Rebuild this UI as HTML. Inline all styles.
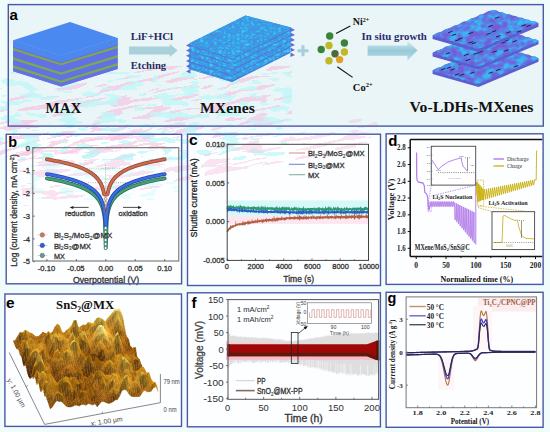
<!DOCTYPE html>
<html><head><meta charset="utf-8"><style>
html,body{margin:0;padding:0;background:#f0fbfb;width:550px;height:432px;overflow:hidden}
svg{display:block}
</style></head><body>
<svg width="550" height="432" viewBox="0 0 550 432">
<rect x="0" y="0" width="550" height="432" fill="#f0fbfb"/>
<rect x="8.3" y="4.6" width="535" height="121.5" fill="#e9f5f7"/>
<rect x="6.2" y="134.3" width="175.4" height="149.5" fill="#fdfeff"/>
<rect x="187.5" y="134.2" width="193" height="151.3" fill="#fdfeff"/>
<rect x="386.1" y="133.8" width="157" height="150.6" fill="#fdfeff"/>
<rect x="4.9" y="294" width="176.6" height="132.4" fill="#fdfeff"/>
<rect x="187.4" y="292.8" width="193" height="134" fill="#fdfeff"/>
<rect x="386.1" y="292.3" width="157" height="135" fill="#fdfeff"/>
<defs><filter id="wmP" x="0" y="0" width="1" height="1" color-interpolation-filters="sRGB"><feTurbulence type="fractalNoise" baseFrequency="0.03 0.22" numOctaves="2" seed="21" result="n"/><feColorMatrix in="n" type="matrix" values="0 0 0 0 0.97  0 0 0 0 0.76  0 0 0 0 0.88  1 0 0 0 0" result="c"/><feComponentTransfer in="c"><feFuncA type="discrete" tableValues="0 0 0 0 0.85 0.9 0.95"/></feComponentTransfer></filter><filter id="wmC" x="0" y="0" width="1" height="1" color-interpolation-filters="sRGB"><feTurbulence type="fractalNoise" baseFrequency="0.05 0.16" numOctaves="2" seed="4" result="n"/><feColorMatrix in="n" type="matrix" values="0 0 0 0 0.74  0 0 0 0 0.97  0 0 0 0 0.97  1 0 0 0 0" result="c"/><feComponentTransfer in="c"><feFuncA type="discrete" tableValues="0 0 0 0 0.8 0.85 0.9"/></feComponentTransfer></filter></defs>
<clipPath id="wmclip"><rect x="0" y="66" width="292" height="100"/></clipPath>
<g clip-path="url(#wmclip)"><g transform="rotate(-12 150 100)"><rect x="-20" y="70" width="340" height="80" fill="#fff" filter="url(#wmP)" opacity="0.75"/></g></g>
<rect x="0" y="72" width="292" height="88" fill="#fff" filter="url(#wmC)" opacity="0.9"/>
<text x="9.4" y="20" font-family='"Liberation Sans", sans-serif' font-size="15" font-weight="bold" fill="#000" text-anchor="start" >a</text>
<polygon points="13.2,40.3 70,22 117.6,38.1 61,55.5" fill="#4a8af0"/>
<polygon points="13.2,40.3 61,55.5 61,86.5 13.2,71.3" fill="#5a78ea"/>
<polygon points="61,55.5 117.6,38.1 117.6,69.1 61,86.5" fill="#5a78ea"/>
<polygon points="13.2,40.3 61,55.5 61,62.3 13.2,47.1" fill="#4c88ee"/>
<polygon points="61,55.5 117.6,38.1 117.6,44.9 61,62.3" fill="#4c88ee"/>
<polygon points="13.2,47.1 61,62.3 61,63.2 13.2,48" fill="#7a66dc"/>
<polygon points="61,62.3 117.6,44.9 117.6,45.8 61,63.2" fill="#7a66dc"/>
<polygon points="13.2,48 61,63.2 61,65.6 13.2,50.4" fill="#7aaa50"/>
<polygon points="61,63.2 117.6,45.8 117.6,48.2 61,65.6" fill="#7aaa50"/>
<polygon points="13.2,50.4 61,65.6 61,72.5 13.2,57.3" fill="#6272e6"/>
<polygon points="61,65.6 117.6,48.2 117.6,55.1 61,72.5" fill="#6272e6"/>
<polygon points="13.2,57.3 61,72.5 61,75.1 13.2,59.9" fill="#7aaa50"/>
<polygon points="61,72.5 117.6,55.1 117.6,57.7 61,75.1" fill="#7aaa50"/>
<polygon points="13.2,59.9 61,75.1 61,80.5 13.2,65.3" fill="#6470e6"/>
<polygon points="61,75.1 117.6,57.7 117.6,63.1 61,80.5" fill="#6470e6"/>
<polygon points="13.2,65.3 61,80.5 61,83.1 13.2,67.9" fill="#7aaa50"/>
<polygon points="61,80.5 117.6,63.1 117.6,65.7 61,83.1" fill="#7aaa50"/>
<polygon points="13.2,67.9 61,83.1 61,86.5 13.2,71.3" fill="#6670e4"/>
<polygon points="61,83.1 117.6,65.7 117.6,69.1 61,86.5" fill="#6670e4"/>
<text x="45.5" y="112.5" font-family='"Liberation Serif", serif' font-size="15" font-weight="bold" fill="#111" text-anchor="start"  textLength="35.9" lengthAdjust="spacingAndGlyphs">MAX</text>
<text x="130.8" y="39.8" font-family='"Liberation Serif", serif' font-size="11" font-weight="bold" fill="#2a2a62" text-anchor="start"  textLength="42.3" lengthAdjust="spacingAndGlyphs">LiF+HCl</text>
<polygon points="129,46.4 169.8,46.4 169.8,44.1 177.7,50.5 169.8,56.9 169.8,54.5 129,54.5" fill="#a9d1d9"/>
<text x="130.8" y="68.8" font-family='"Liberation Serif", serif' font-size="10.8" font-weight="bold" fill="#2a2a62" text-anchor="start"  textLength="35.3" lengthAdjust="spacingAndGlyphs">Etching</text>
<defs><filter id="mxt" x="0" y="0" width="1" height="1" color-interpolation-filters="sRGB"><feTurbulence type="turbulence" baseFrequency="0.22 0.3" numOctaves="2" seed="3" result="n"/><feColorMatrix in="n" type="matrix" values="1.6 0 0 0 0  1.6 0 0 0 0  1.6 0 0 0 0  0 0 0 0 1" result="g"/><feComponentTransfer in="g" result="c"><feFuncR type="table" tableValues="0.34 0.24 0.2 0.22 0.28"/><feFuncG type="table" tableValues="0.5 0.6 0.66 0.72 0.78"/><feFuncB type="table" tableValues="0.88 0.9 0.91 0.93 0.95"/></feComponentTransfer><feComposite in="c" in2="SourceGraphic" operator="in"/></filter><clipPath id="mxc"><polygon points="190,43 245.5,15.5 291,27.5 290,53 232,82 188.7,69"/></clipPath></defs>
<polygon points="190,43 245.5,15.5 291,27.5 290,53 232,82 188.7,69" fill="#3b8fe0"/>
<g clip-path="url(#mxc)"><rect x="185" y="12" width="110" height="72" fill="#fff" filter="url(#mxt)"/></g>
<polyline points="189.5,45.5 232,59 290.5,30" fill="none" stroke="#5a64d0" stroke-width="1" opacity="0.7"/>
<polyline points="189.5,51 232,64.5 290.5,35.5" fill="none" stroke="#5a64d0" stroke-width="1" opacity="0.7"/>
<polyline points="189.5,56.5 232,70 290.5,41" fill="none" stroke="#5a64d0" stroke-width="1" opacity="0.7"/>
<polyline points="189.5,62 232,75.5 290.5,46.5" fill="none" stroke="#5a64d0" stroke-width="1" opacity="0.7"/>
<polyline points="189.5,67.5 232,81 290.5,52" fill="none" stroke="#5a64d0" stroke-width="1" opacity="0.7"/>
<polygon points="190.5,43 186,45.4 190.5,47.6" fill="#5a70d8"/><polygon points="290.5,27.5 295,29.9 290.5,32.1" fill="#5a70d8"/><polygon points="190.5,48.2 186,50.6 190.5,52.8" fill="#5a70d8"/><polygon points="290.5,32.5 295,34.9 290.5,37.1" fill="#5a70d8"/><polygon points="190.5,53.4 186,55.8 190.5,58" fill="#5a70d8"/><polygon points="290.5,37.5 295,39.9 290.5,42.1" fill="#5a70d8"/><polygon points="190.5,58.6 186,61 190.5,63.2" fill="#5a70d8"/><polygon points="290.5,42.5 295,44.9 290.5,47.1" fill="#5a70d8"/><polygon points="190.5,63.8 186,66.2 190.5,68.4" fill="#5a70d8"/><polygon points="290.5,47.5 295,49.9 290.5,52.1" fill="#5a70d8"/><polygon points="190.5,69 186,71.4 190.5,73.6" fill="#5a70d8"/><polygon points="290.5,52.5 295,54.9 290.5,57.1" fill="#5a70d8"/>
<text x="200.1" y="113.3" font-family='"Liberation Serif", serif' font-size="15.6" font-weight="bold" fill="#111" text-anchor="start"  textLength="54.7" lengthAdjust="spacingAndGlyphs">MXenes</text>
<rect x="297.5" y="49.3" width="11" height="3" fill="#a6cedc"/><rect x="301.5" y="45.2" width="3" height="11" fill="#a6cedc"/>
<circle cx="329.7" cy="36" r="3.7" fill="#3a843a"/>
<circle cx="329" cy="45.5" r="3.7" fill="#c0b828"/>
<circle cx="344.4" cy="43" r="3.7" fill="#3a843a"/>
<circle cx="321.2" cy="49.5" r="3.7" fill="#3a843a"/>
<circle cx="335" cy="53.7" r="3.7" fill="#4a6a38"/>
<circle cx="344.4" cy="52" r="3.7" fill="#c0b828"/>
<circle cx="329" cy="60.8" r="3.7" fill="#c0b828"/>
<circle cx="339.6" cy="59.6" r="3.7" fill="#e0a028"/>
<line x1="336" y1="33.6" x2="350.3" y2="26" stroke="#111" stroke-width="1.1"/>
<line x1="337.3" y1="66.7" x2="352.6" y2="77.4" stroke="#111" stroke-width="1.1"/>
<text x="352.8" y="25.2" font-family='"Liberation Serif", serif' font-size="10" font-weight="bold" fill="#111" text-anchor="start" >Ni<tspan font-size="6" dy="-3.5">2+</tspan></text>
<text x="352.8" y="91" font-family='"Liberation Serif", serif' font-size="10.5" font-weight="bold" fill="#111" text-anchor="start" >Co<tspan font-size="6.5" dy="-4">2+</tspan></text>
<text x="361.5" y="40" font-family='"Liberation Serif", serif' font-size="10.8" font-weight="bold" fill="#2c2c70" text-anchor="start"  textLength="65.4" lengthAdjust="spacingAndGlyphs">In situ growth</text>
<defs><linearGradient id="ag" x1="0" y1="0" x2="0" y2="1"><stop offset="0" stop-color="#d4ecf0"/><stop offset="0.5" stop-color="#96cad8"/><stop offset="1" stop-color="#b8dce4"/></linearGradient></defs>
<polygon points="367.6,45.5 407.4,45.5 407.4,41 417.6,50.2 407.4,60.4 407.4,55.7 367.6,55.7" fill="url(#ag)"/>
<defs><filter id="ldt" x="0" y="0" width="1" height="1" color-interpolation-filters="sRGB"><feTurbulence type="fractalNoise" baseFrequency="0.12 0.16" numOctaves="2" seed="9" result="n"/><feColorMatrix in="n" type="matrix" values="2.4 0 0 0 -0.7  2.4 0 0 0 -0.7  2.4 0 0 0 -0.7  0 0 0 0 1" result="g"/><feComponentTransfer in="g" result="c"><feFuncR type="table" tableValues="0.46 0.42 0.36 0.28 0.24"/><feFuncG type="table" tableValues="0.36 0.42 0.5 0.62 0.72"/><feFuncB type="table" tableValues="0.84 0.87 0.9 0.93 0.95"/></feComponentTransfer><feComposite in="c" in2="SourceGraphic" operator="in"/></filter></defs>
<polygon points="432.6,70.5 492.6,45.2 538.5,58.3 538.5,61.7 478.5,87 432.6,73.9" fill="#5a5ed0"/>
<clipPath id="ldc0"><polygon points="432.6,70.5 436.89,67.89 441.17,66.89 445.46,64.28 449.74,63.27 454.03,60.66 458.31,59.66 462.6,57.05 466.89,56.04 471.17,53.44 475.46,52.43 479.74,49.82 484.03,48.81 488.31,46.21 492.6,45.2 495.88,45.34 499.16,47.07 502.44,47.21 505.71,48.94 508.99,49.08 512.27,50.81 515.55,50.95 518.83,52.69 522.11,52.82 525.39,54.56 528.66,54.69 531.94,56.43 535.22,56.56 538.5,58.3 534.21,60.91 529.93,61.91 525.64,64.52 521.36,65.53 517.07,68.14 512.79,69.14 508.5,71.75 504.21,72.76 499.93,75.36 495.64,76.37 491.36,78.98 487.07,79.99 482.79,82.59 478.5,83.6 475.22,83.46 471.94,81.73 468.66,81.59 465.39,79.86 462.11,79.72 458.83,77.99 455.55,77.85 452.27,76.11 448.99,75.98 445.71,74.24 442.44,74.11 439.16,72.37 435.88,72.24"/></clipPath>
<polygon points="432.6,70.5 436.89,67.89 441.17,66.89 445.46,64.28 449.74,63.27 454.03,60.66 458.31,59.66 462.6,57.05 466.89,56.04 471.17,53.44 475.46,52.43 479.74,49.82 484.03,48.81 488.31,46.21 492.6,45.2 495.88,45.34 499.16,47.07 502.44,47.21 505.71,48.94 508.99,49.08 512.27,50.81 515.55,50.95 518.83,52.69 522.11,52.82 525.39,54.56 528.66,54.69 531.94,56.43 535.22,56.56 538.5,58.3 534.21,60.91 529.93,61.91 525.64,64.52 521.36,65.53 517.07,68.14 512.79,69.14 508.5,71.75 504.21,72.76 499.93,75.36 495.64,76.37 491.36,78.98 487.07,79.99 482.79,82.59 478.5,83.6 475.22,83.46 471.94,81.73 468.66,81.59 465.39,79.86 462.11,79.72 458.83,77.99 455.55,77.85 452.27,76.11 448.99,75.98 445.71,74.24 442.44,74.11 439.16,72.37 435.88,72.24" fill="#5a7ae0"/>
<g clip-path="url(#ldc0)"><rect x="430" y="43" width="112" height="44" fill="#fff" filter="url(#ldt)"/></g>
<line x1="458.95" y1="64.28" x2="463.45" y2="62.78" stroke="#1a2050" stroke-width="1"/>
<line x1="474.98" y1="54.98" x2="479.48" y2="53.48" stroke="#1a2050" stroke-width="1"/>
<line x1="481.54" y1="61.73" x2="486.04" y2="60.23" stroke="#1a2050" stroke-width="1"/>
<line x1="459.37" y1="75.68" x2="463.87" y2="74.18" stroke="#1a2050" stroke-width="1"/>
<line x1="454.75" y1="75.23" x2="459.25" y2="73.73" stroke="#1a2050" stroke-width="1"/>
<line x1="440.96" y1="69.92" x2="445.46" y2="68.42" stroke="#1a2050" stroke-width="1"/>
<line x1="496.02" y1="70.59" x2="500.52" y2="69.09" stroke="#1a2050" stroke-width="1"/>
<line x1="450.27" y1="70.29" x2="454.77" y2="68.79" stroke="#1a2050" stroke-width="1"/>
<line x1="513.75" y1="67.04" x2="518.25" y2="65.54" stroke="#1a2050" stroke-width="1"/>
<line x1="485.43" y1="61.1" x2="489.93" y2="59.6" stroke="#1a2050" stroke-width="1"/>
<line x1="493.31" y1="46.41" x2="497.81" y2="44.91" stroke="#1a2050" stroke-width="1"/>
<line x1="497.4" y1="52.57" x2="501.9" y2="51.07" stroke="#1a2050" stroke-width="1"/>
<line x1="446.66" y1="68.39" x2="451.16" y2="66.89" stroke="#1a2050" stroke-width="1"/>
<line x1="488.57" y1="73.39" x2="493.07" y2="71.89" stroke="#1a2050" stroke-width="1"/>
<line x1="470.14" y1="73.55" x2="474.64" y2="72.05" stroke="#1a2050" stroke-width="1"/>
<line x1="488.03" y1="59.21" x2="492.53" y2="57.71" stroke="#1a2050" stroke-width="1"/>
<polygon points="432.6,53 492.6,27.7 538.5,40.8 538.5,44.2 478.5,69.5 432.6,56.4" fill="#5a5ed0"/>
<clipPath id="ldc1"><polygon points="432.6,53 436.89,50.39 441.17,49.39 445.46,46.78 449.74,45.77 454.03,43.16 458.31,42.16 462.6,39.55 466.89,38.54 471.17,35.94 475.46,34.93 479.74,32.32 484.03,31.31 488.31,28.71 492.6,27.7 495.88,27.84 499.16,29.57 502.44,29.71 505.71,31.44 508.99,31.58 512.27,33.31 515.55,33.45 518.83,35.19 522.11,35.32 525.39,37.06 528.66,37.19 531.94,38.93 535.22,39.06 538.5,40.8 534.21,43.41 529.93,44.41 525.64,47.02 521.36,48.03 517.07,50.64 512.79,51.64 508.5,54.25 504.21,55.26 499.93,57.86 495.64,58.87 491.36,61.48 487.07,62.49 482.79,65.09 478.5,66.1 475.22,65.96 471.94,64.23 468.66,64.09 465.39,62.36 462.11,62.22 458.83,60.49 455.55,60.35 452.27,58.61 448.99,58.48 445.71,56.74 442.44,56.61 439.16,54.87 435.88,54.74"/></clipPath>
<polygon points="432.6,53 436.89,50.39 441.17,49.39 445.46,46.78 449.74,45.77 454.03,43.16 458.31,42.16 462.6,39.55 466.89,38.54 471.17,35.94 475.46,34.93 479.74,32.32 484.03,31.31 488.31,28.71 492.6,27.7 495.88,27.84 499.16,29.57 502.44,29.71 505.71,31.44 508.99,31.58 512.27,33.31 515.55,33.45 518.83,35.19 522.11,35.32 525.39,37.06 528.66,37.19 531.94,38.93 535.22,39.06 538.5,40.8 534.21,43.41 529.93,44.41 525.64,47.02 521.36,48.03 517.07,50.64 512.79,51.64 508.5,54.25 504.21,55.26 499.93,57.86 495.64,58.87 491.36,61.48 487.07,62.49 482.79,65.09 478.5,66.1 475.22,65.96 471.94,64.23 468.66,64.09 465.39,62.36 462.11,62.22 458.83,60.49 455.55,60.35 452.27,58.61 448.99,58.48 445.71,56.74 442.44,56.61 439.16,54.87 435.88,54.74" fill="#5a7ae0"/>
<g clip-path="url(#ldc1)"><rect x="430" y="25.5" width="112" height="44" fill="#fff" filter="url(#ldt)"/></g>
<line x1="468.35" y1="39.96" x2="472.85" y2="38.46" stroke="#1a2050" stroke-width="1"/>
<line x1="445.63" y1="54.19" x2="450.13" y2="52.69" stroke="#1a2050" stroke-width="1"/>
<line x1="493.05" y1="41.39" x2="497.55" y2="39.89" stroke="#1a2050" stroke-width="1"/>
<line x1="478.33" y1="52.72" x2="482.83" y2="51.22" stroke="#1a2050" stroke-width="1"/>
<line x1="473.55" y1="45.46" x2="478.05" y2="43.96" stroke="#1a2050" stroke-width="1"/>
<line x1="512.35" y1="42.06" x2="516.85" y2="40.56" stroke="#1a2050" stroke-width="1"/>
<line x1="473.61" y1="54.35" x2="478.11" y2="52.85" stroke="#1a2050" stroke-width="1"/>
<line x1="504.28" y1="51.18" x2="508.78" y2="49.68" stroke="#1a2050" stroke-width="1"/>
<line x1="489.58" y1="38.32" x2="494.08" y2="36.82" stroke="#1a2050" stroke-width="1"/>
<line x1="496.83" y1="29.75" x2="501.33" y2="28.25" stroke="#1a2050" stroke-width="1"/>
<line x1="492.44" y1="52.34" x2="496.94" y2="50.84" stroke="#1a2050" stroke-width="1"/>
<line x1="464.16" y1="55.56" x2="468.66" y2="54.06" stroke="#1a2050" stroke-width="1"/>
<line x1="465.62" y1="60.76" x2="470.12" y2="59.26" stroke="#1a2050" stroke-width="1"/>
<line x1="504.78" y1="41.16" x2="509.28" y2="39.66" stroke="#1a2050" stroke-width="1"/>
<line x1="499.53" y1="34.96" x2="504.03" y2="33.46" stroke="#1a2050" stroke-width="1"/>
<line x1="501.6" y1="43.2" x2="506.1" y2="41.7" stroke="#1a2050" stroke-width="1"/>
<polygon points="432.6,35.5 492.6,10.2 538.5,23.3 538.5,26.7 478.5,52 432.6,38.9" fill="#5a5ed0"/>
<clipPath id="ldc2"><polygon points="432.6,35.5 436.89,32.89 441.17,31.89 445.46,29.28 449.74,28.27 454.03,25.66 458.31,24.66 462.6,22.05 466.89,21.04 471.17,18.44 475.46,17.43 479.74,14.82 484.03,13.81 488.31,11.21 492.6,10.2 495.88,10.34 499.16,12.07 502.44,12.21 505.71,13.94 508.99,14.08 512.27,15.81 515.55,15.95 518.83,17.69 522.11,17.82 525.39,19.56 528.66,19.69 531.94,21.43 535.22,21.56 538.5,23.3 534.21,25.91 529.93,26.91 525.64,29.52 521.36,30.53 517.07,33.14 512.79,34.14 508.5,36.75 504.21,37.76 499.93,40.36 495.64,41.37 491.36,43.98 487.07,44.99 482.79,47.59 478.5,48.6 475.22,48.46 471.94,46.73 468.66,46.59 465.39,44.86 462.11,44.72 458.83,42.99 455.55,42.85 452.27,41.11 448.99,40.98 445.71,39.24 442.44,39.11 439.16,37.37 435.88,37.24"/></clipPath>
<polygon points="432.6,35.5 436.89,32.89 441.17,31.89 445.46,29.28 449.74,28.27 454.03,25.66 458.31,24.66 462.6,22.05 466.89,21.04 471.17,18.44 475.46,17.43 479.74,14.82 484.03,13.81 488.31,11.21 492.6,10.2 495.88,10.34 499.16,12.07 502.44,12.21 505.71,13.94 508.99,14.08 512.27,15.81 515.55,15.95 518.83,17.69 522.11,17.82 525.39,19.56 528.66,19.69 531.94,21.43 535.22,21.56 538.5,23.3 534.21,25.91 529.93,26.91 525.64,29.52 521.36,30.53 517.07,33.14 512.79,34.14 508.5,36.75 504.21,37.76 499.93,40.36 495.64,41.37 491.36,43.98 487.07,44.99 482.79,47.59 478.5,48.6 475.22,48.46 471.94,46.73 468.66,46.59 465.39,44.86 462.11,44.72 458.83,42.99 455.55,42.85 452.27,41.11 448.99,40.98 445.71,39.24 442.44,39.11 439.16,37.37 435.88,37.24" fill="#5a7ae0"/>
<g clip-path="url(#ldc2)"><rect x="430" y="8" width="112" height="44" fill="#fff" filter="url(#ldt)"/></g>
<line x1="488.33" y1="26.8" x2="492.83" y2="25.3" stroke="#1a2050" stroke-width="1"/>
<line x1="526.36" y1="26.62" x2="530.86" y2="25.12" stroke="#1a2050" stroke-width="1"/>
<line x1="491.53" y1="32.21" x2="496.03" y2="30.71" stroke="#1a2050" stroke-width="1"/>
<line x1="468.44" y1="43.15" x2="472.94" y2="41.65" stroke="#1a2050" stroke-width="1"/>
<line x1="517.01" y1="32.14" x2="521.51" y2="30.64" stroke="#1a2050" stroke-width="1"/>
<line x1="494.98" y1="18.43" x2="499.48" y2="16.93" stroke="#1a2050" stroke-width="1"/>
<line x1="486.44" y1="34.5" x2="490.94" y2="33" stroke="#1a2050" stroke-width="1"/>
<line x1="455.15" y1="40.98" x2="459.65" y2="39.48" stroke="#1a2050" stroke-width="1"/>
<line x1="448.06" y1="32.78" x2="452.56" y2="31.28" stroke="#1a2050" stroke-width="1"/>
<line x1="471.4" y1="44.07" x2="475.9" y2="42.57" stroke="#1a2050" stroke-width="1"/>
<line x1="451.73" y1="35.47" x2="456.23" y2="33.97" stroke="#1a2050" stroke-width="1"/>
<line x1="496.06" y1="37.02" x2="500.56" y2="35.52" stroke="#1a2050" stroke-width="1"/>
<line x1="458.05" y1="39.35" x2="462.55" y2="37.85" stroke="#1a2050" stroke-width="1"/>
<line x1="506.11" y1="33.17" x2="510.61" y2="31.67" stroke="#1a2050" stroke-width="1"/>
<line x1="521.41" y1="26.09" x2="525.91" y2="24.59" stroke="#1a2050" stroke-width="1"/>
<line x1="468.37" y1="33.9" x2="472.87" y2="32.4" stroke="#1a2050" stroke-width="1"/>
<text x="409.6" y="111.5" font-family='"Liberation Serif", serif' font-size="15.6" font-weight="bold" fill="#111" text-anchor="start"  textLength="123.9" lengthAdjust="spacingAndGlyphs">Vo-LDHs-MXenes</text>
<text x="8.2" y="147.1" font-family='"Liberation Sans", sans-serif' font-size="14.5" font-weight="bold" fill="#000" text-anchor="start" >b</text>
<g transform="rotate(-8 100 170)"><rect x="20" y="135" width="170" height="60" fill="#fff" filter="url(#wmP)" opacity="0.55"/></g><rect x="30" y="150" width="150" height="50" fill="#fff" filter="url(#wmC)" opacity="0.45"/>
<line x1="86.7" y1="168.2" x2="135" y2="168.2" stroke="#40a060" stroke-width="0.6" stroke-dasharray="0.9,1.4"/>
<line x1="88.2" y1="182.7" x2="130" y2="182.7" stroke="#d05040" stroke-width="0.6" stroke-dasharray="0.9,1.4"/>
<line x1="105.6" y1="165" x2="105.6" y2="250" stroke="#40a060" stroke-width="0.6" stroke-dasharray="0.9,1.4"/>
<path d="M46.9 178.39 L48.08 178.59 L49.26 178.8 L50.43 179.01 L51.61 179.23 L52.79 179.46 L53.97 179.69 L55.15 179.92 L56.32 180.16 L57.5 180.4 L58.68 180.66 L59.86 180.91 L61.04 181.18 L62.21 181.45 L63.39 181.73 L64.57 182.01 L65.75 182.31 L66.93 182.61 L68.1 182.93 L69.28 183.25 L70.46 183.58 L71.64 183.93 L72.82 184.29 L73.99 184.66 L75.17 185.04 L76.35 185.44 L77.53 185.85 L78.71 186.29 L79.88 186.74 L81.06 187.21 L82.24 187.71 L83.42 188.23 L84.6 188.78 L85.77 189.36 L86.95 189.98 L88.13 190.64 L89.31 191.34 L90.49 192.09 L91.66 192.91 L92.84 193.79 L94.02 194.76 L95.2 195.84 L96.38 197.03 L97.55 198.39 L98.73 199.96 L99.91 201.82 L101.09 204.09 L102.27 207.02 L103.44 211.14 L104.03 214.07 L104.62 218.2 L104.92 221.12 L105.8 248 L106.68 221.12 L106.98 218.2 L107.57 214.07 L108.16 211.14 L109.33 207.02 L110.51 204.09 L111.69 201.82 L112.87 199.96 L114.05 198.39 L115.22 197.03 L116.4 195.84 L117.58 194.76 L118.76 193.79 L119.94 192.91 L121.11 192.09 L122.29 191.34 L123.47 190.64 L124.65 189.98 L125.83 189.36 L127 188.78 L128.18 188.23 L129.36 187.71 L130.54 187.21 L131.72 186.74 L132.89 186.29 L134.07 185.85 L135.25 185.44 L136.43 185.04 L137.61 184.66 L138.78 184.29 L139.96 183.93 L141.14 183.58 L142.32 183.25 L143.5 182.93 L144.67 182.61 L145.85 182.31 L147.03 182.01 L148.21 181.73 L149.39 181.45 L150.56 181.18 L151.74 180.91 L152.92 180.66 L154.1 180.4 L155.28 180.16 L156.45 179.92 L157.63 179.69 L158.81 179.46 L159.99 179.23 L161.17 179.01 L162.34 178.8 L163.52 178.59 L164.7 178.39" fill="none" stroke="#2a6e52" stroke-width="3.8" stroke-linejoin="round" stroke-linecap="round"/>
<path d="M46.9 178.39 L48.08 178.59 L49.26 178.8 L50.43 179.01 L51.61 179.23 L52.79 179.46 L53.97 179.69 L55.15 179.92 L56.32 180.16 L57.5 180.4 L58.68 180.66 L59.86 180.91 L61.04 181.18 L62.21 181.45 L63.39 181.73 L64.57 182.01 L65.75 182.31 L66.93 182.61 L68.1 182.93 L69.28 183.25 L70.46 183.58 L71.64 183.93 L72.82 184.29 L73.99 184.66 L75.17 185.04 L76.35 185.44 L77.53 185.85 L78.71 186.29 L79.88 186.74 L81.06 187.21 L82.24 187.71 L83.42 188.23 L84.6 188.78 L85.77 189.36 L86.95 189.98 L88.13 190.64 L89.31 191.34 L90.49 192.09 L91.66 192.91 L92.84 193.79 L94.02 194.76 L95.2 195.84 L96.38 197.03 L97.55 198.39 L98.73 199.96 L99.91 201.82 L101.09 204.09 L102.27 207.02 L103.44 211.14 L104.03 214.07 L104.62 218.2 L104.92 221.12 L105.8 248 L106.68 221.12 L106.98 218.2 L107.57 214.07 L108.16 211.14 L109.33 207.02 L110.51 204.09 L111.69 201.82 L112.87 199.96 L114.05 198.39 L115.22 197.03 L116.4 195.84 L117.58 194.76 L118.76 193.79 L119.94 192.91 L121.11 192.09 L122.29 191.34 L123.47 190.64 L124.65 189.98 L125.83 189.36 L127 188.78 L128.18 188.23 L129.36 187.71 L130.54 187.21 L131.72 186.74 L132.89 186.29 L134.07 185.85 L135.25 185.44 L136.43 185.04 L137.61 184.66 L138.78 184.29 L139.96 183.93 L141.14 183.58 L142.32 183.25 L143.5 182.93 L144.67 182.61 L145.85 182.31 L147.03 182.01 L148.21 181.73 L149.39 181.45 L150.56 181.18 L151.74 180.91 L152.92 180.66 L154.1 180.4 L155.28 180.16 L156.45 179.92 L157.63 179.69 L158.81 179.46 L159.99 179.23 L161.17 179.01 L162.34 178.8 L163.52 178.59 L164.7 178.39" fill="none" stroke="#46a07a" stroke-width="2.2" stroke-linejoin="round" stroke-linecap="round"/>
<path d="M46.9 174.06 L48.08 174.27 L49.26 174.48 L50.43 174.69 L51.61 174.91 L52.79 175.13 L53.97 175.36 L55.15 175.6 L56.32 175.84 L57.5 176.08 L58.68 176.33 L59.86 176.59 L61.04 176.86 L62.21 177.13 L63.39 177.41 L64.57 177.69 L65.75 177.99 L66.93 178.29 L68.1 178.6 L69.28 178.93 L70.46 179.26 L71.64 179.61 L72.82 179.96 L73.99 180.33 L75.17 180.72 L76.35 181.12 L77.53 181.53 L78.71 181.96 L79.88 182.42 L81.06 182.89 L82.24 183.39 L83.42 183.91 L84.6 184.46 L85.77 185.04 L86.95 185.66 L88.13 186.31 L89.31 187.02 L90.49 187.77 L91.66 188.59 L92.84 189.47 L94.02 190.44 L95.2 191.51 L96.38 192.71 L97.55 194.07 L98.73 195.64 L99.91 197.5 L101.09 199.77 L102.27 202.69 L103.44 206.82 L104.03 209.75 L104.62 213.87 L104.92 216.8 L105.8 226.39 L106.68 216.8 L106.98 213.87 L107.57 209.75 L108.16 206.82 L109.33 202.69 L110.51 199.77 L111.69 197.5 L112.87 195.64 L114.05 194.07 L115.22 192.71 L116.4 191.51 L117.58 190.44 L118.76 189.47 L119.94 188.59 L121.11 187.77 L122.29 187.02 L123.47 186.31 L124.65 185.66 L125.83 185.04 L127 184.46 L128.18 183.91 L129.36 183.39 L130.54 182.89 L131.72 182.42 L132.89 181.96 L134.07 181.53 L135.25 181.12 L136.43 180.72 L137.61 180.33 L138.78 179.96 L139.96 179.61 L141.14 179.26 L142.32 178.93 L143.5 178.6 L144.67 178.29 L145.85 177.99 L147.03 177.69 L148.21 177.41 L149.39 177.13 L150.56 176.86 L151.74 176.59 L152.92 176.33 L154.1 176.08 L155.28 175.84 L156.45 175.6 L157.63 175.36 L158.81 175.13 L159.99 174.91 L161.17 174.69 L162.34 174.48 L163.52 174.27 L164.7 174.06" fill="none" stroke="#2446a8" stroke-width="3.8" stroke-linejoin="round" stroke-linecap="round"/>
<path d="M46.9 174.06 L48.08 174.27 L49.26 174.48 L50.43 174.69 L51.61 174.91 L52.79 175.13 L53.97 175.36 L55.15 175.6 L56.32 175.84 L57.5 176.08 L58.68 176.33 L59.86 176.59 L61.04 176.86 L62.21 177.13 L63.39 177.41 L64.57 177.69 L65.75 177.99 L66.93 178.29 L68.1 178.6 L69.28 178.93 L70.46 179.26 L71.64 179.61 L72.82 179.96 L73.99 180.33 L75.17 180.72 L76.35 181.12 L77.53 181.53 L78.71 181.96 L79.88 182.42 L81.06 182.89 L82.24 183.39 L83.42 183.91 L84.6 184.46 L85.77 185.04 L86.95 185.66 L88.13 186.31 L89.31 187.02 L90.49 187.77 L91.66 188.59 L92.84 189.47 L94.02 190.44 L95.2 191.51 L96.38 192.71 L97.55 194.07 L98.73 195.64 L99.91 197.5 L101.09 199.77 L102.27 202.69 L103.44 206.82 L104.03 209.75 L104.62 213.87 L104.92 216.8 L105.8 226.39 L106.68 216.8 L106.98 213.87 L107.57 209.75 L108.16 206.82 L109.33 202.69 L110.51 199.77 L111.69 197.5 L112.87 195.64 L114.05 194.07 L115.22 192.71 L116.4 191.51 L117.58 190.44 L118.76 189.47 L119.94 188.59 L121.11 187.77 L122.29 187.02 L123.47 186.31 L124.65 185.66 L125.83 185.04 L127 184.46 L128.18 183.91 L129.36 183.39 L130.54 182.89 L131.72 182.42 L132.89 181.96 L134.07 181.53 L135.25 181.12 L136.43 180.72 L137.61 180.33 L138.78 179.96 L139.96 179.61 L141.14 179.26 L142.32 178.93 L143.5 178.6 L144.67 178.29 L145.85 177.99 L147.03 177.69 L148.21 177.41 L149.39 177.13 L150.56 176.86 L151.74 176.59 L152.92 176.33 L154.1 176.08 L155.28 175.84 L156.45 175.6 L157.63 175.36 L158.81 175.13 L159.99 174.91 L161.17 174.69 L162.34 174.48 L163.52 174.27 L164.7 174.06" fill="none" stroke="#3a6ee6" stroke-width="2.2" stroke-linejoin="round" stroke-linecap="round"/>
<path d="M46.9 159.28 L48.08 159.47 L49.26 159.68 L50.43 159.89 L51.61 160.1 L52.79 160.32 L53.97 160.54 L55.15 160.77 L56.32 161 L57.5 161.24 L58.68 161.48 L59.86 161.73 L61.04 161.99 L62.21 162.25 L63.39 162.52 L64.57 162.8 L65.75 163.09 L66.93 163.38 L68.1 163.68 L69.28 164 L70.46 164.32 L71.64 164.66 L72.82 165 L73.99 165.36 L75.17 165.74 L76.35 166.12 L77.53 166.53 L78.71 166.95 L79.88 167.39 L81.06 167.85 L82.24 168.33 L83.42 168.83 L84.6 169.37 L85.77 169.93 L86.95 170.53 L88.13 171.17 L89.31 171.85 L90.49 172.58 L91.66 173.38 L92.84 174.23 L94.02 175.18 L95.2 176.22 L96.38 177.38 L97.55 178.7 L98.73 180.22 L99.91 182.03 L101.09 184.23 L102.27 187.07 L103.44 191.08 L104.03 193.92 L104.62 194.54 L104.92 194.54 L105.8 194.54 L106.68 194.54 L106.98 194.54 L107.57 193.92 L108.16 191.08 L109.33 187.07 L110.51 184.23 L111.69 182.03 L112.87 180.22 L114.05 178.7 L115.22 177.38 L116.4 176.22 L117.58 175.18 L118.76 174.23 L119.94 173.38 L121.11 172.58 L122.29 171.85 L123.47 171.17 L124.65 170.53 L125.83 169.93 L127 169.37 L128.18 168.83 L129.36 168.33 L130.54 167.85 L131.72 167.39 L132.89 166.95 L134.07 166.53 L135.25 166.12 L136.43 165.74 L137.61 165.36 L138.78 165 L139.96 164.66 L141.14 164.32 L142.32 164 L143.5 163.68 L144.67 163.38 L145.85 163.09 L147.03 162.8 L148.21 162.52 L149.39 162.25 L150.56 161.99 L151.74 161.73 L152.92 161.48 L154.1 161.24 L155.28 161 L156.45 160.77 L157.63 160.54 L158.81 160.32 L159.99 160.1 L161.17 159.89 L162.34 159.68 L163.52 159.47 L164.7 159.28" fill="none" stroke="#9a4634" stroke-width="3.8" stroke-linejoin="round" stroke-linecap="round"/>
<path d="M46.9 159.28 L48.08 159.47 L49.26 159.68 L50.43 159.89 L51.61 160.1 L52.79 160.32 L53.97 160.54 L55.15 160.77 L56.32 161 L57.5 161.24 L58.68 161.48 L59.86 161.73 L61.04 161.99 L62.21 162.25 L63.39 162.52 L64.57 162.8 L65.75 163.09 L66.93 163.38 L68.1 163.68 L69.28 164 L70.46 164.32 L71.64 164.66 L72.82 165 L73.99 165.36 L75.17 165.74 L76.35 166.12 L77.53 166.53 L78.71 166.95 L79.88 167.39 L81.06 167.85 L82.24 168.33 L83.42 168.83 L84.6 169.37 L85.77 169.93 L86.95 170.53 L88.13 171.17 L89.31 171.85 L90.49 172.58 L91.66 173.38 L92.84 174.23 L94.02 175.18 L95.2 176.22 L96.38 177.38 L97.55 178.7 L98.73 180.22 L99.91 182.03 L101.09 184.23 L102.27 187.07 L103.44 191.08 L104.03 193.92 L104.62 194.54 L104.92 194.54 L105.8 194.54 L106.68 194.54 L106.98 194.54 L107.57 193.92 L108.16 191.08 L109.33 187.07 L110.51 184.23 L111.69 182.03 L112.87 180.22 L114.05 178.7 L115.22 177.38 L116.4 176.22 L117.58 175.18 L118.76 174.23 L119.94 173.38 L121.11 172.58 L122.29 171.85 L123.47 171.17 L124.65 170.53 L125.83 169.93 L127 169.37 L128.18 168.83 L129.36 168.33 L130.54 167.85 L131.72 167.39 L132.89 166.95 L134.07 166.53 L135.25 166.12 L136.43 165.74 L137.61 165.36 L138.78 165 L139.96 164.66 L141.14 164.32 L142.32 164 L143.5 163.68 L144.67 163.38 L145.85 163.09 L147.03 162.8 L148.21 162.52 L149.39 162.25 L150.56 161.99 L151.74 161.73 L152.92 161.48 L154.1 161.24 L155.28 161 L156.45 160.77 L157.63 160.54 L158.81 160.32 L159.99 160.1 L161.17 159.89 L162.34 159.68 L163.52 159.47 L164.7 159.28" fill="none" stroke="#cc6c50" stroke-width="2.2" stroke-linejoin="round" stroke-linecap="round"/>
<circle cx="105.6" cy="228" r="1.5" fill="#fff" stroke="#3a7a6a" stroke-width="0.7"/>
<circle cx="105.6" cy="232" r="1.5" fill="#fff" stroke="#3a7a6a" stroke-width="0.7"/>
<circle cx="105.6" cy="236" r="1.5" fill="#fff" stroke="#3a7a6a" stroke-width="0.7"/>
<circle cx="105.6" cy="240" r="1.5" fill="#fff" stroke="#3a7a6a" stroke-width="0.7"/>
<circle cx="105.6" cy="244" r="1.5" fill="#fff" stroke="#3a7a6a" stroke-width="0.7"/>
<circle cx="105.6" cy="248" r="1.5" fill="#fff" stroke="#3a7a6a" stroke-width="0.7"/>
<circle cx="105.6" cy="199" r="1.5" fill="none" stroke="#b86a50" stroke-width="0.7"/>
<circle cx="105.6" cy="203" r="1.5" fill="none" stroke="#b86a50" stroke-width="0.7"/>
<circle cx="105.6" cy="207" r="1.5" fill="none" stroke="#b86a50" stroke-width="0.7"/>
<circle cx="105.6" cy="211" r="1.5" fill="none" stroke="#b86a50" stroke-width="0.7"/>
<rect x="32.8" y="147.7" width="146" height="113.3" fill="none" stroke="#666" stroke-width="1"/>
<line x1="32.8" y1="147.9" x2="34.8" y2="147.9" stroke="#555" stroke-width="0.8"/>
<text x="30" y="150.6" font-family='"Liberation Sans", sans-serif' font-size="7.6" font-weight="normal" fill="#333" text-anchor="end"  stroke="#333" stroke-width="0.3">0</text>
<line x1="32.8" y1="170.65" x2="34.8" y2="170.65" stroke="#555" stroke-width="0.8"/>
<text x="30" y="173.35" font-family='"Liberation Sans", sans-serif' font-size="7.6" font-weight="normal" fill="#333" text-anchor="end"  stroke="#333" stroke-width="0.3">-1</text>
<line x1="32.8" y1="193.4" x2="34.8" y2="193.4" stroke="#555" stroke-width="0.8"/>
<text x="30" y="196.1" font-family='"Liberation Sans", sans-serif' font-size="7.6" font-weight="normal" fill="#333" text-anchor="end"  stroke="#333" stroke-width="0.3">-2</text>
<line x1="32.8" y1="216.15" x2="34.8" y2="216.15" stroke="#555" stroke-width="0.8"/>
<text x="30" y="218.85" font-family='"Liberation Sans", sans-serif' font-size="7.6" font-weight="normal" fill="#333" text-anchor="end"  stroke="#333" stroke-width="0.3">-3</text>
<line x1="32.8" y1="238.9" x2="34.8" y2="238.9" stroke="#555" stroke-width="0.8"/>
<text x="30" y="241.6" font-family='"Liberation Sans", sans-serif' font-size="7.6" font-weight="normal" fill="#333" text-anchor="end"  stroke="#333" stroke-width="0.3">-4</text>
<line x1="32.8" y1="261.65" x2="34.8" y2="261.65" stroke="#555" stroke-width="0.8"/>
<text x="30" y="264.35" font-family='"Liberation Sans", sans-serif' font-size="7.6" font-weight="normal" fill="#333" text-anchor="end"  stroke="#333" stroke-width="0.3">-5</text>
<line x1="46.9" y1="261" x2="46.9" y2="259" stroke="#555" stroke-width="0.8"/>
<text x="46.5" y="270.5" font-family='"Liberation Sans", sans-serif' font-size="7.6" font-weight="normal" fill="#333" text-anchor="middle"  stroke="#333" stroke-width="0.3">-0.10</text>
<line x1="76.35" y1="261" x2="76.35" y2="259" stroke="#555" stroke-width="0.8"/>
<text x="75.95" y="270.5" font-family='"Liberation Sans", sans-serif' font-size="7.6" font-weight="normal" fill="#333" text-anchor="middle"  stroke="#333" stroke-width="0.3">-0.05</text>
<line x1="105.8" y1="261" x2="105.8" y2="259" stroke="#555" stroke-width="0.8"/>
<text x="105.8" y="270.5" font-family='"Liberation Sans", sans-serif' font-size="7.6" font-weight="normal" fill="#333" text-anchor="middle"  stroke="#333" stroke-width="0.3">0.00</text>
<line x1="135.25" y1="261" x2="135.25" y2="259" stroke="#555" stroke-width="0.8"/>
<text x="135.25" y="270.5" font-family='"Liberation Sans", sans-serif' font-size="7.6" font-weight="normal" fill="#333" text-anchor="middle"  stroke="#333" stroke-width="0.3">0.05</text>
<line x1="164.7" y1="261" x2="164.7" y2="259" stroke="#555" stroke-width="0.8"/>
<text x="164.7" y="270.5" font-family='"Liberation Sans", sans-serif' font-size="7.6" font-weight="normal" fill="#333" text-anchor="middle"  stroke="#333" stroke-width="0.3">0.10</text>
<text x="72.9" y="283.3" font-family='"Liberation Sans", sans-serif' font-size="8.8" font-weight="normal" fill="#333" text-anchor="start"  textLength="66.4" lengthAdjust="spacingAndGlyphs" stroke="#333" stroke-width="0.3">Overpotential (V)</text>
<text transform="translate(16.5,210.5) rotate(-90)" font-family='"Liberation Sans", sans-serif' font-size="8.6" fill="#333" stroke="#333" stroke-width="0.3" text-anchor="middle" textLength="112.5" lengthAdjust="spacingAndGlyphs">Log (current density, mA cm<tspan font-size="5.6" dy="-3">-2</tspan><tspan dy="3">)</tspan></text>
<line x1="71" y1="207.4" x2="88.6" y2="207.4" stroke="#222" stroke-width="0.8"/><polygon points="69.6,207.4 73.4,205.9 73.4,208.9" fill="#222"/>
<text x="64.9" y="216.4" font-family='"Liberation Sans", sans-serif' font-size="7.4" font-weight="normal" fill="#333" text-anchor="start"  textLength="29.8" lengthAdjust="spacingAndGlyphs" stroke="#333" stroke-width="0.3">reduction</text>
<line x1="123" y1="207.4" x2="140.4" y2="207.4" stroke="#222" stroke-width="0.8"/><polygon points="141.8,207.4 138,205.9 138,208.9" fill="#222"/>
<text x="118.6" y="216.4" font-family='"Liberation Sans", sans-serif' font-size="7.4" font-weight="normal" fill="#333" text-anchor="start"  textLength="29" lengthAdjust="spacingAndGlyphs" stroke="#333" stroke-width="0.3">oxidation</text>
<line x1="37.5" y1="234.9" x2="47.5" y2="234.9" stroke="#c8805e" stroke-width="0.6" opacity="0.5"/>
<circle cx="42.3" cy="234.9" r="2.2" fill="#c8805e" stroke="#9a5a40" stroke-width="0.6"/>
<text x="53.9" y="238.1" font-family='"Liberation Sans", sans-serif' font-size="7.9" font-weight="normal" fill="#333" text-anchor="start"  textLength="58.2" lengthAdjust="spacingAndGlyphs" stroke="#333" stroke-width="0.3">Bi<tspan stroke-width="0.12" font-size="5.2" dy="1.8">2</tspan><tspan dy="-1.8">S</tspan><tspan stroke-width="0.12" font-size="5.2" dy="1.8">3</tspan><tspan dy="-1.8">/MoS</tspan><tspan stroke-width="0.12" font-size="5.2" dy="1.8">2</tspan><tspan dy="-1.8">@MX</tspan></text>
<line x1="37.5" y1="245.4" x2="47.5" y2="245.4" stroke="#3a5ed0" stroke-width="0.6" opacity="0.5"/>
<circle cx="42.3" cy="245.4" r="2.2" fill="#3a5ed0" stroke="#2440a0" stroke-width="0.6"/>
<text x="53.9" y="248.6" font-family='"Liberation Sans", sans-serif' font-size="7.9" font-weight="normal" fill="#333" text-anchor="start"  textLength="37.1" lengthAdjust="spacingAndGlyphs" stroke="#333" stroke-width="0.3">Bi<tspan stroke-width="0.12" font-size="5.2" dy="1.8">2</tspan><tspan dy="-1.8">S</tspan><tspan stroke-width="0.12" font-size="5.2" dy="1.8">3</tspan><tspan dy="-1.8">@MX</tspan></text>
<line x1="37.5" y1="255.5" x2="47.5" y2="255.5" stroke="#6a9a90" stroke-width="0.6" opacity="0.5"/>
<circle cx="42.3" cy="255.5" r="2.2" fill="#6a9a90" stroke="#4a7068" stroke-width="0.6"/>
<text x="53.9" y="258.7" font-family='"Liberation Sans", sans-serif' font-size="7.9" font-weight="normal" fill="#333" text-anchor="start"  textLength="10.9" lengthAdjust="spacingAndGlyphs" stroke="#333" stroke-width="0.3">MX</text>
<text x="189" y="145.3" font-family='"Liberation Sans", sans-serif' font-size="15.5" font-weight="bold" fill="#000" text-anchor="start" >c</text>
<g transform="rotate(-10 280 150)"><rect x="200" y="132" width="180" height="30" fill="#fff" filter="url(#wmP)" opacity="0.5"/></g>
<rect x="227.8" y="200.4" width="140.4" height="15.5" fill="#d6f8f8"/>
<rect x="227.8" y="215.9" width="140.4" height="8" fill="#fde6f0"/>
<path d="M227.2 209.41 L227.44 207.9 L227.67 206.95 L227.91 207.09 L228.14 206.57 L228.38 206.58 L228.61 206.66 L228.85 206.43 L229.08 206.38 L229.32 206.87 L229.55 207.27 L229.79 206.84 L230.03 206.98 L230.26 206.81 L230.5 206.42 L230.73 206.82 L230.97 207.12 L231.2 207.07 L231.44 207.08 L231.67 207.86 L231.91 206.83 L232.15 206.99 L232.38 206.88 L232.62 206.99 L232.85 207.5 L233.09 207.5 L233.32 207.88 L233.56 207.24 L233.79 207.95 L234.03 207.96 L234.26 207.8 L234.5 207.86 L234.74 207.66 L234.97 208.02 L235.21 208.1 L235.44 207.92 L235.68 208 L235.91 207.68 L236.15 208.11 L236.38 207.08 L236.62 207.41 L236.86 208 L237.09 207.88 L237.33 207.77 L237.56 207.76 L237.8 208.07 L238.03 207.19 L238.27 207.02 L238.5 207.68 L238.74 207.67 L238.97 208.18 L239.21 208.17 L239.45 207.88 L239.68 207.99 L239.92 207.3 L240.15 208.14 L240.39 208.32 L240.62 207.19 L240.86 207.72 L241.09 208.2 L241.33 207.72 L241.57 208.37 L241.8 207.76 L242.04 207.22 L242.27 207.37 L242.51 207.59 L242.74 208.14 L242.98 208.02 L243.21 208.28 L243.45 207.54 L243.69 207.85 L243.92 207.56 L244.16 208.12 L244.39 208.27 L244.63 207.55 L244.86 207.35 L245.1 207.52 L245.33 207.59 L245.57 207.59 L245.8 207.7 L246.04 208.34 L246.28 207.99 L246.51 208.21 L246.75 208.62 L246.98 208.63 L247.22 208.33 L247.45 208.37 L247.69 207.85 L247.92 207.53 L248.16 208.17 L248.39 207.58 L248.63 207.53 L248.87 207.58 L249.1 208.32 L249.34 208.51 L249.57 208.51 L249.81 208.56 L250.04 208.56 L250.28 208.06 L250.51 207.73 L250.75 207.81 L250.99 208.27 L251.22 208.07 L251.46 207.9 L251.69 208.79 L251.93 208.09 L252.16 207.79 L252.4 207.96 L252.63 208.01 L252.87 208.36 L253.1 208.74 L253.34 208 L253.58 208.58 L253.81 208.01 L254.05 207.81 L254.28 208.53 L254.52 208.54 L254.75 207.87 L254.99 208.16 L255.22 208.86 L255.46 208.92 L255.7 208.89 L255.93 207.97 L256.17 208.09 L256.4 208.91 L256.64 208.08 L256.87 207.89 L257.11 208.29 L257.34 208.68 L257.58 208.44 L257.81 208.96 L258.05 209.11 L258.29 207.93 L258.52 208.33 L258.76 208.49 L258.99 207.99 L259.23 208.61 L259.46 208.07 L259.7 208.13 L259.93 208.9 L260.17 208.85 L260.41 208.81 L260.64 208.87 L260.88 208.45 L261.11 208.86 L261.35 208.67 L261.58 209.03 L261.82 208.07 L262.05 208.76 L262.29 208.64 L262.52 208.48 L262.76 208.09 L263 208.69 L263.23 208.08 L263.47 208.6 L263.7 208.57 L263.94 208.58 L264.17 209.21 L264.41 208.7 L264.64 209.02 L264.88 209.24 L265.12 208.27 L265.35 209.04 L265.59 208.68 L265.82 208.37 L266.06 208.58 L266.29 208.87 L266.53 208.64 L266.76 208.6 L267 208.32 L267.24 209.16 L267.47 208.6 L267.71 208.99 L267.94 208.96 L268.18 208.35 L268.41 208.69 L268.65 208.62 L268.88 208.38 L269.12 208.2 L269.35 208.78 L269.59 208.58 L269.83 208.71 L270.06 208.71 L270.3 208.49 L270.53 208.79 L270.77 208.7 L271 208.77 L271.24 208.2 L271.47 208.5 L271.71 208.29 L271.94 208.21 L272.18 209.06 L272.42 208.69 L272.65 208.22 L272.89 208.36 L273.12 209.23 L273.36 209.25 L273.59 208.86 L273.83 209.32 L274.06 209.12 L274.3 209.33 L274.54 208.6 L274.77 208.46 L275.01 208.32 L275.24 209.25 L275.48 208.56 L275.71 208.63 L275.95 209.27 L276.18 208.36 L276.42 208.26 L276.65 209.19 L276.89 208.29 L277.13 208.98 L277.36 208.87 L277.6 208.26 L277.83 208.46 L278.07 209.29 L278.3 208.96 L278.54 208.86 L278.77 209.08 L279.01 209.26 L279.25 209.12 L279.48 208.62 L279.72 209.5 L279.95 208.84 L280.19 208.98 L280.42 209.51 L280.66 209.13 L280.89 208.77 L281.13 208.91 L281.37 209.47 L281.6 208.34 L281.84 208.58 L282.07 208.36 L282.31 209.44 L282.54 209.24 L282.78 209.53 L283.01 208.62 L283.25 209.25 L283.48 209.43 L283.72 209.07 L283.96 208.47 L284.19 208.59 L284.43 209.29 L284.66 209.43 L284.9 208.48 L285.13 208.91 L285.37 208.76 L285.6 209.52 L285.84 209.56 L286.07 208.78 L286.31 209.11 L286.55 209.55 L286.78 208.49 L287.02 208.87 L287.25 208.67 L287.49 209.56 L287.72 208.61 L287.96 209.59 L288.19 208.61 L288.43 209.12 L288.67 209.26 L288.9 209 L289.14 208.55 L289.37 209.36 L289.61 209.54 L289.84 209.05 L290.08 209.41 L290.31 209.58 L290.55 209.52 L290.78 209.66 L291.02 209.48 L291.26 209.34 L291.49 209.36 L291.73 208.8 L291.96 209.38 L292.2 209.13 L292.43 209.53 L292.67 209.33 L292.9 209.74 L293.14 209.45 L293.38 209.75 L293.61 208.87 L293.85 209.1 L294.08 209.55 L294.32 209.2 L294.55 208.63 L294.79 209.66 L295.02 208.79 L295.26 209.27 L295.5 209.2 L295.73 208.78 L295.97 209.33 L296.2 209.19 L296.44 208.97 L296.67 208.61 L296.91 209.41 L297.14 208.81 L297.38 208.97 L297.61 209.06 L297.85 209.35 L298.09 209.42 L298.32 209.78 L298.56 209.69 L298.79 209.77 L299.03 208.94 L299.26 209.54 L299.5 209.65 L299.73 209.75 L299.97 208.82 L300.2 208.78 L300.44 209.03 L300.68 209.51 L300.91 209.56 L301.15 209.5 L301.38 209.3 L301.62 209.67 L301.85 209.31 L302.09 209.54 L302.32 208.68 L302.56 208.66 L302.8 209.19 L303.03 209.57 L303.27 208.68 L303.5 209.49 L303.74 209.43 L303.97 209.87 L304.21 209.4 L304.44 209.29 L304.68 209.25 L304.92 209.63 L305.15 209.25 L305.39 209.87 L305.62 209.55 L305.86 209.77 L306.09 209.39 L306.33 209.83 L306.56 209.85 L306.8 209.51 L307.03 209.6 L307.27 209.16 L307.51 209.23 L307.74 208.96 L307.98 209.07 L308.21 209 L308.45 208.8 L308.68 209.41 L308.92 209.49 L309.15 208.67 L309.39 209.71 L309.62 209 L309.86 209.1 L310.1 209.84 L310.33 208.86 L310.57 208.79 L310.8 209.12 L311.04 208.99 L311.27 208.89 L311.51 209.73 L311.74 209.25 L311.98 209.28 L312.22 208.87 L312.45 208.91 L312.69 208.88 L312.92 209.18 L313.16 208.8 L313.39 209.06 L313.63 209.05 L313.86 209.62 L314.1 209.87 L314.33 209.75 L314.57 209.47 L314.81 209.78 L315.04 208.88 L315.28 209.22 L315.51 209.14 L315.75 209.14 L315.98 209.07 L316.22 209.31 L316.45 209.91 L316.69 208.93 L316.93 208.99 L317.16 209.3 L317.4 209.26 L317.63 209.11 L317.87 209.84 L318.1 209.01 L318.34 209.61 L318.57 209.83 L318.81 209.6 L319.05 209.03 L319.28 209.67 L319.52 209.01 L319.75 208.72 L319.99 209.32 L320.22 209.46 L320.46 209.34 L320.69 209.09 L320.93 208.99 L321.16 209.17 L321.4 209.14 L321.64 209.84 L321.87 209.76 L322.11 209.62 L322.34 209.02 L322.58 209.56 L322.81 209.24 L323.05 209.93 L323.28 209.87 L323.52 209.61 L323.75 209.11 L323.99 209.09 L324.23 209.11 L324.46 209.59 L324.7 209.31 L324.93 209.37 L325.17 209.37 L325.4 209.8 L325.64 208.85 L325.87 209.71 L326.11 208.74 L326.35 208.8 L326.58 209.93 L326.82 209.39 L327.05 208.94 L327.29 208.76 L327.52 209.4 L327.76 209.63 L327.99 209.7 L328.23 208.79 L328.47 209.7 L328.7 209.24 L328.94 209.79 L329.17 209.32 L329.41 208.79 L329.64 209.8 L329.88 208.95 L330.11 209.34 L330.35 208.87 L330.58 209.1 L330.82 209.68 L331.06 208.86 L331.29 209.37 L331.53 209.94 L331.76 209.97 L332 209.37 L332.23 209.42 L332.47 209.6 L332.7 209.8 L332.94 209.55 L333.17 209.59 L333.41 208.94 L333.65 209.98 L333.88 209.05 L334.12 208.94 L334.35 209.84 L334.59 208.84 L334.82 209.1 L335.06 208.87 L335.29 209.63 L335.53 209.53 L335.77 209.5 L336 208.75 L336.24 209.26 L336.47 209.55 L336.71 209.46 L336.94 209.65 L337.18 209.93 L337.41 209.87 L337.65 208.96 L337.88 209.64 L338.12 208.84 L338.36 209.69 L338.59 209.67 L338.83 209.37 L339.06 209.77 L339.3 209.54 L339.53 208.82 L339.77 208.91 L340 209 L340.24 209.22 L340.48 208.87 L340.71 208.83 L340.95 209.31 L341.18 209.1 L341.42 209.92 L341.65 209.07 L341.89 209.42 L342.12 209.04 L342.36 209.17 L342.6 209.61 L342.83 209.89 L343.07 208.8 L343.3 209.79 L343.54 209.36 L343.77 209.51 L344.01 209.56 L344.24 209.01 L344.48 208.72 L344.71 209.6 L344.95 209.1 L345.19 209.54 L345.42 209.22 L345.66 209.41 L345.89 209.69 L346.13 209.69 L346.36 209.63 L346.6 208.76 L346.83 209.26 L347.07 209.6 L347.31 208.75 L347.54 208.63 L347.78 209.3 L348.01 209.68 L348.25 209.61 L348.48 209.73 L348.72 209.42 L348.95 209.73 L349.19 209.54 L349.42 209.51 L349.66 209.12 L349.9 208.72 L350.13 208.89 L350.37 209.3 L350.6 209.29 L350.84 209.15 L351.07 209.33 L351.31 209.37 L351.54 209.71 L351.78 209.44 L352.01 208.58 L352.25 209.62 L352.49 209.15 L352.72 208.99 L352.96 208.69 L353.19 209.49 L353.43 209.42 L353.66 209.44 L353.9 209.25 L354.13 209.19 L354.37 208.55 L354.61 208.68 L354.84 208.65 L355.08 209.69 L355.31 209.68 L355.55 208.83 L355.78 208.6 L356.02 209.12 L356.25 208.97 L356.49 209.69 L356.73 209.21 L356.96 208.54 L357.2 208.66 L357.43 208.62 L357.67 208.47 L357.9 209.36 L358.14 209.53 L358.37 209.47 L358.61 209.01 L358.84 208.81 L359.08 208.48 L359.32 208.75 L359.55 208.83 L359.79 208.68 L360.02 209.06 L360.26 208.94 L360.49 209.57 L360.73 208.65 L360.96 209.32 L361.2 208.47 L361.44 208.8 L361.67 209.22 L361.91 209.43 L362.14 209.27 L362.38 208.79 L362.61 208.71 L362.85 209.43 L363.08 209.48 L363.32 208.91 L363.55 208.84 L363.79 209.07 L364.03 209.27 L364.26 208.8 L364.5 209.53 L364.73 209.16 L364.97 208.96 L365.2 208.34 L365.44 208.73 L365.67 208.42 L365.91 208.93 L366.14 209.22 L366.38 209.2 L366.62 208.31 L366.85 208.62 L367.09 209.11 L367.32 209.46 L367.56 208.87 L367.79 208.64 L368.03 208.95 L368.26 209.15 L368.5 208.64" fill="none" stroke="#2e9870" stroke-width="1.6"/>
<path d="M227.2 211.16 L227.44 211.32 L227.67 211.02 L227.91 210.25 L228.14 209.69 L228.38 209.07 L228.61 209.55 L228.85 209.03 L229.08 209.11 L229.32 209.36 L229.55 209.67 L229.79 209 L230.03 209.64 L230.26 209.2 L230.5 209.78 L230.73 209.82 L230.97 209.35 L231.2 209.82 L231.44 209.24 L231.67 209.69 L231.91 210.01 L232.15 210.01 L232.38 209.86 L232.62 209.66 L232.85 209.43 L233.09 210.2 L233.32 209.98 L233.56 210.17 L233.79 209.48 L234.03 210.27 L234.26 210.37 L234.5 210.38 L234.74 210.09 L234.97 209.64 L235.21 209.67 L235.44 209.83 L235.68 209.6 L235.91 209.68 L236.15 210.26 L236.38 210.41 L236.62 209.73 L236.86 209.92 L237.09 210.6 L237.33 210.03 L237.56 210.32 L237.8 210.34 L238.03 210.4 L238.27 210.56 L238.5 210.74 L238.74 210.5 L238.97 210.45 L239.21 209.91 L239.45 210.7 L239.68 209.93 L239.92 210.65 L240.15 210.53 L240.39 210.12 L240.62 210.14 L240.86 210.52 L241.09 210.89 L241.33 210.51 L241.57 210.62 L241.8 210.13 L242.04 210.83 L242.27 210.68 L242.51 210.21 L242.74 211.03 L242.98 210.69 L243.21 210.34 L243.45 210.4 L243.69 211.09 L243.92 211.11 L244.16 211.11 L244.39 210.33 L244.63 210.96 L244.86 210.52 L245.1 210.4 L245.33 210.94 L245.57 211.02 L245.8 210.4 L246.04 210.73 L246.28 211.08 L246.51 210.68 L246.75 211.07 L246.98 211.12 L247.22 211.39 L247.45 210.71 L247.69 210.58 L247.92 210.86 L248.16 210.59 L248.39 211.46 L248.63 211.28 L248.87 211.08 L249.1 210.65 L249.34 210.67 L249.57 211.21 L249.81 211.36 L250.04 211.21 L250.28 211.17 L250.51 210.78 L250.75 211.49 L250.99 210.93 L251.22 211.01 L251.46 210.95 L251.69 211.01 L251.93 211.19 L252.16 211.46 L252.4 211.49 L252.63 211.47 L252.87 211.09 L253.1 211.76 L253.34 211.67 L253.58 211.17 L253.81 211.66 L254.05 211.85 L254.28 211.89 L254.52 211.43 L254.75 211.66 L254.99 211.07 L255.22 211.18 L255.46 211.1 L255.7 211.77 L255.93 211.95 L256.17 211.94 L256.4 211.57 L256.64 211.38 L256.87 211.63 L257.11 211.83 L257.34 211.66 L257.58 211.48 L257.81 211.43 L258.05 211.37 L258.29 211.28 L258.52 211.45 L258.76 211.96 L258.99 211.3 L259.23 211.81 L259.46 211.56 L259.7 211.75 L259.93 211.41 L260.17 211.92 L260.41 211.88 L260.64 211.88 L260.88 211.97 L261.11 211.3 L261.35 211.59 L261.58 211.82 L261.82 211.76 L262.05 211.21 L262.29 211.67 L262.52 211.93 L262.76 211.4 L263 211.55 L263.23 211.24 L263.47 212.07 L263.7 211.72 L263.94 211.41 L264.17 211.39 L264.41 211.33 L264.64 212.14 L264.88 211.91 L265.12 212.08 L265.35 212.02 L265.59 211.3 L265.82 211.66 L266.06 211.35 L266.29 211.87 L266.53 211.41 L266.76 211.8 L267 211.98 L267.24 211.51 L267.47 211.36 L267.71 212.14 L267.94 211.69 L268.18 211.67 L268.41 212.05 L268.65 211.91 L268.88 212.13 L269.12 212.07 L269.35 212.03 L269.59 211.72 L269.83 211.67 L270.06 212.09 L270.3 212.27 L270.53 211.99 L270.77 211.66 L271 212.13 L271.24 212.01 L271.47 212.12 L271.71 211.57 L271.94 211.81 L272.18 212.26 L272.42 212.23 L272.65 211.96 L272.89 211.82 L273.12 211.74 L273.36 212.26 L273.59 212.19 L273.83 211.7 L274.06 211.97 L274.3 212.1 L274.54 212.08 L274.77 211.48 L275.01 212.08 L275.24 211.85 L275.48 212.05 L275.71 212 L275.95 211.59 L276.18 211.47 L276.42 212.06 L276.65 212.22 L276.89 211.73 L277.13 212.22 L277.36 212.41 L277.6 211.58 L277.83 212.03 L278.07 211.67 L278.3 212.05 L278.54 211.62 L278.77 212.01 L279.01 212.29 L279.25 212.43 L279.48 211.94 L279.72 211.86 L279.95 211.62 L280.19 212.38 L280.42 211.89 L280.66 212.13 L280.89 212.01 L281.13 212.35 L281.37 212.22 L281.6 212.01 L281.84 211.64 L282.07 212.4 L282.31 212.05 L282.54 211.76 L282.78 211.62 L283.01 212.33 L283.25 212.4 L283.48 211.65 L283.72 211.63 L283.96 212.09 L284.19 212.49 L284.43 211.68 L284.66 212.19 L284.9 211.71 L285.13 211.98 L285.37 211.8 L285.6 212.42 L285.84 211.84 L286.07 212.37 L286.31 212.2 L286.55 211.8 L286.78 211.82 L287.02 212.42 L287.25 212.39 L287.49 212.23 L287.72 212.12 L287.96 212.25 L288.19 212.5 L288.43 212.39 L288.67 211.95 L288.9 211.79 L289.14 212.59 L289.37 212.11 L289.61 211.93 L289.84 212.61 L290.08 211.87 L290.31 212.54 L290.55 212.1 L290.78 212.15 L291.02 212.08 L291.26 212.38 L291.49 212.28 L291.73 212.14 L291.96 212.29 L292.2 212.07 L292.43 212.27 L292.67 212.29 L292.9 212.68 L293.14 212.13 L293.38 212.25 L293.61 212.49 L293.85 212.01 L294.08 212 L294.32 212.3 L294.55 212.56 L294.79 212.29 L295.02 212.64 L295.26 212.62 L295.5 212.35 L295.73 212.66 L295.97 212.34 L296.2 212.28 L296.44 212.72 L296.67 212.18 L296.91 212.69 L297.14 212.09 L297.38 212.06 L297.61 212.31 L297.85 212.74 L298.09 212.32 L298.32 212.44 L298.56 211.9 L298.79 212.66 L299.03 211.99 L299.26 211.86 L299.5 212.11 L299.73 212.03 L299.97 212.6 L300.2 211.87 L300.44 212.33 L300.68 211.89 L300.91 211.93 L301.15 212.63 L301.38 212.05 L301.62 211.92 L301.85 212.72 L302.09 212.45 L302.32 212.08 L302.56 212.63 L302.8 211.95 L303.03 212.52 L303.27 212.02 L303.5 212.64 L303.74 212.31 L303.97 211.92 L304.21 212.58 L304.44 212.53 L304.68 212.3 L304.92 212.48 L305.15 212.74 L305.39 212.6 L305.62 212.62 L305.86 211.9 L306.09 212.14 L306.33 211.94 L306.56 212.61 L306.8 212.04 L307.03 212.66 L307.27 212.27 L307.51 212.18 L307.74 212.43 L307.98 211.96 L308.21 212.25 L308.45 212.23 L308.68 211.95 L308.92 212.67 L309.15 211.84 L309.39 212.18 L309.62 212.4 L309.86 212.02 L310.1 212.52 L310.33 211.84 L310.57 212.22 L310.8 212.43 L311.04 212.05 L311.27 212.35 L311.51 212.59 L311.74 212.07 L311.98 212.71 L312.22 212 L312.45 212.52 L312.69 212.16 L312.92 211.84 L313.16 212.21 L313.39 212.14 L313.63 212.46 L313.86 212.75 L314.1 212.72 L314.33 212.61 L314.57 212.18 L314.81 212.35 L315.04 212.27 L315.28 211.92 L315.51 212.63 L315.75 212.54 L315.98 212.14 L316.22 212.73 L316.45 212.74 L316.69 212.42 L316.93 212.65 L317.16 212.41 L317.4 212.54 L317.63 212.2 L317.87 212.2 L318.1 212.55 L318.34 212.16 L318.57 212.3 L318.81 212.62 L319.05 211.87 L319.28 212.51 L319.52 212.6 L319.75 212.65 L319.99 212.15 L320.22 211.93 L320.46 212.01 L320.69 212.36 L320.93 212.49 L321.16 212.73 L321.4 212.14 L321.64 212.21 L321.87 212.41 L322.11 212.14 L322.34 212.32 L322.58 211.86 L322.81 212.05 L323.05 212.5 L323.28 211.89 L323.52 212.69 L323.75 212.24 L323.99 212.35 L324.23 212.51 L324.46 212.68 L324.7 212.01 L324.93 212.72 L325.17 212.22 L325.4 211.85 L325.64 212.6 L325.87 212.54 L326.11 212.16 L326.35 212.26 L326.58 212.13 L326.82 211.97 L327.05 212.56 L327.29 212.44 L327.52 212.44 L327.76 212.68 L327.99 211.9 L328.23 212 L328.47 212.06 L328.7 212.71 L328.94 211.94 L329.17 212.03 L329.41 212.29 L329.64 212.03 L329.88 212.3 L330.11 212.51 L330.35 212.62 L330.58 212.5 L330.82 212.68 L331.06 212.4 L331.29 212.02 L331.53 212.07 L331.76 211.93 L332 212.05 L332.23 212.47 L332.47 212.2 L332.7 212.31 L332.94 211.98 L333.17 212.23 L333.41 212.46 L333.65 212.11 L333.88 211.81 L334.12 212.51 L334.35 211.89 L334.59 212.69 L334.82 212.47 L335.06 212.49 L335.29 212.02 L335.53 211.83 L335.77 212.01 L336 212.4 L336.24 211.89 L336.47 212.4 L336.71 212.48 L336.94 211.86 L337.18 212.12 L337.41 212.06 L337.65 212.08 L337.88 211.79 L338.12 212.26 L338.36 211.92 L338.59 212.05 L338.83 211.9 L339.06 212.29 L339.3 212.02 L339.53 212.17 L339.77 212.41 L340 212.5 L340.24 212.12 L340.48 212.62 L340.71 211.85 L340.95 212.56 L341.18 212.67 L341.42 212.59 L341.65 211.83 L341.89 212.37 L342.12 212.56 L342.36 212.66 L342.6 212.65 L342.83 212.05 L343.07 212.1 L343.3 212.04 L343.54 212 L343.77 212.63 L344.01 212.14 L344.24 212.35 L344.48 211.93 L344.71 211.93 L344.95 211.86 L345.19 212.62 L345.42 211.88 L345.66 211.83 L345.89 211.81 L346.13 212.58 L346.36 212.49 L346.6 212.58 L346.83 212.65 L347.07 211.89 L347.31 211.93 L347.54 212.09 L347.78 211.91 L348.01 212.09 L348.25 212.41 L348.48 212.58 L348.72 212.59 L348.95 211.97 L349.19 212.49 L349.42 212.38 L349.66 212.28 L349.9 212.65 L350.13 212.44 L350.37 212.41 L350.6 212.01 L350.84 212.33 L351.07 212.37 L351.31 211.78 L351.54 212.2 L351.78 211.88 L352.01 212.1 L352.25 212.64 L352.49 212.29 L352.72 212.26 L352.96 211.95 L353.19 212.35 L353.43 212.01 L353.66 212.17 L353.9 212.46 L354.13 211.86 L354.37 212.58 L354.61 211.9 L354.84 212.51 L355.08 212.66 L355.31 212.47 L355.55 211.95 L355.78 211.75 L356.02 212.66 L356.25 212.2 L356.49 212.2 L356.73 211.92 L356.96 212.49 L357.2 212.2 L357.43 212.34 L357.67 211.89 L357.9 212.41 L358.14 211.78 L358.37 212.39 L358.61 212.46 L358.84 212.01 L359.08 212.19 L359.32 212.55 L359.55 212.06 L359.79 212.58 L360.02 211.92 L360.26 212 L360.49 211.92 L360.73 212.07 L360.96 212.32 L361.2 212.28 L361.44 212.28 L361.67 211.82 L361.91 212.57 L362.14 211.82 L362.38 212.62 L362.61 212.45 L362.85 212.4 L363.08 211.81 L363.32 212.18 L363.55 212.29 L363.79 211.82 L364.03 212.43 L364.26 212.21 L364.5 212.15 L364.73 211.94 L364.97 211.94 L365.2 212.04 L365.44 212.32 L365.67 212.34 L365.91 212.49 L366.14 211.86 L366.38 212.02 L366.62 211.95 L366.85 212.48 L367.09 212.23 L367.32 211.92 L367.56 212.1 L367.79 212.52 L368.03 212.21 L368.26 211.81 L368.5 212.41" fill="none" stroke="#2a5ec4" stroke-width="1.5"/>
<path d="M227.2 231.94 L227.44 231.46 L227.67 230.71 L227.91 230.2 L228.14 230.47 L228.38 230.09 L228.61 229.63 L228.85 229.18 L229.08 228.78 L229.32 228.94 L229.55 228.6 L229.79 228.55 L230.03 227.64 L230.26 227.69 L230.5 228.1 L230.73 227.12 L230.97 227.74 L231.2 227.3 L231.44 226.56 L231.67 226.64 L231.91 226.6 L232.15 226.78 L232.38 226.9 L232.62 226.39 L232.85 226.78 L233.09 226.59 L233.32 226.33 L233.56 226.56 L233.79 226.12 L234.03 225.66 L234.26 225.65 L234.5 225.73 L234.74 225.51 L234.97 225.57 L235.21 225.77 L235.44 225.24 L235.68 225.33 L235.91 224.91 L236.15 224.66 L236.38 225.01 L236.62 224.78 L236.86 224.57 L237.09 224.83 L237.33 224.97 L237.56 224.47 L237.8 224.28 L238.03 224.34 L238.27 224.37 L238.5 224.18 L238.74 224.3 L238.97 224.3 L239.21 224.43 L239.45 224.52 L239.68 224.18 L239.92 224.63 L240.15 224.29 L240.39 223.92 L240.62 223.94 L240.86 223.97 L241.09 224.28 L241.33 224.08 L241.57 224.01 L241.8 223.81 L242.04 223.97 L242.27 223.68 L242.51 223.4 L242.74 224.05 L242.98 223.58 L243.21 223.42 L243.45 223.74 L243.69 223.6 L243.92 223.11 L244.16 223.94 L244.39 223.43 L244.63 223.74 L244.86 223.12 L245.1 222.93 L245.33 223.28 L245.57 223.63 L245.8 223.15 L246.04 223.14 L246.28 222.93 L246.51 223.08 L246.75 222.92 L246.98 222.7 L247.22 222.95 L247.45 223.01 L247.69 222.47 L247.92 223.11 L248.16 222.63 L248.39 222.86 L248.63 222.48 L248.87 223.04 L249.1 222.21 L249.34 222.75 L249.57 223 L249.81 222.76 L250.04 222.61 L250.28 222.93 L250.51 222.52 L250.75 222.48 L250.99 222.19 L251.22 222.48 L251.46 222.52 L251.69 222.53 L251.93 222.01 L252.16 221.79 L252.4 222.14 L252.63 222.39 L252.87 221.82 L253.1 222.16 L253.34 222.29 L253.58 222.34 L253.81 221.7 L254.05 221.64 L254.28 221.76 L254.52 221.88 L254.75 221.76 L254.99 222.04 L255.22 221.32 L255.46 221.85 L255.7 221.55 L255.93 221.35 L256.17 221.32 L256.4 221.6 L256.64 221.73 L256.87 221.46 L257.11 221.82 L257.34 221.13 L257.58 221.53 L257.81 221.04 L258.05 221.55 L258.29 221.41 L258.52 221.49 L258.76 221.29 L258.99 221.48 L259.23 221.62 L259.46 220.92 L259.7 221.29 L259.93 221.29 L260.17 221.2 L260.41 221 L260.64 221.03 L260.88 220.81 L261.11 220.77 L261.35 221.02 L261.58 220.47 L261.82 220.52 L262.05 221.23 L262.29 220.49 L262.52 220.4 L262.76 220.49 L263 221.06 L263.23 220.4 L263.47 220.56 L263.7 221.11 L263.94 221.09 L264.17 220.2 L264.41 220.45 L264.64 220.8 L264.88 220.92 L265.12 220.86 L265.35 220.75 L265.59 220.22 L265.82 220.6 L266.06 220.76 L266.29 220.04 L266.53 220.12 L266.76 220.67 L267 219.98 L267.24 220.22 L267.47 220.04 L267.71 220.12 L267.94 219.89 L268.18 219.96 L268.41 219.89 L268.65 220.46 L268.88 219.98 L269.12 220.11 L269.35 219.89 L269.59 220.15 L269.83 219.71 L270.06 219.99 L270.3 220.24 L270.53 220.25 L270.77 220.31 L271 219.96 L271.24 220.34 L271.47 219.94 L271.71 220.22 L271.94 219.87 L272.18 219.84 L272.42 219.78 L272.65 219.46 L272.89 220.23 L273.12 219.43 L273.36 219.76 L273.59 219.64 L273.83 219.53 L274.06 219.34 L274.3 219.75 L274.54 219.69 L274.77 219.16 L275.01 219.96 L275.24 219.42 L275.48 219.39 L275.71 219.93 L275.95 219.37 L276.18 219.28 L276.42 219.03 L276.65 219.56 L276.89 218.94 L277.13 219.35 L277.36 219.35 L277.6 218.95 L277.83 219.72 L278.07 219.07 L278.3 219.13 L278.54 219.37 L278.77 218.86 L279.01 219.3 L279.25 219.18 L279.48 219.11 L279.72 218.86 L279.95 219.35 L280.19 219.12 L280.42 219.11 L280.66 218.97 L280.89 218.69 L281.13 219.16 L281.37 218.64 L281.6 219.02 L281.84 218.9 L282.07 219.09 L282.31 218.85 L282.54 218.39 L282.78 218.67 L283.01 218.52 L283.25 218.92 L283.48 218.91 L283.72 218.91 L283.96 218.62 L284.19 218.55 L284.43 218.39 L284.66 219.06 L284.9 218.4 L285.13 218.23 L285.37 218.52 L285.6 218.96 L285.84 218.7 L286.07 218.95 L286.31 218.76 L286.55 218.06 L286.78 218.32 L287.02 218.25 L287.25 218.11 L287.49 217.97 L287.72 218.23 L287.96 218.2 L288.19 218.17 L288.43 218.08 L288.67 218.15 L288.9 218.05 L289.14 218.46 L289.37 218.02 L289.61 218.19 L289.84 217.88 L290.08 218.49 L290.31 218.41 L290.55 218.54 L290.78 217.85 L291.02 217.71 L291.26 217.95 L291.49 218.21 L291.73 217.78 L291.96 217.81 L292.2 218.01 L292.43 218.29 L292.67 218.25 L292.9 218.13 L293.14 218.22 L293.38 218.11 L293.61 217.91 L293.85 217.63 L294.08 218.45 L294.32 217.96 L294.55 218.45 L294.79 218.37 L295.02 217.72 L295.26 217.94 L295.5 217.61 L295.73 218.05 L295.97 218.44 L296.2 218.09 L296.44 217.9 L296.67 217.57 L296.91 217.53 L297.14 217.99 L297.38 218.04 L297.61 218.33 L297.85 217.82 L298.09 218.21 L298.32 218.26 L298.56 218.39 L298.79 218.39 L299.03 217.76 L299.26 218.27 L299.5 217.48 L299.73 218.29 L299.97 217.56 L300.2 218.25 L300.44 218.34 L300.68 217.69 L300.91 218.13 L301.15 217.66 L301.38 218.17 L301.62 218.29 L301.85 217.61 L302.09 217.66 L302.32 217.53 L302.56 217.64 L302.8 218.23 L303.03 217.72 L303.27 217.64 L303.5 217.87 L303.74 217.42 L303.97 218.05 L304.21 217.39 L304.44 217.61 L304.68 218.26 L304.92 218.25 L305.15 217.66 L305.39 217.5 L305.62 218.18 L305.86 217.96 L306.09 217.56 L306.33 218.08 L306.56 217.43 L306.8 217.77 L307.03 218.16 L307.27 217.87 L307.51 217.68 L307.74 217.8 L307.98 217.57 L308.21 218.06 L308.45 217.45 L308.68 217.85 L308.92 217.58 L309.15 217.59 L309.39 217.78 L309.62 217.81 L309.86 217.43 L310.1 217.28 L310.33 217.42 L310.57 217.62 L310.8 217.87 L311.04 218.08 L311.27 217.23 L311.51 217.47 L311.74 217.35 L311.98 217.81 L312.22 217.55 L312.45 217.2 L312.69 217.33 L312.92 217.54 L313.16 217.8 L313.39 217.69 L313.63 217.25 L313.86 217.72 L314.1 217.43 L314.33 217.51 L314.57 217.23 L314.81 217.3 L315.04 217.79 L315.28 218.04 L315.51 217.79 L315.75 217.64 L315.98 217.48 L316.22 217.27 L316.45 217.2 L316.69 217.97 L316.93 217.24 L317.16 217.25 L317.4 217.19 L317.63 217.46 L317.87 217.73 L318.1 217.19 L318.34 217.23 L318.57 217.34 L318.81 217.12 L319.05 217.64 L319.28 217.88 L319.52 217.44 L319.75 217.21 L319.99 217.76 L320.22 217.24 L320.46 217.07 L320.69 217.71 L320.93 217.36 L321.16 217.29 L321.4 217.48 L321.64 217.72 L321.87 217.67 L322.11 217.2 L322.34 217.16 L322.58 217.46 L322.81 217.8 L323.05 217.13 L323.28 217.16 L323.52 217.65 L323.75 217.32 L323.99 217.03 L324.23 217.03 L324.46 217.36 L324.7 217.4 L324.93 217.29 L325.17 217.66 L325.4 217.65 L325.64 217.65 L325.87 217.17 L326.11 217.48 L326.35 217.28 L326.58 217.43 L326.82 217.32 L327.05 217.66 L327.29 217.75 L327.52 216.86 L327.76 217.44 L327.99 217.68 L328.23 217.19 L328.47 217.04 L328.7 217.62 L328.94 217.21 L329.17 217.44 L329.41 217.27 L329.64 217.73 L329.88 217.71 L330.11 216.82 L330.35 216.93 L330.58 217.28 L330.82 217.2 L331.06 217.48 L331.29 217 L331.53 217.32 L331.76 216.83 L332 216.99 L332.23 216.94 L332.47 216.8 L332.7 217.46 L332.94 217.65 L333.17 217.5 L333.41 217.51 L333.65 217.6 L333.88 217.62 L334.12 217.15 L334.35 216.85 L334.59 217.23 L334.82 216.77 L335.06 216.81 L335.29 217.59 L335.53 217.09 L335.77 217.27 L336 217.52 L336.24 216.74 L336.47 217.38 L336.71 217.1 L336.94 217.02 L337.18 216.72 L337.41 216.98 L337.65 217.24 L337.88 217.18 L338.12 217.45 L338.36 216.69 L338.59 216.66 L338.83 217.37 L339.06 217.54 L339.3 217.33 L339.53 217.24 L339.77 216.73 L340 216.72 L340.24 216.78 L340.48 217.51 L340.71 216.82 L340.95 216.88 L341.18 216.94 L341.42 216.62 L341.65 217.48 L341.89 217.39 L342.12 216.82 L342.36 216.64 L342.6 216.88 L342.83 217.23 L343.07 216.95 L343.3 216.8 L343.54 217.4 L343.77 217.19 L344.01 217.25 L344.24 217.37 L344.48 217.03 L344.71 217.32 L344.95 217.25 L345.19 217.33 L345.42 216.83 L345.66 217.44 L345.89 216.79 L346.13 217.27 L346.36 217.41 L346.6 216.58 L346.83 217.23 L347.07 216.56 L347.31 216.62 L347.54 216.6 L347.78 217.29 L348.01 217 L348.25 217.32 L348.48 216.54 L348.72 216.62 L348.95 216.81 L349.19 216.97 L349.42 217.07 L349.66 216.62 L349.9 216.94 L350.13 216.79 L350.37 217.24 L350.6 217.16 L350.84 217.31 L351.07 216.7 L351.31 216.84 L351.54 217.21 L351.78 216.54 L352.01 217.09 L352.25 216.95 L352.49 217.19 L352.72 217.08 L352.96 216.54 L353.19 217.01 L353.43 217.16 L353.66 216.85 L353.9 217.01 L354.13 216.46 L354.37 217.19 L354.61 216.38 L354.84 217.24 L355.08 216.45 L355.31 216.66 L355.55 217.08 L355.78 216.83 L356.02 217 L356.25 217.02 L356.49 217.07 L356.73 216.92 L356.96 216.33 L357.2 216.32 L357.43 216.38 L357.67 217.15 L357.9 216.96 L358.14 216.4 L358.37 217.17 L358.61 216.55 L358.84 216.94 L359.08 216.3 L359.32 217.19 L359.55 216.45 L359.79 216.88 L360.02 217.06 L360.26 217.19 L360.49 216.41 L360.73 216.69 L360.96 217 L361.2 216.77 L361.44 216.32 L361.67 216.96 L361.91 216.63 L362.14 217.03 L362.38 216.98 L362.61 216.43 L362.85 216.48 L363.08 216.96 L363.32 217.06 L363.55 217.05 L363.79 216.56 L364.03 216.66 L364.26 216.86 L364.5 216.92 L364.73 216.54 L364.97 216.45 L365.2 216.35 L365.44 216.55 L365.67 216.9 L365.91 217.03 L366.14 216.4 L366.38 216.7 L366.62 216.4 L366.85 217.02 L367.09 216.31 L367.32 216.75 L367.56 216.28 L367.79 216.25 L368.03 216.59 L368.26 217.03 L368.5 216.19" fill="none" stroke="#b06040" stroke-width="1.5"/>
<line x1="235.61" y1="225.26" x2="235.61" y2="221.02" stroke="#c07050" stroke-width="0.6"/>
<line x1="242.65" y1="223.78" x2="242.65" y2="220.91" stroke="#c07050" stroke-width="0.6"/>
<line x1="251.88" y1="222.24" x2="251.88" y2="219.01" stroke="#c07050" stroke-width="0.6"/>
<line x1="257.62" y1="221.39" x2="257.62" y2="218.15" stroke="#c07050" stroke-width="0.6"/>
<line x1="266.47" y1="220.39" x2="266.47" y2="217.88" stroke="#c07050" stroke-width="0.6"/>
<line x1="273.89" y1="219.67" x2="273.89" y2="216.28" stroke="#c07050" stroke-width="0.6"/>
<line x1="281.5" y1="218.94" x2="281.5" y2="216.19" stroke="#c07050" stroke-width="0.6"/>
<line x1="289.7" y1="218.14" x2="289.7" y2="214.01" stroke="#c07050" stroke-width="0.6"/>
<line x1="297.75" y1="217.95" x2="297.75" y2="214.81" stroke="#c07050" stroke-width="0.6"/>
<line x1="304.95" y1="217.8" x2="304.95" y2="214.54" stroke="#c07050" stroke-width="0.6"/>
<line x1="312.69" y1="217.63" x2="312.69" y2="215.01" stroke="#c07050" stroke-width="0.6"/>
<line x1="320.66" y1="217.46" x2="320.66" y2="213.06" stroke="#c07050" stroke-width="0.6"/>
<line x1="327.23" y1="217.33" x2="327.23" y2="213.8" stroke="#c07050" stroke-width="0.6"/>
<line x1="334.96" y1="217.19" x2="334.96" y2="213.61" stroke="#c07050" stroke-width="0.6"/>
<line x1="341.15" y1="217.07" x2="341.15" y2="212.64" stroke="#c07050" stroke-width="0.6"/>
<line x1="349.35" y1="216.92" x2="349.35" y2="214.06" stroke="#c07050" stroke-width="0.6"/>
<line x1="356.64" y1="216.79" x2="356.64" y2="213.79" stroke="#c07050" stroke-width="0.6"/>
<line x1="366.29" y1="216.62" x2="366.29" y2="214.06" stroke="#c07050" stroke-width="0.6"/>
<rect x="227.2" y="144.3" width="141.3" height="116.1" fill="none" stroke="#444" stroke-width="1"/>
<line x1="227.2" y1="144.3" x2="229.2" y2="144.3" stroke="#444" stroke-width="0.8"/>
<text x="224.7" y="147.1" font-family='"Liberation Sans", sans-serif' font-size="7.6" font-weight="normal" fill="#333" text-anchor="end"  stroke="#333" stroke-width="0.3">0.010</text>
<line x1="227.2" y1="182.95" x2="229.2" y2="182.95" stroke="#444" stroke-width="0.8"/>
<text x="224.7" y="185.75" font-family='"Liberation Sans", sans-serif' font-size="7.6" font-weight="normal" fill="#333" text-anchor="end"  stroke="#333" stroke-width="0.3">0.005</text>
<line x1="227.2" y1="221.6" x2="229.2" y2="221.6" stroke="#444" stroke-width="0.8"/>
<text x="224.7" y="224.4" font-family='"Liberation Sans", sans-serif' font-size="7.6" font-weight="normal" fill="#333" text-anchor="end"  stroke="#333" stroke-width="0.3">0.000</text>
<line x1="227.2" y1="260.25" x2="229.2" y2="260.25" stroke="#444" stroke-width="0.8"/>
<text x="224.7" y="263.05" font-family='"Liberation Sans", sans-serif' font-size="7.6" font-weight="normal" fill="#333" text-anchor="end"  stroke="#333" stroke-width="0.3">-0.005</text>
<line x1="227.2" y1="260.4" x2="227.2" y2="258.4" stroke="#444" stroke-width="0.7"/>
<line x1="241.33" y1="260.4" x2="241.33" y2="259.2" stroke="#444" stroke-width="0.7"/>
<line x1="255.46" y1="260.4" x2="255.46" y2="258.4" stroke="#444" stroke-width="0.7"/>
<line x1="269.59" y1="260.4" x2="269.59" y2="259.2" stroke="#444" stroke-width="0.7"/>
<line x1="283.72" y1="260.4" x2="283.72" y2="258.4" stroke="#444" stroke-width="0.7"/>
<line x1="297.85" y1="260.4" x2="297.85" y2="259.2" stroke="#444" stroke-width="0.7"/>
<line x1="311.98" y1="260.4" x2="311.98" y2="258.4" stroke="#444" stroke-width="0.7"/>
<line x1="326.11" y1="260.4" x2="326.11" y2="259.2" stroke="#444" stroke-width="0.7"/>
<line x1="340.24" y1="260.4" x2="340.24" y2="258.4" stroke="#444" stroke-width="0.7"/>
<line x1="354.37" y1="260.4" x2="354.37" y2="259.2" stroke="#444" stroke-width="0.7"/>
<line x1="368.5" y1="260.4" x2="368.5" y2="258.4" stroke="#444" stroke-width="0.7"/>
<text x="226.7" y="268.8" font-family='"Liberation Sans", sans-serif' font-size="7.4" font-weight="normal" fill="#333" text-anchor="middle"  stroke="#333" stroke-width="0.3">0</text>
<text x="255.76" y="268.8" font-family='"Liberation Sans", sans-serif' font-size="7.4" font-weight="normal" fill="#333" text-anchor="middle"  stroke="#333" stroke-width="0.3">2000</text>
<text x="284.02" y="268.8" font-family='"Liberation Sans", sans-serif' font-size="7.4" font-weight="normal" fill="#333" text-anchor="middle"  stroke="#333" stroke-width="0.3">4000</text>
<text x="312.28" y="268.8" font-family='"Liberation Sans", sans-serif' font-size="7.4" font-weight="normal" fill="#333" text-anchor="middle"  stroke="#333" stroke-width="0.3">6000</text>
<text x="340.54" y="268.8" font-family='"Liberation Sans", sans-serif' font-size="7.4" font-weight="normal" fill="#333" text-anchor="middle"  stroke="#333" stroke-width="0.3">8000</text>
<text x="368.8" y="268.8" font-family='"Liberation Sans", sans-serif' font-size="7.4" font-weight="normal" fill="#333" text-anchor="middle"  stroke="#333" stroke-width="0.3">10000</text>
<text x="283.3" y="281.9" font-family='"Liberation Sans", sans-serif' font-size="8.4" font-weight="normal" fill="#333" text-anchor="start"  textLength="30.9" lengthAdjust="spacingAndGlyphs" stroke="#333" stroke-width="0.3">Time (s)</text>
<text transform="translate(197.2,197.9) rotate(-90)" font-family='"Liberation Sans", sans-serif' font-size="8.9" fill="#222" stroke="#222" stroke-width="0.3" text-anchor="middle" textLength="79.2" lengthAdjust="spacingAndGlyphs">Shuttle current (mA)</text>
<line x1="288.9" y1="153" x2="305.1" y2="153" stroke="#d89a88" stroke-width="1.1"/>
<text x="307.9" y="156.2" font-family='"Liberation Sans", sans-serif' font-size="7.6" font-weight="normal" fill="#333" text-anchor="start"  textLength="56.7" lengthAdjust="spacingAndGlyphs" stroke="#333" stroke-width="0.3">Bi<tspan stroke-width="0.12" font-size="5" dy="1.7">2</tspan><tspan dy="-1.7">S</tspan><tspan stroke-width="0.12" font-size="5" dy="1.7">3</tspan><tspan dy="-1.7">/MoS</tspan><tspan stroke-width="0.12" font-size="5" dy="1.7">2</tspan><tspan dy="-1.7">@MX</tspan></text>
<line x1="288.9" y1="164.3" x2="305.1" y2="164.3" stroke="#7a8ad0" stroke-width="1.1"/>
<text x="307.9" y="167.5" font-family='"Liberation Sans", sans-serif' font-size="7.6" font-weight="normal" fill="#333" text-anchor="start"  textLength="36.6" lengthAdjust="spacingAndGlyphs" stroke="#333" stroke-width="0.3">Bi<tspan stroke-width="0.12" font-size="5" dy="1.7">2</tspan><tspan dy="-1.7">S</tspan><tspan stroke-width="0.12" font-size="5" dy="1.7">3</tspan><tspan dy="-1.7">@MX</tspan></text>
<line x1="288.9" y1="174.7" x2="305.1" y2="174.7" stroke="#88b0a0" stroke-width="1.1"/>
<text x="307.9" y="177.9" font-family='"Liberation Sans", sans-serif' font-size="7.6" font-weight="normal" fill="#333" text-anchor="start"  textLength="11.4" lengthAdjust="spacingAndGlyphs" stroke="#333" stroke-width="0.3">MX</text>
<text x="388.3" y="145.5" font-family='"Liberation Sans", sans-serif' font-size="15" font-weight="bold" fill="#000" text-anchor="start" >d</text>
<path d="M416.6 152.4 L416.7 176 L417.1 180.2 L418.3 182 L423 183 L424.3 185.8 L424.8 192.3 L426.7 194.1 L427.6 197 L428.2 206 L429 210 L429.8 206 L430 202" fill="none" stroke="#b482ea" stroke-width="1.3" stroke-linejoin="round"/>
<polygon points="429.4,201.6 454.6,201.8 454.6,206.6 429.4,206.6" fill="#d8bcf4"/>
<polygon points="454.6,202.5 475.6,213 475.6,244.7 454.6,219.6" fill="#ead8fa"/>
<path d="M430 201.6 L430.9 206.6 L431.8 201.6 L432.7 206.6 L433.6 201.6 L434.5 206.6 L435.4 201.6 L436.3 206.6 L437.2 201.6 L438.1 206.6 L439 201.6 L439.9 206.6 L440.8 201.6 L441.7 206.6 L442.6 201.6 L443.5 206.6 L444.4 201.6 L445.3 206.6 L446.2 201.6 L447.1 206.6 L448 201.6 L448.9 206.6 L449.8 201.6 L450.7 206.6 L451.6 201.6 L452.5 206.6 L453.4 201.6 L454.3 206.6" fill="none" stroke="#b482ea" stroke-width="0.8"/>
<path d="M454.6 202.5 L454.95 219.6 L455.7 217.1 L456.35 203.38 L456.7 221.69 L457.45 219.19 L458.1 204.25 L458.45 223.78 L459.2 221.28 L459.85 205.12 L460.2 225.88 L460.95 223.38 L461.6 206 L461.95 227.97 L462.7 225.47 L463.35 206.88 L463.7 230.06 L464.45 227.56 L465.1 207.75 L465.45 232.15 L466.2 229.65 L466.85 208.62 L467.2 234.24 L467.95 231.74 L468.6 209.5 L468.95 236.33 L469.7 233.83 L470.35 210.38 L470.7 238.42 L471.45 235.92 L472.1 211.25 L472.45 240.52 L473.2 238.02 L473.85 212.12 L474.2 242.61 L474.95 240.11" fill="none" stroke="#b482ea" stroke-width="0.9" stroke-linejoin="round"/>
<line x1="475.8" y1="244.5" x2="475.8" y2="182" stroke="#b482ea" stroke-width="1"/>
<polygon points="477.5,182 483.6,189 483.6,199.3 477.5,203" fill="#e4d468"/>
<path d="M476 195 L477 182 L477.6 202 L478.3 184 L479 201 L479.8 185.5 L480.6 200.5 L481.4 187 L482.2 200 L483 189 L483.6 200 L484.6 189.31 L485.6 199.4 L486.6 188.92 L487.6 198.81 L488.6 188.54 L489.6 198.21 L490.6 188.15 L491.6 197.61 L492.6 187.77 L493.6 197.01 L494.6 187.38 L495.6 196.42 L496.6 187 L497.6 195.82 L498.6 186.61 L499.6 195.22 L500.6 186.22 L501.6 194.62 L502.6 185.84 L503.6 194.03 L504.6 185.45 L505.6 193.43 L506.6 185.07 L507.6 192.83 L508.6 184.68 L509.6 192.24 L510.6 184.3 L511.6 191.64 L512.6 183.91 L513.6 191.04 L514.6 183.53 L515.6 190.44 L516.6 183.14 L517.6 189.85 L518.6 182.76 L519.6 189.25 L520.6 182.37 L521.6 188.65 L522.6 181.99 L523.6 188.05 L524.6 181.6 L525.6 187.46 L526.6 181.21 L527.6 186.86 L528.6 180.83 L529.6 186.26 L530.6 180.44 L531.6 185.66 L532.6 180.06 L533.6 185.07 L534.6 179.67 L536.2 180 L536.6 150.5" fill="none" stroke="#c8b010" stroke-width="0.9" stroke-linejoin="round"/>
<line x1="410.2" y1="139.5" x2="542.4" y2="139.5" stroke="#111" stroke-width="1.5"/>
<line x1="410.2" y1="139.5" x2="410.2" y2="256.6" stroke="#111" stroke-width="1.5"/>
<line x1="410.2" y1="256.6" x2="542.4" y2="256.6" stroke="#111" stroke-width="1.5"/>
<line x1="407.7" y1="147.8" x2="410.2" y2="147.8" stroke="#111" stroke-width="1"/>
<text x="405.6" y="150.4" font-family='"Liberation Serif", serif' font-size="7.4" font-weight="bold" fill="#222" text-anchor="end"  textLength="8.6" lengthAdjust="spacingAndGlyphs">2.8</text>
<line x1="407.7" y1="164.55" x2="410.2" y2="164.55" stroke="#111" stroke-width="1"/>
<text x="405.6" y="167.15" font-family='"Liberation Serif", serif' font-size="7.4" font-weight="bold" fill="#222" text-anchor="end"  textLength="8.6" lengthAdjust="spacingAndGlyphs">2.6</text>
<line x1="407.7" y1="181.3" x2="410.2" y2="181.3" stroke="#111" stroke-width="1"/>
<text x="405.6" y="183.9" font-family='"Liberation Serif", serif' font-size="7.4" font-weight="bold" fill="#222" text-anchor="end"  textLength="8.6" lengthAdjust="spacingAndGlyphs">2.4</text>
<line x1="407.7" y1="198.05" x2="410.2" y2="198.05" stroke="#111" stroke-width="1"/>
<text x="405.6" y="200.65" font-family='"Liberation Serif", serif' font-size="7.4" font-weight="bold" fill="#222" text-anchor="end"  textLength="8.6" lengthAdjust="spacingAndGlyphs">2.2</text>
<line x1="407.7" y1="214.8" x2="410.2" y2="214.8" stroke="#111" stroke-width="1"/>
<text x="405.6" y="217.4" font-family='"Liberation Serif", serif' font-size="7.4" font-weight="bold" fill="#222" text-anchor="end"  textLength="8.6" lengthAdjust="spacingAndGlyphs">2.0</text>
<line x1="407.7" y1="231.55" x2="410.2" y2="231.55" stroke="#111" stroke-width="1"/>
<text x="405.6" y="234.15" font-family='"Liberation Serif", serif' font-size="7.4" font-weight="bold" fill="#222" text-anchor="end"  textLength="8.6" lengthAdjust="spacingAndGlyphs">1.8</text>
<line x1="407.7" y1="248.3" x2="410.2" y2="248.3" stroke="#111" stroke-width="1"/>
<text x="405.6" y="250.9" font-family='"Liberation Serif", serif' font-size="7.4" font-weight="bold" fill="#222" text-anchor="end"  textLength="8.6" lengthAdjust="spacingAndGlyphs">1.6</text>
<line x1="416.2" y1="256.6" x2="416.2" y2="259.1" stroke="#111" stroke-width="1"/>
<line x1="431.11" y1="256.6" x2="431.11" y2="258.1" stroke="#111" stroke-width="1"/>
<line x1="446.02" y1="256.6" x2="446.02" y2="259.1" stroke="#111" stroke-width="1"/>
<line x1="460.94" y1="256.6" x2="460.94" y2="258.1" stroke="#111" stroke-width="1"/>
<line x1="475.85" y1="256.6" x2="475.85" y2="259.1" stroke="#111" stroke-width="1"/>
<line x1="490.76" y1="256.6" x2="490.76" y2="258.1" stroke="#111" stroke-width="1"/>
<line x1="505.67" y1="256.6" x2="505.67" y2="259.1" stroke="#111" stroke-width="1"/>
<line x1="520.59" y1="256.6" x2="520.59" y2="258.1" stroke="#111" stroke-width="1"/>
<line x1="535.5" y1="256.6" x2="535.5" y2="259.1" stroke="#111" stroke-width="1"/>
<text x="416.2" y="267.8" font-family='"Liberation Serif", serif' font-size="7.6" font-weight="bold" fill="#222" text-anchor="middle" >0</text>
<text x="446.02" y="267.8" font-family='"Liberation Serif", serif' font-size="7.6" font-weight="bold" fill="#222" text-anchor="middle" >50</text>
<text x="475.85" y="267.8" font-family='"Liberation Serif", serif' font-size="7.6" font-weight="bold" fill="#222" text-anchor="middle" >100</text>
<text x="505.67" y="267.8" font-family='"Liberation Serif", serif' font-size="7.6" font-weight="bold" fill="#222" text-anchor="middle" >150</text>
<text x="535.5" y="267.8" font-family='"Liberation Serif", serif' font-size="7.6" font-weight="bold" fill="#222" text-anchor="middle" >200</text>
<text x="440.5" y="282" font-family='"Liberation Serif", serif' font-size="8.8" font-weight="bold" fill="#111" text-anchor="start"  textLength="72.7" lengthAdjust="spacingAndGlyphs">Normalized time (%)</text>
<text transform="translate(394.4,199.35) rotate(-90)" font-family='"Liberation Serif", serif' font-size="8.5" font-weight="bold" fill="#222" text-anchor="middle" textLength="41.7" lengthAdjust="spacingAndGlyphs">Voltage (V)</text>
<rect x="431.25" y="146.25" width="44.45" height="38.85" fill="#fff" stroke="#444" stroke-width="0.9"/>
<path d="M431.5 159.4 L438.2 169.6 L442 166 L448 162 L455 159.5 L461.4 157.8 L461.6 161 L463 166 L467.4 171.3" fill="none" stroke="#a070e0" stroke-width="0.8"/>
<line x1="438" y1="172.6" x2="475" y2="172.6" stroke="#333" stroke-width="0.6" stroke-dasharray="1,1.2"/>
<line x1="465" y1="157.8" x2="470" y2="157.8" stroke="#333" stroke-width="0.5" stroke-dasharray="1,1"/><line x1="467.5" y1="158" x2="467.5" y2="171" stroke="#333" stroke-width="0.5"/>
<line x1="431.25" y1="147" x2="432.5" y2="147" stroke="#444" stroke-width="0.4"/>
<text x="430.2" y="148" font-family='"Liberation Sans", sans-serif' font-size="2.4" font-weight="normal" fill="#555" text-anchor="end" >2.0</text>
<line x1="431.25" y1="155" x2="432.5" y2="155" stroke="#444" stroke-width="0.4"/>
<text x="430.2" y="156" font-family='"Liberation Sans", sans-serif' font-size="2.4" font-weight="normal" fill="#555" text-anchor="end" >2.1</text>
<line x1="431.25" y1="163" x2="432.5" y2="163" stroke="#444" stroke-width="0.4"/>
<text x="430.2" y="164" font-family='"Liberation Sans", sans-serif' font-size="2.4" font-weight="normal" fill="#555" text-anchor="end" >2.2</text>
<line x1="431.25" y1="171" x2="432.5" y2="171" stroke="#444" stroke-width="0.4"/>
<text x="430.2" y="172" font-family='"Liberation Sans", sans-serif' font-size="2.4" font-weight="normal" fill="#555" text-anchor="end" >2.3</text>
<line x1="431.25" y1="179" x2="432.5" y2="179" stroke="#444" stroke-width="0.4"/>
<text x="430.2" y="180" font-family='"Liberation Sans", sans-serif' font-size="2.4" font-weight="normal" fill="#555" text-anchor="end" >2.4</text>
<line x1="431.25" y1="185" x2="432.5" y2="185" stroke="#444" stroke-width="0.4"/>
<text x="430.2" y="186" font-family='"Liberation Sans", sans-serif' font-size="2.4" font-weight="normal" fill="#555" text-anchor="end" >2.3</text>
<text x="436" y="170.5" font-family='"Liberation Sans", sans-serif' font-size="2.5" font-weight="normal" fill="#444" text-anchor="start" >2.07</text>
<text x="459" y="156.5" font-family='"Liberation Sans", sans-serif' font-size="2.5" font-weight="normal" fill="#444" text-anchor="start" >2.11</text>
<text x="470" y="166" font-family='"Liberation Sans", sans-serif' font-size="2.5" font-weight="normal" fill="#444" text-anchor="start" >ΔE</text>
<text x="448" y="179" font-family='"Liberation Sans", sans-serif' font-size="2.4" font-weight="normal" fill="#a090c0" text-anchor="start" >MXene/SnS</text>
<line x1="431.3" y1="185.2" x2="427.8" y2="205" stroke="#a070e0" stroke-width="0.7" stroke-dasharray="1.5,1"/>
<line x1="475.6" y1="185.2" x2="431.4" y2="196" stroke="#a070e0" stroke-width="0.7" stroke-dasharray="1.5,1"/>
<rect x="427.8" y="205" width="3.6" height="6.5" fill="none" stroke="#a070e0" stroke-width="0.6" stroke-dasharray="1,0.8"/>
<text x="432.6" y="199" font-family='"Liberation Serif", serif' font-size="6.4" font-weight="bold" fill="#222" text-anchor="start"  textLength="39.6" lengthAdjust="spacingAndGlyphs">Li<tspan font-size="4.2" dy="1.3">2</tspan><tspan dy="-1.3">S Nucleation</tspan></text>
<rect x="477.5" y="180.2" width="6.1" height="25.3" fill="none" stroke="#c8b828" stroke-width="0.8" stroke-dasharray="1.4,1"/>
<line x1="478" y1="206" x2="535.5" y2="212.3" stroke="#c8b828" stroke-width="0.8" stroke-dasharray="1.5,1"/>
<line x1="478" y1="207.5" x2="492" y2="211.7" stroke="#c8b828" stroke-width="0.8" stroke-dasharray="1.5,1"/>
<rect x="492" y="211.7" width="42.6" height="37.9" fill="#fff" stroke="#444" stroke-width="0.9"/>
<path d="M492.5 242.5 L502 242.5 L503 216 L505 215.5 L510 218.5 L515 220.5 L517.5 220 L518.5 226 L521.7 235.6 L526 238.5 L534 238.8" fill="none" stroke="#c8b828" stroke-width="0.9"/>
<line x1="495" y1="242.5" x2="534" y2="242.5" stroke="#333" stroke-width="0.5" stroke-dasharray="1,1.2"/>
<line x1="519" y1="220.5" x2="524" y2="220.5" stroke="#333" stroke-width="0.5" stroke-dasharray="1,1"/><line x1="521.5" y1="221" x2="521.5" y2="238" stroke="#333" stroke-width="0.5"/>
<text x="506" y="246.5" font-family='"Liberation Sans", sans-serif' font-size="2.6" font-weight="normal" fill="#b0a040" text-anchor="start" >SnS/C</text>
<text x="488.6" y="205" font-family='"Liberation Serif", serif' font-size="6.3" font-weight="bold" fill="#222" text-anchor="start"  textLength="39.1" lengthAdjust="spacingAndGlyphs">Li<tspan font-size="4.3" dy="1.3">2</tspan><tspan dy="-1.3">S Activation</tspan></text>
<text x="414.8" y="249.5" font-family='"Liberation Serif", serif' font-size="7.2" font-weight="bold" fill="#222" text-anchor="start"  textLength="55" lengthAdjust="spacingAndGlyphs">MXene/MoS<tspan font-size="4.5" dy="1.2">2</tspan><tspan dy="-1.2">/SnS@C</tspan></text>
<line x1="493.5" y1="159" x2="504" y2="159" stroke="#b078e8" stroke-width="1.4"/>
<line x1="493.5" y1="166" x2="504" y2="166" stroke="#c8b828" stroke-width="1.4"/>
<text x="506.9" y="161" font-family='"Liberation Serif", serif' font-size="6" font-weight="normal" fill="#333" text-anchor="start"  textLength="21.7" lengthAdjust="spacingAndGlyphs">Discharge</text>
<text x="506.9" y="168" font-family='"Liberation Serif", serif' font-size="6" font-weight="normal" fill="#333" text-anchor="start"  textLength="15.2" lengthAdjust="spacingAndGlyphs">Charge</text>
<text x="6" y="308.4" font-family='"Liberation Sans", sans-serif' font-size="15.4" font-weight="bold" fill="#000" text-anchor="start" >e</text>
<text x="56.1" y="309" font-family='"Liberation Serif", serif' font-size="13.4" font-weight="bold" fill="#111" text-anchor="start"  textLength="58" lengthAdjust="spacingAndGlyphs">SnS<tspan font-size="8" dy="2.5">2</tspan><tspan dy="-2.5">@MX</tspan></text>
<line x1="9.2" y1="352.5" x2="44.6" y2="424.4" stroke="#555" stroke-width="0.7"/>
<line x1="44.6" y1="424.4" x2="160.4" y2="402.7" stroke="#555" stroke-width="0.7"/>
<line x1="160.4" y1="374" x2="160.4" y2="402.7" stroke="#555" stroke-width="0.7"/>
<line x1="26" y1="386.5" x2="28" y2="385.5" stroke="#555" stroke-width="0.6"/><line x1="102" y1="413.6" x2="102.5" y2="411.6" stroke="#555" stroke-width="0.6"/>
<text transform="translate(14.5,394) rotate(62)" font-family='"Liberation Sans", sans-serif' font-size="6.8" fill="#444" text-anchor="middle">y: 1.00 µm</text>
<text transform="translate(107,423.5) rotate(-9)" font-family='"Liberation Sans", sans-serif' font-size="6.8" fill="#444" text-anchor="middle">x: 1.00 µm</text>
<text x="163.4" y="384" font-family='"Liberation Sans", sans-serif' font-size="6.6" font-weight="normal" fill="#444" text-anchor="start" stroke="none" textLength="16.4" lengthAdjust="spacingAndGlyphs">79 nm</text>
<text x="163.6" y="412.3" font-family='"Liberation Sans", sans-serif' font-size="6.6" font-weight="normal" fill="#444" text-anchor="start" stroke="none" textLength="13" lengthAdjust="spacingAndGlyphs">0 nm</text>
<g><g fill="currentColor" stroke="currentColor" stroke-width="0.35"><path color="#ffe74b" d="M118.8 312.8L121.0 316.7L121.8 314.9L119.5 308.9"/><path color="#ffff7d" d="M116.5 309.6L118.8 312.8L119.5 308.9L117.3 309.3"/><path color="#fff776" d="M114.2 313.3L116.5 309.6L117.3 309.3L115.0 309.6"/><path color="#ffee56" d="M112.0 315.0L114.2 313.3L115.0 309.6L112.8 312.5"/><path color="#ffd044" d="M109.7 316.0L112.0 315.0L112.8 312.5L110.5 315.3"/><path color="#ffd74d" d="M119.5 308.9L121.8 314.9L122.5 316.2L120.3 311.9"/><path color="#efb233" d="M107.5 318.4L109.7 316.0L110.5 315.3L108.3 318.1"/><path color="#f0d572" d="M117.3 309.3L119.5 308.9L120.3 311.9L118.0 310.7"/><path color="#da9821" d="M105.2 321.9L107.5 318.4L108.3 318.1L106.0 321.7"/><path color="#f9e182" d="M115.0 309.6L117.3 309.3L118.0 310.7L115.8 311.0"/><path color="#cb8617" d="M103.0 324.3L105.2 321.9L106.0 321.7L103.8 324.6"/><path color="#dcbb54" d="M112.8 312.5L115.0 309.6L115.8 311.0L113.5 314.0"/><path color="#ca8215" d="M100.8 325.2L103.0 324.3L103.8 324.6L101.5 325.4"/><path color="#c69e38" d="M110.5 315.3L112.8 312.5L113.5 314.0L111.3 318.0"/><path color="#d1a134" d="M120.3 311.9L122.5 316.2L123.3 320.2L121.1 317.4"/><path color="#d48816" d="M98.5 325.1L100.8 325.2L101.5 325.4L99.3 325.0"/><path color="#c2932c" d="M108.3 318.1L110.5 315.3L111.3 318.0L109.0 320.2"/><path color="#c3a03d" d="M118.0 310.7L120.3 311.9L121.1 317.4L118.8 315.4"/><path color="#e09219" d="M96.2 324.0L98.5 325.1L99.3 325.0L97.0 324.3"/><path color="#c48c22" d="M106.0 321.7L108.3 318.1L109.0 320.2L106.8 322.8"/><path color="#bea148" d="M115.8 311.0L118.0 310.7L118.8 315.4L116.6 315.5"/><path color="#e1961b" d="M94.0 323.0L96.2 324.0L97.0 324.3L94.8 323.9"/><path color="#c78618" d="M103.8 324.6L106.0 321.7L106.8 322.8L104.5 325.4"/><path color="#a28532" d="M113.5 314.0L115.8 311.0L116.6 315.5L114.3 318.8"/><path color="#dc941b" d="M91.8 323.8L94.0 323.0L94.8 323.9L92.5 324.1"/><path color="#d78e19" d="M101.5 325.4L103.8 324.6L104.5 325.4L102.3 325.3"/><path color="#957324" d="M111.3 318.0L113.5 314.0L114.3 318.8L112.1 322.5"/><path color="#bb8620" d="M121.1 317.4L123.3 320.2L124.1 325.0L121.8 322.6"/><path color="#f8a71f" d="M89.5 325.0L91.8 323.8L92.5 324.1L90.3 322.7"/><path color="#f5a31d" d="M99.3 325.0L101.5 325.4L102.3 325.3L100.0 323.7"/><path color="#a0741e" d="M109.0 320.2L111.3 318.0L112.1 322.5L109.8 324.6"/><path color="#cb9c31" d="M118.8 315.4L121.1 317.4L121.8 322.6L119.6 319.3"/><path color="#ffb922" d="M87.2 325.9L89.5 325.0L90.3 322.7L88.0 322.5"/><path color="#ffb121" d="M97.0 324.3L99.3 325.0L100.0 323.7L97.8 323.2"/><path color="#a77418" d="M106.8 322.8L109.0 320.2L109.8 324.6L107.6 326.2"/><path color="#dbb03f" d="M116.6 315.5L118.8 315.4L119.6 319.3L117.3 317.7"/><path color="#f7a61e" d="M85.0 325.7L87.2 325.9L88.0 322.5L85.8 325.3"/><path color="#f4a821" d="M94.8 323.9L97.0 324.3L97.8 323.2L95.5 324.2"/><path color="#b77b16" d="M104.5 325.4L106.8 322.8L107.6 326.2L105.3 327.0"/><path color="#be9633" d="M114.3 318.8L116.6 315.5L117.3 317.7L115.1 321.6"/><path color="#ed9e1d" d="M82.7 325.0L85.0 325.7L85.8 325.3L83.5 324.9"/><path color="#dd971d" d="M92.5 324.1L94.8 323.9L95.5 324.2L93.3 325.5"/><path color="#e79b1c" d="M102.3 325.3L104.5 325.4L105.3 327.0L103.1 325.0"/><path color="#ad7f22" d="M112.1 322.5L114.3 318.8L115.1 321.6L112.8 325.7"/><path color="#d8901a" d="M80.5 326.5L82.7 325.0L83.5 324.9L81.3 326.6"/><path color="#bc7d16" d="M121.8 322.6L124.1 325.0L124.9 329.4L122.6 326.5"/><path color="#e19b20" d="M90.3 322.7L92.5 324.1L93.3 325.5L91.0 324.6"/><path color="#ffcd31" d="M100.0 323.7L102.3 325.3L103.1 325.0L100.8 320.6"/><path color="#b37b18" d="M109.8 324.6L112.1 322.5L112.8 325.7L110.6 327.6"/><path color="#cb8416" d="M78.2 328.4L80.5 326.5L81.3 326.6L79.0 328.4"/><path color="#e3a52b" d="M119.6 319.3L121.8 322.6L122.6 326.5L120.4 322.0"/><path color="#da9b24" d="M88.0 322.5L90.3 322.7L91.0 324.6L88.8 324.3"/><path color="#ffe143" d="M97.8 323.2L100.0 323.7L100.8 320.6L98.6 318.6"/><path color="#b87b16" d="M107.6 326.2L109.8 324.6L110.6 327.6L108.3 328.6"/><path color="#dd8f17" d="M76.0 328.3L78.2 328.4L79.0 328.4L76.8 327.6"/><path color="#f1be41" d="M117.3 317.7L119.6 319.3L120.4 322.0L118.1 319.4"/><path color="#b17a18" d="M85.8 325.3L88.0 322.5L88.8 324.3L86.5 328.3"/><path color="#ffe446" d="M95.5 324.2L97.8 323.2L98.6 318.6L96.3 319.9"/><path color="#d08b19" d="M105.3 327.0L107.6 326.2L108.3 328.6L106.1 327.8"/><path color="#f19e1b" d="M73.8 327.8L76.0 328.3L76.8 327.6L74.5 326.6"/><path color="#c89d34" d="M115.1 321.6L117.3 317.7L118.1 319.4L115.9 323.3"/><path color="#b57916" d="M83.5 324.9L85.8 325.3L86.5 328.3L84.3 328.6"/><path color="#ffcd38" d="M93.3 325.5L95.5 324.2L96.3 319.9L94.1 323.6"/><path color="#ffc42b" d="M103.1 325.0L105.3 327.0L106.1 327.8L103.8 323.0"/><path color="#dd9119" d="M71.5 328.7L73.8 327.8L74.5 326.6L72.3 328.6"/><path color="#b98521" d="M112.8 325.7L115.1 321.6L115.9 323.3L113.6 327.7"/><path color="#a87014" d="M81.3 326.6L83.5 324.9L84.3 328.6L82.0 329.6"/><path color="#c07b14" d="M122.6 326.5L124.9 329.4L125.6 332.9L123.4 329.2"/><path color="#dc9b22" d="M91.0 324.6L93.3 325.5L94.1 323.6L91.8 327.8"/><path color="#ffed4e" d="M100.8 320.6L103.1 325.0L103.8 323.0L101.6 318.4"/><path color="#c98115" d="M69.2 330.5L71.5 328.7L72.3 328.6L70.0 330.4"/><path color="#c88719" d="M110.6 327.6L112.8 325.7L113.6 327.7L111.4 329.0"/><path color="#b87815" d="M79.0 328.4L81.3 326.6L82.0 329.6L79.8 329.6"/><path color="#da9820" d="M120.4 322.0L122.6 326.5L123.4 329.2L121.1 326.2"/><path color="#b47c19" d="M88.8 324.3L91.0 324.6L91.8 327.8L89.6 328.7"/><path color="#ffff67" d="M98.6 318.6L100.8 320.6L101.6 318.4L99.3 317.7"/><path color="#be7611" d="M67.0 331.9L69.2 330.5L70.0 330.4L67.8 332.2"/><path color="#d58f1a" d="M108.3 328.6L110.6 327.6L111.4 329.0L109.1 329.2"/><path color="#fba81e" d="M76.8 327.6L79.0 328.4L79.8 329.6L77.5 325.7"/><path color="#c3942d" d="M118.1 319.4L120.4 322.0L121.1 326.2L118.9 324.7"/><path color="#9f6b13" d="M86.5 328.3L88.8 324.3L89.6 328.7L87.3 330.6"/><path color="#fff468" d="M96.3 319.9L98.6 318.6L99.3 317.7L97.1 318.0"/><path color="#b66e0f" d="M64.8 332.6L67.0 331.9L67.8 332.2L65.5 333.3"/><path color="#f7a71f" d="M106.1 327.8L108.3 328.6L109.1 329.2L106.9 327.4"/><path color="#ffce32" d="M74.5 326.6L76.8 327.6L77.5 325.7L75.3 320.8"/><path color="#977222" d="M115.9 323.3L118.1 319.4L118.9 324.7L116.6 327.6"/><path color="#a66c12" d="M84.3 328.6L86.5 328.3L87.3 330.6L85.1 332.5"/><path color="#ffdb50" d="M94.1 323.6L96.3 319.9L97.1 318.0L94.8 321.3"/><path color="#b16a0e" d="M62.5 332.9L64.8 332.6L65.5 333.3L63.3 333.9"/><path color="#ffe142" d="M103.8 323.0L106.1 327.8L106.9 327.4L104.6 321.0"/><path color="#ffc630" d="M72.3 328.6L74.5 326.6L75.3 320.8L73.0 326.5"/><path color="#966816" d="M113.6 327.7L115.9 323.3L116.6 327.6L114.4 331.5"/><path color="#9f6510" d="M82.0 329.6L84.3 328.6L85.1 332.5L82.8 332.9"/><path color="#b16d0f" d="M123.4 329.2L125.6 332.9L126.4 336.1L124.1 332.8"/><path color="#fbbb36" d="M91.8 327.8L94.1 323.6L94.8 321.3L92.6 325.9"/><path color="#c87a11" d="M60.2 332.7L62.5 332.9L63.3 333.9L61.0 331.8"/><path color="#ffff68" d="M101.6 318.4L103.8 323.0L104.6 321.0L102.4 319.3"/><path color="#ffbb23" d="M70.0 330.4L72.3 328.6L73.0 326.5L70.8 326.6"/><path color="#ac7314" d="M111.4 329.0L113.6 327.7L114.4 331.5L112.1 332.2"/><path color="#b77915" d="M121.1 326.2L123.4 329.2L124.1 332.8L121.9 331.1"/><path color="#b87613" d="M79.8 329.6L82.0 329.6L82.8 332.9L80.6 331.5"/><path color="#f4a923" d="M89.6 328.7L91.8 327.8L92.6 325.9L90.3 328.5"/><path color="#f69d19" d="M58.0 331.8L60.2 332.7L61.0 331.8L58.8 327.8"/><path color="#d1b252" d="M99.3 317.7L101.6 318.4L102.4 319.3L100.1 322.9"/><path color="#ffb020" d="M67.8 332.2L70.0 330.4L70.8 326.6L68.5 329.0"/><path color="#c08017" d="M109.1 329.2L111.4 329.0L112.1 332.2L109.9 331.5"/><path color="#b07b1a" d="M118.9 324.7L121.1 326.2L121.9 331.1L119.6 329.9"/><path color="#eea11e" d="M77.5 325.7L79.8 329.6L80.6 331.5L78.3 327.5"/><path color="#d08b19" d="M87.3 330.6L89.6 328.7L90.3 328.5L88.1 331.3"/><path color="#ffaa1e" d="M55.8 331.7L58.0 331.8L58.8 327.8L56.5 327.1"/><path color="#ac913d" d="M97.1 318.0L99.3 317.7L100.1 322.9L97.9 323.8"/><path color="#fba31b" d="M65.5 333.3L67.8 332.2L68.5 329.0L66.3 330.4"/><path color="#e39c1f" d="M106.9 327.4L109.1 329.2L109.9 331.5L107.6 329.3"/><path color="#ffe449" d="M75.3 320.8L77.5 325.7L78.3 327.5L76.1 320.3"/><path color="#906415" d="M116.6 327.6L118.9 324.7L119.6 329.9L117.4 332.6"/><path color="#bd7914" d="M85.1 332.5L87.3 330.6L88.1 331.3L85.8 333.4"/><path color="#f8a11b" d="M53.5 332.7L55.8 331.7L56.5 327.1L54.3 330.0"/><path color="#aa8b34" d="M94.8 321.3L97.1 318.0L97.9 323.8L95.6 324.9"/><path color="#cb8013" d="M63.3 333.9L65.5 333.3L66.3 330.4L64.0 334.6"/><path color="#fbc13d" d="M104.6 321.0L106.9 327.4L107.6 329.3L105.4 325.4"/><path color="#87590f" d="M114.4 331.5L116.6 327.6L117.4 332.6L115.1 335.7"/><path color="#ffe953" d="M73.0 326.5L75.3 320.8L76.1 320.3L73.8 320.7"/><path color="#c27a13" d="M82.8 332.9L85.1 332.5L85.8 333.4L83.6 333.5"/><path color="#aa640b" d="M124.1 332.8L126.4 336.1L127.2 338.0L124.9 335.9"/><path color="#ce8113" d="M51.2 333.6L53.5 332.7L54.3 330.0L52.0 332.8"/><path color="#cb9e34" d="M92.6 325.9L94.8 321.3L95.6 324.9L93.4 326.3"/><path color="#db8b15" d="M61.0 331.8L63.3 333.9L64.0 334.6L61.8 331.6"/><path color="#bc9b3b" d="M102.4 319.3L104.6 321.0L105.4 325.4L103.1 325.6"/><path color="#9f6510" d="M112.1 332.2L114.4 331.5L115.1 335.7L112.9 335.6"/><path color="#ffda44" d="M70.8 326.6L73.0 326.5L73.8 320.7L71.6 325.9"/><path color="#e09118" d="M80.6 331.5L82.8 332.9L83.6 333.5L81.3 331.3"/><path color="#9f640f" d="M121.9 331.1L124.1 332.8L124.9 335.9L122.7 335.9"/><path color="#bd720f" d="M49.0 333.6L51.2 333.6L52.0 332.8L49.8 333.6"/><path color="#eeb030" d="M90.3 328.5L92.6 325.9L93.4 326.3L91.1 327.7"/><path color="#ffbd24" d="M58.8 327.8L61.0 331.8L61.8 331.6L59.5 325.6"/><path color="#90742a" d="M100.1 322.9L102.4 319.3L103.1 325.6L100.9 328.3"/><path color="#d59925" d="M68.5 329.0L70.8 326.6L71.6 325.9L69.3 330.5"/><path color="#bb7914" d="M109.9 331.5L112.1 332.2L112.9 335.6L110.6 334.1"/><path color="#ce8a19" d="M78.3 327.5L80.6 331.5L81.3 331.3L79.1 332.5"/><path color="#8a590e" d="M119.6 329.9L121.9 331.1L122.7 335.9L120.4 336.7"/><path color="#ba710f" d="M46.8 333.5L49.0 333.6L49.8 333.6L47.5 333.5"/><path color="#eaa322" d="M88.1 331.3L90.3 328.5L91.1 327.7L88.9 330.5"/><path color="#ffd338" d="M56.5 327.1L58.8 327.8L59.5 325.6L57.3 324.0"/><path color="#a17d29" d="M97.9 323.8L100.1 322.9L100.9 328.3L98.6 329.6"/><path color="#de961c" d="M107.6 329.3L109.9 331.5L110.6 334.1L108.4 331.7"/><path color="#c9891a" d="M66.3 330.4L68.5 329.0L69.3 330.5L67.1 332.2"/><path color="#a3771f" d="M76.1 320.3L78.3 327.5L79.1 332.5L76.8 330.6"/><path color="#774c0c" d="M117.4 332.6L119.6 329.9L120.4 336.7L118.2 337.8"/><path color="#b9700f" d="M44.5 333.6L46.8 333.5L47.5 333.5L45.3 333.7"/><path color="#e0951a" d="M85.8 333.4L88.1 331.3L88.9 330.5L86.6 332.5"/><path color="#ffbe2d" d="M54.3 330.0L56.5 327.1L57.3 324.0L55.0 326.9"/><path color="#9c7724" d="M95.6 324.9L97.9 323.8L98.6 329.6L96.4 330.6"/><path color="#e1a72f" d="M105.4 325.4L107.6 329.3L108.4 331.7L106.1 329.7"/><path color="#ab6f12" d="M64.0 334.6L66.3 330.4L67.1 332.2L64.8 335.7"/><path color="#866a24" d="M73.8 320.7L76.1 320.3L76.8 330.6L74.6 327.2"/><path color="#8b550c" d="M115.1 335.7L117.4 332.6L118.2 337.8L115.9 338.4"/><path color="#cb7d12" d="M42.2 332.8L44.5 333.6L45.3 333.7L43.0 332.1"/><path color="#e59519" d="M83.6 333.5L85.8 333.4L86.6 332.5L84.4 332.8"/><path color="#c1710d" d="M124.9 335.9L127.2 338.0L127.9 338.1L125.7 336.3"/><path color="#db9019" d="M52.0 332.8L54.3 330.0L55.0 326.9L52.8 332.1"/><path color="#936d1e" d="M93.4 326.3L95.6 324.9L96.4 330.6L94.1 332.3"/><path color="#c27c14" d="M61.8 331.6L64.0 334.6L64.8 335.7L62.6 334.9"/><path color="#cda035" d="M103.1 325.6L105.4 325.4L106.1 329.7L103.9 328.7"/><path color="#a5812b" d="M71.6 325.9L73.8 320.7L74.6 327.2L72.3 328.0"/><path color="#ad6a0e" d="M112.9 335.6L115.1 335.7L115.9 338.4L113.7 337.5"/><path color="#b77110" d="M40.0 335.2L42.2 332.8L43.0 332.1L40.8 334.7"/><path color="#ef9f1c" d="M81.3 331.3L83.6 333.5L84.4 332.8L82.1 331.9"/><path color="#b76f0f" d="M122.7 335.9L124.9 335.9L125.7 336.3L123.4 337.3"/><path color="#b67111" d="M49.8 333.6L52.0 332.8L52.8 332.1L50.5 334.9"/><path color="#916819" d="M91.1 327.7L93.4 326.3L94.1 332.3L91.9 333.5"/><path color="#ffd047" d="M100.9 328.3L103.1 325.6L103.9 328.7L101.6 325.7"/><path color="#d18f1b" d="M59.5 325.6L61.8 331.6L62.6 334.9L60.3 331.1"/><path color="#bd8924" d="M69.3 330.5L71.6 325.9L72.3 328.0L70.1 331.8"/><path color="#cc8215" d="M110.6 334.1L112.9 335.6L113.7 337.5L111.4 335.6"/><path color="#ac660c" d="M37.8 336.6L40.0 335.2L40.8 334.7L38.5 336.9"/><path color="#b07414" d="M79.1 332.5L81.3 331.3L82.1 331.9L79.9 336.2"/><path color="#a8660d" d="M120.4 336.7L122.7 335.9L123.4 337.3L121.2 338.6"/><path color="#a5640d" d="M47.5 333.5L49.8 333.6L50.5 334.9L48.3 335.7"/><path color="#a06f16" d="M88.9 330.5L91.1 327.7L91.9 333.5L89.6 333.8"/><path color="#f9bf3c" d="M98.6 329.6L100.9 328.3L101.6 325.7L99.4 330.6"/><path color="#b78725" d="M57.3 324.0L59.5 325.6L60.3 331.1L58.1 328.8"/><path color="#eea522" d="M67.1 332.2L69.3 330.5L70.1 331.8L67.8 331.0"/><path color="#eb9f1d" d="M108.4 331.7L110.6 334.1L111.4 335.6L109.2 333.3"/><path color="#ac650c" d="M35.5 336.6L37.8 336.6L38.5 336.9L36.3 337.3"/><path color="#905e10" d="M76.8 330.6L79.1 332.5L79.9 336.2L77.6 337.8"/><path color="#a5620c" d="M118.2 337.8L120.4 336.7L121.2 338.6L118.9 339.3"/><path color="#9a5d0c" d="M45.3 333.7L47.5 333.5L48.3 335.7L46.0 336.3"/><path color="#d4901b" d="M86.6 332.5L88.9 330.5L89.6 333.8L87.4 332.4"/><path color="#ad7f22" d="M55.0 326.9L57.3 324.0L58.1 328.8L55.8 329.6"/><path color="#d79c28" d="M96.4 330.6L98.6 329.6L99.4 330.6L97.1 332.7"/><path color="#da911a" d="M64.8 335.7L67.1 332.2L67.8 331.0L65.6 334.9"/><path color="#f1af2d" d="M106.1 329.7L108.4 331.7L109.2 333.3L106.9 331.6"/><path color="#c37610" d="M33.2 335.5L35.5 336.6L36.3 337.3L34.0 335.3"/><path color="#825710" d="M74.6 327.2L76.8 330.6L77.6 337.8L75.4 336.4"/><path color="#ac660c" d="M115.9 338.4L118.2 337.8L118.9 339.3L116.7 339.5"/><path color="#9f610d" d="M43.0 332.1L45.3 333.7L46.0 336.3L43.8 335.7"/><path color="#ffae21" d="M84.4 332.8L86.6 332.5L87.4 332.4L85.1 331.3"/><path color="#b76e0e" d="M125.7 336.3L127.9 338.1L128.7 339.4L126.5 337.9"/><path color="#e7a426" d="M94.1 332.3L96.4 330.6L97.1 332.7L94.9 332.0"/><path color="#aa7315" d="M52.8 332.1L55.0 326.9L55.8 329.6L53.6 333.3"/><path color="#c67e14" d="M62.6 334.9L64.8 335.7L65.6 334.9L63.3 337.2"/><path color="#f4ba3a" d="M103.9 328.7L106.1 329.7L106.9 331.6L104.7 330.2"/><path color="#de8d16" d="M31.0 334.4L33.2 335.5L34.0 335.3L31.8 333.5"/><path color="#795512" d="M72.3 328.0L74.6 327.2L75.4 336.4L73.1 335.0"/><path color="#bc720f" d="M113.7 337.5L115.9 338.4L116.7 339.5L114.4 338.8"/><path color="#a1640e" d="M40.8 334.7L43.0 332.1L43.8 335.7L41.5 335.3"/><path color="#ad6a0f" d="M123.4 337.3L125.7 336.3L126.5 337.9L124.2 338.9"/><path color="#eca21f" d="M82.1 331.9L84.4 332.8L85.1 331.3L82.9 333.3"/><path color="#c28318" d="M91.9 333.5L94.1 332.3L94.9 332.0L92.6 336.9"/><path color="#a26610" d="M50.5 334.9L52.8 332.1L53.6 333.3L51.3 336.7"/><path color="#c17f16" d="M60.3 331.1L62.6 334.9L63.3 337.2L61.1 335.6"/><path color="#ffe052" d="M101.6 325.7L103.9 328.7L104.7 330.2L102.4 326.9"/><path color="#ec9b1b" d="M28.8 333.9L31.0 334.4L31.8 333.5L29.5 332.8"/><path color="#8f6214" d="M70.1 331.8L72.3 328.0L73.1 335.0L70.9 335.6"/><path color="#d38716" d="M111.4 335.6L113.7 337.5L114.4 338.8L112.2 337.0"/><path color="#b06b0e" d="M121.2 338.6L123.4 337.3L124.2 338.9L122.0 339.4"/><path color="#a8660e" d="M38.5 336.9L40.8 334.7L41.5 335.3L39.3 337.3"/><path color="#9a6511" d="M79.9 336.2L82.1 331.9L82.9 333.3L80.6 339.2"/><path color="#9d5f0c" d="M48.3 335.7L50.5 334.9L51.3 336.7L49.1 337.8"/><path color="#ac7113" d="M89.6 333.8L91.9 333.5L92.6 336.9L90.4 337.5"/><path color="#b37a17" d="M58.1 328.8L60.3 331.1L61.1 335.6L58.8 334.1"/><path color="#ffd04d" d="M99.4 330.6L101.6 325.7L102.4 326.9L100.2 328.2"/><path color="#ffb121" d="M26.5 332.6L28.8 333.9L29.5 332.8L27.3 331.0"/><path color="#cc8d1d" d="M67.8 331.0L70.1 331.8L70.9 335.6L68.6 333.6"/><path color="#eea11e" d="M109.2 333.3L111.4 335.6L112.2 337.0L109.9 334.8"/><path color="#a4610c" d="M36.3 337.3L38.5 336.9L39.3 337.3L37.0 338.9"/><path color="#955a0c" d="M77.6 337.8L79.9 336.2L80.6 339.2L78.4 340.6"/><path color="#c27610" d="M118.9 339.3L121.2 338.6L122.0 339.4L119.7 338.9"/><path color="#c68418" d="M87.4 332.4L89.6 333.8L90.4 337.5L88.1 335.2"/><path color="#a05f0c" d="M46.0 336.3L48.3 335.7L49.1 337.8L46.8 337.6"/><path color="#a47218" d="M55.8 329.6L58.1 328.8L58.8 334.1L56.6 333.9"/><path color="#ffe349" d="M97.1 332.7L99.4 330.6L100.2 328.2L97.9 329.6"/><path color="#ffbd29" d="M24.2 332.2L26.5 332.6L27.3 331.0L25.0 330.2"/><path color="#c18419" d="M65.6 334.9L67.8 331.0L68.6 333.6L66.4 335.6"/><path color="#f5b22e" d="M106.9 331.6L109.2 333.3L109.9 334.8L107.7 333.1"/><path color="#b06b0e" d="M34.0 335.3L36.3 337.3L37.0 338.9L34.8 337.7"/><path color="#bf7410" d="M116.7 339.5L118.9 339.3L119.7 338.9L117.5 340.3"/><path color="#a3630d" d="M75.4 336.4L77.6 337.8L78.4 340.6L76.1 339.9"/><path color="#cc8d1d" d="M85.1 331.3L87.4 332.4L88.1 335.2L85.9 334.4"/><path color="#aa660d" d="M43.8 335.7L46.0 336.3L46.8 337.6L44.6 337.3"/><path color="#8a4f08" d="M126.5 337.9L128.7 339.4L129.5 343.3L127.2 342.3"/><path color="#bf8118" d="M53.6 333.3L55.8 329.6L56.6 333.9L54.3 333.0"/><path color="#ffd23e" d="M94.9 332.0L97.1 332.7L97.9 329.6L95.7 331.6"/><path color="#f6aa23" d="M22.0 333.6L24.2 332.2L25.0 330.2L22.8 332.7"/><path color="#b17313" d="M63.3 337.2L65.6 334.9L66.4 335.6L64.1 339.4"/><path color="#f6bc3a" d="M104.7 330.2L106.9 331.6L107.7 333.1L105.4 332.1"/><path color="#bf7510" d="M114.4 338.8L116.7 339.5L117.5 340.3L115.2 340.2"/><path color="#b97613" d="M31.8 333.5L34.0 335.3L34.8 337.7L32.5 336.2"/><path color="#a96c11" d="M73.1 335.0L75.4 336.4L76.1 339.9L73.9 338.9"/><path color="#a6650e" d="M41.5 335.3L43.8 335.7L44.6 337.3L42.3 337.6"/><path color="#926312" d="M82.9 333.3L85.1 331.3L85.9 334.4L83.6 339.0"/><path color="#93570b" d="M124.2 338.9L126.5 337.9L127.2 342.3L125.0 341.5"/><path color="#ba7814" d="M51.3 336.7L53.6 333.3L54.3 333.0L52.1 336.9"/><path color="#cc8e1d" d="M92.6 336.9L94.9 332.0L95.7 331.6L93.4 337.2"/><path color="#f7a922" d="M19.8 332.3L22.0 333.6L22.8 332.7L20.5 332.7"/><path color="#b07011" d="M61.1 335.6L63.3 337.2L64.1 339.4L61.9 339.3"/><path color="#fdcd4a" d="M102.4 326.9L104.7 330.2L105.4 332.1L103.2 330.0"/><path color="#b97a15" d="M29.5 332.8L31.8 333.5L32.5 336.2L30.3 335.8"/><path color="#a66c12" d="M70.9 335.6L73.1 335.0L73.9 338.9L71.6 339.0"/><path color="#d18616" d="M112.2 337.0L114.4 338.8L115.2 340.2L113.0 338.6"/><path color="#74490b" d="M80.6 339.2L82.9 333.3L83.6 339.0L81.4 342.5"/><path color="#b46d0f" d="M122.0 339.4L124.2 338.9L125.0 341.5L122.7 340.0"/><path color="#945a0c" d="M39.3 337.3L41.5 335.3L42.3 337.6L40.1 339.6"/><path color="#c37911" d="M49.1 337.8L51.3 336.7L52.1 336.9L49.8 336.7"/><path color="#c78115" d="M90.4 337.5L92.6 336.9L93.4 337.2L91.2 339.0"/><path color="#b87b16" d="M17.5 336.3L19.8 332.3L20.5 332.7L18.3 337.5"/><path color="#ab6f13" d="M58.8 334.1L61.1 335.6L61.9 339.3L59.6 338.4"/><path color="#fff872" d="M100.2 328.2L102.4 326.9L103.2 330.0L100.9 325.4"/><path color="#cf8d1a" d="M27.3 331.0L29.5 332.8L30.3 335.8L28.0 333.8"/><path color="#ea9e1d" d="M109.9 334.8L112.2 337.0L113.0 338.6L110.7 336.6"/><path color="#a46c13" d="M68.6 333.6L70.9 335.6L71.6 339.0L69.4 339.5"/><path color="#d28011" d="M78.4 340.6L80.6 339.2L81.4 342.5L79.1 337.0"/><path color="#93570a" d="M37.0 338.9L39.3 337.3L40.1 339.6L37.8 341.0"/><path color="#f89f1a" d="M119.7 338.9L122.0 339.4L122.7 340.0L120.5 335.9"/><path color="#dc8914" d="M46.8 337.6L49.1 337.8L49.8 336.7L47.6 335.2"/><path color="#c27f15" d="M88.1 335.2L90.4 337.5L91.2 339.0L88.9 338.7"/><path color="#9a5f0d" d="M15.2 340.2L17.5 336.3L18.3 337.5L16.0 341.7"/><path color="#b67915" d="M56.6 333.9L58.8 334.1L59.6 338.4L57.4 336.7"/><path color="#ffff86" d="M97.9 329.6L100.2 328.2L100.9 325.4L98.7 326.1"/><path color="#f4b12e" d="M107.7 333.1L109.9 334.8L110.7 336.6L108.5 334.7"/><path color="#e9a92b" d="M25.0 330.2L27.3 331.0L28.0 333.8L25.8 330.7"/><path color="#9e6912" d="M66.4 335.6L68.6 333.6L69.4 339.5L67.1 338.8"/><path color="#a2610c" d="M34.8 337.7L37.0 338.9L37.8 341.0L35.6 340.3"/><path color="#f19817" d="M76.1 339.9L78.4 340.6L79.1 337.0L76.9 338.1"/><path color="#da8c17" d="M117.5 340.3L119.7 338.9L120.5 335.9L118.2 340.5"/><path color="#d78714" d="M44.6 337.3L46.8 337.6L47.6 335.2L45.3 336.3"/><path color="#a76f13" d="M85.9 334.4L88.1 335.2L88.9 338.7L86.7 339.3"/><path color="#724005" d="M127.2 342.3L129.5 343.3L130.2 346.6L128.0 345.9"/><path color="#9e5b0a" d="M13.0 340.9L15.2 340.2L16.0 341.7L13.8 342.5"/><path color="#d38e1a" d="M54.3 333.0L56.6 333.9L57.4 336.7L55.1 334.6"/><path color="#ffec59" d="M95.7 331.6L97.9 329.6L98.7 326.1L96.4 330.3"/><path color="#bb8620" d="M22.8 332.7L25.0 330.2L25.8 330.7L23.5 335.7"/><path color="#ad7012" d="M64.1 339.4L66.4 335.6L67.1 338.8L64.9 340.1"/><path color="#ffc63e" d="M105.4 332.1L107.7 333.1L108.5 334.7L106.2 332.9"/><path color="#d78815" d="M73.9 338.9L76.1 339.9L76.9 338.1L74.6 339.6"/><path color="#be7611" d="M115.2 340.2L117.5 340.3L118.2 340.5L116.0 341.9"/><path color="#a5660f" d="M32.5 336.2L34.8 337.7L35.6 340.3L33.3 339.7"/><path color="#af6c0f" d="M42.3 337.6L44.6 337.3L45.3 336.3L43.1 339.5"/><path color="#8c5a0e" d="M83.6 339.0L85.9 334.4L86.7 339.3L84.4 341.6"/><path color="#8c5008" d="M125.0 341.5L127.2 342.3L128.0 345.9L125.7 344.0"/><path color="#c68417" d="M52.1 336.9L54.3 333.0L55.1 334.6L52.9 336.3"/><path color="#e2a72e" d="M93.4 337.2L95.7 331.6L96.4 330.3L94.2 336.3"/><path color="#8b5e11" d="M20.5 332.7L22.8 332.7L23.5 335.7L21.3 340.1"/><path color="#fff65c" d="M103.2 330.0L105.4 332.1L106.2 332.9L104.0 329.1"/><path color="#ba7511" d="M61.9 339.3L64.1 339.4L64.9 340.1L62.6 341.1"/><path color="#c27b13" d="M71.6 339.0L73.9 338.9L74.6 339.6L72.4 340.3"/><path color="#9b630f" d="M30.3 335.8L32.5 336.2L33.3 339.7L31.1 340.1"/><path color="#cd8315" d="M113.0 338.6L115.2 340.2L116.0 341.9L113.7 340.2"/><path color="#96590b" d="M40.1 339.6L42.3 337.6L43.1 339.5L40.8 341.5"/><path color="#a1600c" d="M81.4 342.5L83.6 339.0L84.4 341.6L82.2 342.7"/><path color="#ae680d" d="M122.7 340.0L125.0 341.5L125.7 344.0L123.5 342.0"/><path color="#f7a21c" d="M49.8 336.7L52.1 336.9L52.9 336.3L50.6 334.0"/><path color="#dc931a" d="M91.2 339.0L93.4 337.2L94.2 336.3L91.9 339.1"/><path color="#ffffac" d="M100.9 325.4L103.2 330.0L104.0 329.1L101.7 325.4"/><path color="#68430b" d="M18.3 337.5L20.5 332.7L21.3 340.1L19.0 342.6"/><path color="#c07913" d="M59.6 338.4L61.9 339.3L62.6 341.1L60.4 340.1"/><path color="#a36b12" d="M28.0 333.8L30.3 335.8L31.1 340.1L28.8 338.9"/><path color="#c17b13" d="M69.4 339.5L71.6 339.0L72.4 340.3L70.1 340.6"/><path color="#ffaf21" d="M110.7 336.6L113.0 338.6L113.7 340.2L111.5 336.4"/><path color="#a25f0b" d="M37.8 341.0L40.1 339.6L40.8 341.5L38.6 341.4"/><path color="#c37811" d="M79.1 337.0L81.4 342.5L82.2 342.7L79.9 341.1"/><path color="#ba7814" d="M120.5 335.9L122.7 340.0L123.5 342.0L121.2 341.0"/><path color="#ffb221" d="M47.6 335.2L49.8 336.7L50.6 334.0L48.4 331.2"/><path color="#d28917" d="M88.9 338.7L91.2 339.0L91.9 339.1L89.7 339.8"/><path color="#804c09" d="M16.0 341.7L18.3 337.5L19.0 342.6L16.8 343.9"/><path color="#d38a17" d="M57.4 336.7L59.6 338.4L60.4 340.1L58.1 338.2"/><path color="#ffffb3" d="M98.7 326.1L100.9 325.4L101.7 325.4L99.5 325.7"/><path color="#d88c17" d="M67.1 338.8L69.4 339.5L70.1 340.6L67.9 339.2"/><path color="#ffcb39" d="M108.5 334.7L110.7 336.6L111.5 336.4L109.2 334.9"/><path color="#c1851b" d="M25.8 330.7L28.0 333.8L28.8 338.9L26.6 335.1"/><path color="#b76d0e" d="M35.6 340.3L37.8 341.0L38.6 341.4L36.3 340.8"/><path color="#b57614" d="M76.9 338.1L79.1 337.0L79.9 341.1L77.7 339.7"/><path color="#925e0f" d="M118.2 340.5L120.5 335.9L121.2 341.0L119.0 342.9"/><path color="#ffaf20" d="M45.3 336.3L47.6 335.2L48.4 331.2L46.1 334.0"/><path color="#c58015" d="M86.7 339.3L88.9 338.7L89.7 339.8L87.4 340.5"/><path color="#7f4606" d="M128.0 345.9L130.2 346.6L131.0 347.3L128.8 346.7"/><path color="#955509" d="M13.8 342.5L16.0 341.7L16.8 343.9L14.5 344.4"/><path color="#fff386" d="M96.4 330.3L98.7 326.1L99.5 325.7L97.2 328.5"/><path color="#d5901a" d="M55.1 334.6L57.4 336.7L58.1 338.2L55.9 337.2"/><path color="#e3951a" d="M64.9 340.1L67.1 338.8L67.9 339.2L65.6 338.9"/><path color="#8e6113" d="M23.5 335.7L25.8 330.7L26.6 335.1L24.3 339.5"/><path color="#ffcc43" d="M106.2 332.9L108.5 334.7L109.2 334.9L107.0 334.5"/><path color="#b36d0f" d="M33.3 339.7L35.6 340.3L36.3 340.8L34.1 341.4"/><path color="#b97714" d="M74.6 339.6L76.9 338.1L77.7 339.7L75.4 341.2"/><path color="#ad6b0f" d="M116.0 341.9L118.2 340.5L119.0 342.9L116.8 343.5"/><path color="#c58015" d="M43.1 339.5L45.3 336.3L46.1 334.0L43.9 339.4"/><path color="#8c4f07" d="M125.7 344.0L128.0 345.9L128.8 346.7L126.5 346.5"/><path color="#e09017" d="M84.4 341.6L86.7 339.3L87.4 340.5L85.2 338.8"/><path color="#f1bf42" d="M94.2 336.3L96.4 330.3L97.2 328.5L95.0 335.0"/><path color="#cd8a1a" d="M52.9 336.3L55.1 334.6L55.9 337.2L53.6 336.9"/><path color="#85550d" d="M21.3 340.1L23.5 335.7L24.3 339.5L22.1 343.5"/><path color="#ffae1e" d="M62.6 341.1L64.9 340.1L65.6 338.9L63.4 337.2"/><path color="#ffea5d" d="M104.0 329.1L106.2 332.9L107.0 334.5L104.7 330.7"/><path color="#a3640e" d="M31.1 340.1L33.3 339.7L34.1 341.4L31.8 342.7"/><path color="#c37d14" d="M72.4 340.3L74.6 339.6L75.4 341.2L73.2 341.1"/><path color="#c77e13" d="M113.7 340.2L116.0 341.9L116.8 343.5L114.5 342.3"/><path color="#9b5909" d="M123.5 342.0L125.7 344.0L126.5 346.5L124.3 345.3"/><path color="#c27811" d="M40.8 341.5L43.1 339.5L43.9 339.4L41.6 340.1"/><path color="#fda31b" d="M82.2 342.7L84.4 341.6L85.2 338.8L82.9 337.3"/><path color="#f9ac22" d="M50.6 334.0L52.9 336.3L53.6 336.9L51.4 334.2"/><path color="#e19d21" d="M91.9 339.1L94.2 336.3L95.0 335.0L92.7 339.5"/><path color="#ffb822" d="M60.4 340.1L62.6 341.1L63.4 337.2L61.1 335.9"/><path color="#ffffad" d="M101.7 325.4L104.0 329.1L104.7 330.7L102.5 326.8"/><path color="#88510a" d="M19.0 342.6L21.3 340.1L22.1 343.5L19.8 345.3"/><path color="#a4660f" d="M28.8 338.9L31.1 340.1L31.8 342.7L29.6 342.4"/><path color="#e49419" d="M70.1 340.6L72.4 340.3L73.2 341.1L70.9 339.3"/><path color="#eb9f1e" d="M111.5 336.4L113.7 340.2L114.5 342.3L112.2 339.1"/><path color="#dd8914" d="M38.6 341.4L40.8 341.5L41.6 340.1L39.4 339.1"/><path color="#fea51b" d="M79.9 341.1L82.2 342.7L82.9 337.3L80.7 339.7"/><path color="#a0610d" d="M121.2 341.0L123.5 342.0L124.3 345.3L122.0 344.5"/><path color="#d08918" d="M89.7 339.8L91.9 339.1L92.7 339.5L90.5 341.0"/><path color="#f8b42f" d="M48.4 331.2L50.6 334.0L51.4 334.2L49.1 332.6"/><path color="#ffc82c" d="M58.1 338.2L60.4 340.1L61.1 335.9L58.9 333.3"/><path color="#8c5008" d="M16.8 343.9L19.0 342.6L19.8 345.3L17.6 346.1"/><path color="#fffbab" d="M99.5 325.7L101.7 325.4L102.5 326.8L100.2 327.1"/><path color="#a96e12" d="M26.6 335.1L28.8 338.9L29.6 342.4L27.3 341.0"/><path color="#f09f1c" d="M67.9 339.2L70.1 340.6L70.9 339.3L68.7 339.6"/><path color="#e0a62e" d="M109.2 334.9L111.5 336.4L112.2 339.1L110.0 337.8"/><path color="#d98815" d="M36.3 340.8L38.6 341.4L39.4 339.1L37.1 340.3"/><path color="#a1630e" d="M119.0 342.9L121.2 341.0L122.0 344.5L119.8 344.7"/><path color="#db8e18" d="M77.7 339.7L79.9 341.1L80.7 339.7L78.4 341.0"/><path color="#d08817" d="M87.4 340.5L89.7 339.8L90.5 341.0L88.2 340.9"/><path color="#ba8521" d="M46.1 334.0L48.4 331.2L49.1 332.6L46.9 336.5"/><path color="#985508" d="M128.8 346.7L131.0 347.3L131.8 347.2L129.5 346.5"/><path color="#8e5108" d="M14.5 344.4L16.8 343.9L17.6 346.1L15.3 346.5"/><path color="#ffb328" d="M55.9 337.2L58.1 338.2L58.9 333.3L56.6 338.4"/><path color="#dbc777" d="M97.2 328.5L99.5 325.7L100.2 327.1L98.0 331.2"/><path color="#905e10" d="M24.3 339.5L26.6 335.1L27.3 341.0L25.1 341.8"/><path color="#df961b" d="M65.6 338.9L67.9 339.2L68.7 339.6L66.4 340.0"/><path color="#dba835" d="M107.0 334.5L109.2 334.9L110.0 337.8L107.8 337.4"/><path color="#bd7410" d="M116.8 343.5L119.0 342.9L119.8 344.7L117.5 343.9"/><path color="#b97411" d="M34.1 341.4L36.3 340.8L37.1 340.3L34.9 342.6"/><path color="#b87613" d="M75.4 341.2L77.7 339.7L78.4 341.0L76.2 342.9"/><path color="#9d6812" d="M43.9 339.4L46.1 334.0L46.9 336.5L44.6 341.1"/><path color="#feaa1f" d="M85.2 338.8L87.4 340.5L88.2 340.9L86.0 337.7"/><path color="#915208" d="M126.5 346.5L128.8 346.7L129.5 346.5L127.3 347.9"/><path color="#df991d" d="M53.6 336.9L55.9 337.2L56.6 338.4L54.4 338.1"/><path color="#c19d3b" d="M95.0 335.0L97.2 328.5L98.0 331.2L95.7 335.9"/><path color="#9a5f0d" d="M22.1 343.5L24.3 339.5L25.1 341.8L22.8 344.7"/><path color="#ffb426" d="M63.4 337.2L65.6 338.9L66.4 340.0L64.2 336.7"/><path color="#ffcf4c" d="M104.7 330.7L107.0 334.5L107.8 337.4L105.5 333.7"/><path color="#b26d0f" d="M31.8 342.7L34.1 341.4L34.9 342.6L32.6 343.2"/><path color="#d88c17" d="M73.2 341.1L75.4 341.2L76.2 342.9L73.9 340.6"/><path color="#df8f17" d="M114.5 342.3L116.8 343.5L117.5 343.9L115.3 342.2"/><path color="#ffce32" d="M82.9 337.3L85.2 338.8L86.0 337.7L83.7 333.9"/><path color="#8a4e07" d="M124.3 345.3L126.5 346.5L127.3 347.9L125.0 348.5"/><path color="#ce8516" d="M41.6 340.1L43.9 339.4L44.6 341.1L42.4 339.4"/><path color="#eba626" d="M51.4 334.2L53.6 336.9L54.4 338.1L52.1 336.2"/><path color="#cf9626" d="M92.7 339.5L95.0 335.0L95.7 335.9L93.5 339.9"/><path color="#965609" d="M19.8 345.3L22.1 343.5L22.8 344.7L20.6 347.0"/><path color="#ffc937" d="M61.1 335.9L63.4 337.2L64.2 336.7L61.9 335.3"/><path color="#ffec85" d="M102.5 326.8L104.7 330.7L105.5 333.7L103.2 330.2"/><path color="#cc7f12" d="M29.6 342.4L31.8 342.7L32.6 343.2L30.4 341.7"/><path color="#d08a18" d="M112.2 339.1L114.5 342.3L115.3 342.2L113.0 343.6"/><path color="#ffc024" d="M70.9 339.3L73.2 341.1L73.9 340.6L71.7 335.4"/><path color="#ffd438" d="M80.7 339.7L82.9 337.3L83.7 333.9L81.5 334.7"/><path color="#ec9b1b" d="M39.4 339.1L41.6 340.1L42.4 339.4L40.1 338.4"/><path color="#945409" d="M122.0 344.5L124.3 345.3L125.0 348.5L122.8 347.4"/><path color="#c38e25" d="M49.1 332.6L51.4 334.2L52.1 336.2L49.9 337.3"/><path color="#c68418" d="M90.5 341.0L92.7 339.5L93.5 339.9L91.2 342.9"/><path color="#8d5008" d="M17.6 346.1L19.8 345.3L20.6 347.0L18.3 347.9"/><path color="#ffc73e" d="M58.9 333.3L61.1 335.9L61.9 335.3L59.7 335.0"/><path color="#dccc81" d="M100.2 327.1L102.5 326.8L103.2 330.2L101.0 330.9"/><path color="#b07817" d="M110.0 337.8L112.2 339.1L113.0 343.6L110.8 343.2"/><path color="#e49218" d="M27.3 341.0L29.6 342.4L30.4 341.7L28.1 340.5"/><path color="#ffcf32" d="M68.7 339.6L70.9 339.3L71.7 335.4L69.4 337.1"/><path color="#c58116" d="M37.1 340.3L39.4 339.1L40.1 338.4L37.9 341.8"/><path color="#ffc82c" d="M78.4 341.0L80.7 339.7L81.5 334.7L79.2 337.2"/><path color="#ab660d" d="M119.8 344.7L122.0 344.5L122.8 347.4L120.5 345.8"/><path color="#7f5812" d="M46.9 336.5L49.1 332.6L49.9 337.3L47.6 342.2"/><path color="#cd8717" d="M88.2 340.9L90.5 341.0L91.2 342.9L89.0 342.1"/><path color="#8b4f07" d="M129.5 346.5L131.8 347.2L132.6 349.1L130.3 348.4"/><path color="#8b4f08" d="M15.3 346.5L17.6 346.1L18.3 347.9L16.1 348.3"/><path color="#d59f2d" d="M56.6 338.4L58.9 333.3L59.7 335.0L57.4 337.7"/><path color="#bda658" d="M98.0 331.2L100.2 327.1L101.0 330.9L98.7 334.2"/><path color="#d88d18" d="M25.1 341.8L27.3 341.0L28.1 340.5L25.9 341.4"/><path color="#eea422" d="M66.4 340.0L68.7 339.6L69.4 337.1L67.2 341.0"/><path color="#c48d22" d="M107.8 337.4L110.0 337.8L110.8 343.2L108.5 340.6"/><path color="#ffae20" d="M76.2 342.9L78.4 341.0L79.2 337.2L77.0 340.5"/><path color="#d78714" d="M117.5 343.9L119.8 344.7L120.5 345.8L118.3 343.4"/><path color="#ae6f11" d="M34.9 342.6L37.1 340.3L37.9 341.8L35.6 343.8"/><path color="#764c0c" d="M44.6 341.1L46.9 336.5L47.6 342.2L45.4 345.5"/><path color="#ffb925" d="M86.0 337.7L88.2 340.9L89.0 342.1L86.7 337.1"/><path color="#834a07" d="M127.3 347.9L129.5 346.5L130.3 348.4L128.1 349.8"/><path color="#ffb92c" d="M54.4 338.1L56.6 338.4L57.4 337.7L55.2 337.3"/><path color="#d2aa3e" d="M95.7 335.9L98.0 331.2L98.7 334.2L96.5 336.4"/><path color="#ba7512" d="M22.8 344.7L25.1 341.8L25.9 341.4L23.6 344.7"/><path color="#f6bf3e" d="M105.5 333.7L107.8 337.4L108.5 340.6L106.3 336.7"/><path color="#dc9820" d="M64.2 336.7L66.4 340.0L67.2 341.0L64.9 340.7"/><path color="#ffb120" d="M73.9 340.6L76.2 342.9L77.0 340.5L74.7 339.8"/><path color="#d88915" d="M32.6 343.2L34.9 342.6L35.6 343.8L33.4 341.3"/><path color="#ffb621" d="M115.3 342.2L117.5 343.9L118.3 343.4L116.0 339.9"/><path color="#a76a11" d="M42.4 339.4L44.6 341.1L45.4 345.5L43.1 343.2"/><path color="#ffe849" d="M83.7 333.9L86.0 337.7L86.7 337.1L84.5 331.8"/><path color="#7f4706" d="M125.0 348.5L127.3 347.9L128.1 349.8L125.8 350.4"/><path color="#ffc133" d="M52.1 336.2L54.4 338.1L55.2 337.3L52.9 336.3"/><path color="#ca9428" d="M93.5 339.9L95.7 335.9L96.5 336.4L94.2 341.3"/><path color="#f9d35e" d="M103.2 330.2L105.5 333.7L106.3 336.7L104.0 333.8"/><path color="#a5610b" d="M20.6 347.0L22.8 344.7L23.6 344.7L21.4 347.5"/><path color="#d09929" d="M61.9 335.3L64.2 336.7L64.9 340.7L62.7 338.6"/><path color="#ffab1e" d="M30.4 341.7L32.6 343.2L33.4 341.3L31.1 338.1"/><path color="#ffdb3e" d="M71.7 335.4L73.9 340.6L74.7 339.8L72.5 332.5"/><path color="#faa91f" d="M113.0 343.6L115.3 342.2L116.0 339.9L113.8 342.7"/><path color="#ae7314" d="M40.1 338.4L42.4 339.4L43.1 343.2L40.9 342.3"/><path color="#fff358" d="M81.5 334.7L83.7 333.9L84.5 331.8L82.2 331.8"/><path color="#a05b09" d="M122.8 347.4L125.0 348.5L125.8 350.4L123.6 348.0"/><path color="#d79c28" d="M49.9 337.3L52.1 336.2L52.9 336.3L50.7 339.2"/><path color="#b27615" d="M91.2 342.9L93.5 339.9L94.2 341.3L92.0 345.2"/><path color="#9c5909" d="M18.3 347.9L20.6 347.0L21.4 347.5L19.1 348.5"/><path color="#d5a231" d="M59.7 335.0L61.9 335.3L62.7 338.6L60.4 337.7"/><path color="#dcc163" d="M101.0 330.9L103.2 330.2L104.0 333.8L101.8 333.8"/><path color="#ffd748" d="M69.4 337.1L71.7 335.4L72.5 332.5L70.2 335.8"/><path color="#faa71e" d="M110.8 343.2L113.0 343.6L113.8 342.7L111.5 342.6"/><path color="#ffb722" d="M28.1 340.5L30.4 341.7L31.1 338.1L28.9 339.2"/><path color="#926010" d="M37.9 341.8L40.1 338.4L40.9 342.3L38.6 345.0"/><path color="#ffde4b" d="M79.2 337.2L81.5 334.7L82.2 331.8L80.0 334.6"/><path color="#d58111" d="M120.5 345.8L122.8 347.4L123.6 348.0L121.3 344.7"/><path color="#986612" d="M47.6 342.2L49.9 337.3L50.7 339.2L48.4 345.3"/><path color="#c17d15" d="M89.0 342.1L91.2 342.9L92.0 345.2L89.8 344.3"/><path color="#754106" d="M130.3 348.4L132.6 349.1L133.3 352.2L131.1 351.2"/><path color="#985608" d="M16.1 348.3L18.3 347.9L19.1 348.5L16.9 349.1"/><path color="#d3b24d" d="M98.7 334.2L101.0 330.9L101.8 333.8L99.5 336.1"/><path color="#e5ad34" d="M57.4 337.7L59.7 335.0L60.4 337.7L58.2 337.2"/><path color="#e8a92d" d="M67.2 341.0L69.4 337.1L70.2 335.8L68.0 340.4"/><path color="#e49a1c" d="M25.9 341.4L28.1 340.5L28.9 339.2L26.6 341.4"/><path color="#f8ab22" d="M108.5 340.6L110.8 343.2L111.5 342.6L109.3 342.4"/><path color="#ad6e11" d="M35.6 343.8L37.9 341.8L38.6 345.0L36.4 344.7"/><path color="#ffbc33" d="M77.0 340.5L79.2 337.2L80.0 334.6L77.7 338.7"/><path color="#ffad1e" d="M118.3 343.4L120.5 345.8L121.3 344.7L119.1 341.1"/><path color="#945b0d" d="M45.4 345.5L47.6 342.2L48.4 345.3L46.2 347.5"/><path color="#7c4506" d="M128.1 349.8L130.3 348.4L131.1 351.2L128.8 351.2"/><path color="#f4a821" d="M86.7 337.1L89.0 342.1L89.8 344.3L87.5 339.4"/><path color="#b18a2e" d="M96.5 336.4L98.7 334.2L99.5 336.1L97.3 341.3"/><path color="#ffe447" d="M55.2 337.3L57.4 337.7L58.2 337.2L55.9 334.0"/><path color="#ce8617" d="M23.6 344.7L25.9 341.4L26.6 341.4L24.4 343.6"/><path color="#ffba29" d="M64.9 340.7L67.2 341.0L68.0 340.4L65.7 339.4"/><path color="#e8ac2f" d="M106.3 336.7L108.5 340.6L109.3 342.4L107.0 340.8"/><path color="#e19219" d="M33.4 341.3L35.6 343.8L36.4 344.7L34.1 341.8"/><path color="#f0a925" d="M74.7 339.8L77.0 340.5L77.7 338.7L75.5 341.1"/><path color="#ffdb3c" d="M116.0 339.9L118.3 343.4L119.1 341.1L116.8 334.4"/><path color="#864b07" d="M125.8 350.4L128.1 349.8L128.8 351.2L126.6 351.2"/><path color="#c57a12" d="M43.1 343.2L45.4 345.5L46.2 347.5L43.9 344.3"/><path color="#f7c03e" d="M84.5 331.8L86.7 337.1L87.5 339.4L85.2 335.4"/><path color="#ffe54b" d="M52.9 336.3L55.2 337.3L55.9 334.0L53.7 335.2"/><path color="#8c6216" d="M94.2 341.3L96.5 336.4L97.3 341.3L95.0 345.5"/><path color="#ffbb30" d="M62.7 338.6L64.9 340.7L65.7 339.4L63.5 339.5"/><path color="#d2a639" d="M104.0 333.8L106.3 336.7L107.0 340.8L104.8 338.9"/><path color="#ce8013" d="M21.4 347.5L23.6 344.7L24.4 343.6L22.1 345.3"/><path color="#f4a822" d="M31.1 338.1L33.4 341.3L34.1 341.8L31.9 339.5"/><path color="#ffdf46" d="M72.5 332.5L74.7 339.8L75.5 341.1L73.2 334.1"/><path color="#ffea49" d="M113.8 342.7L116.0 339.9L116.8 334.4L114.6 337.5"/><path color="#cb8416" d="M40.9 342.3L43.1 343.2L43.9 344.3L41.7 343.7"/><path color="#d1aa3f" d="M82.2 331.8L84.5 331.8L85.2 335.4L83.0 335.1"/><path color="#a9600a" d="M123.6 348.0L125.8 350.4L126.6 351.2L124.3 349.0"/><path color="#a16911" d="M92.0 345.2L94.2 341.3L95.0 345.5L92.8 346.7"/><path color="#d59f2d" d="M50.7 339.2L52.9 336.3L53.7 335.2L51.4 340.7"/><path color="#d09929" d="M60.4 337.7L62.7 338.6L63.5 339.5L61.2 341.5"/><path color="#c4750f" d="M19.1 348.5L21.4 347.5L22.1 345.3L19.9 347.5"/><path color="#b49236" d="M101.8 333.8L104.0 333.8L104.8 338.9L102.5 339.2"/><path color="#c98e20" d="M28.9 339.2L31.1 338.1L31.9 339.5L29.6 341.5"/><path color="#c8a139" d="M70.2 335.8L72.5 332.5L73.2 334.1L71.0 338.1"/><path color="#ffda3b" d="M111.5 342.6L113.8 342.7L114.6 337.5L112.3 340.4"/><path color="#c17d15" d="M38.6 345.0L40.9 342.3L41.7 343.7L39.4 344.7"/><path color="#d58513" d="M121.3 344.7L123.6 348.0L124.3 349.0L122.1 345.4"/><path color="#c69f39" d="M80.0 334.6L82.2 331.8L83.0 335.1L80.8 336.9"/><path color="#b87412" d="M89.8 344.3L92.0 345.2L92.8 346.7L90.5 346.9"/><path color="#9b6612" d="M48.4 345.3L50.7 339.2L51.4 340.7L49.2 347.3"/><path color="#7c4405" d="M131.1 351.2L133.3 352.2L134.1 353.4L131.9 352.2"/><path color="#b4680b" d="M16.9 349.1L19.1 348.5L19.9 347.5L17.6 348.9"/><path color="#c28f27" d="M58.2 337.2L60.4 337.7L61.2 341.5L59.0 341.0"/><path color="#a7852e" d="M99.5 336.1L101.8 333.8L102.5 339.2L100.3 340.6"/><path color="#c18419" d="M26.6 341.4L28.9 339.2L29.6 341.5L27.4 343.1"/><path color="#bf8e28" d="M68.0 340.4L70.2 335.8L71.0 338.1L68.7 341.7"/><path color="#eaa526" d="M109.3 342.4L111.5 342.6L112.3 340.4L110.1 344.6"/><path color="#ffc427" d="M119.1 341.1L121.3 344.7L122.1 345.4L119.8 339.2"/><path color="#bf7913" d="M36.4 344.7L38.6 345.0L39.4 344.7L37.2 346.6"/><path color="#a37a23" d="M77.7 338.7L80.0 334.6L80.8 336.9L78.5 342.7"/><path color="#a0610d" d="M46.2 347.5L48.4 345.3L49.2 347.3L46.9 349.0"/><path color="#de951b" d="M87.5 339.4L89.8 344.3L90.5 346.9L88.3 342.5"/><path color="#8d4f07" d="M128.8 351.2L131.1 351.2L131.9 352.2L129.6 351.5"/><path color="#e4b139" d="M55.9 334.0L58.2 337.2L59.0 341.0L56.7 337.2"/><path color="#9f7520" d="M97.3 341.3L99.5 336.1L100.3 340.6L98.0 344.1"/><path color="#f0a21e" d="M24.4 343.6L26.6 341.4L27.4 343.1L25.1 340.9"/><path color="#e1a228" d="M65.7 339.4L68.0 340.4L68.7 341.7L66.5 341.4"/><path color="#b87f19" d="M107.0 340.8L109.3 342.4L110.1 344.6L107.8 346.5"/><path color="#b47413" d="M34.1 341.8L36.4 344.7L37.2 346.6L34.9 346.3"/><path color="#bc831d" d="M75.5 341.1L77.7 338.7L78.5 342.7L76.2 342.9"/><path color="#fffd5b" d="M116.8 334.4L119.1 341.1L119.8 339.2L117.6 332.6"/><path color="#b78422" d="M85.2 335.4L87.5 339.4L88.3 342.5L86.0 342.4"/><path color="#965508" d="M126.6 351.2L128.8 351.2L129.6 351.5L127.4 351.6"/><path color="#cc7f13" d="M43.9 344.3L46.2 347.5L46.9 349.0L44.7 345.6"/><path color="#d1a63a" d="M53.7 335.2L55.9 334.0L56.7 337.2L54.5 337.6"/><path color="#a16a13" d="M95.0 345.5L97.3 341.3L98.0 344.1L95.8 347.9"/><path color="#ffb822" d="M22.1 345.3L24.4 343.6L25.1 340.9L22.9 340.4"/><path color="#c18b22" d="M63.5 339.5L65.7 339.4L66.5 341.4L64.2 343.4"/><path color="#9e6f19" d="M104.8 338.9L107.0 340.8L107.8 346.5L105.6 345.9"/><path color="#b87c17" d="M31.9 339.5L34.1 341.8L34.9 346.3L32.7 343.8"/><path color="#fff06b" d="M114.6 337.5L116.8 334.4L117.6 332.6L115.3 335.5"/><path color="#e3a82e" d="M73.2 334.1L75.5 341.1L76.2 342.9L74.0 340.1"/><path color="#9c7522" d="M83.0 335.1L85.2 335.4L86.0 342.4L83.8 341.0"/><path color="#d28a18" d="M41.7 343.7L43.9 344.3L44.7 345.6L42.4 344.5"/><path color="#9a5809" d="M124.3 349.0L126.6 351.2L127.4 351.6L125.1 351.9"/><path color="#a77d24" d="M51.4 340.7L53.7 335.2L54.5 337.6L52.2 343.2"/><path color="#945c0d" d="M92.8 346.7L95.0 345.5L95.8 347.9L93.5 350.6"/><path color="#e69619" d="M19.9 347.5L22.1 345.3L22.9 340.4L20.6 346.4"/><path color="#986915" d="M61.2 341.5L63.5 339.5L64.2 343.4L62.0 346.7"/><path color="#9d721d" d="M102.5 339.2L104.8 338.9L105.6 345.9L103.3 344.6"/><path color="#deae3b" d="M112.3 340.4L114.6 337.5L115.3 335.5L113.1 342.5"/><path color="#aa7416" d="M29.6 341.5L31.9 339.5L32.7 343.8L30.4 344.8"/><path color="#967223" d="M71.0 338.1L73.2 334.1L74.0 340.1L71.8 342.1"/><path color="#e3971b" d="M39.4 344.7L41.7 343.7L42.4 344.5L40.2 343.6"/><path color="#b98d2b" d="M80.8 336.9L83.0 335.1L83.8 341.0L81.5 339.4"/><path color="#a6640d" d="M122.1 345.4L124.3 349.0L125.1 351.9L122.9 349.8"/><path color="#976311" d="M49.2 347.3L51.4 340.7L52.2 343.2L50.0 348.8"/><path color="#9d600d" d="M90.5 346.9L92.8 346.7L93.5 350.6L91.3 349.5"/><path color="#c06d0b" d="M131.9 352.2L134.1 353.4L134.9 350.3L132.6 348.8"/><path color="#b56e0f" d="M17.6 348.9L19.9 347.5L20.6 346.4L18.4 349.7"/><path color="#8a5c11" d="M59.0 341.0L61.2 341.5L62.0 346.7L59.7 348.1"/><path color="#c28d25" d="M100.3 340.6L102.5 339.2L103.3 344.6L101.1 342.8"/><path color="#b67a16" d="M27.4 343.1L29.6 341.5L30.4 344.8L28.2 345.4"/><path color="#aa7a1d" d="M68.7 341.7L71.0 338.1L71.8 342.1L69.5 344.5"/><path color="#ca9023" d="M110.1 344.6L112.3 340.4L113.1 342.5L110.8 345.0"/><path color="#8c6317" d="M78.5 342.7L80.8 336.9L81.5 339.4L79.3 346.9"/><path color="#eda11e" d="M119.8 339.2L122.1 345.4L122.9 349.8L120.6 342.2"/><path color="#da8f18" d="M37.2 346.6L39.4 344.7L40.2 343.6L37.9 345.8"/><path color="#9b5d0c" d="M46.9 349.0L49.2 347.3L50.0 348.8L47.7 351.2"/><path color="#d38917" d="M88.3 342.5L90.5 346.9L91.3 349.5L89.0 344.9"/><path color="#ba6b0b" d="M129.6 351.5L131.9 352.2L132.6 348.8L130.4 351.4"/><path color="#7d5510" d="M56.7 337.2L59.0 341.0L59.7 348.1L57.5 347.5"/><path color="#dd9d25" d="M98.0 344.1L100.3 340.6L101.1 342.8L98.8 343.3"/><path color="#eea421" d="M25.1 340.9L27.4 343.1L28.2 345.4L25.9 341.6"/><path color="#c28117" d="M107.8 346.5L110.1 344.6L110.8 345.0L108.6 348.5"/><path color="#c68a1d" d="M66.5 341.4L68.7 341.7L69.5 344.5L67.2 344.5"/><path color="#d38e1a" d="M76.2 342.9L78.5 342.7L79.3 346.9L77.0 343.4"/><path color="#e39318" d="M34.9 346.3L37.2 346.6L37.9 345.8L35.7 345.5"/><path color="#fff35b" d="M117.6 332.6L119.8 339.2L120.6 342.2L118.4 333.9"/><path color="#ac690e" d="M44.7 345.6L46.9 349.0L47.7 351.2L45.5 349.5"/><path color="#9f6a13" d="M86.0 342.4L88.3 342.5L89.0 344.9L86.8 348.0"/><path color="#a35d09" d="M127.4 351.6L129.6 351.5L130.4 351.4L128.1 352.2"/><path color="#8f681b" d="M54.5 337.6L56.7 337.2L57.5 347.5L55.2 342.9"/><path color="#d28b19" d="M95.8 347.9L98.0 344.1L98.8 343.3L96.6 347.1"/><path color="#a36911" d="M105.6 345.9L107.8 346.5L108.6 348.5L106.3 350.9"/><path color="#efad2c" d="M22.9 340.4L25.1 340.9L25.9 341.6L23.7 341.1"/><path color="#b67d18" d="M64.2 343.4L66.5 341.4L67.2 344.5L65.0 346.1"/><path color="#e1951a" d="M32.7 343.8L34.9 346.3L35.7 345.5L33.4 345.6"/><path color="#ffbd2f" d="M74.0 340.1L76.2 342.9L77.0 343.4L74.8 340.4"/><path color="#f2d36b" d="M115.3 335.5L117.6 332.6L118.4 333.9L116.1 335.9"/><path color="#b87714" d="M42.4 344.5L44.7 345.6L45.5 349.5L43.2 346.9"/><path color="#774f0d" d="M83.8 341.0L86.0 342.4L86.8 348.0L84.5 349.8"/><path color="#955508" d="M125.1 351.9L127.4 351.6L128.1 352.2L125.9 353.5"/><path color="#bc8923" d="M52.2 343.2L54.5 337.6L55.2 342.9L53.0 342.8"/><path color="#b26d0f" d="M93.5 350.6L95.8 347.9L96.6 347.1L94.3 350.9"/><path color="#b87d18" d="M20.6 346.4L22.9 340.4L23.7 341.1L21.4 347.0"/><path color="#b17515" d="M62.0 346.7L64.2 343.4L65.0 346.1L62.8 348.1"/><path color="#bc7c15" d="M103.3 344.6L105.6 345.9L106.3 350.9L104.1 347.2"/><path color="#dfa42c" d="M71.8 342.1L74.0 340.1L74.8 340.4L72.5 342.8"/><path color="#caa139" d="M113.1 342.5L115.3 335.5L116.1 335.9L113.9 342.8"/><path color="#bd7e16" d="M30.4 344.8L32.7 343.8L33.4 345.6L31.2 347.0"/><path color="#cb8818" d="M40.2 343.6L42.4 344.5L43.2 346.9L41.0 345.7"/><path color="#704a0d" d="M81.5 339.4L83.8 341.0L84.5 349.8L82.3 349.9"/><path color="#945509" d="M122.9 349.8L125.1 351.9L125.9 353.5L123.6 353.6"/><path color="#b47715" d="M50.0 348.8L52.2 343.2L53.0 342.8L50.7 349.4"/><path color="#a8630b" d="M91.3 349.5L93.5 350.6L94.3 350.9L92.1 351.6"/><path color="#e69016" d="M132.6 348.8L134.9 350.3L135.6 347.6L133.4 347.8"/><path color="#9b600e" d="M18.4 349.7L20.6 346.4L21.4 347.0L19.2 352.1"/><path color="#f5ab24" d="M101.1 342.8L103.3 344.6L104.1 347.2L101.8 343.0"/><path color="#9f640f" d="M59.7 348.1L62.0 346.7L62.8 348.1L60.5 351.5"/><path color="#e8a426" d="M69.5 344.5L71.8 342.1L72.5 342.8L70.3 343.6"/><path color="#bc7c15" d="M28.2 345.4L30.4 344.8L31.2 347.0L28.9 347.5"/><path color="#c58b20" d="M110.8 345.0L113.1 342.5L113.9 342.8L111.6 347.5"/><path color="#d58f1a" d="M37.9 345.8L40.2 343.6L41.0 345.7L38.7 345.3"/><path color="#6b460c" d="M79.3 346.9L81.5 339.4L82.3 349.9L80.0 350.1"/><path color="#b37212" d="M120.6 342.2L122.9 349.8L123.6 353.6L121.4 349.2"/><path color="#995b0b" d="M47.7 351.2L50.0 348.8L50.7 349.4L48.5 353.3"/><path color="#ac690e" d="M130.4 351.4L132.6 348.8L133.4 347.8L131.1 352.4"/><path color="#c17812" d="M89.0 344.9L91.3 349.5L92.1 351.6L89.8 347.8"/><path color="#f6b12c" d="M98.8 343.3L101.1 342.8L101.8 343.0L99.6 342.9"/><path color="#8c560c" d="M57.5 347.5L59.7 348.1L60.5 351.5L58.2 352.9"/><path color="#db951c" d="M25.9 341.6L28.2 345.4L28.9 347.5L26.7 344.8"/><path color="#e29b1f" d="M67.2 344.5L69.5 344.5L70.3 343.6L68.0 346.0"/><path color="#9d6711" d="M108.6 348.5L110.8 345.0L111.6 347.5L109.4 351.6"/><path color="#eb9e1d" d="M35.7 345.5L37.9 345.8L38.7 345.3L36.5 345.4"/><path color="#ef9f1c" d="M77.0 343.4L79.3 346.9L80.0 350.1L77.8 343.5"/><path color="#af8326" d="M118.4 333.9L120.6 342.2L121.4 349.2L119.1 343.6"/><path color="#a8610a" d="M128.1 352.2L130.4 351.4L131.1 352.4L128.9 352.7"/><path color="#9c5b0a" d="M45.5 349.5L47.7 351.2L48.5 353.3L46.2 352.9"/><path color="#8e5a0e" d="M86.8 348.0L89.0 344.9L89.8 347.8L87.6 351.2"/><path color="#955f0f" d="M55.2 342.9L57.5 347.5L58.2 352.9L56.0 350.4"/><path color="#cb8919" d="M96.6 347.1L98.8 343.3L99.6 342.9L97.3 347.4"/><path color="#c48418" d="M65.0 346.1L67.2 344.5L68.0 346.0L65.8 347.8"/><path color="#a5660e" d="M106.3 350.9L108.6 348.5L109.4 351.6L107.1 352.0"/><path color="#c28a21" d="M23.7 341.1L25.9 341.6L26.7 344.8L24.4 344.7"/><path color="#cd8919" d="M33.4 345.6L35.7 345.5L36.5 345.4L34.2 347.7"/><path color="#ffcf39" d="M74.8 340.4L77.0 343.4L77.8 343.5L75.5 339.7"/><path color="#836a26" d="M116.1 335.9L118.4 333.9L119.1 343.6L116.9 343.3"/><path color="#ba7411" d="M43.2 346.9L45.5 349.5L46.2 352.9L44.0 349.2"/><path color="#8c540b" d="M84.5 349.8L86.8 348.0L87.6 351.2L85.3 352.8"/><path color="#b7690b" d="M125.9 353.5L128.1 352.2L128.9 352.7L126.6 352.0"/><path color="#a3650f" d="M94.3 350.9L96.6 347.1L97.3 347.4L95.1 351.9"/><path color="#946412" d="M53.0 342.8L55.2 342.9L56.0 350.4L53.8 348.1"/><path color="#bc7b15" d="M62.8 348.1L65.0 346.1L65.8 347.8L63.5 349.3"/><path color="#9d6b14" d="M21.4 347.0L23.7 341.1L24.4 344.7L22.2 348.9"/><path color="#e79418" d="M104.1 347.2L106.3 350.9L107.1 352.0L104.9 347.4"/><path color="#ac7113" d="M31.2 347.0L33.4 345.6L34.2 347.7L32.0 349.9"/><path color="#ce992b" d="M72.5 342.8L74.8 340.4L75.5 339.7L73.3 345.0"/><path color="#876720" d="M113.9 342.8L116.1 335.9L116.9 343.3L114.6 345.8"/><path color="#d88f19" d="M41.0 345.7L43.2 346.9L44.0 349.2L41.7 346.5"/><path color="#a35d09" d="M123.6 353.6L125.9 353.5L126.6 352.0L124.4 355.1"/><path color="#8c520a" d="M82.3 349.9L84.5 349.8L85.3 352.8L83.1 353.7"/><path color="#9d5b0a" d="M92.1 351.6L94.3 350.9L95.1 351.9L92.8 353.1"/><path color="#714a0c" d="M50.7 349.4L53.0 342.8L53.8 348.1L51.5 353.3"/><path color="#88540c" d="M133.4 347.8L135.6 347.6L136.4 352.8L134.2 352.8"/><path color="#8c560c" d="M19.2 352.1L21.4 347.0L22.2 348.9L19.9 354.2"/><path color="#bf7913" d="M60.5 351.5L62.8 348.1L63.5 349.3L61.3 350.4"/><path color="#ffb726" d="M101.8 343.0L104.1 347.2L104.9 347.4L102.6 343.7"/><path color="#bb7914" d="M28.9 347.5L31.2 347.0L32.0 349.9L29.7 349.0"/><path color="#b9821d" d="M70.3 343.6L72.5 342.8L73.3 345.0L71.0 347.2"/><path color="#b17b19" d="M111.6 347.5L113.9 342.8L114.6 345.8L112.4 349.0"/><path color="#9d5b0a" d="M121.4 349.2L123.6 353.6L124.4 355.1L122.1 354.6"/><path color="#eda11f" d="M38.7 345.3L41.0 345.7L41.7 346.5L39.5 345.3"/><path color="#95590b" d="M80.0 350.1L82.3 349.9L83.1 353.7L80.8 352.8"/><path color="#774507" d="M48.5 353.3L50.7 349.4L51.5 353.3L49.2 356.5"/><path color="#97580a" d="M89.8 347.8L92.1 351.6L92.8 353.1L90.6 353.2"/><path color="#a0620e" d="M131.1 352.4L133.4 347.8L134.2 352.8L131.9 351.6"/><path color="#ba700f" d="M58.2 352.9L60.5 351.5L61.3 350.4L59.0 352.9"/><path color="#e1a229" d="M99.6 342.9L101.8 343.0L102.6 343.7L100.4 344.3"/><path color="#f0a21e" d="M26.7 344.8L28.9 347.5L29.7 349.0L27.5 345.3"/><path color="#b47b17" d="M68.0 346.0L70.3 343.6L71.0 347.2L68.8 348.3"/><path color="#b07112" d="M109.4 351.6L111.6 347.5L112.4 349.0L110.1 352.1"/><path color="#efa623" d="M36.5 345.4L38.7 345.3L39.5 345.3L37.2 345.4"/><path color="#cb8316" d="M77.8 343.5L80.0 350.1L80.8 352.8L78.6 348.0"/><path color="#8b590e" d="M119.1 343.6L121.4 349.2L122.1 354.6L119.9 352.8"/><path color="#724307" d="M87.6 351.2L89.8 347.8L90.6 353.2L88.3 354.7"/><path color="#bc710e" d="M128.9 352.7L131.1 352.4L131.9 351.6L129.7 352.9"/><path color="#955508" d="M46.2 352.9L48.5 353.3L49.2 356.5L47.0 354.5"/><path color="#b36c0e" d="M56.0 350.4L58.2 352.9L59.0 352.9L56.8 353.2"/><path color="#a87115" d="M97.3 347.4L99.6 342.9L100.4 344.3L98.1 349.5"/><path color="#ffd136" d="M24.4 344.7L26.7 344.8L27.5 345.3L25.2 340.5"/><path color="#d38e1a" d="M65.8 347.8L68.0 346.0L68.8 348.3L66.5 347.7"/><path color="#c77b11" d="M107.1 352.0L109.4 351.6L110.1 352.1L107.9 351.6"/><path color="#d18e1a" d="M34.2 347.7L36.5 345.4L37.2 345.4L35.0 348.4"/><path color="#734e0e" d="M116.9 343.3L119.1 343.6L119.9 352.8L117.6 351.9"/><path color="#c08a22" d="M75.5 339.7L77.8 343.5L78.6 348.0L76.3 345.2"/><path color="#834b07" d="M85.3 352.8L87.6 351.2L88.3 354.7L86.1 355.0"/><path color="#d78513" d="M44.0 349.2L46.2 352.9L47.0 354.5L44.8 349.3"/><path color="#bb710f" d="M126.6 352.0L128.9 352.7L129.7 352.9L127.4 352.8"/><path color="#a5670f" d="M53.8 348.1L56.0 350.4L56.8 353.2L54.5 352.6"/><path color="#824f0a" d="M95.1 351.9L97.3 347.4L98.1 349.5L95.9 354.7"/><path color="#df9b21" d="M22.2 348.9L24.4 344.7L25.2 340.5L23.0 348.9"/><path color="#b17414" d="M63.5 349.3L65.8 347.8L66.5 347.7L64.3 352.4"/><path color="#ef9b1a" d="M104.9 347.4L107.1 352.0L107.9 351.6L105.6 348.3"/><path color="#7c540f" d="M114.6 345.8L116.9 343.3L117.6 351.9L115.4 351.2"/><path color="#c07d15" d="M32.0 349.9L34.2 347.7L35.0 348.4L32.7 350.7"/><path color="#8a6318" d="M73.3 345.0L75.5 339.7L76.3 345.2L74.1 348.8"/><path color="#e79a1c" d="M41.7 346.5L44.0 349.2L44.8 349.3L42.5 347.8"/><path color="#8c5008" d="M83.1 353.7L85.3 352.8L86.1 355.0L83.8 355.3"/><path color="#9f5d0b" d="M124.4 355.1L126.6 352.0L127.4 352.8L125.2 355.5"/><path color="#86520b" d="M51.5 353.3L53.8 348.1L54.5 352.6L52.3 354.9"/><path color="#8a4f08" d="M92.8 353.1L95.1 351.9L95.9 354.7L93.6 354.6"/><path color="#7e4807" d="M134.2 352.8L136.4 352.8L137.2 357.9L134.9 356.4"/><path color="#965d0d" d="M19.9 354.2L22.2 348.9L23.0 348.9L20.7 355.7"/><path color="#b77412" d="M61.3 350.4L63.5 349.3L64.3 352.4L62.0 351.3"/><path color="#e69e1f" d="M102.6 343.7L104.9 347.4L105.6 348.3L103.4 346.6"/><path color="#e09219" d="M29.7 349.0L32.0 349.9L32.7 350.7L30.5 348.6"/><path color="#a87115" d="M71.0 347.2L73.3 345.0L74.1 348.8L71.8 350.3"/><path color="#a36d13" d="M112.4 349.0L114.6 345.8L115.4 351.2L113.1 351.0"/><path color="#9b5909" d="M80.8 352.8L83.1 353.7L83.8 355.3L81.6 354.7"/><path color="#9d5a09" d="M122.1 354.6L124.4 355.1L125.2 355.5L122.9 356.3"/><path color="#de991f" d="M39.5 345.3L41.7 346.5L42.5 347.8L40.2 347.2"/><path color="#874d08" d="M49.2 356.5L51.5 353.3L52.3 354.9L50.0 357.6"/><path color="#945508" d="M90.6 353.2L92.8 353.1L93.6 354.6L91.4 354.2"/><path color="#a4620c" d="M131.9 351.6L134.2 352.8L134.9 356.4L132.7 353.7"/><path color="#ab6a0f" d="M59.0 352.9L61.3 350.4L62.0 351.3L59.8 354.0"/><path color="#c1871d" d="M100.4 344.3L102.6 343.7L103.4 346.6L101.1 346.8"/><path color="#e3991c" d="M27.5 345.3L29.7 349.0L30.5 348.6L28.2 348.5"/><path color="#bb7814" d="M110.1 352.1L112.4 349.0L113.1 351.0L110.9 352.1"/><path color="#c08017" d="M68.8 348.3L71.0 347.2L71.8 350.3L69.6 349.8"/><path color="#b87210" d="M78.6 348.0L80.8 352.8L81.6 354.7L79.3 351.7"/><path color="#c58a1d" d="M37.2 345.4L39.5 345.3L40.2 347.2L38.0 348.5"/><path color="#925409" d="M119.9 352.8L122.1 354.6L122.9 356.3L120.7 357.1"/><path color="#ba6a0b" d="M47.0 354.5L49.2 356.5L50.0 357.6L47.8 353.5"/><path color="#844b07" d="M88.3 354.7L90.6 353.2L91.4 354.2L89.1 356.4"/><path color="#9a5d0c" d="M129.7 352.9L131.9 351.6L132.7 353.7L130.4 355.4"/><path color="#9e5e0c" d="M56.8 353.2L59.0 352.9L59.8 354.0L57.5 355.9"/><path color="#a76e13" d="M98.1 349.5L100.4 344.3L101.1 346.8L98.9 350.1"/><path color="#cf8314" d="M107.9 351.6L110.1 352.1L110.9 352.1L108.6 352.0"/><path color="#ac7b1e" d="M25.2 340.5L27.5 345.3L28.2 348.5L26.0 348.8"/><path color="#ca8718" d="M66.5 347.7L68.8 348.3L69.6 349.8L67.3 350.1"/><path color="#a97215" d="M35.0 348.4L37.2 345.4L38.0 348.5L35.8 351.2"/><path color="#b97b16" d="M76.3 345.2L78.6 348.0L79.3 351.7L77.1 349.6"/><path color="#7f4b09" d="M117.6 351.9L119.9 352.8L120.7 357.1L118.4 357.5"/><path color="#d08213" d="M44.8 349.3L47.0 354.5L47.8 353.5L45.5 352.4"/><path color="#9c5909" d="M86.1 355.0L88.3 354.7L89.1 356.4L86.9 353.9"/><path color="#95590b" d="M127.4 352.8L129.7 352.9L130.4 355.4L128.2 356.3"/><path color="#aa660d" d="M54.5 352.6L56.8 353.2L57.5 355.9L55.3 354.3"/><path color="#91560a" d="M95.9 354.7L98.1 349.5L98.9 350.1L96.6 355.1"/><path color="#765110" d="M23.0 348.9L25.2 340.5L26.0 348.8L23.7 352.6"/><path color="#a46a12" d="M64.3 352.4L66.5 347.7L67.3 350.1L65.1 353.5"/><path color="#d18817" d="M105.6 348.3L107.9 351.6L108.6 352.0L106.4 351.1"/><path color="#cb8a1a" d="M74.1 348.8L76.3 345.2L77.1 349.6L74.8 347.8"/><path color="#85500a" d="M115.4 351.2L117.6 351.9L118.4 357.5L116.2 356.4"/><path color="#a76d12" d="M32.7 350.7L35.0 348.4L35.8 351.2L33.5 353.0"/><path color="#b87915" d="M42.5 347.8L44.8 349.3L45.5 352.4L43.3 351.4"/><path color="#a8600a" d="M83.8 355.3L86.1 355.0L86.9 353.9L84.6 354.9"/><path color="#9b5b0a" d="M125.2 355.5L127.4 352.8L128.2 356.3L125.9 355.9"/><path color="#c37710" d="M52.3 354.9L54.5 352.6L55.3 354.3L53.0 352.9"/><path color="#8e5008" d="M93.6 354.6L95.9 354.7L96.6 355.1L94.4 355.9"/><path color="#8a4d07" d="M134.9 356.4L137.2 357.9L138.0 359.9L135.7 357.9"/><path color="#82500b" d="M20.7 355.7L23.0 348.9L23.7 352.6L21.5 357.1"/><path color="#bc7e16" d="M103.4 346.6L105.6 348.3L106.4 351.1L104.1 350.3"/><path color="#a3650f" d="M62.0 351.3L64.3 352.4L65.1 353.5L62.8 355.5"/><path color="#ffb923" d="M71.8 350.3L74.1 348.8L74.8 347.8L72.6 346.5"/><path color="#bc7a14" d="M30.5 348.6L32.7 350.7L33.5 353.0L31.2 352.0"/><path color="#9b610e" d="M113.1 351.0L115.4 351.2L116.2 356.4L113.9 354.4"/><path color="#c58519" d="M40.2 347.2L42.5 347.8L43.3 351.4L41.0 349.7"/><path color="#b2660b" d="M81.6 354.7L83.8 355.3L84.6 354.9L82.4 354.4"/><path color="#b5690b" d="M122.9 356.3L125.2 355.5L125.9 355.9L123.7 355.6"/><path color="#ab630b" d="M50.0 357.6L52.3 354.9L53.0 352.9L50.8 357.5"/><path color="#a7600a" d="M132.7 353.7L134.9 356.4L135.7 357.9L133.5 356.2"/><path color="#874d07" d="M91.4 354.2L93.6 354.6L94.4 355.9L92.1 355.9"/><path color="#b77a16" d="M101.1 346.8L103.4 346.6L104.1 350.3L101.9 349.3"/><path color="#84500a" d="M59.8 354.0L62.0 351.3L62.8 355.5L60.6 357.3"/><path color="#976411" d="M28.2 348.5L30.5 348.6L31.2 352.0L29.0 354.1"/><path color="#ffbf26" d="M69.6 349.8L71.8 350.3L72.6 346.5L70.3 347.4"/><path color="#ba7713" d="M110.9 352.1L113.1 351.0L113.9 354.4L111.7 352.8"/><path color="#c68719" d="M38.0 348.5L40.2 347.2L41.0 349.7L38.8 350.3"/><path color="#e48d14" d="M79.3 351.7L81.6 354.7L82.4 354.4L80.1 349.6"/><path color="#9e5a09" d="M120.7 357.1L122.9 356.3L123.7 355.6L121.4 358.5"/><path color="#a7640c" d="M130.4 355.4L132.7 353.7L133.5 356.2L131.2 355.7"/><path color="#b4680b" d="M47.8 353.5L50.0 357.6L50.8 357.5L48.5 356.1"/><path color="#8a4e07" d="M89.1 356.4L91.4 354.2L92.1 355.9L89.9 355.6"/><path color="#8c5109" d="M57.5 355.9L59.8 354.0L60.6 357.3L58.3 358.1"/><path color="#9a6310" d="M98.9 350.1L101.1 346.8L101.9 349.3L99.6 352.4"/><path color="#eda11e" d="M67.3 350.1L69.6 349.8L70.3 347.4L68.1 350.5"/><path color="#d58a17" d="M108.6 352.0L110.9 352.1L111.7 352.8L109.4 352.0"/><path color="#69430b" d="M26.0 348.8L28.2 348.5L29.0 354.1L26.8 357.8"/><path color="#d38e1a" d="M35.8 351.2L38.0 348.5L38.8 350.3L36.5 350.5"/><path color="#ffb220" d="M77.1 349.6L79.3 351.7L80.1 349.6L77.9 346.1"/><path color="#804807" d="M118.4 357.5L120.7 357.1L121.4 358.5L119.2 360.5"/><path color="#cd8114" d="M45.5 352.4L47.8 353.5L48.5 356.1L46.3 352.1"/><path color="#b5670a" d="M86.9 353.9L89.1 356.4L89.9 355.6L87.6 353.0"/><path color="#c5760f" d="M128.2 356.3L130.4 355.4L131.2 355.7L129.0 354.6"/><path color="#814b09" d="M96.6 355.1L98.9 350.1L99.6 352.4L97.4 356.5"/><path color="#9f5d0a" d="M55.3 354.3L57.5 355.9L58.3 358.1L56.1 357.2"/><path color="#bd7c15" d="M65.1 353.5L67.3 350.1L68.1 350.5L65.8 353.8"/><path color="#613c08" d="M23.7 352.6L26.0 348.8L26.8 357.8L24.5 359.0"/><path color="#d18817" d="M106.4 351.1L108.6 352.0L109.4 352.0L107.2 352.3"/><path color="#c88316" d="M33.5 353.0L35.8 351.2L36.5 350.5L34.3 353.6"/><path color="#ffcf35" d="M74.8 347.8L77.1 349.6L77.9 346.1L75.6 341.9"/><path color="#804807" d="M116.2 356.4L118.4 357.5L119.2 360.5L116.9 360.1"/><path color="#cd8616" d="M43.3 351.4L45.5 352.4L46.3 352.1L44.0 353.3"/><path color="#d38011" d="M125.9 355.9L128.2 356.3L129.0 354.6L126.7 354.7"/><path color="#aa630b" d="M84.6 354.9L86.9 353.9L87.6 353.0L85.4 354.8"/><path color="#9f5a09" d="M94.4 355.9L96.6 355.1L97.4 356.5L95.1 354.0"/><path color="#9d5f0d" d="M53.0 352.9L55.3 354.3L56.1 357.2L53.8 356.8"/><path color="#9e5908" d="M135.7 357.9L138.0 359.9L138.7 360.5L136.5 358.1"/><path color="#693c06" d="M21.5 357.1L23.7 352.6L24.5 359.0L22.2 360.5"/><path color="#ae6b0f" d="M62.8 355.5L65.1 353.5L65.8 353.8L63.6 356.6"/><path color="#ab6e12" d="M104.1 350.3L106.4 351.1L107.2 352.3L104.9 354.3"/><path color="#c27d14" d="M31.2 352.0L33.5 353.0L34.3 353.6L32.0 354.2"/><path color="#ffe74b" d="M72.6 346.5L74.8 347.8L75.6 341.9L73.4 340.3"/><path color="#a15e0b" d="M113.9 354.4L116.2 356.4L116.9 360.1L114.7 357.0"/><path color="#de8914" d="M123.7 355.6L125.9 355.9L126.7 354.7L124.5 353.7"/><path color="#b67715" d="M41.0 349.7L43.3 351.4L44.0 353.3L41.8 353.9"/><path color="#a4600b" d="M82.4 354.4L84.6 354.9L85.4 354.8L83.1 356.1"/><path color="#854f09" d="M50.8 357.5L53.0 352.9L53.8 356.8L51.6 359.0"/><path color="#ab610a" d="M92.1 355.9L94.4 355.9L95.1 354.0L92.9 354.0"/><path color="#b76a0c" d="M133.5 356.2L135.7 357.9L136.5 358.1L134.2 356.8"/><path color="#a3600b" d="M60.6 357.3L62.8 355.5L63.6 356.6L61.3 358.1"/><path color="#7d4f0c" d="M101.9 349.3L104.1 350.3L104.9 354.3L102.7 356.5"/><path color="#9b610f" d="M29.0 354.1L31.2 352.0L32.0 354.2L29.8 357.1"/><path color="#ffe94d" d="M70.3 347.4L72.6 346.5L73.4 340.3L71.1 343.7"/><path color="#d98a16" d="M111.7 352.8L113.9 354.4L114.7 357.0L112.4 352.1"/><path color="#c88618" d="M38.8 350.3L41.0 349.7L41.8 353.9L39.5 351.2"/><path color="#b97311" d="M80.1 349.6L82.4 354.4L83.1 356.1L80.9 353.4"/><path color="#b16a0d" d="M121.4 358.5L123.7 355.6L124.5 353.7L122.2 358.5"/><path color="#a05b09" d="M89.9 355.6L92.1 355.9L92.9 354.0L90.6 355.3"/><path color="#bb710f" d="M131.2 355.7L133.5 356.2L134.2 356.8L132.0 356.3"/><path color="#b1670b" d="M48.5 356.1L50.8 357.5L51.6 359.0L49.3 357.0"/><path color="#c0700d" d="M58.3 358.1L60.6 357.3L61.3 358.1L59.1 356.0"/><path color="#593506" d="M99.6 352.4L101.9 349.3L102.7 356.5L100.4 359.3"/><path color="#724207" d="M26.8 357.8L29.0 354.1L29.8 357.1L27.5 362.0"/><path color="#f9b630" d="M68.1 350.5L70.3 347.4L71.1 343.7L68.9 349.5"/><path color="#faa71e" d="M109.4 352.0L111.7 352.8L112.4 352.1L110.2 350.5"/><path color="#ffbb28" d="M36.5 350.5L38.8 350.3L39.5 351.2L37.3 347.5"/><path color="#854b07" d="M119.2 360.5L121.4 358.5L122.2 358.5L120.0 362.0"/><path color="#e39a1d" d="M77.9 346.1L80.1 349.6L80.9 353.4L78.6 347.7"/><path color="#b2660b" d="M87.6 353.0L89.9 355.6L90.6 355.3L88.4 353.2"/><path color="#e89418" d="M46.3 352.1L48.5 356.1L49.3 357.0L47.1 352.1"/><path color="#ba7310" d="M129.0 354.6L131.2 355.7L132.0 356.3L129.7 356.4"/><path color="#e78e14" d="M56.1 357.2L58.3 358.1L59.1 356.0L56.8 352.1"/><path color="#4d2b04" d="M97.4 356.5L99.6 352.4L100.4 359.3L98.2 361.6"/><path color="#623705" d="M24.5 359.0L26.8 357.8L27.5 362.0L25.3 363.7"/><path color="#e2981c" d="M65.8 353.8L68.1 350.5L68.9 349.5L66.6 352.5"/><path color="#e3971b" d="M107.2 352.3L109.4 352.0L110.2 350.5L107.9 352.4"/><path color="#7c4506" d="M116.9 360.1L119.2 360.5L120.0 362.0L117.7 362.2"/><path color="#f9aa21" d="M34.3 353.6L36.5 350.5L37.3 347.5L35.0 351.6"/><path color="#ffd444" d="M75.6 341.9L77.9 346.1L78.6 347.7L76.4 342.3"/><path color="#da901a" d="M44.0 353.3L46.3 352.1L47.1 352.1L44.8 353.1"/><path color="#8b5109" d="M85.4 354.8L87.6 353.0L88.4 353.2L86.1 357.5"/><path color="#af6d10" d="M126.7 354.7L129.0 354.6L129.7 356.4L127.5 356.8"/><path color="#de8b15" d="M53.8 356.8L56.1 357.2L56.8 352.1L54.6 356.6"/><path color="#603605" d="M95.1 354.0L97.4 356.5L98.2 361.6L95.9 360.1"/><path color="#c5710c" d="M136.5 358.1L138.7 360.5L139.5 359.4L137.2 357.2"/><path color="#583004" d="M22.2 360.5L24.5 359.0L25.3 363.7L23.0 364.8"/><path color="#c98014" d="M63.6 356.6L65.8 353.8L66.6 352.5L64.4 356.1"/><path color="#a26710" d="M104.9 354.3L107.2 352.3L107.9 352.4L105.7 357.3"/><path color="#cd8617" d="M32.0 354.2L34.3 353.6L35.0 351.6L32.8 355.8"/><path color="#ffda5a" d="M73.4 340.3L75.6 341.9L76.4 342.3L74.1 341.7"/><path color="#b2660a" d="M114.7 357.0L116.9 360.1L117.7 362.2L115.5 357.6"/><path color="#864d08" d="M83.1 356.1L85.4 354.8L86.1 357.5L83.9 358.6"/><path color="#c27b13" d="M124.5 353.7L126.7 354.7L127.5 356.8L125.2 355.2"/><path color="#f2a11c" d="M41.8 353.9L44.0 353.3L44.8 353.1L42.6 351.8"/><path color="#a7630c" d="M51.6 359.0L53.8 356.8L54.6 356.6L52.3 359.6"/><path color="#653905" d="M92.9 354.0L95.1 354.0L95.9 360.1L93.7 358.3"/><path color="#ba6f0e" d="M134.2 356.8L136.5 358.1L137.2 357.2L135.0 358.2"/><path color="#bc720f" d="M61.3 358.1L63.6 356.6L64.4 356.1L62.1 357.7"/><path color="#6a3d06" d="M102.7 356.5L104.9 354.3L105.7 357.3L103.4 362.2"/><path color="#8f580c" d="M29.8 357.1L32.0 354.2L32.8 355.8L30.5 360.2"/><path color="#ffa91d" d="M112.4 352.1L114.7 357.0L115.5 357.6L113.2 348.9"/><path color="#ebc451" d="M71.1 343.7L73.4 340.3L74.1 341.7L71.9 343.5"/><path color="#a1600c" d="M80.9 353.4L83.1 356.1L83.9 358.6L81.6 356.6"/><path color="#f0a21e" d="M39.5 351.2L41.8 353.9L42.6 351.8L40.3 352.9"/><path color="#a8680f" d="M122.2 358.5L124.5 353.7L125.2 355.2L123.0 358.3"/><path color="#ac640b" d="M49.3 357.0L51.6 359.0L52.3 359.6L50.1 359.3"/><path color="#6f3f06" d="M90.6 355.3L92.9 354.0L93.7 358.3L91.4 358.0"/><path color="#ad690e" d="M132.0 356.3L134.2 356.8L135.0 358.2L132.8 358.3"/><path color="#e18c14" d="M59.1 356.0L61.3 358.1L62.1 357.7L59.9 354.8"/><path color="#502d04" d="M100.4 359.3L102.7 356.5L103.4 362.2L101.2 364.2"/><path color="#ffc52e" d="M110.2 350.5L112.4 352.1L113.2 348.9L111.0 349.4"/><path color="#754206" d="M27.5 362.0L29.8 357.1L30.5 360.2L28.3 363.3"/><path color="#e8b53b" d="M68.9 349.5L71.1 343.7L71.9 343.5L69.6 347.7"/><path color="#dc9b23" d="M37.3 347.5L39.5 351.2L40.3 352.9L38.1 351.3"/><path color="#be7d15" d="M78.6 347.7L80.9 353.4L81.6 356.6L79.4 352.8"/><path color="#955508" d="M120.0 362.0L122.2 358.5L123.0 358.3L120.7 362.1"/><path color="#b67311" d="M47.1 352.1L49.3 357.0L50.1 359.3L47.8 356.8"/><path color="#814a07" d="M88.4 353.2L90.6 355.3L91.4 358.0L89.2 357.3"/><path color="#a2630d" d="M129.7 356.4L132.0 356.3L132.8 358.3L130.5 359.2"/><path color="#ffb621" d="M56.8 352.1L59.1 356.0L59.9 354.8L57.6 349.2"/><path color="#4e2a03" d="M98.2 361.6L100.4 359.3L101.2 364.2L98.9 364.8"/><path color="#703d05" d="M25.3 363.7L27.5 362.0L28.3 363.3L26.0 364.4"/><path color="#ffba2f" d="M66.6 352.5L68.9 349.5L69.6 347.7L67.4 350.0"/><path color="#d9951d" d="M107.9 352.4L110.2 350.5L111.0 349.4L108.7 353.2"/><path color="#ac7e21" d="M76.4 342.3L78.6 347.7L79.4 352.8L77.1 350.4"/><path color="#874c07" d="M117.7 362.2L120.0 362.0L120.7 362.1L118.5 363.1"/><path color="#d39826" d="M35.0 351.6L37.3 347.5L38.1 351.3L35.8 350.5"/><path color="#a76e13" d="M44.8 353.1L47.1 352.1L47.8 356.8L45.6 356.1"/><path color="#764407" d="M86.1 357.5L88.4 353.2L89.2 357.3L86.9 358.9"/><path color="#be7611" d="M127.5 356.8L129.7 356.4L130.5 359.2L128.2 356.6"/><path color="#ffb422" d="M54.6 356.6L56.8 352.1L57.6 349.2L55.4 352.2"/><path color="#5c3203" d="M95.9 360.1L98.2 361.6L98.9 364.8L96.7 363.4"/><path color="#a35f0b" d="M137.2 357.2L139.5 359.4L140.3 361.8L138.0 359.9"/><path color="#623403" d="M23.0 364.8L25.3 363.7L26.0 364.4L23.8 366.1"/><path color="#a06610" d="M105.7 357.3L107.9 352.4L108.7 353.2L106.5 358.3"/><path color="#e79c1d" d="M64.4 356.1L66.6 352.5L67.4 350.0L65.1 354.6"/><path color="#7e6220" d="M74.1 341.7L76.4 342.3L77.1 350.4L74.9 351.0"/><path color="#e69c1d" d="M32.8 355.8L35.0 351.6L35.8 350.5L33.6 353.8"/><path color="#b7690b" d="M115.5 357.6L117.7 362.2L118.5 363.1L116.2 359.1"/><path color="#ffb222" d="M42.6 351.8L44.8 353.1L45.6 356.1L43.3 349.7"/><path color="#935408" d="M83.9 358.6L86.1 357.5L86.9 358.9L84.7 359.1"/><path color="#ee9b1a" d="M125.2 355.2L127.5 356.8L128.2 356.6L126.0 354.0"/><path color="#dd8d16" d="M52.3 359.6L54.6 356.6L55.4 352.2L53.1 357.8"/><path color="#ae6a0e" d="M135.0 358.2L137.2 357.2L138.0 359.9L135.8 358.7"/><path color="#663804" d="M93.7 358.3L95.9 360.1L96.7 363.4L94.4 361.7"/><path color="#7f4807" d="M103.4 362.2L105.7 357.3L106.5 358.3L104.2 363.0"/><path color="#dd8e17" d="M62.1 357.7L64.4 356.1L65.1 354.6L62.9 356.3"/><path color="#d18415" d="M30.5 360.2L32.8 355.8L33.6 353.8L31.3 357.7"/><path color="#7f6321" d="M71.9 343.5L74.1 341.7L74.9 351.0L72.6 351.4"/><path color="#ffae1f" d="M113.2 348.9L115.5 357.6L116.2 359.1L114.0 351.2"/><path color="#ffb62b" d="M40.3 352.9L42.6 351.8L43.3 349.7L41.1 351.7"/><path color="#c9770f" d="M81.6 356.6L83.9 358.6L84.7 359.1L82.4 355.4"/><path color="#ce8516" d="M123.0 358.3L125.2 355.2L126.0 354.0L123.8 357.4"/><path color="#be7410" d="M132.8 358.3L135.0 358.2L135.8 358.7L133.5 358.7"/><path color="#c97910" d="M50.1 359.3L52.3 359.6L53.1 357.8L50.9 359.1"/><path color="#673a05" d="M91.4 358.0L93.7 358.3L94.4 361.7L92.2 361.4"/><path color="#faa31c" d="M59.9 354.8L62.1 357.7L62.9 356.3L60.6 354.2"/><path color="#6a3a04" d="M101.2 364.2L103.4 362.2L104.2 363.0L102.0 364.9"/><path color="#9b7725" d="M69.6 347.7L71.9 343.5L72.6 351.4L70.4 350.4"/><path color="#b58321" d="M111.0 349.4L113.2 348.9L114.0 351.2L111.7 353.8"/><path color="#ce790e" d="M28.3 363.3L30.5 360.2L31.3 357.7L29.1 359.4"/><path color="#f3ab27" d="M38.1 351.3L40.3 352.9L41.1 351.7L38.8 352.7"/><path color="#e99719" d="M79.4 352.8L81.6 356.6L82.4 355.4L80.2 353.5"/><path color="#b76e0e" d="M120.7 362.1L123.0 358.3L123.8 357.4L121.5 360.5"/><path color="#be7511" d="M47.8 356.8L50.1 359.3L50.9 359.1L48.6 359.2"/><path color="#6a3c05" d="M89.2 357.3L91.4 358.0L92.2 361.4L89.9 361.6"/><path color="#b46e0f" d="M130.5 359.2L132.8 358.3L133.5 358.7L131.3 359.9"/><path color="#6a3904" d="M98.9 364.8L101.2 364.2L102.0 364.9L99.7 364.3"/><path color="#ffbb2a" d="M57.6 349.2L59.9 354.8L60.6 354.2L58.4 351.1"/><path color="#d09c2d" d="M67.4 350.0L69.6 347.7L70.4 350.4L68.1 351.1"/><path color="#c06d0b" d="M26.0 364.4L28.3 363.3L29.1 359.4L26.8 361.2"/><path color="#9f6c14" d="M108.7 353.2L111.0 349.4L111.7 353.8L109.5 356.1"/><path color="#ffc435" d="M35.8 350.5L38.1 351.3L38.8 352.7L36.6 348.8"/><path color="#c08218" d="M77.1 350.4L79.4 352.8L80.2 353.5L77.9 355.3"/><path color="#af640a" d="M118.5 363.1L120.7 362.1L121.5 360.5L119.2 362.0"/><path color="#9d630f" d="M45.6 356.1L47.8 356.8L48.6 359.2L46.4 360.6"/><path color="#c27812" d="M128.2 356.6L130.5 359.2L131.3 359.9L129.0 358.7"/><path color="#8a4e08" d="M86.9 358.9L89.2 357.3L89.9 361.6L87.7 358.5"/><path color="#8d4e06" d="M96.7 363.4L98.9 364.8L99.7 364.3L97.5 358.9"/><path color="#d99f2a" d="M55.4 352.2L57.6 349.2L58.4 351.1L56.1 352.1"/><path color="#975609" d="M138.0 359.9L140.3 361.8L141.0 364.6L138.8 362.3"/><path color="#915107" d="M23.8 366.1L26.0 364.4L26.8 361.2L24.6 365.1"/><path color="#ffba30" d="M65.1 354.6L67.4 350.0L68.1 351.1L65.9 350.3"/><path color="#945e0f" d="M106.5 358.3L108.7 353.2L109.5 356.1L107.2 359.8"/><path color="#ffcb39" d="M33.6 353.8L35.8 350.5L36.6 348.8L34.3 350.0"/><path color="#926313" d="M74.9 351.0L77.1 350.4L77.9 355.3L75.7 357.0"/><path color="#c6730d" d="M116.2 359.1L118.5 363.1L119.2 362.0L117.0 360.2"/><path color="#ca8417" d="M126.0 354.0L128.2 356.6L129.0 358.7L126.8 356.7"/><path color="#915f10" d="M43.3 349.7L45.6 356.1L46.4 360.6L44.1 359.6"/><path color="#b76a0c" d="M84.7 359.1L86.9 358.9L87.7 358.5L85.4 357.6"/><path color="#ce8b1a" d="M53.1 357.8L55.4 352.2L56.1 352.1L53.9 356.7"/><path color="#9c5708" d="M94.4 361.7L96.7 363.4L97.5 358.9L95.2 360.5"/><path color="#b26b0e" d="M135.8 358.7L138.0 359.9L138.8 362.3L136.5 360.0"/><path color="#ffc72c" d="M62.9 356.3L65.1 354.6L65.9 350.3L63.6 351.7"/><path color="#884e08" d="M104.2 363.0L106.5 358.3L107.2 359.8L105.0 363.5"/><path color="#ffc62c" d="M31.3 357.7L33.6 353.8L34.3 350.0L32.1 351.9"/><path color="#a37016" d="M72.6 351.4L74.9 351.0L75.7 357.0L73.4 355.7"/><path color="#da8f18" d="M114.0 351.2L116.2 359.1L117.0 360.2L114.7 356.2"/><path color="#734d0e" d="M41.1 351.7L43.3 349.7L44.1 359.6L41.9 359.6"/><path color="#e59016" d="M82.4 355.4L84.7 359.1L85.4 357.6L83.2 353.4"/><path color="#c38117" d="M123.8 357.4L126.0 354.0L126.8 356.7L124.5 357.0"/><path color="#7d4606" d="M92.2 361.4L94.4 361.7L95.2 360.5L93.0 362.9"/><path color="#cf8314" d="M133.5 358.7L135.8 358.7L136.5 360.0L134.3 357.9"/><path color="#b87412" d="M50.9 359.1L53.1 357.8L53.9 356.7L51.6 360.8"/><path color="#ffc42a" d="M60.6 354.2L62.9 356.3L63.6 351.7L61.4 353.1"/><path color="#7e4606" d="M102.0 364.9L104.2 363.0L105.0 363.5L102.7 364.6"/><path color="#ffb421" d="M29.1 359.4L31.3 357.7L32.1 351.9L29.8 354.0"/><path color="#cc9224" d="M70.4 350.4L72.6 351.4L73.4 355.7L71.2 353.1"/><path color="#855a10" d="M111.7 353.8L114.0 351.2L114.7 356.2L112.5 359.4"/><path color="#996813" d="M38.8 352.7L41.1 351.7L41.9 359.6L39.6 356.7"/><path color="#dd8e17" d="M121.5 360.5L123.8 357.4L124.5 357.0L122.3 357.7"/><path color="#f3a21d" d="M80.2 353.5L82.4 355.4L83.2 353.4L80.9 353.6"/><path color="#713f05" d="M89.9 361.6L92.2 361.4L93.0 362.9L90.7 363.7"/><path color="#8c550b" d="M48.6 359.2L50.9 359.1L51.6 360.8L49.4 364.1"/><path color="#dc8c16" d="M131.3 359.9L133.5 358.7L134.3 357.9L132.0 358.1"/><path color="#f4b02b" d="M58.4 351.1L60.6 354.2L61.4 353.1L59.1 353.5"/><path color="#854a06" d="M99.7 364.3L102.0 364.9L102.7 364.6L100.5 363.6"/><path color="#e99518" d="M26.8 361.2L29.1 359.4L29.8 354.0L27.6 359.5"/><path color="#d8a02c" d="M68.1 351.1L70.4 350.4L71.2 353.1L68.9 352.5"/><path color="#86570e" d="M109.5 356.1L111.7 353.8L112.5 359.4L110.2 360.6"/><path color="#ef9717" d="M119.2 362.0L121.5 360.5L122.3 357.7L120.0 357.3"/><path color="#e1a52b" d="M36.6 348.8L38.8 352.7L39.6 356.7L37.4 351.8"/><path color="#b97c16" d="M77.9 355.3L80.2 353.5L80.9 353.6L78.7 357.9"/><path color="#885009" d="M46.4 360.6L48.6 359.2L49.4 364.1L47.1 363.6"/><path color="#824a07" d="M87.7 358.5L89.9 361.6L90.7 363.7L88.5 362.3"/><path color="#d48715" d="M129.0 358.7L131.3 359.9L132.0 358.1L129.8 359.6"/><path color="#a2741c" d="M56.1 352.1L58.4 351.1L59.1 353.5L56.9 357.7"/><path color="#b2650a" d="M97.5 358.9L99.7 364.3L100.5 363.6L98.2 358.8"/><path color="#a9600a" d="M138.8 362.3L141.0 364.6L141.8 365.6L139.6 362.7"/><path color="#a25d0a" d="M24.6 365.1L26.8 361.2L27.6 359.5L25.3 365.0"/><path color="#eeb435" d="M65.9 350.3L68.1 351.1L68.9 352.5L66.7 351.4"/><path color="#83510b" d="M107.2 359.8L109.5 356.1L110.2 360.6L108.0 362.8"/><path color="#e0ad37" d="M34.3 350.0L36.6 348.8L37.4 351.8L35.1 350.7"/><path color="#9c6511" d="M75.7 357.0L77.9 355.3L78.7 357.9L76.4 360.7"/><path color="#f19918" d="M117.0 360.2L119.2 362.0L120.0 357.3L117.8 358.4"/><path color="#a3610c" d="M85.4 357.6L87.7 358.5L88.5 362.3L86.2 358.6"/><path color="#c58015" d="M126.8 356.7L129.0 358.7L129.8 359.6L127.5 359.4"/><path color="#975a0b" d="M44.1 359.6L46.4 360.6L47.1 363.6L44.9 363.4"/><path color="#9b6813" d="M53.9 356.7L56.1 352.1L56.9 357.7L54.6 358.8"/><path color="#bb6d0c" d="M95.2 360.5L97.5 358.9L98.2 358.8L96.0 357.3"/><path color="#ce7d11" d="M136.5 360.0L138.8 362.3L139.6 362.7L137.3 359.9"/><path color="#ce9b2d" d="M63.6 351.7L65.9 350.3L66.7 351.4L64.4 354.1"/><path color="#874d08" d="M105.0 363.5L107.2 359.8L108.0 362.8L105.8 364.5"/><path color="#e4ae35" d="M32.1 351.9L34.3 350.0L35.1 350.7L32.9 352.4"/><path color="#d68b17" d="M114.7 356.2L117.0 360.2L117.8 358.4L115.5 359.6"/><path color="#a76c12" d="M73.4 355.7L75.7 357.0L76.4 360.7L74.2 360.1"/><path color="#d48917" d="M83.2 353.4L85.4 357.6L86.2 358.6L84.0 355.4"/><path color="#87520b" d="M41.9 359.6L44.1 359.6L44.9 363.4L42.6 364.4"/><path color="#ce8818" d="M124.5 357.0L126.8 356.7L127.5 359.4L125.3 357.6"/><path color="#ac6e12" d="M51.6 360.8L53.9 356.7L54.6 358.8L52.4 361.2"/><path color="#985709" d="M93.0 362.9L95.2 360.5L96.0 357.3L93.7 362.9"/><path color="#f19d1a" d="M134.3 357.9L136.5 360.0L137.3 359.9L135.1 356.9"/><path color="#a8791d" d="M61.4 353.1L63.6 351.7L64.4 354.1L62.2 357.9"/><path color="#965508" d="M102.7 364.6L105.0 363.5L105.8 364.5L103.5 363.9"/><path color="#9b6410" d="M112.5 359.4L114.7 356.2L115.5 359.6L113.3 361.8"/><path color="#c08b23" d="M29.8 354.0L32.1 351.9L32.9 352.4L30.6 357.0"/><path color="#c38418" d="M71.2 353.1L73.4 355.7L74.2 360.1L71.9 356.9"/><path color="#9b610e" d="M39.6 356.7L41.9 359.6L42.6 364.4L40.4 362.0"/><path color="#ae7616" d="M80.9 353.6L83.2 353.4L84.0 355.4L81.7 357.7"/><path color="#e89c1c" d="M122.3 357.7L124.5 357.0L125.3 357.6L123.0 356.8"/><path color="#8c5209" d="M49.4 364.1L51.6 360.8L52.4 361.2L50.1 366.6"/><path color="#8a4d07" d="M90.7 363.7L93.0 362.9L93.7 362.9L91.5 363.7"/><path color="#f8a61e" d="M132.0 358.1L134.3 357.9L135.1 356.9L132.8 356.6"/><path color="#a67418" d="M59.1 353.5L61.4 353.1L62.2 357.9L59.9 358.1"/><path color="#aa6009" d="M100.5 363.6L102.7 364.6L103.5 363.9L101.2 362.5"/><path color="#936111" d="M27.6 359.5L29.8 354.0L30.6 357.0L28.4 362.2"/><path color="#cf9525" d="M68.9 352.5L71.2 353.1L71.9 356.9L69.7 354.8"/><path color="#995e0d" d="M110.2 360.6L112.5 359.4L113.3 361.8L111.0 363.6"/><path color="#87590f" d="M78.7 357.9L80.9 353.6L81.7 357.7L79.5 361.7"/><path color="#ffbe25" d="M120.0 357.3L122.3 357.7L123.0 356.8L120.8 354.2"/><path color="#ae7516" d="M37.4 351.8L39.6 356.7L40.4 362.0L38.1 358.6"/><path color="#a45e0a" d="M47.1 363.6L49.4 364.1L50.1 366.6L47.9 363.9"/><path color="#a35d09" d="M88.5 362.3L90.7 363.7L91.5 363.7L89.2 362.0"/><path color="#d88f19" d="M129.8 359.6L132.0 358.1L132.8 356.6L130.6 359.8"/><path color="#946312" d="M56.9 357.7L59.1 353.5L59.9 358.1L57.7 361.0"/><path color="#b3680b" d="M98.2 358.8L100.5 363.6L101.2 362.5L99.0 361.5"/><path color="#804807" d="M139.6 362.7L141.8 365.6L142.6 368.9L140.3 366.9"/><path color="#7c4908" d="M25.3 365.0L27.6 359.5L28.4 362.2L26.1 367.3"/><path color="#91560a" d="M108.0 362.8L110.2 360.6L111.0 363.6L108.8 364.8"/><path color="#b58524" d="M66.7 351.4L68.9 352.5L69.7 354.8L67.4 356.9"/><path color="#8d580d" d="M76.4 360.7L78.7 357.9L79.5 361.7L77.2 363.9"/><path color="#8f671a" d="M35.1 350.7L37.4 351.8L38.1 358.6L35.9 357.9"/><path color="#ffc42a" d="M117.8 358.4L120.0 357.3L120.8 354.2L118.5 354.3"/><path color="#a9630b" d="M44.9 363.4L47.1 363.6L47.9 363.9L45.6 364.8"/><path color="#c4760f" d="M86.2 358.6L88.5 362.3L89.2 362.0L87.0 359.5"/><path color="#ba7813" d="M127.5 359.4L129.8 359.6L130.6 359.8L128.3 362.1"/><path color="#b87915" d="M54.6 358.8L56.9 357.7L57.7 361.0L55.4 360.3"/><path color="#c47810" d="M137.3 359.9L139.6 362.7L140.3 366.9L138.1 360.3"/><path color="#975c0c" d="M96.0 357.3L98.2 358.8L99.0 361.5L96.8 361.0"/><path color="#955509" d="M105.8 364.5L108.0 362.8L108.8 364.8L106.5 365.4"/><path color="#7e5914" d="M64.4 354.1L66.7 351.4L67.4 356.9L65.2 360.6"/><path color="#8b651a" d="M32.9 352.4L35.1 350.7L35.9 357.9L33.6 358.1"/><path color="#9e610e" d="M74.2 360.1L76.4 360.7L77.2 363.9L75.0 363.7"/><path color="#ffbf25" d="M115.5 359.6L117.8 358.4L118.5 354.3L116.3 355.9"/><path color="#864c08" d="M42.6 364.4L44.9 363.4L45.6 364.8L43.4 367.9"/><path color="#bb7914" d="M84.0 355.4L86.2 358.6L87.0 359.5L84.7 359.4"/><path color="#af7213" d="M125.3 357.6L127.5 359.4L128.3 362.1L126.1 361.8"/><path color="#dc921a" d="M135.1 356.9L137.3 359.9L138.1 360.3L135.8 359.2"/><path color="#af7012" d="M52.4 361.2L54.6 358.8L55.4 360.3L53.2 362.7"/><path color="#95590b" d="M93.7 362.9L96.0 357.3L96.8 361.0L94.5 361.3"/><path color="#956412" d="M62.2 357.9L64.4 354.1L65.2 360.6L62.9 360.7"/><path color="#b4670b" d="M103.5 363.9L105.8 364.5L106.5 365.4L104.3 363.1"/><path color="#ae7012" d="M71.9 356.9L74.2 360.1L75.0 363.7L72.7 361.6"/><path color="#f09f1c" d="M113.3 361.8L115.5 359.6L116.3 355.9L114.0 359.9"/><path color="#825912" d="M30.6 357.0L32.9 352.4L33.6 358.1L31.4 361.6"/><path color="#9c5a0a" d="M40.4 362.0L42.6 364.4L43.4 367.9L41.1 365.2"/><path color="#8a5b0f" d="M81.7 357.7L84.0 355.4L84.7 359.4L82.5 362.3"/><path color="#ac7214" d="M123.0 356.8L125.3 357.6L126.1 361.8L123.8 361.0"/><path color="#8d530a" d="M50.1 366.6L52.4 361.2L53.2 362.7L50.9 367.4"/><path color="#b2660b" d="M91.5 363.7L93.7 362.9L94.5 361.3L92.2 362.7"/><path color="#ba7e17" d="M132.8 356.6L135.1 356.9L135.8 359.2L133.6 360.3"/><path color="#cc7a0f" d="M101.2 362.5L103.5 363.9L104.3 363.1L102.0 361.2"/><path color="#c88618" d="M59.9 358.1L62.2 357.9L62.9 360.7L60.7 359.6"/><path color="#b67b17" d="M69.7 354.8L71.9 356.9L72.7 361.6L70.5 359.4"/><path color="#6e450a" d="M28.4 362.2L30.6 357.0L31.4 361.6L29.1 367.0"/><path color="#bc7511" d="M111.0 363.6L113.3 361.8L114.0 359.9L111.8 364.3"/><path color="#ab6b10" d="M38.1 358.6L40.4 362.0L41.1 365.2L38.9 363.2"/><path color="#7f4f0c" d="M79.5 361.7L81.7 357.7L82.5 362.3L80.2 365.2"/><path color="#b37b17" d="M120.8 354.2L123.0 356.8L123.8 361.0L121.6 359.7"/><path color="#b2660b" d="M47.9 363.9L50.1 366.6L50.9 367.4L48.7 365.1"/><path color="#a16b13" d="M130.6 359.8L132.8 356.6L133.6 360.3L131.3 362.4"/><path color="#d58010" d="M89.2 362.0L91.5 363.7L92.2 362.7L90.0 358.8"/><path color="#bb720f" d="M99.0 361.5L101.2 362.5L102.0 361.2L99.8 362.5"/><path color="#b37614" d="M57.7 361.0L59.9 358.1L60.7 359.6L58.4 362.6"/><path color="#723f05" d="M140.3 366.9L142.6 368.9L143.4 370.7L141.1 369.9"/><path color="#5d3505" d="M26.1 367.3L28.4 362.2L29.1 367.0L26.9 371.1"/><path color="#9e6c15" d="M67.4 356.9L69.7 354.8L70.5 359.4L68.2 361.1"/><path color="#ca7a10" d="M108.8 364.8L111.0 363.6L111.8 364.3L109.5 362.5"/><path color="#80530d" d="M35.9 357.9L38.1 358.6L38.9 363.2L36.6 365.4"/><path color="#8f550b" d="M77.2 363.9L79.5 361.7L80.2 365.2L78.0 366.2"/><path color="#ba8621" d="M118.5 354.3L120.8 354.2L121.6 359.7L119.3 357.4"/><path color="#9c630f" d="M128.3 362.1L130.6 359.8L131.3 362.4L129.1 364.8"/><path color="#ab660c" d="M45.6 364.8L47.9 363.9L48.7 365.1L46.4 365.5"/><path color="#f29c1a" d="M87.0 359.5L89.2 362.0L90.0 358.8L87.8 356.4"/><path color="#a06610" d="M55.4 360.3L57.7 361.0L58.4 362.6L56.2 365.1"/><path color="#985b0c" d="M96.8 361.0L99.0 361.5L99.8 362.5L97.5 364.6"/><path color="#884e08" d="M138.1 360.3L140.3 366.9L141.1 369.9L138.9 368.1"/><path color="#8f5e10" d="M65.2 360.6L67.4 356.9L68.2 361.1L66.0 364.2"/><path color="#b76d0d" d="M106.5 365.4L108.8 364.8L109.5 362.5L107.3 365.9"/><path color="#69430b" d="M33.6 358.1L35.9 357.9L36.6 365.4L34.4 366.3"/><path color="#a2600c" d="M75.0 363.7L77.2 363.9L78.0 366.2L75.7 365.8"/><path color="#d39928" d="M116.3 355.9L118.5 354.3L119.3 357.4L117.1 356.8"/><path color="#8f5208" d="M43.4 367.9L45.6 364.8L46.4 365.5L44.2 368.9"/><path color="#e1951a" d="M84.7 359.4L87.0 359.5L87.8 356.4L85.5 359.8"/><path color="#945b0d" d="M126.1 361.8L128.3 362.1L129.1 364.8L126.8 366.4"/><path color="#94590b" d="M94.5 361.3L96.8 361.0L97.5 364.6L95.3 364.0"/><path color="#6a4109" d="M135.8 359.2L138.1 360.3L138.9 368.1L136.6 367.2"/><path color="#81500b" d="M53.2 362.7L55.4 360.3L56.2 365.1L53.9 366.9"/><path color="#9c6310" d="M62.9 360.7L65.2 360.6L66.0 364.2L63.7 364.7"/><path color="#c0720e" d="M104.3 363.1L106.5 365.4L107.3 365.9L105.0 363.7"/><path color="#633e09" d="M31.4 361.6L33.6 358.1L34.4 366.3L32.1 368.4"/><path color="#a8670e" d="M72.7 361.6L75.0 363.7L75.7 365.8L73.5 365.3"/><path color="#b87f19" d="M114.0 359.9L116.3 355.9L117.1 356.8L114.8 361.7"/><path color="#a05b09" d="M41.1 365.2L43.4 367.9L44.2 368.9L41.9 367.5"/><path color="#8b560c" d="M123.8 361.0L126.1 361.8L126.8 366.4L124.6 366.3"/><path color="#a06610" d="M82.5 362.3L84.7 359.4L85.5 359.8L83.2 365.0"/><path color="#a4640d" d="M92.2 362.7L94.5 361.3L95.3 364.0L93.0 363.4"/><path color="#7f4908" d="M50.9 367.4L53.2 362.7L53.9 366.9L51.7 368.9"/><path color="#6c440a" d="M133.6 360.3L135.8 359.2L136.6 367.2L134.4 366.8"/><path color="#9d6510" d="M60.7 359.6L62.9 360.7L63.7 364.7L61.5 364.5"/><path color="#c57b12" d="M102.0 361.2L104.3 363.1L105.0 363.7L102.8 362.5"/><path color="#563105" d="M29.1 367.0L31.4 361.6L32.1 368.4L29.9 371.7"/><path color="#a46911" d="M70.5 359.4L72.7 361.6L73.5 365.3L71.2 364.4"/><path color="#915b0e" d="M111.8 364.3L114.0 359.9L114.8 361.7L112.6 367.0"/><path color="#935e0f" d="M121.6 359.7L123.8 361.0L124.6 366.3L122.3 365.0"/><path color="#975a0b" d="M38.9 363.2L41.1 365.2L41.9 367.5L39.7 367.6"/><path color="#8d550b" d="M80.2 365.2L82.5 362.3L83.2 365.0L81.0 367.6"/><path color="#b2670b" d="M48.7 365.1L50.9 367.4L51.7 368.9L49.4 366.1"/><path color="#f29c19" d="M90.0 358.8L92.2 362.7L93.0 363.4L90.8 357.5"/><path color="#8c580d" d="M131.3 362.4L133.6 360.3L134.4 366.8L132.1 365.4"/><path color="#996210" d="M58.4 362.6L60.7 359.6L61.5 364.5L59.2 364.8"/><path color="#a86910" d="M99.8 362.5L102.0 361.2L102.8 362.5L100.5 364.5"/><path color="#754005" d="M141.1 369.9L143.4 370.7L144.1 371.7L141.9 371.1"/><path color="#512c03" d="M26.9 371.1L29.1 367.0L29.9 371.7L27.6 374.0"/><path color="#9b6511" d="M68.2 361.1L70.5 359.4L71.2 364.4L69.0 364.3"/><path color="#995d0c" d="M109.5 362.5L111.8 364.3L112.6 367.0L110.3 367.0"/><path color="#6f4107" d="M36.6 365.4L38.9 363.2L39.7 367.6L37.4 370.6"/><path color="#975709" d="M78.0 366.2L80.2 365.2L81.0 367.6L78.8 368.0"/><path color="#ad7315" d="M119.3 357.4L121.6 359.7L122.3 365.0L120.1 362.2"/><path color="#ffbf29" d="M87.8 356.4L90.0 358.8L90.8 357.5L88.5 354.8"/><path color="#b16f10" d="M129.1 364.8L131.3 362.4L132.1 365.4L129.9 364.8"/><path color="#da8713" d="M46.4 365.5L48.7 365.1L49.4 366.1L47.2 362.7"/><path color="#9b600e" d="M56.2 365.1L58.4 362.6L59.2 364.8L57.0 367.2"/><path color="#8c540a" d="M97.5 364.6L99.8 362.5L100.5 364.5L98.3 367.7"/><path color="#7e4706" d="M138.9 368.1L141.1 369.9L141.9 371.1L139.6 371.0"/><path color="#9b620f" d="M66.0 364.2L68.2 361.1L69.0 364.3L66.7 366.3"/><path color="#965b0c" d="M107.3 365.9L109.5 362.5L110.3 367.0L108.1 366.6"/><path color="#613705" d="M34.4 366.3L36.6 365.4L37.4 370.6L35.2 372.4"/><path color="#c48a1e" d="M117.1 356.8L119.3 357.4L120.1 362.2L117.8 359.5"/><path color="#9f5d0a" d="M75.7 365.8L78.0 366.2L78.8 368.0L76.5 368.0"/><path color="#ce8f1e" d="M85.5 359.8L87.8 356.4L88.5 354.8L86.3 360.8"/><path color="#d58212" d="M44.2 368.9L46.4 365.5L47.2 362.7L44.9 365.5"/><path color="#af6a0e" d="M126.8 366.4L129.1 364.8L129.9 364.8L127.6 367.3"/><path color="#824b08" d="M53.9 366.9L56.2 365.1L57.0 367.2L54.7 370.8"/><path color="#814b08" d="M95.3 364.0L97.5 364.6L98.3 367.7L96.0 369.0"/><path color="#7b4506" d="M136.6 367.2L138.9 368.1L139.6 371.0L137.4 371.2"/><path color="#995e0d" d="M63.7 364.7L66.0 364.2L66.7 366.3L64.5 368.1"/><path color="#cb7d12" d="M105.0 363.7L107.3 365.9L108.1 366.6L105.8 364.1"/><path color="#bd821a" d="M114.8 361.7L117.1 356.8L117.8 359.5L115.6 361.9"/><path color="#542f04" d="M32.1 368.4L34.4 366.3L35.2 372.4L32.9 373.8"/><path color="#9e5e0b" d="M73.5 365.3L75.7 365.8L76.5 368.0L74.2 368.0"/><path color="#d17b0f" d="M41.9 367.5L44.2 368.9L44.9 365.5L42.7 366.7"/><path color="#8f5c0f" d="M83.2 365.0L85.5 359.8L86.3 360.8L84.0 367.8"/><path color="#a6620c" d="M124.6 366.3L126.8 366.4L127.6 367.3L125.4 368.3"/><path color="#703f06" d="M51.7 368.9L53.9 366.9L54.7 370.8L52.5 372.1"/><path color="#86500a" d="M93.0 363.4L95.3 364.0L96.0 369.0L93.8 367.6"/><path color="#794507" d="M134.4 366.8L136.6 367.2L137.4 371.2L135.1 371.2"/><path color="#8b540b" d="M61.5 364.5L63.7 364.7L64.5 368.1L62.2 369.2"/><path color="#bd7813" d="M102.8 362.5L105.0 363.7L105.8 364.1L103.6 364.9"/><path color="#4d2a03" d="M29.9 371.7L32.1 368.4L32.9 373.8L30.7 375.2"/><path color="#aa680e" d="M71.2 364.4L73.5 365.3L74.2 368.0L72.0 366.7"/><path color="#af6f12" d="M112.6 367.0L114.8 361.7L115.6 361.9L113.3 366.9"/><path color="#91550a" d="M81.0 367.6L83.2 365.0L84.0 367.8L81.8 369.2"/><path color="#9f5f0c" d="M122.3 365.0L124.6 366.3L125.4 368.3L123.1 368.6"/><path color="#b56a0d" d="M39.7 367.6L41.9 367.5L42.7 366.7L40.4 368.2"/><path color="#955508" d="M49.4 366.1L51.7 368.9L52.5 372.1L50.2 369.2"/><path color="#a66a11" d="M90.8 357.5L93.0 363.4L93.8 367.6L91.5 364.1"/><path color="#8a5008" d="M132.1 365.4L134.4 366.8L135.1 371.2L132.9 369.6"/><path color="#8d550b" d="M59.2 364.8L61.5 364.5L62.2 369.2L60.0 368.6"/><path color="#945d0e" d="M100.5 364.5L102.8 362.5L103.6 364.9L101.3 367.7"/><path color="#945307" d="M141.9 371.1L144.1 371.7L144.9 371.8L142.6 370.1"/><path color="#472501" d="M27.6 374.0L29.9 371.7L30.7 375.2L28.4 376.2"/><path color="#cc7c11" d="M110.3 367.0L112.6 367.0L113.3 366.9L111.1 365.7"/><path color="#bb7612" d="M69.0 364.3L71.2 364.4L72.0 366.7L69.8 365.4"/><path color="#a05c0a" d="M78.8 368.0L81.0 367.6L81.8 369.2L79.5 369.2"/><path color="#985709" d="M37.4 370.6L39.7 367.6L40.4 368.2L38.2 370.6"/><path color="#a1650f" d="M120.1 362.2L122.3 365.0L123.1 368.6L120.9 367.1"/><path color="#cf8314" d="M47.2 362.7L49.4 366.1L50.2 369.2L48.0 363.6"/><path color="#8a5e12" d="M88.5 354.8L90.8 357.5L91.5 364.1L89.3 363.1"/><path color="#a3630d" d="M129.9 364.8L132.1 365.4L132.9 369.6L130.6 367.1"/><path color="#864f0a" d="M57.0 367.2L59.2 364.8L60.0 368.6L57.7 370.3"/><path color="#9e5908" d="M139.6 371.0L141.9 371.1L142.6 370.1L140.4 370.5"/><path color="#804b08" d="M98.3 367.7L100.5 364.5L101.3 367.7L99.1 370.5"/><path color="#eb9316" d="M108.1 366.6L110.3 367.0L111.1 365.7L108.8 363.7"/><path color="#b47111" d="M66.7 366.3L69.0 364.3L69.8 365.4L67.5 366.9"/><path color="#7f4706" d="M35.2 372.4L37.4 370.6L38.2 370.6L35.9 373.1"/><path color="#925309" d="M76.5 368.0L78.8 368.0L79.5 369.2L77.3 371.1"/><path color="#c88618" d="M117.8 359.5L120.1 362.2L120.9 367.1L118.6 362.2"/><path color="#c68116" d="M44.9 365.5L47.2 362.7L48.0 363.6L45.7 365.1"/><path color="#714c0e" d="M86.3 360.8L88.5 354.8L89.3 363.1L87.0 367.5"/><path color="#c37a12" d="M127.6 367.3L129.9 364.8L130.6 367.1L128.4 365.5"/><path color="#8c4f07" d="M137.4 371.2L139.6 371.0L140.4 370.5L138.1 372.3"/><path color="#6e3e06" d="M54.7 370.8L57.0 367.2L57.7 370.3L55.5 373.8"/><path color="#7a4507" d="M96.0 369.0L98.3 367.7L99.1 370.5L96.8 372.1"/><path color="#a7650d" d="M64.5 368.1L66.7 366.3L67.5 366.9L65.2 369.3"/><path color="#ffa71c" d="M105.8 364.1L108.1 366.6L108.8 363.7L106.6 361.1"/><path color="#8f5208" d="M74.2 368.0L76.5 368.0L77.3 371.1L75.0 370.7"/><path color="#eaa423" d="M115.6 361.9L117.8 359.5L118.6 362.2L116.4 359.9"/><path color="#633604" d="M32.9 373.8L35.2 372.4L35.9 373.1L33.7 375.4"/><path color="#bf7812" d="M42.7 366.7L44.9 365.5L45.7 365.1L43.5 367.4"/><path color="#5f3a08" d="M84.0 367.8L86.3 360.8L87.0 367.5L84.8 371.9"/><path color="#df8a14" d="M125.4 368.3L127.6 367.3L128.4 365.5L126.1 365.7"/><path color="#633704" d="M52.5 372.1L54.7 370.8L55.5 373.8L53.2 375.0"/><path color="#7b4607" d="M93.8 367.6L96.0 369.0L96.8 372.1L94.6 372.2"/><path color="#7f4706" d="M135.1 371.2L137.4 371.2L138.1 372.3L135.9 373.2"/><path color="#e0931a" d="M103.6 364.9L105.8 364.1L106.6 361.1L104.3 365.0"/><path color="#955609" d="M62.2 369.2L64.5 368.1L65.2 369.3L63.0 371.4"/><path color="#af690d" d="M72.0 366.7L74.2 368.0L75.0 370.7L72.8 368.1"/><path color="#4f2902" d="M30.7 375.2L32.9 373.8L33.7 375.4L31.4 376.9"/><path color="#e5991c" d="M113.3 366.9L115.6 361.9L116.4 359.9L114.1 364.2"/><path color="#ce8012" d="M40.4 368.2L42.7 366.7L43.5 367.4L41.2 366.2"/><path color="#714006" d="M81.8 369.2L84.0 367.8L84.8 371.9L82.5 373.3"/><path color="#c57810" d="M123.1 368.6L125.4 368.3L126.1 365.7L123.9 368.8"/><path color="#794406" d="M50.2 369.2L52.5 372.1L53.2 375.0L51.0 373.2"/><path color="#854b07" d="M132.9 369.6L135.1 371.2L135.9 373.2L133.6 372.6"/><path color="#784608" d="M91.5 364.1L93.8 367.6L94.6 372.2L92.3 371.8"/><path color="#a7680f" d="M101.3 367.7L103.6 364.9L104.3 365.0L102.1 369.2"/><path color="#864c08" d="M60.0 368.6L62.2 369.2L63.0 371.4L60.8 372.6"/><path color="#c9730c" d="M142.6 370.1L144.9 371.8L145.7 371.8L143.4 367.4"/><path color="#432100" d="M28.4 376.2L30.7 375.2L31.4 376.9L29.2 377.8"/><path color="#ca7f14" d="M69.8 365.4L72.0 366.7L72.8 368.1L70.5 366.2"/><path color="#ffa91d" d="M111.1 365.7L113.3 366.9L114.1 364.2L111.9 361.7"/><path color="#ea9215" d="M38.2 370.6L40.4 368.2L41.2 366.2L39.0 364.3"/><path color="#754206" d="M79.5 369.2L81.8 369.2L82.5 373.3L80.3 373.4"/><path color="#a8650d" d="M120.9 367.1L123.1 368.6L123.9 368.8L121.6 370.3"/><path color="#a6610b" d="M130.6 367.1L132.9 369.6L133.6 372.6L131.4 369.5"/><path color="#b06b0e" d="M48.0 363.6L50.2 369.2L51.0 373.2L48.7 367.7"/><path color="#5e3907" d="M89.3 363.1L91.5 364.1L92.3 371.8L90.1 372.3"/><path color="#774407" d="M57.7 370.3L60.0 368.6L60.8 372.6L58.5 373.5"/><path color="#8a4f08" d="M99.1 370.5L101.3 367.7L102.1 369.2L99.8 372.6"/><path color="#dc8411" d="M140.4 370.5L142.6 370.1L143.4 367.4L141.2 367.6"/><path color="#c07a13" d="M67.5 366.9L69.8 365.4L70.5 366.2L68.3 367.4"/><path color="#ffbd24" d="M108.8 363.7L111.1 365.7L111.9 361.7L109.6 359.8"/><path color="#de8611" d="M35.9 373.1L38.2 370.6L39.0 364.3L36.7 367.4"/><path color="#864c07" d="M77.3 371.1L79.5 369.2L80.3 373.4L78.0 372.1"/><path color="#aa6c11" d="M118.6 362.2L120.9 367.1L121.6 370.3L119.4 368.1"/><path color="#a76c12" d="M45.7 365.1L48.0 363.6L48.7 367.7L46.5 367.4"/><path color="#5b3606" d="M87.0 367.5L89.3 363.1L90.1 372.3L87.8 374.0"/><path color="#df8e17" d="M128.4 365.5L130.6 367.1L131.4 369.5L129.1 364.4"/><path color="#784306" d="M96.8 372.1L99.1 370.5L99.8 372.6L97.6 374.3"/><path color="#b1660b" d="M138.1 372.3L140.4 370.5L141.2 367.6L138.9 372.0"/><path color="#6d3d05" d="M55.5 373.8L57.7 370.3L58.5 373.5L56.2 375.2"/><path color="#bc7511" d="M65.2 369.3L67.5 366.9L68.3 367.4L66.0 368.7"/><path color="#ffbc2b" d="M106.6 361.1L108.8 363.7L109.6 359.8L107.4 362.0"/><path color="#b4660a" d="M33.7 375.4L35.9 373.1L36.7 367.4L34.5 372.7"/><path color="#bf6e0b" d="M75.0 370.7L77.3 371.1L78.0 372.1L75.8 368.9"/><path color="#b87d17" d="M116.4 359.9L118.6 362.2L119.4 368.1L117.1 364.1"/><path color="#ad6e11" d="M43.5 367.4L45.7 365.1L46.5 367.4L44.2 368.6"/><path color="#ffad1f" d="M126.1 365.7L128.4 365.5L129.1 364.4L126.9 363.0"/><path color="#5b3305" d="M84.8 371.9L87.0 367.5L87.8 374.0L85.6 375.5"/><path color="#744106" d="M94.6 372.2L96.8 372.1L97.6 374.3L95.3 374.9"/><path color="#653704" d="M53.2 375.0L55.5 373.8L56.2 375.2L54.0 376.5"/><path color="#8d5007" d="M135.9 373.2L138.1 372.3L138.9 372.0L136.7 373.9"/><path color="#b1680c" d="M63.0 371.4L65.2 369.3L66.0 368.7L63.8 371.0"/><path color="#cb8a1a" d="M104.3 365.0L106.6 361.1L107.4 362.0L105.1 365.1"/><path color="#743f04" d="M31.4 376.9L33.7 375.4L34.5 372.7L32.2 376.6"/><path color="#c0740f" d="M72.8 368.1L75.0 370.7L75.8 368.9L73.5 370.3"/><path color="#b47c18" d="M114.1 364.2L116.4 359.9L117.1 364.1L114.9 365.1"/><path color="#eb9a1b" d="M123.9 368.8L126.1 365.7L126.9 363.0L124.6 366.2"/><path color="#f6a01b" d="M41.2 366.2L43.5 367.4L44.2 368.6L42.0 363.6"/><path color="#653804" d="M82.5 373.3L84.8 371.9L85.6 375.5L83.3 376.2"/><path color="#754005" d="M51.0 373.2L53.2 375.0L54.0 376.5L51.8 375.1"/><path color="#713f05" d="M92.3 371.8L94.6 372.2L95.3 374.9L93.1 375.4"/><path color="#8a4d07" d="M133.6 372.6L135.9 373.2L136.7 373.9L134.4 374.0"/><path color="#a65f0a" d="M60.8 372.6L63.0 371.4L63.8 371.0L61.5 372.3"/><path color="#af6f12" d="M102.1 369.2L104.3 365.0L105.1 365.1L102.9 369.8"/><path color="#b96d0d" d="M143.4 367.4L145.7 371.8L146.4 373.7L144.2 369.5"/><path color="#502901" d="M29.2 377.8L31.4 376.9L32.2 376.6L30.0 378.7"/><path color="#a9690f" d="M70.5 366.2L72.8 368.1L73.5 370.3L71.3 370.0"/><path color="#dc961c" d="M111.9 361.7L114.1 364.2L114.9 365.1L112.6 364.6"/><path color="#ffc92f" d="M39.0 364.3L41.2 366.2L42.0 363.6L39.7 356.1"/><path color="#713f05" d="M80.3 373.4L82.5 373.3L83.3 376.2L81.1 375.5"/><path color="#d98814" d="M121.6 370.3L123.9 368.8L124.6 366.2L122.4 368.6"/><path color="#683a05" d="M90.1 372.3L92.3 371.8L93.1 375.4L90.8 376.4"/><path color="#ab620a" d="M131.4 369.5L133.6 372.6L134.4 374.0L132.2 371.3"/><path color="#ba6b0b" d="M48.7 367.7L51.0 373.2L51.8 375.1L49.5 369.7"/><path color="#ad620a" d="M58.5 373.5L60.8 372.6L61.5 372.3L59.3 371.9"/><path color="#925409" d="M99.8 372.6L102.1 369.2L102.9 369.8L100.6 373.9"/><path color="#c17a13" d="M141.2 367.6L143.4 367.4L144.2 369.5L141.9 368.1"/><path color="#aa6c11" d="M68.3 367.4L70.5 366.2L71.3 370.0L69.0 369.0"/><path color="#dfa128" d="M109.6 359.8L111.9 361.7L112.6 364.6L110.4 362.0"/><path color="#ffd136" d="M36.7 367.4L39.0 364.3L39.7 356.1L37.5 359.7"/><path color="#d88714" d="M119.4 368.1L121.6 370.3L122.4 368.6L120.1 368.6"/><path color="#a96009" d="M78.0 372.1L80.3 373.4L81.1 375.5L78.8 371.1"/><path color="#603504" d="M87.8 374.0L90.1 372.3L90.8 376.4L88.6 377.2"/><path color="#c47d14" d="M46.5 367.4L48.7 367.7L49.5 369.7L47.2 368.1"/><path color="#db8c17" d="M129.1 364.4L131.4 369.5L132.2 371.3L129.9 366.3"/><path color="#9f5a09" d="M56.2 375.2L58.5 373.5L59.3 371.9L57.0 373.9"/><path color="#7e4706" d="M97.6 374.3L99.8 372.6L100.6 373.9L98.4 375.6"/><path color="#b46f10" d="M138.9 372.0L141.2 367.6L141.9 368.1L139.7 370.8"/><path color="#c67e14" d="M66.0 368.7L68.3 367.4L69.0 369.0L66.8 368.3"/><path color="#c18c24" d="M107.4 362.0L109.6 359.8L110.4 362.0L108.1 364.3"/><path color="#cc8517" d="M117.1 364.1L119.4 368.1L120.1 368.6L117.9 367.9"/><path color="#ffad1e" d="M34.5 372.7L36.7 367.4L37.5 359.7L35.2 366.1"/><path color="#bf720e" d="M75.8 368.9L78.0 372.1L78.8 371.1L76.6 371.1"/><path color="#d68a17" d="M44.2 368.6L46.5 367.4L47.2 368.1L45.0 367.5"/><path color="#5f3404" d="M85.6 375.5L87.8 374.0L88.6 377.2L86.3 377.9"/><path color="#f4a923" d="M126.9 363.0L129.1 364.4L129.9 366.3L127.7 362.9"/><path color="#7b4405" d="M54.0 376.5L56.2 375.2L57.0 373.9L54.8 377.1"/><path color="#824806" d="M95.3 374.9L97.6 374.3L98.4 375.6L96.1 375.3"/><path color="#ab620a" d="M136.7 373.9L138.9 372.0L139.7 370.8L137.4 373.4"/><path color="#bc7511" d="M63.8 371.0L66.0 368.7L66.8 368.3L64.5 370.8"/><path color="#b57c18" d="M105.1 365.1L107.4 362.0L108.1 364.3L105.9 367.3"/><path color="#d27a0e" d="M32.2 376.6L34.5 372.7L35.2 366.1L33.0 372.8"/><path color="#a5640e" d="M73.5 370.3L75.8 368.9L76.6 371.1L74.3 371.7"/><path color="#a26c13" d="M114.9 365.1L117.1 364.1L117.9 367.9L115.6 369.1"/><path color="#623504" d="M83.3 376.2L85.6 375.5L86.3 377.9L84.1 378.0"/><path color="#ffbb2c" d="M124.6 366.2L126.9 363.0L127.7 362.9L125.4 362.2"/><path color="#ffbb23" d="M42.0 363.6L44.2 368.6L45.0 367.5L42.8 361.6"/><path color="#703d04" d="M51.8 375.1L54.0 376.5L54.8 377.1L52.5 377.5"/><path color="#814806" d="M93.1 375.4L95.3 374.9L96.1 375.3L93.9 376.1"/><path color="#9a5708" d="M134.4 374.0L136.7 373.9L137.4 373.4L135.2 374.7"/><path color="#b86e0e" d="M61.5 372.3L63.8 371.0L64.5 370.8L62.3 371.9"/><path color="#996210" d="M102.9 369.8L105.1 365.1L105.9 367.3L103.6 371.7"/><path color="#a15c09" d="M144.2 369.5L146.4 373.7L147.2 376.0L145.0 373.0"/><path color="#7d4405" d="M30.0 378.7L32.2 376.6L33.0 372.8L30.7 378.3"/><path color="#ac7214" d="M112.6 364.6L114.9 365.1L115.6 369.1L113.4 368.6"/><path color="#a5630d" d="M71.3 370.0L73.5 370.3L74.3 371.7L72.1 372.6"/><path color="#804606" d="M81.1 375.5L83.3 376.2L84.1 378.0L81.8 375.6"/><path color="#fff355" d="M39.7 356.1L42.0 363.6L42.8 361.6L40.5 355.9"/><path color="#ffc329" d="M122.4 368.6L124.6 366.2L125.4 362.2L123.2 362.0"/><path color="#955508" d="M49.5 369.7L51.8 375.1L52.5 377.5L50.3 374.1"/><path color="#723f05" d="M90.8 376.4L93.1 375.4L93.9 376.1L91.6 377.8"/><path color="#ad630a" d="M132.2 371.3L134.4 374.0L135.2 374.7L132.9 372.9"/><path color="#ce7c10" d="M59.3 371.9L61.5 372.3L62.3 371.9L60.0 370.4"/><path color="#c07912" d="M141.9 368.1L144.2 369.5L145.0 373.0L142.7 369.0"/><path color="#864e08" d="M100.6 373.9L102.9 369.8L103.6 371.7L101.4 375.7"/><path color="#bd8119" d="M110.4 362.0L112.6 364.6L113.4 368.6L111.1 366.7"/><path color="#975c0c" d="M69.0 369.0L71.3 370.0L72.1 372.6L69.8 373.4"/><path color="#ffed64" d="M37.5 359.7L39.7 356.1L40.5 355.9L38.2 356.2"/><path color="#d1780d" d="M78.8 371.1L81.1 375.5L81.8 375.6L79.6 370.0"/><path color="#ffbf26" d="M120.1 368.6L122.4 368.6L123.2 362.0L120.9 363.0"/><path color="#aa6a0f" d="M47.2 368.1L49.5 369.7L50.3 374.1L48.0 370.8"/><path color="#673804" d="M88.6 377.2L90.8 376.4L91.6 377.8L89.4 378.7"/><path color="#d68815" d="M129.9 366.3L132.2 371.3L132.9 372.9L130.7 368.4"/><path color="#d28716" d="M139.7 370.8L141.9 368.1L142.7 369.0L140.5 368.9"/><path color="#bd700e" d="M57.0 373.9L59.3 371.9L60.0 370.4L57.8 372.8"/><path color="#804807" d="M98.4 375.6L100.6 373.9L101.4 375.7L99.1 376.7"/><path color="#8d570c" d="M66.8 368.3L69.0 369.0L69.8 373.4L67.6 373.4"/><path color="#956615" d="M108.1 364.3L110.4 362.0L111.1 366.7L108.9 369.2"/><path color="#d48414" d="M76.6 371.1L78.8 371.1L79.6 370.0L77.3 370.3"/><path color="#ffb321" d="M117.9 367.9L120.1 368.6L120.9 363.0L118.7 367.2"/><path color="#ffd444" d="M35.2 366.1L37.5 359.7L38.2 356.2L36.0 361.4"/><path color="#c98316" d="M45.0 367.5L47.2 368.1L48.0 370.8L45.8 368.6"/><path color="#623503" d="M86.3 377.9L88.6 377.2L89.4 378.7L87.1 379.3"/><path color="#fdb127" d="M127.7 362.9L129.9 366.3L130.7 368.4L128.4 363.3"/><path color="#8e5008" d="M54.8 377.1L57.0 373.9L57.8 372.8L55.5 377.3"/><path color="#915207" d="M96.1 375.3L98.4 375.6L99.1 376.7L96.9 375.5"/><path color="#c67a11" d="M137.4 373.4L139.7 370.8L140.5 368.9L138.2 372.2"/><path color="#83570f" d="M105.9 367.3L108.1 364.3L108.9 369.2L106.6 372.3"/><path color="#7b4b0a" d="M64.5 370.8L66.8 368.3L67.6 373.4L65.3 375.1"/><path color="#c67b12" d="M74.3 371.7L76.6 371.1L77.3 370.3L75.1 371.7"/><path color="#ffb622" d="M33.0 372.8L35.2 366.1L36.0 361.4L33.8 366.8"/><path color="#b37514" d="M115.6 369.1L117.9 367.9L118.7 367.2L116.4 372.1"/><path color="#eba322" d="M42.8 361.6L45.0 367.5L45.8 368.6L43.5 365.6"/><path color="#653603" d="M84.1 378.0L86.3 377.9L87.1 379.3L84.9 379.2"/><path color="#ffd841" d="M125.4 362.2L127.7 362.9L128.4 363.3L126.2 359.8"/><path color="#744005" d="M52.5 377.5L54.8 377.1L55.5 377.3L53.3 378.9"/><path color="#ae650b" d="M135.2 374.7L137.4 373.4L138.2 372.2L136.0 374.9"/><path color="#955408" d="M93.9 376.1L96.1 375.3L96.9 375.5L94.6 376.0"/><path color="#75480a" d="M103.6 371.7L105.9 367.3L106.6 372.3L104.4 375.6"/><path color="#8b520a" d="M62.3 371.9L64.5 370.8L65.3 375.1L63.1 374.9"/><path color="#af640a" d="M145.0 373.0L147.2 376.0L148.0 377.1L145.7 373.5"/><path color="#b96c0d" d="M30.7 378.3L33.0 372.8L33.8 366.8L31.5 376.3"/><path color="#a5630d" d="M72.1 372.6L74.3 371.7L75.1 371.7L72.8 374.8"/><path color="#98600f" d="M113.4 368.6L115.6 369.1L116.4 372.1L114.2 373.4"/><path color="#dbad3b" d="M40.5 355.9L42.8 361.6L43.5 365.6L41.3 361.6"/><path color="#945307" d="M81.8 375.6L84.1 378.0L84.9 379.2L82.6 375.3"/><path color="#fff052" d="M123.2 362.0L125.4 362.2L126.2 359.8L123.9 357.4"/><path color="#b5690b" d="M132.9 372.9L135.2 374.7L136.0 374.9L133.7 373.9"/><path color="#9d5908" d="M50.3 374.1L52.5 377.5L53.3 378.9L51.0 374.9"/><path color="#8d4f07" d="M91.6 377.8L93.9 376.1L94.6 376.0L92.4 377.1"/><path color="#a6650d" d="M60.0 370.4L62.3 371.9L63.1 374.9L60.8 373.3"/><path color="#734106" d="M101.4 375.7L103.6 371.7L104.4 375.6L102.1 378.2"/><path color="#ea9417" d="M142.7 369.0L145.0 373.0L145.7 373.5L143.5 368.6"/><path color="#7c4707" d="M69.8 373.4L72.1 372.6L72.8 374.8L70.6 378.2"/><path color="#915d0f" d="M111.1 366.7L113.4 368.6L114.2 373.4L111.9 372.9"/><path color="#a88b37" d="M38.2 356.2L40.5 355.9L41.3 361.6L39.0 361.9"/><path color="#e58c14" d="M79.6 370.0L81.8 375.6L82.6 375.3L80.4 368.8"/><path color="#fff557" d="M120.9 363.0L123.2 362.0L123.9 357.4L121.7 357.6"/><path color="#d78412" d="M48.0 370.8L50.3 374.1L51.0 374.9L48.8 370.6"/><path color="#884b06" d="M89.4 378.7L91.6 377.8L92.4 377.1L90.1 377.8"/><path color="#de8d16" d="M130.7 368.4L132.9 372.9L133.7 373.9L131.5 369.5"/><path color="#7b4506" d="M99.1 376.7L101.4 375.7L102.1 378.2L99.9 378.3"/><path color="#f4a31e" d="M140.5 368.9L142.7 369.0L143.5 368.6L141.2 367.6"/><path color="#985d0d" d="M57.8 372.8L60.0 370.4L60.8 373.3L58.6 374.8"/><path color="#653905" d="M67.6 373.4L69.8 373.4L70.6 378.2L68.3 379.5"/><path color="#774c0c" d="M108.9 369.2L111.1 366.7L111.9 372.9L109.7 374.6"/><path color="#987829" d="M36.0 361.4L38.2 356.2L39.0 361.9L36.8 364.8"/><path color="#ef9e1b" d="M77.3 370.3L79.6 370.0L80.4 368.8L78.1 368.9"/><path color="#ffc73c" d="M118.7 367.2L120.9 363.0L121.7 357.6L119.4 365.2"/><path color="#d78d18" d="M45.8 368.6L48.0 370.8L48.8 370.6L46.5 370.3"/><path color="#ffc22d" d="M128.4 363.3L130.7 368.4L131.5 369.5L129.2 363.5"/><path color="#7e4505" d="M87.1 379.3L89.4 378.7L90.1 377.8L87.9 379.1"/><path color="#8f5108" d="M96.9 375.5L99.1 376.7L99.9 378.3L97.6 377.0"/><path color="#814a07" d="M55.5 377.3L57.8 372.8L58.6 374.8L56.3 378.4"/><path color="#de9219" d="M138.2 372.2L140.5 368.9L141.2 367.6L139.0 370.3"/><path color="#5f3605" d="M65.3 375.1L67.6 373.4L68.3 379.5L66.1 379.8"/><path color="#74470a" d="M106.6 372.3L108.9 369.2L109.7 374.6L107.4 376.8"/><path color="#be8b25" d="M33.8 366.8L36.0 361.4L36.8 364.8L34.5 366.9"/><path color="#c07c14" d="M75.1 371.7L77.3 370.3L78.1 368.9L75.9 373.2"/><path color="#bd7d16" d="M116.4 372.1L118.7 367.2L119.4 365.2L117.2 373.0"/><path color="#ffdd4b" d="M126.2 359.8L128.4 363.3L129.2 363.5L127.0 360.2"/><path color="#bc7e17" d="M43.5 365.6L45.8 368.6L46.5 370.3L44.3 370.9"/><path color="#774105" d="M84.9 379.2L87.1 379.3L87.9 379.1L85.6 379.7"/><path color="#744005" d="M53.3 378.9L55.5 377.3L56.3 378.4L54.1 380.1"/><path color="#985709" d="M94.6 376.0L96.9 375.5L97.6 377.0L95.4 376.8"/><path color="#c77b12" d="M136.0 374.9L138.2 372.2L139.0 370.3L136.7 373.8"/><path color="#734106" d="M63.1 374.9L65.3 375.1L66.1 379.8L63.8 378.8"/><path color="#714106" d="M104.4 375.6L106.6 372.3L107.4 376.8L105.2 379.1"/><path color="#b2660a" d="M145.7 373.5L148.0 377.1L148.8 378.6L146.5 374.6"/><path color="#935e0f" d="M31.5 376.3L33.8 366.8L34.5 366.9L32.3 376.3"/><path color="#87500a" d="M72.8 374.8L75.1 371.7L75.9 373.2L73.6 378.1"/><path color="#ab690f" d="M114.2 373.4L116.4 372.1L117.2 373.0L114.9 375.0"/><path color="#885f14" d="M41.3 361.6L43.5 365.6L44.3 370.9L42.0 371.6"/><path color="#935207" d="M82.6 375.3L84.9 379.2L85.6 379.7L83.4 377.6"/><path color="#ffdf5a" d="M123.9 357.4L126.2 359.8L127.0 360.2L124.7 358.8"/><path color="#b4670b" d="M92.4 377.1L94.6 376.0L95.4 376.8L93.1 375.0"/><path color="#d28011" d="M133.7 373.9L136.0 374.9L136.7 373.8L134.5 373.0"/><path color="#8c4f07" d="M51.0 374.9L53.3 378.9L54.1 380.1L51.8 378.1"/><path color="#884e08" d="M60.8 373.3L63.1 374.9L63.8 378.8L61.6 377.6"/><path color="#6e3e05" d="M102.1 378.2L104.4 375.6L105.2 379.1L102.9 380.2"/><path color="#dc8d17" d="M143.5 368.6L145.7 373.5L146.5 374.6L144.2 370.5"/><path color="#663905" d="M70.6 378.2L72.8 374.8L73.6 378.1L71.4 381.3"/><path color="#aa670e" d="M111.9 372.9L114.2 373.4L114.9 375.0L112.7 375.2"/><path color="#785614" d="M39.0 361.9L41.3 361.6L42.0 371.6L39.8 372.1"/><path color="#e3c155" d="M121.7 357.6L123.9 357.4L124.7 358.8L122.5 360.3"/><path color="#b87110" d="M80.4 368.8L82.6 375.3L83.4 377.6L81.1 373.6"/><path color="#cd750c" d="M90.1 377.8L92.4 377.1L93.1 375.0L90.9 374.7"/><path color="#ae690e" d="M48.8 370.6L51.0 374.9L51.8 378.1L49.6 374.3"/><path color="#eb9819" d="M131.5 369.5L133.7 373.9L134.5 373.0L132.2 370.5"/><path color="#7f4908" d="M58.6 374.8L60.8 373.3L61.6 377.6L59.3 378.4"/><path color="#7e4606" d="M99.9 378.3L102.1 378.2L102.9 380.2L100.7 379.4"/><path color="#d6911b" d="M141.2 367.6L143.5 368.6L144.2 370.5L142.0 369.5"/><path color="#5a3103" d="M68.3 379.5L70.6 378.2L71.4 381.3L69.1 382.6"/><path color="#a0600d" d="M109.7 374.6L111.9 372.9L112.7 375.2L110.4 376.1"/><path color="#977728" d="M119.4 365.2L121.7 357.6L122.5 360.3L120.2 368.0"/><path color="#775413" d="M36.8 364.8L39.0 361.9L39.8 372.1L37.5 372.2"/><path color="#9d6712" d="M78.1 368.9L80.4 368.8L81.1 373.6L78.9 373.3"/><path color="#ac6f12" d="M46.5 370.3L48.8 370.6L49.6 374.3L47.3 373.2"/><path color="#b5670a" d="M87.9 379.1L90.1 377.8L90.9 374.7L88.6 377.4"/><path color="#ffc631" d="M129.2 363.5L131.5 369.5L132.2 370.5L130.0 364.4"/><path color="#714006" d="M56.3 378.4L58.6 374.8L59.3 378.4L57.1 380.7"/><path color="#985608" d="M97.6 377.0L99.9 378.3L100.7 379.4L98.4 377.9"/><path color="#ca8919" d="M139.0 370.3L141.2 367.6L142.0 369.5L139.8 370.7"/><path color="#5a3103" d="M66.1 379.8L68.3 379.5L69.1 382.6L66.9 382.7"/><path color="#975709" d="M107.4 376.8L109.7 374.6L110.4 376.1L108.2 378.1"/><path color="#754f0f" d="M34.5 366.9L36.8 364.8L37.5 372.2L35.3 373.8"/><path color="#81520d" d="M75.9 373.2L78.1 368.9L78.9 373.3L76.6 376.9"/><path color="#a67015" d="M117.2 373.0L119.4 365.2L120.2 368.0L118.0 372.9"/><path color="#a25b09" d="M85.6 379.7L87.9 379.1L88.6 377.4L86.4 378.4"/><path color="#fdc946" d="M127.0 360.2L129.2 363.5L130.0 364.4L127.7 362.6"/><path color="#986210" d="M44.3 370.9L46.5 370.3L47.3 373.2L45.1 375.6"/><path color="#6b3b05" d="M54.1 380.1L56.3 378.4L57.1 380.7L54.8 381.9"/><path color="#a55f0a" d="M95.4 376.8L97.6 377.0L98.4 377.9L96.2 377.4"/><path color="#de9219" d="M136.7 373.8L139.0 370.3L139.8 370.7L137.5 371.2"/><path color="#653704" d="M63.8 378.8L66.1 379.8L66.9 382.7L64.6 382.1"/><path color="#854b07" d="M105.2 379.1L107.4 376.8L108.2 378.1L105.9 380.2"/><path color="#a45e09" d="M146.5 374.6L148.8 378.6L149.5 380.6L147.3 377.0"/><path color="#643f09" d="M32.3 376.3L34.5 366.9L35.3 373.8L33.0 378.9"/><path color="#d18415" d="M114.9 375.0L117.2 373.0L118.0 372.9L115.7 373.4"/><path color="#744207" d="M73.6 378.1L75.9 373.2L76.6 376.9L74.4 380.7"/><path color="#a96009" d="M83.4 377.6L85.6 379.7L86.4 378.4L84.1 378.1"/><path color="#794c0b" d="M42.0 371.6L44.3 370.9L45.1 375.6L42.8 378.1"/><path color="#d5ae42" d="M124.7 358.8L127.0 360.2L127.7 362.6L125.5 363.1"/><path color="#7b4406" d="M51.8 378.1L54.1 380.1L54.8 381.9L52.6 380.7"/><path color="#c0720e" d="M93.1 375.0L95.4 376.8L96.2 377.4L93.9 375.3"/><path color="#fca41c" d="M134.5 373.0L136.7 373.8L137.5 371.2L135.2 371.1"/><path color="#6f3e05" d="M61.6 377.6L63.8 378.8L64.6 382.1L62.4 381.5"/><path color="#cb8114" d="M144.2 370.5L146.5 374.6L147.3 377.0L145.0 372.8"/><path color="#804706" d="M102.9 380.2L105.2 379.1L105.9 380.2L103.7 380.7"/><path color="#db8915" d="M112.7 375.2L114.9 375.0L115.7 373.4L113.5 373.9"/><path color="#693a05" d="M71.4 381.3L73.6 378.1L74.4 380.7L72.1 382.5"/><path color="#77490a" d="M39.8 372.1L42.0 371.6L42.8 378.1L40.6 378.1"/><path color="#9f5c0a" d="M81.1 373.6L83.4 377.6L84.1 378.1L81.9 378.7"/><path color="#a28330" d="M122.5 360.3L124.7 358.8L125.5 363.1L123.2 366.0"/><path color="#9d5a09" d="M49.6 374.3L51.8 378.1L52.6 380.7L50.3 378.0"/><path color="#dd8b15" d="M90.9 374.7L93.1 375.0L93.9 375.3L91.7 372.9"/><path color="#d68d19" d="M132.2 370.5L134.5 373.0L135.2 371.1L133.0 373.6"/><path color="#c08117" d="M142.0 369.5L144.2 370.5L145.0 372.8L142.8 372.7"/><path color="#6c3d05" d="M59.3 378.4L61.6 377.6L62.4 381.5L60.1 382.0"/><path color="#935207" d="M100.7 379.4L102.9 380.2L103.7 380.7L101.4 379.5"/><path color="#5c3103" d="M69.1 382.6L71.4 381.3L72.1 382.5L69.9 384.1"/><path color="#ce8012" d="M110.4 376.1L112.7 375.2L113.5 373.9L111.2 375.2"/><path color="#774809" d="M78.9 373.3L81.1 373.6L81.9 378.7L79.6 379.6"/><path color="#7b5c1a" d="M120.2 368.0L122.5 360.3L123.2 366.0L121.0 372.8"/><path color="#ac6e11" d="M37.5 372.2L39.8 372.1L40.6 378.1L38.3 373.8"/><path color="#9c600d" d="M47.3 373.2L49.6 374.3L50.3 378.0L48.1 377.0"/><path color="#b97210" d="M88.6 377.4L90.9 374.7L91.7 372.9L89.4 377.4"/><path color="#c78a1c" d="M130.0 364.4L132.2 370.5L133.0 373.6L130.8 371.0"/><path color="#643704" d="M57.1 380.7L59.3 378.4L60.1 382.0L57.9 383.2"/><path color="#b8690b" d="M98.4 377.9L100.7 379.4L101.4 379.5L99.2 377.1"/><path color="#b97c16" d="M139.8 370.7L142.0 369.5L142.8 372.7L140.5 373.0"/><path color="#bc710e" d="M108.2 378.1L110.4 376.1L111.2 375.2L109.0 377.2"/><path color="#562d02" d="M66.9 382.7L69.1 382.6L69.9 384.1L67.6 384.6"/><path color="#683c07" d="M76.6 376.9L78.9 373.3L79.6 379.6L77.4 381.2"/><path color="#dc9019" d="M35.3 373.8L37.5 372.2L38.3 373.8L36.1 372.2"/><path color="#9b6712" d="M118.0 372.9L120.2 368.0L121.0 372.8L118.7 374.7"/><path color="#8f580c" d="M45.1 375.6L47.3 373.2L48.1 377.0L45.8 378.4"/><path color="#b3680c" d="M86.4 378.4L88.6 377.4L89.4 377.4L87.2 377.9"/><path color="#9c7422" d="M127.7 362.6L130.0 364.4L130.8 371.0L128.5 369.6"/><path color="#613504" d="M54.8 381.9L57.1 380.7L57.9 383.2L55.6 383.9"/><path color="#e79d1d" d="M137.5 371.2L139.8 370.7L140.5 373.0L138.3 370.3"/><path color="#cd7a0f" d="M96.2 377.4L98.4 377.9L99.2 377.1L96.9 376.0"/><path color="#b2660b" d="M105.9 380.2L108.2 378.1L109.0 377.2L106.7 378.7"/><path color="#5e3203" d="M64.6 382.1L66.9 382.7L67.6 384.6L65.4 384.1"/><path color="#b4660a" d="M147.3 377.0L149.5 380.6L150.3 381.5L148.0 377.5"/><path color="#ba7411" d="M33.0 378.9L35.3 373.8L36.1 372.2L33.8 377.6"/><path color="#764306" d="M74.4 380.7L76.6 376.9L77.4 381.2L75.1 381.7"/><path color="#c78216" d="M115.7 373.4L118.0 372.9L118.7 374.7L116.5 374.1"/><path color="#92560a" d="M42.8 378.1L45.1 375.6L45.8 378.4L43.6 379.6"/><path color="#cc780e" d="M84.1 378.1L86.4 378.4L87.2 377.9L84.9 376.3"/><path color="#947224" d="M125.5 363.1L127.7 362.6L128.5 369.6L126.2 369.2"/><path color="#da941c" d="M135.2 371.1L137.5 371.2L138.3 370.3L136.0 373.0"/><path color="#703d05" d="M52.6 380.7L54.8 381.9L55.6 383.9L53.4 383.0"/><path color="#d18112" d="M93.9 375.3L96.2 377.4L96.9 376.0L94.7 376.0"/><path color="#6a3a04" d="M62.4 381.5L64.6 382.1L65.4 384.1L63.1 383.5"/><path color="#c8720c" d="M103.7 380.7L105.9 380.2L106.7 378.7L104.5 377.1"/><path color="#cc8013" d="M145.0 372.8L147.3 377.0L148.0 377.5L145.8 375.2"/><path color="#8d4f07" d="M72.1 382.5L74.4 380.7L75.1 381.7L72.9 380.8"/><path color="#cb8416" d="M113.5 373.9L115.7 373.4L116.5 374.1L114.2 374.6"/><path color="#a7610a" d="M40.6 378.1L42.8 378.1L43.6 379.6L41.3 378.9"/><path color="#bb6f0d" d="M81.9 378.7L84.1 378.1L84.9 376.3L82.7 378.6"/><path color="#9c7623" d="M123.2 366.0L125.5 363.1L126.2 369.2L124.0 370.1"/><path color="#905208" d="M50.3 378.0L52.6 380.7L53.4 383.0L51.1 380.5"/><path color="#c17b14" d="M91.7 372.9L93.9 375.3L94.7 376.0L92.4 375.9"/><path color="#986411" d="M133.0 373.6L135.2 371.1L136.0 373.0L133.8 377.7"/><path color="#db8210" d="M101.4 379.5L103.7 380.7L104.5 377.1L102.2 374.4"/><path color="#c98517" d="M142.8 372.7L145.0 372.8L145.8 375.2L143.5 373.9"/><path color="#6b3b04" d="M60.1 382.0L62.4 381.5L63.1 383.5L60.9 384.0"/><path color="#764105" d="M69.9 384.1L72.1 382.5L72.9 380.8L70.6 384.4"/><path color="#c57f15" d="M111.2 375.2L113.5 373.9L114.2 374.6L112.0 375.6"/><path color="#e58f16" d="M38.3 373.8L40.6 378.1L41.3 378.9L39.1 373.7"/><path color="#965609" d="M79.6 379.6L81.9 378.7L82.7 378.6L80.4 381.6"/><path color="#8c6114" d="M121.0 372.8L123.2 366.0L124.0 370.1L121.8 375.7"/><path color="#aa640c" d="M48.1 377.0L50.3 378.0L51.1 380.5L48.9 378.4"/><path color="#9e6611" d="M130.8 371.0L133.0 373.6L133.8 377.7L131.5 376.9"/><path color="#8c570d" d="M89.4 377.4L91.7 372.9L92.4 375.9L90.2 379.7"/><path color="#f29918" d="M99.2 377.1L101.4 379.5L102.2 374.4L100.0 372.4"/><path color="#643604" d="M57.9 383.2L60.1 382.0L60.9 384.0L58.6 384.9"/><path color="#eb9e1d" d="M140.5 373.0L142.8 372.7L143.5 373.9L141.3 371.9"/><path color="#5e3203" d="M67.6 384.6L69.9 384.1L70.6 384.4L68.4 385.7"/><path color="#c87f13" d="M109.0 377.2L111.2 375.2L112.0 375.6L109.7 376.3"/><path color="#ffb221" d="M36.1 372.2L38.3 373.8L39.1 373.7L36.8 370.6"/><path color="#844b07" d="M77.4 381.2L79.6 379.6L80.4 381.6L78.2 382.5"/><path color="#9c6510" d="M118.7 374.7L121.0 372.8L121.8 375.7L119.5 378.0"/><path color="#b47916" d="M128.5 369.6L130.8 371.0L131.5 376.9L129.3 373.5"/><path color="#b9700f" d="M45.8 378.4L48.1 377.0L48.9 378.4L46.6 377.7"/><path color="#97590a" d="M87.2 377.9L89.4 377.4L90.2 379.7L87.9 380.5"/><path color="#673704" d="M55.6 383.9L57.9 383.2L58.6 384.9L56.4 384.7"/><path color="#ffab1e" d="M96.9 376.0L99.2 377.1L100.0 372.4L97.7 371.7"/><path color="#ffb928" d="M138.3 370.3L140.5 373.0L141.3 371.9L139.0 370.3"/><path color="#6a3903" d="M65.4 384.1L67.6 384.6L68.4 385.7L66.1 384.2"/><path color="#d98714" d="M106.7 378.7L109.0 377.2L109.7 376.3L107.5 376.2"/><path color="#e18812" d="M148.0 377.5L150.3 381.5L151.1 380.6L148.8 372.5"/><path color="#c28016" d="M33.8 377.6L36.1 372.2L36.8 370.6L34.6 377.2"/><path color="#834907" d="M75.1 381.7L77.4 381.2L78.2 382.5L75.9 383.1"/><path color="#aa6d11" d="M116.5 374.1L118.7 374.7L119.5 378.0L117.2 377.3"/><path color="#d27f11" d="M43.6 379.6L45.8 378.4L46.6 377.7L44.4 377.0"/><path color="#ad680e" d="M84.9 376.3L87.2 377.9L87.9 380.5L85.7 378.5"/><path color="#c58b20" d="M126.2 369.2L128.5 369.6L129.3 373.5L127.0 372.2"/><path color="#ffb020" d="M94.7 376.0L96.9 376.0L97.7 371.7L95.5 372.3"/><path color="#c88a1c" d="M136.0 373.0L138.3 370.3L139.0 370.3L136.8 374.7"/><path color="#7c4405" d="M53.4 383.0L55.6 383.9L56.4 384.7L54.1 383.4"/><path color="#854906" d="M63.1 383.5L65.4 384.1L66.1 384.2L63.9 382.8"/><path color="#e69116" d="M104.5 377.1L106.7 378.7L107.5 376.2L105.2 376.1"/><path color="#ffac1e" d="M145.8 375.2L148.0 377.5L148.8 372.5L146.6 372.9"/><path color="#824907" d="M72.9 380.8L75.1 381.7L75.9 383.1L73.7 383.5"/><path color="#af7113" d="M114.2 374.6L116.5 374.1L117.2 377.3L115.0 377.1"/><path color="#e68e14" d="M41.3 378.9L43.6 379.6L44.4 377.0L42.1 376.2"/><path color="#c08921" d="M124.0 370.1L126.2 369.2L127.0 372.2L124.8 373.0"/><path color="#b46f10" d="M82.7 378.6L84.9 376.3L85.7 378.5L83.4 378.1"/><path color="#d88d18" d="M92.4 375.9L94.7 376.0L95.5 372.3L93.2 377.3"/><path color="#af630a" d="M51.1 380.5L53.4 383.0L54.1 383.4L51.9 379.9"/><path color="#9e6510" d="M133.8 377.7L136.0 373.0L136.8 374.7L134.5 379.4"/><path color="#894c06" d="M60.9 384.0L63.1 383.5L63.9 382.8L61.6 383.5"/><path color="#ffaa1e" d="M102.2 374.4L104.5 377.1L105.2 376.1L103.0 372.8"/><path color="#f5a51e" d="M143.5 373.9L145.8 375.2L146.6 372.9L144.3 374.1"/><path color="#653804" d="M70.6 384.4L72.9 380.8L73.7 383.5L71.4 386.1"/><path color="#bb7914" d="M112.0 375.6L114.2 374.6L115.0 377.1L112.8 376.8"/><path color="#a16c14" d="M121.8 375.7L124.0 370.1L124.8 373.0L122.5 377.3"/><path color="#f8a11b" d="M39.1 373.7L41.3 378.9L42.1 376.2L39.9 374.9"/><path color="#bb6f0e" d="M80.4 381.6L82.7 378.6L83.4 378.1L81.2 379.7"/><path color="#e28913" d="M48.9 378.4L51.1 380.5L51.9 379.9L49.6 376.3"/><path color="#945b0c" d="M90.2 379.7L92.4 375.9L93.2 377.3L91.0 381.7"/><path color="#b16d10" d="M131.5 376.9L133.8 377.7L134.5 379.4L132.3 379.1"/><path color="#7b4305" d="M58.6 384.9L60.9 384.0L61.6 383.5L59.4 385.0"/><path color="#ffbd27" d="M100.0 372.4L102.2 374.4L103.0 372.8L100.7 371.3"/><path color="#fdae23" d="M141.3 371.9L143.5 373.9L144.3 374.1L142.1 371.9"/><path color="#623503" d="M68.4 385.7L70.6 384.4L71.4 386.1L69.2 386.2"/><path color="#d38917" d="M109.7 376.3L112.0 375.6L112.8 376.8L110.5 375.9"/><path color="#eaa121" d="M36.8 370.6L39.1 373.7L39.9 374.9L37.6 372.7"/><path color="#bd6c0b" d="M78.2 382.5L80.4 381.6L81.2 379.7L78.9 380.7"/><path color="#aa6b10" d="M119.5 378.0L121.8 375.7L122.5 377.3L120.3 379.5"/><path color="#8b4f08" d="M87.9 380.5L90.2 379.7L91.0 381.7L88.7 383.5"/><path color="#d18817" d="M129.3 373.5L131.5 376.9L132.3 379.1L130.0 375.7"/><path color="#f69e1a" d="M46.6 377.7L48.9 378.4L49.6 376.3L47.4 375.2"/><path color="#894c06" d="M56.4 384.7L58.6 384.9L59.4 385.0L57.1 383.4"/><path color="#ffbe2f" d="M97.7 371.7L100.0 372.4L100.7 371.3L98.5 370.8"/><path color="#ffbe32" d="M139.0 370.3L141.3 371.9L142.1 371.9L139.8 370.1"/><path color="#864a06" d="M66.1 384.2L68.4 385.7L69.2 386.2L66.9 383.4"/><path color="#ed9c1b" d="M107.5 376.2L109.7 376.3L110.5 375.9L108.2 374.9"/><path color="#cf8213" d="M148.8 372.5L151.1 380.6L151.8 383.7L149.6 376.3"/><path color="#9e6a13" d="M34.6 377.2L36.8 370.6L37.6 372.7L35.4 378.7"/><path color="#c37b12" d="M117.2 377.3L119.5 378.0L120.3 379.5L118.0 378.0"/><path color="#9b5809" d="M75.9 383.1L78.2 382.5L78.9 380.7L76.7 383.8"/><path color="#8c5008" d="M85.7 378.5L87.9 380.5L88.7 383.5L86.5 383.2"/><path color="#ffaa1e" d="M44.4 377.0L46.6 377.7L47.4 375.2L45.1 373.7"/><path color="#c58519" d="M127.0 372.2L129.3 373.5L130.0 375.7L127.8 375.7"/><path color="#a95f09" d="M54.1 383.4L56.4 384.7L57.1 383.4L54.9 382.0"/><path color="#f5b12d" d="M95.5 372.3L97.7 371.7L98.5 370.8L96.2 372.1"/><path color="#d89a25" d="M136.8 374.7L139.0 370.3L139.8 370.1L137.6 374.2"/><path color="#b7680a" d="M63.9 382.8L66.1 384.2L66.9 383.4L64.7 380.8"/><path color="#ce8d1b" d="M146.6 372.9L148.8 372.5L149.6 376.3L147.3 374.2"/><path color="#f0a01c" d="M105.2 376.1L107.5 376.2L108.2 374.9L106.0 375.3"/><path color="#d28716" d="M115.0 377.1L117.2 377.3L118.0 378.0L115.8 377.2"/><path color="#703f05" d="M73.7 383.5L75.9 383.1L76.7 383.8L74.4 387.0"/><path color="#ffb922" d="M42.1 376.2L44.4 377.0L45.1 373.7L42.9 371.8"/><path color="#8b530a" d="M83.4 378.1L85.7 378.5L86.5 383.2L84.2 382.2"/><path color="#a77115" d="M124.8 373.0L127.0 372.2L127.8 375.7L125.5 377.4"/><path color="#d77f0f" d="M51.9 379.9L54.1 383.4L54.9 382.0L52.6 378.2"/><path color="#b77b17" d="M93.2 377.3L95.5 372.3L96.2 372.1L94.0 378.5"/><path color="#bd7b15" d="M134.5 379.4L136.8 374.7L137.6 374.2L135.3 379.2"/><path color="#c58619" d="M144.3 374.1L146.6 372.9L147.3 374.2L145.1 376.5"/><path color="#bb6b0b" d="M61.6 383.5L63.9 382.8L64.7 380.8L62.4 381.7"/><path color="#de961c" d="M103.0 372.8L105.2 376.1L106.0 375.3L103.8 376.2"/><path color="#5c3203" d="M71.4 386.1L73.7 383.5L74.4 387.0L72.2 387.8"/><path color="#dc9018" d="M112.8 376.8L115.0 377.1L115.8 377.2L113.5 376.8"/><path color="#975b0c" d="M81.2 379.7L83.4 378.1L84.2 382.2L82.0 381.6"/><path color="#9b6612" d="M122.5 377.3L124.8 373.0L125.5 377.4L123.3 379.2"/><path color="#ffc127" d="M39.9 374.9L42.1 376.2L42.9 371.8L40.6 373.4"/><path color="#fda51c" d="M49.6 376.3L51.9 379.9L52.6 378.2L50.4 374.6"/><path color="#91580c" d="M91.0 381.7L93.2 377.3L94.0 378.5L91.7 383.5"/><path color="#cb7f13" d="M132.3 379.1L134.5 379.4L135.3 379.2L133.1 379.2"/><path color="#9b5808" d="M59.4 385.0L61.6 383.5L62.4 381.7L60.2 384.6"/><path color="#b57d1a" d="M100.7 371.3L103.0 372.8L103.8 376.2L101.5 376.3"/><path color="#c5871a" d="M142.1 371.9L144.3 374.1L145.1 376.5L142.8 376.1"/><path color="#e89a1b" d="M110.5 375.9L112.8 376.8L113.5 376.8L111.3 375.9"/><path color="#733f04" d="M69.2 386.2L71.4 386.1L72.2 387.8L69.9 385.9"/><path color="#a9660d" d="M78.9 380.7L81.2 379.7L82.0 381.6L79.7 381.6"/><path color="#d2901d" d="M37.6 372.7L39.9 374.9L40.6 373.4L38.4 377.2"/><path color="#b47211" d="M120.3 379.5L122.5 377.3L123.3 379.2L121.0 379.9"/><path color="#f8a81f" d="M47.4 375.2L49.6 376.3L50.4 374.6L48.1 375.1"/><path color="#864c07" d="M88.7 383.5L91.0 381.7L91.7 383.5L89.5 385.4"/><path color="#d18716" d="M130.0 375.7L132.3 379.1L133.1 379.2L130.8 378.3"/><path color="#975508" d="M57.1 383.4L59.4 385.0L60.2 384.6L57.9 384.5"/><path color="#be8821" d="M139.8 370.1L142.1 371.9L142.8 376.1L140.6 374.6"/><path color="#a2721a" d="M98.5 370.8L100.7 371.3L101.5 376.3L99.2 376.4"/><path color="#e2991c" d="M108.2 374.9L110.5 375.9L111.3 375.9L109.0 376.1"/><path color="#b2650a" d="M66.9 383.4L69.2 386.2L69.9 385.9L67.7 381.8"/><path color="#9e5b0a" d="M149.6 376.3L151.8 383.7L152.6 386.5L150.4 382.8"/><path color="#774d0d" d="M35.4 378.7L37.6 372.7L38.4 377.2L36.1 382.8"/><path color="#925409" d="M76.7 383.8L78.9 380.7L79.7 381.6L77.5 384.9"/><path color="#fca31b" d="M118.0 378.0L120.3 379.5L121.0 379.9L118.8 374.9"/><path color="#efa522" d="M45.1 373.7L47.4 375.2L48.1 375.1L45.9 374.6"/><path color="#824907" d="M86.5 383.2L88.7 383.5L89.5 385.4L87.2 385.9"/><path color="#b97a15" d="M127.8 375.7L130.0 375.7L130.8 378.3L128.6 378.5"/><path color="#af7d1e" d="M137.6 374.2L139.8 370.1L140.6 374.6L138.3 375.9"/><path color="#b0650a" d="M54.9 382.0L57.1 383.4L57.9 384.5L55.7 382.2"/><path color="#845c14" d="M96.2 372.1L98.5 370.8L99.2 376.4L97.0 378.8"/><path color="#df8712" d="M64.7 380.8L66.9 383.4L67.7 381.8L65.4 378.4"/><path color="#d28f1b" d="M106.0 375.3L108.2 374.9L109.0 376.1L106.8 376.8"/><path color="#915e0f" d="M147.3 374.2L149.6 376.3L150.4 382.8L148.1 380.3"/><path color="#724005" d="M74.4 387.0L76.7 383.8L77.5 384.9L75.2 387.9"/><path color="#ffb822" d="M115.8 377.2L118.0 378.0L118.8 374.9L116.5 374.8"/><path color="#ffc133" d="M42.9 371.8L45.1 373.7L45.9 374.6L43.6 371.2"/><path color="#7f4807" d="M84.2 382.2L86.5 383.2L87.2 385.9L85.0 386.2"/><path color="#b57715" d="M125.5 377.4L127.8 375.7L128.6 378.5L126.3 379.2"/><path color="#e38e15" d="M52.6 378.2L54.9 382.0L55.7 382.2L53.4 377.9"/><path color="#704a0c" d="M94.0 378.5L96.2 372.1L97.0 378.8L94.8 382.3"/><path color="#bf7f17" d="M135.3 379.2L137.6 374.2L138.3 375.9L136.1 378.7"/><path color="#c88719" d="M103.8 376.2L106.0 375.3L106.8 376.8L104.5 378.0"/><path color="#8d5d10" d="M145.1 376.5L147.3 374.2L148.1 380.3L145.9 380.6"/><path color="#df8c15" d="M62.4 381.7L64.7 380.8L65.4 378.4L63.2 379.5"/><path color="#784105" d="M72.2 387.8L74.4 387.0L75.2 387.9L73.0 386.9"/><path color="#ffb021" d="M113.5 376.8L115.8 377.2L116.5 374.8L114.3 375.7"/><path color="#ffbf37" d="M40.6 373.4L42.9 371.8L43.6 371.2L41.4 372.0"/><path color="#995709" d="M82.0 381.6L84.2 382.2L85.0 386.2L82.7 383.5"/><path color="#bb7914" d="M123.3 379.2L125.5 377.4L126.3 379.2L124.1 380.1"/><path color="#f3a31e" d="M50.4 374.6L52.6 378.2L53.4 377.9L51.2 375.9"/><path color="#ffa81d" d="M133.1 379.2L135.3 379.2L136.1 378.7L133.8 375.9"/><path color="#7f4b09" d="M91.7 383.5L94.0 378.5L94.8 382.3L92.5 385.5"/><path color="#a46d13" d="M101.5 376.3L103.8 376.2L104.5 378.0L102.3 381.3"/><path color="#b76d0d" d="M60.2 384.6L62.4 381.7L63.2 379.5L60.9 383.6"/><path color="#ab7113" d="M142.8 376.1L145.1 376.5L145.9 380.6L143.6 379.8"/><path color="#a65d08" d="M69.9 385.9L72.2 387.8L73.0 386.9L70.7 383.9"/><path color="#ffb324" d="M111.3 375.9L113.5 376.8L114.3 375.7L112.0 375.0"/><path color="#c88c1e" d="M38.4 377.2L40.6 373.4L41.4 372.0L39.1 378.6"/><path color="#b16a0e" d="M79.7 381.6L82.0 381.6L82.7 383.5L80.5 382.3"/><path color="#be7913" d="M121.0 379.9L123.3 379.2L124.1 380.1L121.8 381.0"/><path color="#f3a11d" d="M130.8 378.3L133.1 379.2L133.8 375.9L131.6 378.4"/><path color="#c1841a" d="M48.1 375.1L50.4 374.6L51.2 375.9L48.9 378.3"/><path color="#7d4707" d="M89.5 385.4L91.7 383.5L92.5 385.5L90.2 387.5"/><path color="#b7690b" d="M57.9 384.5L60.2 384.6L60.9 383.6L58.7 383.6"/><path color="#7f520d" d="M99.2 376.4L101.5 376.3L102.3 381.3L100.0 383.4"/><path color="#c58519" d="M140.6 374.6L142.8 376.1L143.6 379.8L141.4 377.6"/><path color="#d98110" d="M67.7 381.8L69.9 385.9L70.7 383.9L68.5 379.5"/><path color="#e39d20" d="M109.0 376.1L111.3 375.9L112.0 375.0L109.8 377.3"/><path color="#a45d09" d="M150.4 382.8L152.6 386.5L153.4 387.6L151.1 384.3"/><path color="#915b0e" d="M36.1 382.8L38.4 377.2L39.1 378.6L36.9 384.7"/><path color="#9b5a0a" d="M77.5 384.9L79.7 381.6L80.5 382.3L78.2 385.4"/><path color="#e1951a" d="M118.8 374.9L121.0 379.9L121.8 381.0L119.6 377.8"/><path color="#b07716" d="M45.9 374.6L48.1 375.1L48.9 378.3L46.7 379.2"/><path color="#774206" d="M87.2 385.9L89.5 385.4L90.2 387.5L88.0 388.2"/><path color="#d98f19" d="M128.6 378.5L130.8 378.3L131.6 378.4L129.3 379.0"/><path color="#74490b" d="M97.0 378.8L99.2 376.4L100.0 383.4L97.8 384.2"/><path color="#ce8f1e" d="M138.3 375.9L140.6 374.6L141.4 377.6L139.1 376.9"/><path color="#c3730e" d="M55.7 382.2L57.9 384.5L58.7 383.6L56.4 382.7"/><path color="#fea61c" d="M65.4 378.4L67.7 381.8L68.5 379.5L66.2 376.6"/><path color="#c88819" d="M106.8 376.8L109.0 376.1L109.8 377.3L107.5 379.0"/><path color="#bd7310" d="M148.1 380.3L150.4 382.8L151.1 384.3L148.9 382.0"/><path color="#905108" d="M75.2 387.9L77.5 384.9L78.2 385.4L76.0 386.6"/><path color="#d39420" d="M116.5 374.8L118.8 374.9L119.6 377.8L117.3 376.5"/><path color="#ce9323" d="M43.6 371.2L45.9 374.6L46.7 379.2L44.4 375.1"/><path color="#eb9d1c" d="M126.3 379.2L128.6 378.5L129.3 379.0L127.1 377.7"/><path color="#744106" d="M85.0 386.2L87.2 385.9L88.0 388.2L85.8 388.7"/><path color="#9e620e" d="M94.8 382.3L97.0 378.8L97.8 384.2L95.5 382.5"/><path color="#df8f17" d="M53.4 377.9L55.7 382.2L56.4 382.7L54.2 379.0"/><path color="#d08d1a" d="M136.1 378.7L138.3 375.9L139.1 376.9L136.9 378.9"/><path color="#f0a01d" d="M63.2 379.5L65.4 378.4L66.2 376.6L64.0 378.1"/><path color="#c48318" d="M104.5 378.0L106.8 376.8L107.5 379.0L105.3 379.5"/><path color="#c07a13" d="M145.9 380.6L148.1 380.3L148.9 382.0L146.6 381.4"/><path color="#bb6a0a" d="M73.0 386.9L75.2 387.9L76.0 386.6L73.7 381.9"/><path color="#f5b02b" d="M114.3 375.7L116.5 374.8L117.3 376.5L115.1 374.5"/><path color="#faa71e" d="M124.1 380.1L126.3 379.2L127.1 377.7L124.8 377.9"/><path color="#d8a331" d="M41.4 372.0L43.6 371.2L44.4 375.1L42.2 373.1"/><path color="#884d07" d="M82.7 383.5L85.0 386.2L85.8 388.7L83.5 387.1"/><path color="#d7911b" d="M51.2 375.9L53.4 377.9L54.2 379.0L51.9 378.3"/><path color="#aa650c" d="M92.5 385.5L94.8 382.3L95.5 382.5L93.3 385.1"/><path color="#c18117" d="M133.8 375.9L136.1 378.7L136.9 378.9L134.6 381.0"/><path color="#be7913" d="M60.9 383.6L63.2 379.5L64.0 378.1L61.7 383.0"/><path color="#ae7113" d="M102.3 381.3L104.5 378.0L105.3 379.5L103.0 382.6"/><path color="#dd9018" d="M143.6 379.8L145.9 380.6L146.6 381.4L144.4 379.5"/><path color="#de8612" d="M70.7 383.9L73.0 386.9L73.7 381.9L71.5 380.1"/><path color="#ffcf38" d="M112.0 375.0L114.3 375.7L115.1 374.5L112.8 373.1"/><path color="#c68f23" d="M39.1 378.6L41.4 372.0L42.2 373.1L39.9 377.8"/><path color="#8e5209" d="M80.5 382.3L82.7 383.5L83.5 387.1L81.2 386.3"/><path color="#ea9a1b" d="M121.8 381.0L124.1 380.1L124.8 377.9L122.6 380.0"/><path color="#8c4f08" d="M90.2 387.5L92.5 385.5L93.3 385.1L91.0 388.6"/><path color="#986512" d="M131.6 378.4L133.8 375.9L134.6 381.0L132.4 381.9"/><path color="#a77014" d="M48.9 378.3L51.2 375.9L51.9 378.3L49.7 381.5"/><path color="#a4610c" d="M58.7 383.6L60.9 383.6L61.7 383.0L59.5 386.1"/><path color="#9f610d" d="M100.0 383.4L102.3 381.3L103.0 382.6L100.8 385.5"/><path color="#ffb822" d="M141.4 377.6L143.6 379.8L144.4 379.5L142.1 376.0"/><path color="#faa21b" d="M68.5 379.5L70.7 383.9L71.5 380.1L69.2 378.0"/><path color="#e7a72a" d="M109.8 377.3L112.0 375.0L112.8 373.1L110.6 377.5"/><path color="#d0770d" d="M151.1 384.3L153.4 387.6L154.1 387.5L151.9 382.3"/><path color="#b97713" d="M36.9 384.7L39.1 378.6L39.9 377.8L37.7 383.5"/><path color="#ce8818" d="M119.6 377.8L121.8 381.0L122.6 380.0L120.3 381.8"/><path color="#8c5109" d="M78.2 385.4L80.5 382.3L81.2 386.3L79.0 386.5"/><path color="#7c4506" d="M88.0 388.2L90.2 387.5L91.0 388.6L88.8 389.3"/><path color="#986310" d="M46.7 379.2L48.9 378.3L49.7 381.5L47.4 383.6"/><path color="#ca8718" d="M129.3 379.0L131.6 378.4L132.4 381.9L130.1 379.6"/><path color="#9e5e0b" d="M56.4 382.7L58.7 383.6L59.5 386.1L57.2 385.4"/><path color="#8b5109" d="M97.8 384.2L100.0 383.4L100.8 385.5L98.5 387.8"/><path color="#ffc730" d="M139.1 376.9L141.4 377.6L142.1 376.0L139.9 375.0"/><path color="#faaa20" d="M66.2 376.6L68.5 379.5L69.2 378.0L67.0 377.6"/><path color="#f59d19" d="M148.9 382.0L151.1 384.3L151.9 382.3L149.6 378.9"/><path color="#b97d17" d="M107.5 379.0L109.8 377.3L110.6 377.5L108.3 382.1"/><path color="#bd8018" d="M117.3 376.5L119.6 377.8L120.3 381.8L118.1 380.0"/><path color="#bd6c0b" d="M76.0 386.6L78.2 385.4L79.0 386.5L76.8 384.0"/><path color="#ae7314" d="M44.4 375.1L46.7 379.2L47.4 383.6L45.2 381.1"/><path color="#854a06" d="M85.8 388.7L88.0 388.2L88.8 389.3L86.5 388.7"/><path color="#ffb825" d="M127.1 377.7L129.3 379.0L130.1 379.6L127.9 376.0"/><path color="#b67211" d="M54.2 379.0L56.4 382.7L57.2 385.4L55.0 382.7"/><path color="#b76e0e" d="M95.5 382.5L97.8 384.2L98.5 387.8L96.3 383.2"/><path color="#f6ae28" d="M136.9 378.9L139.1 376.9L139.9 375.0L137.6 377.9"/><path color="#ffb321" d="M146.6 381.4L148.9 382.0L149.6 378.9L147.4 376.8"/><path color="#d5921c" d="M64.0 378.1L66.2 376.6L67.0 377.6L64.7 378.8"/><path color="#9a6411" d="M105.3 379.5L107.5 379.0L108.3 382.1L106.1 384.3"/><path color="#e89015" d="M73.7 381.9L76.0 386.6L76.8 384.0L74.5 380.2"/><path color="#e6a629" d="M115.1 374.5L117.3 376.5L118.1 380.0L115.8 375.9"/><path color="#9d5908" d="M83.5 387.1L85.8 388.7L86.5 388.7L84.3 387.4"/><path color="#ffcb33" d="M124.8 377.9L127.1 377.7L127.9 376.0L125.6 375.1"/><path color="#b07d1d" d="M42.2 373.1L44.4 375.1L45.2 381.1L42.9 378.2"/><path color="#a96f13" d="M51.9 378.3L54.2 379.0L55.0 382.7L52.7 382.4"/><path color="#b77110" d="M93.3 385.1L95.5 382.5L96.3 383.2L94.0 384.7"/><path color="#d7901a" d="M134.6 381.0L136.9 378.9L137.6 377.9L135.4 381.4"/><path color="#d58d19" d="M61.7 383.0L64.0 378.1L64.7 378.8L62.5 380.3"/><path color="#86540d" d="M103.0 382.6L105.3 379.5L106.1 384.3L103.8 386.2"/><path color="#ffc329" d="M144.4 379.5L146.6 381.4L147.4 376.8L145.1 375.5"/><path color="#dfa932" d="M112.8 373.1L115.1 374.5L115.8 375.9L113.6 375.9"/><path color="#ffaf1f" d="M71.5 380.1L73.7 381.9L74.5 380.2L72.2 377.4"/><path color="#995709" d="M81.2 386.3L83.5 387.1L84.3 387.4L82.0 388.3"/><path color="#a9781c" d="M39.9 377.8L42.2 373.1L42.9 378.2L40.7 379.3"/><path color="#ffbb2c" d="M122.6 380.0L124.8 377.9L125.6 375.1L123.4 377.7"/><path color="#905d0f" d="M49.7 381.5L51.9 378.3L52.7 382.4L50.5 384.8"/><path color="#a05c09" d="M91.0 388.6L93.3 385.1L94.0 384.7L91.8 388.4"/><path color="#c48015" d="M132.4 381.9L134.6 381.0L135.4 381.4L133.1 383.2"/><path color="#bb7410" d="M59.5 386.1L61.7 383.0L62.5 380.3L60.2 385.8"/><path color="#ffd93d" d="M142.1 376.0L144.4 379.5L145.1 375.5L142.9 372.4"/><path color="#88510a" d="M100.8 385.5L103.0 382.6L103.8 386.2L101.6 388.1"/><path color="#af8022" d="M110.6 377.5L112.8 373.1L113.6 375.9L111.3 379.8"/><path color="#ffb223" d="M69.2 378.0L71.5 380.1L72.2 377.4L70.0 378.1"/><path color="#e58d14" d="M151.9 382.3L154.1 387.5L154.9 387.4L152.7 381.4"/><path color="#b97b16" d="M37.7 383.5L39.9 377.8L40.7 379.3L38.4 382.9"/><path color="#b76a0b" d="M79.0 386.5L81.2 386.3L82.0 388.3L79.8 385.0"/><path color="#e69b1c" d="M120.3 381.8L122.6 380.0L123.4 377.7L121.1 381.5"/><path color="#91590d" d="M47.4 383.6L49.7 381.5L50.5 384.8L48.2 386.6"/><path color="#985608" d="M88.8 389.3L91.0 388.6L91.8 388.4L89.5 388.9"/><path color="#d08918" d="M130.1 379.6L132.4 381.9L133.1 383.2L130.9 381.9"/><path color="#ffe94d" d="M139.9 375.0L142.1 376.0L142.9 372.4L140.6 372.6"/><path color="#9d5b0a" d="M57.2 385.4L59.5 386.1L60.2 385.8L58.0 388.4"/><path color="#854c08" d="M98.5 387.8L100.8 385.5L101.6 388.1L99.3 389.7"/><path color="#c8891a" d="M67.0 377.6L69.2 378.0L70.0 378.1L67.8 380.9"/><path color="#b57a16" d="M108.3 382.1L110.6 377.5L111.3 379.8L109.1 382.8"/><path color="#ffb822" d="M149.6 378.9L151.9 382.3L152.7 381.4L150.4 378.1"/><path color="#e99115" d="M76.8 384.0L79.0 386.5L79.8 385.0L77.5 380.8"/><path color="#e0951b" d="M118.1 380.0L120.3 381.8L121.1 381.5L118.9 381.5"/><path color="#a1640e" d="M45.2 381.1L47.4 383.6L48.2 386.6L46.0 385.7"/><path color="#b5670a" d="M86.5 388.7L88.8 389.3L89.5 388.9L87.3 386.7"/><path color="#e5a023" d="M127.9 376.0L130.1 379.6L130.9 381.9L128.6 378.6"/><path color="#95580b" d="M55.0 382.7L57.2 385.4L58.0 388.4L55.7 387.4"/><path color="#9b5909" d="M96.3 383.2L98.5 387.8L99.3 389.7L97.1 388.4"/><path color="#f6ba38" d="M137.6 377.9L139.9 375.0L140.6 372.6L138.4 377.2"/><path color="#ba7713" d="M106.1 384.3L108.3 382.1L109.1 382.8L106.8 384.9"/><path color="#ffce37" d="M147.4 376.8L149.6 378.9L150.4 378.1L148.2 375.5"/><path color="#ae7516" d="M64.7 378.8L67.0 377.6L67.8 380.9L65.5 381.9"/><path color="#ffb120" d="M74.5 380.2L76.8 384.0L77.5 380.8L75.3 377.6"/><path color="#e6a124" d="M115.8 375.9L118.1 380.0L118.9 381.5L116.6 379.1"/><path color="#9e6711" d="M42.9 378.2L45.2 381.1L46.0 385.7L43.7 384.2"/><path color="#d17a0e" d="M84.3 387.4L86.5 388.7L87.3 386.7L85.0 385.5"/><path color="#e8ae32" d="M125.6 375.1L127.9 376.0L128.6 378.6L126.4 376.3"/><path color="#89540c" d="M52.7 382.4L55.0 382.7L55.7 387.4L53.5 387.1"/><path color="#d89721" d="M135.4 381.4L137.6 377.9L138.4 377.2L136.1 381.3"/><path color="#8e560b" d="M94.0 384.7L96.3 383.2L97.1 388.4L94.8 387.5"/><path color="#cc7f13" d="M103.8 386.2L106.1 384.3L106.8 384.9L104.6 384.4"/><path color="#d8921b" d="M62.5 380.3L64.7 378.8L65.5 381.9L63.2 379.3"/><path color="#ffd141" d="M145.1 375.5L147.4 376.8L148.2 375.5L145.9 375.1"/><path color="#ffbe2b" d="M72.2 377.4L74.5 380.2L75.3 377.6L73.0 377.5"/><path color="#ba8824" d="M113.6 375.9L115.8 375.9L116.6 379.1L114.4 380.0"/><path color="#8e5e11" d="M40.7 379.3L42.9 378.2L43.7 384.2L41.5 384.4"/><path color="#bd6f0d" d="M82.0 388.3L84.3 387.4L85.0 385.5L82.8 387.4"/><path color="#e0a831" d="M123.4 377.7L125.6 375.1L126.4 376.3L124.1 377.8"/><path color="#cf8918" d="M133.1 383.2L135.4 381.4L136.1 381.3L133.9 383.6"/><path color="#85510b" d="M50.5 384.8L52.7 382.4L53.5 387.1L51.2 388.0"/><path color="#b66e0e" d="M91.8 388.4L94.0 384.7L94.8 387.5L92.6 385.7"/><path color="#bc7a14" d="M60.2 385.8L62.5 380.3L63.2 379.3L61.0 384.8"/><path color="#e89015" d="M101.6 388.1L103.8 386.2L104.6 384.4L102.3 383.8"/><path color="#ffd148" d="M142.9 372.4L145.1 375.5L145.9 375.1L143.7 374.2"/><path color="#c3891e" d="M70.0 378.1L72.2 377.4L73.0 377.5L70.8 381.4"/><path color="#c48d22" d="M111.3 379.8L113.6 375.9L114.4 380.0L112.1 380.0"/><path color="#f39b19" d="M152.7 381.4L154.9 387.4L155.7 386.2L153.4 382.5"/><path color="#8b5a0f" d="M38.4 382.9L40.7 379.3L41.5 384.4L39.2 386.3"/><path color="#e18913" d="M79.8 385.0L82.0 388.3L82.8 387.4L80.5 383.3"/><path color="#cb8e20" d="M121.1 381.5L123.4 377.7L124.1 377.8L121.9 382.3"/><path color="#9a5c0b" d="M48.2 386.6L50.5 384.8L51.2 388.0L49.0 387.8"/><path color="#c8760e" d="M89.5 388.9L91.8 388.4L92.6 385.7L90.3 387.4"/><path color="#cc8617" d="M130.9 381.9L133.1 383.2L133.9 383.6L131.6 384.2"/><path color="#d47f10" d="M99.3 389.7L101.6 388.1L102.3 383.8L100.1 387.3"/><path color="#d0a73c" d="M140.6 372.6L142.9 372.4L143.7 374.2L141.4 376.2"/><path color="#97580a" d="M58.0 388.4L60.2 385.8L61.0 384.8L58.8 390.2"/><path color="#9c6813" d="M67.8 380.9L70.0 378.1L70.8 381.4L68.5 384.4"/><path color="#f1a621" d="M109.1 382.8L111.3 379.8L112.1 380.0L109.9 380.5"/><path color="#d7931d" d="M150.4 378.1L152.7 381.4L153.4 382.5L151.2 382.0"/><path color="#cf8616" d="M77.5 380.8L79.8 385.0L80.5 383.3L78.3 384.7"/><path color="#c48318" d="M118.9 381.5L121.1 381.5L121.9 382.3L119.6 384.3"/><path color="#c57810" d="M46.0 385.7L48.2 386.6L49.0 387.8L46.7 385.2"/><path color="#d28e1b" d="M128.6 378.6L130.9 381.9L131.6 384.2L129.4 382.2"/><path color="#ca780f" d="M87.3 386.7L89.5 388.9L90.3 387.4L88.1 386.8"/><path color="#b5680b" d="M97.1 388.4L99.3 389.7L100.1 387.3L97.8 389.6"/><path color="#905208" d="M55.7 387.4L58.0 388.4L58.8 390.2L56.5 390.0"/><path color="#a37d27" d="M138.4 377.2L140.6 372.6L141.4 376.2L139.2 380.5"/><path color="#a96e12" d="M65.5 381.9L67.8 380.9L68.5 384.4L66.3 384.5"/><path color="#ed9e1c" d="M106.8 384.9L109.1 382.8L109.9 380.5L107.6 383.3"/><path color="#b58321" d="M148.2 375.5L150.4 378.1L151.2 382.0L148.9 381.5"/><path color="#a66f14" d="M75.3 377.6L77.5 380.8L78.3 384.7L76.0 384.1"/><path color="#c78719" d="M116.6 379.1L118.9 381.5L119.6 384.3L117.4 383.0"/><path color="#febc35" d="M126.4 376.3L128.6 378.6L129.4 382.2L127.1 376.1"/><path color="#ce8214" d="M43.7 384.2L46.0 385.7L46.7 385.2L44.5 385.1"/><path color="#d38413" d="M85.0 385.5L87.3 386.7L88.1 386.8L85.8 384.9"/><path color="#965609" d="M53.5 387.1L55.7 387.4L56.5 390.0L54.2 389.3"/><path color="#a35e0a" d="M94.8 387.5L97.1 388.4L97.8 389.6L95.6 389.7"/><path color="#b7811d" d="M136.1 381.3L138.4 377.2L139.2 380.5L136.9 382.7"/><path color="#ae7214" d="M63.2 379.3L65.5 381.9L66.3 384.5L64.0 384.3"/><path color="#ef9d1b" d="M104.6 384.4L106.8 384.9L107.6 383.3L105.4 383.5"/><path color="#9e7621" d="M145.9 375.1L148.2 375.5L148.9 381.5L146.7 381.0"/><path color="#9e6c15" d="M73.0 377.5L75.3 377.6L76.0 384.1L73.8 382.3"/><path color="#bf851c" d="M114.4 380.0L116.6 379.1L117.4 383.0L115.1 382.4"/><path color="#9e640f" d="M41.5 384.4L43.7 384.2L44.5 385.1L42.2 388.6"/><path color="#a4650e" d="M82.8 387.4L85.0 385.5L85.8 384.9L83.6 389.5"/><path color="#ebb438" d="M124.1 377.8L126.4 376.3L127.1 376.1L124.9 378.4"/><path color="#a4630d" d="M92.6 385.7L94.8 387.5L95.6 389.7L93.3 388.9"/><path color="#e1991c" d="M133.9 383.6L136.1 381.3L136.9 382.7L134.7 382.4"/><path color="#975709" d="M51.2 388.0L53.5 387.1L54.2 389.3L52.0 389.7"/><path color="#7e510d" d="M61.0 384.8L63.2 379.3L64.0 384.3L61.8 387.8"/><path color="#ffbd24" d="M102.3 383.8L104.6 384.4L105.4 383.5L103.1 377.0"/><path color="#926e21" d="M143.7 374.2L145.9 375.1L146.7 381.0L144.4 381.7"/><path color="#8c5e11" d="M70.8 381.4L73.0 377.5L73.8 382.3L71.5 385.3"/><path color="#eba828" d="M112.1 380.0L114.4 380.0L115.1 382.4L112.9 379.9"/><path color="#fda71d" d="M153.4 382.5L155.7 386.2L156.5 385.1L154.2 382.5"/><path color="#814f0b" d="M39.2 386.3L41.5 384.4L42.2 388.6L40.0 390.4"/><path color="#ba841f" d="M121.9 382.3L124.1 377.8L124.9 378.4L122.6 384.1"/><path color="#86500a" d="M80.5 383.3L82.8 387.4L83.6 389.5L81.3 391.3"/><path color="#87510a" d="M90.3 387.4L92.6 385.7L93.3 388.9L91.1 391.1"/><path color="#af670c" d="M49.0 387.8L51.2 388.0L52.0 389.7L49.8 388.0"/><path color="#ec9e1d" d="M131.6 384.2L133.9 383.6L134.7 382.4L132.4 383.6"/><path color="#8a5109" d="M58.8 390.2L61.0 384.8L61.8 387.8L59.5 390.4"/><path color="#ffbe25" d="M100.1 387.3L102.3 383.8L103.1 377.0L100.9 381.2"/><path color="#7b5b1a" d="M141.4 376.2L143.7 374.2L144.4 381.7L142.2 384.0"/><path color="#9d6510" d="M68.5 384.4L70.8 381.4L71.5 385.3L69.3 386.3"/><path color="#d8931c" d="M151.2 382.0L153.4 382.5L154.2 382.5L152.0 384.0"/><path color="#d79a25" d="M109.9 380.5L112.1 380.0L112.9 379.9L110.6 382.6"/><path color="#aa7014" d="M119.6 384.3L121.9 382.3L122.6 384.1L120.4 387.4"/><path color="#5d3807" d="M78.3 384.7L80.5 383.3L81.3 391.3L79.1 392.4"/><path color="#d48413" d="M46.7 385.2L49.0 387.8L49.8 388.0L47.5 385.2"/><path color="#895109" d="M88.1 386.8L90.3 387.4L91.1 391.1L88.8 391.3"/><path color="#dd951b" d="M129.4 382.2L131.6 384.2L132.4 383.6L130.2 384.6"/><path color="#b2660a" d="M56.5 390.0L58.8 390.2L59.5 390.4L57.3 388.7"/><path color="#d08314" d="M97.8 389.6L100.1 387.3L100.9 381.2L98.6 389.7"/><path color="#7b5613" d="M139.2 380.5L141.4 376.2L142.2 384.0L139.9 385.4"/><path color="#be8118" d="M148.9 381.5L151.2 382.0L152.0 384.0L149.7 385.2"/><path color="#ca8115" d="M66.3 384.5L68.5 384.4L69.3 386.3L67.0 384.2"/><path color="#b07816" d="M107.6 383.3L109.9 380.5L110.6 382.6L108.4 386.1"/><path color="#683e08" d="M76.0 384.1L78.3 384.7L79.1 392.4L76.8 391.3"/><path color="#bb7b15" d="M117.4 383.0L119.6 384.3L120.4 387.4L118.1 386.0"/><path color="#945b0c" d="M85.8 384.9L88.1 386.8L88.8 391.3L86.6 389.5"/><path color="#d59825" d="M127.1 376.1L129.4 382.2L130.2 384.6L127.9 382.0"/><path color="#c78015" d="M44.5 385.1L46.7 385.2L47.5 385.2L45.2 386.1"/><path color="#d47e0f" d="M54.2 389.3L56.5 390.0L57.3 388.7L55.0 385.8"/><path color="#9f5c0a" d="M95.6 389.7L97.8 389.6L98.6 389.7L96.4 392.0"/><path color="#c2851a" d="M136.9 382.7L139.2 380.5L139.9 385.4L137.7 383.5"/><path color="#fda71d" d="M64.0 384.3L66.3 384.5L67.0 384.2L64.8 380.1"/><path color="#b17515" d="M105.4 383.5L107.6 383.3L108.4 386.1L106.1 386.9"/><path color="#a67115" d="M146.7 381.0L148.9 381.5L149.7 385.2L147.5 386.3"/><path color="#d28e1a" d="M115.1 382.4L117.4 383.0L118.1 386.0L115.9 383.9"/><path color="#955e0f" d="M73.8 382.3L76.0 384.1L76.8 391.3L74.6 386.6"/><path color="#734408" d="M83.6 389.5L85.8 384.9L86.6 389.5L84.3 393.0"/><path color="#a3650f" d="M42.2 388.6L44.5 385.1L45.2 386.1L43.0 389.5"/><path color="#946e1f" d="M124.9 378.4L127.1 376.1L127.9 382.0L125.7 383.5"/><path color="#c6760f" d="M52.0 389.7L54.2 389.3L55.0 385.8L52.8 389.0"/><path color="#7f4907" d="M93.3 388.9L95.6 389.7L96.4 392.0L94.1 394.1"/><path color="#e69f21" d="M134.7 382.4L136.9 382.7L137.7 383.5L135.4 383.1"/><path color="#f5a01b" d="M61.8 387.8L64.0 384.3L64.8 380.1L62.5 383.6"/><path color="#8a5d11" d="M144.4 381.7L146.7 381.0L147.5 386.3L145.2 388.0"/><path color="#ce901f" d="M103.1 377.0L105.4 383.5L106.1 386.9L103.9 383.1"/><path color="#af7818" d="M112.9 379.9L115.1 382.4L115.9 383.9L113.6 386.7"/><path color="#9b6410" d="M71.5 385.3L73.8 382.3L74.6 386.6L72.3 387.2"/><path color="#f6a61f" d="M154.2 382.5L156.5 385.1L157.2 387.4L155.0 382.2"/><path color="#9a5a0a" d="M40.0 390.4L42.2 388.6L43.0 389.5L40.8 391.9"/><path color="#744206" d="M81.3 391.3L83.6 389.5L84.3 393.0L82.1 394.5"/><path color="#916415" d="M122.6 384.1L124.9 378.4L125.7 383.5L123.4 386.9"/><path color="#dc8612" d="M49.8 388.0L52.0 389.7L52.8 389.0L50.5 385.8"/><path color="#6a3c06" d="M91.1 391.1L93.3 388.9L94.1 394.1L91.9 395.1"/><path color="#e49e21" d="M132.4 383.6L134.7 382.4L135.4 383.1L133.2 383.6"/><path color="#7b510e" d="M142.2 384.0L144.4 381.7L145.2 388.0L143.0 389.8"/><path color="#ce7f12" d="M59.5 390.4L61.8 387.8L62.5 383.6L60.3 388.2"/><path color="#996f1c" d="M100.9 381.2L103.1 377.0L103.9 383.1L101.6 384.2"/><path color="#ad6d10" d="M69.3 386.3L71.5 385.3L72.3 387.2L70.1 387.7"/><path color="#76500f" d="M110.6 382.6L112.9 379.9L113.6 386.7L111.4 388.9"/><path color="#e7a122" d="M152.0 384.0L154.2 382.5L155.0 382.2L152.7 384.0"/><path color="#6d3d05" d="M79.1 392.4L81.3 391.3L82.1 394.5L79.8 395.5"/><path color="#a86d12" d="M120.4 387.4L122.6 384.1L123.4 386.9L121.2 388.9"/><path color="#f19b19" d="M47.5 385.2L49.8 388.0L50.5 385.8L48.3 384.3"/><path color="#7a4507" d="M88.8 391.3L91.1 391.1L91.9 395.1L89.6 394.4"/><path color="#d6911b" d="M130.2 384.6L132.4 383.6L133.2 383.6L130.9 385.8"/><path color="#d37f10" d="M57.3 388.7L59.5 390.4L60.3 388.2L58.0 387.3"/><path color="#8a5a0f" d="M98.6 389.7L100.9 381.2L101.6 384.2L99.4 390.8"/><path color="#935f10" d="M139.9 385.4L142.2 384.0L143.0 389.8L140.7 389.2"/><path color="#7d510d" d="M108.4 386.1L110.6 382.6L111.4 388.9L109.1 390.6"/><path color="#c58518" d="M149.7 385.2L152.0 384.0L152.7 384.0L150.5 387.5"/><path color="#d08515" d="M67.0 384.2L69.3 386.3L70.1 387.7L67.8 384.8"/><path color="#6c3c05" d="M76.8 391.3L79.1 392.4L79.8 395.5L77.6 395.9"/><path color="#d18817" d="M118.1 386.0L120.4 387.4L121.2 388.9L118.9 386.9"/><path color="#e3951a" d="M45.2 386.1L47.5 385.2L48.3 384.3L46.0 384.7"/><path color="#804907" d="M86.6 389.5L88.8 391.3L89.6 394.4L87.4 394.5"/><path color="#be8018" d="M127.9 382.0L130.2 384.6L130.9 385.8L128.7 387.3"/><path color="#d68614" d="M55.0 385.8L57.3 388.7L58.0 387.3L55.8 386.3"/><path color="#c58317" d="M137.7 383.5L139.9 385.4L140.7 389.2L138.5 386.2"/><path color="#8f5309" d="M96.4 392.0L98.6 389.7L99.4 390.8L97.1 394.3"/><path color="#8a570d" d="M106.1 386.9L108.4 386.1L109.1 390.6L106.9 391.7"/><path color="#dd941b" d="M64.8 380.1L67.0 384.2L67.8 384.8L65.6 382.7"/><path color="#af7314" d="M147.5 386.3L149.7 385.2L150.5 387.5L148.2 389.0"/><path color="#8f5208" d="M74.6 386.6L76.8 391.3L77.6 395.9L75.3 391.8"/><path color="#f0a21e" d="M115.9 383.9L118.1 386.0L118.9 386.9L116.7 384.3"/><path color="#e09018" d="M43.0 389.5L45.2 386.1L46.0 384.7L43.8 386.2"/><path color="#6a3c06" d="M84.3 393.0L86.6 389.5L87.4 394.5L85.1 395.9"/><path color="#9c6a14" d="M125.7 383.5L127.9 382.0L128.7 387.3L126.4 387.8"/><path color="#ab7416" d="M135.4 383.1L137.7 383.5L138.5 386.2L136.2 388.2"/><path color="#b26f10" d="M52.8 389.0L55.0 385.8L55.8 386.3L53.5 388.6"/><path color="#794406" d="M94.1 394.1L96.4 392.0L97.1 394.3L94.9 396.1"/><path color="#b87c17" d="M62.5 383.6L64.8 380.1L65.6 382.7L63.3 384.1"/><path color="#8e5b0f" d="M103.9 383.1L106.1 386.9L106.9 391.7L104.6 391.0"/><path color="#a96c11" d="M145.2 388.0L147.5 386.3L148.2 389.0L146.0 390.2"/><path color="#92590c" d="M72.3 387.2L74.6 386.6L75.3 391.8L73.1 390.0"/><path color="#c18218" d="M113.6 386.7L115.9 383.9L116.7 384.3L114.4 388.3"/><path color="#ca8618" d="M155.0 382.2L157.2 387.4L158.0 391.5L155.8 386.3"/><path color="#cb7d11" d="M40.8 391.9L43.0 389.5L43.8 386.2L41.5 390.2"/><path color="#784306" d="M82.1 394.5L84.3 393.0L85.1 395.9L82.9 395.6"/><path color="#bc7e17" d="M123.4 386.9L125.7 383.5L126.4 387.8L124.2 386.9"/><path color="#ed9818" d="M50.5 385.8L52.8 389.0L53.5 388.6L51.3 383.3"/><path color="#8c4e07" d="M91.9 395.1L94.1 394.1L94.9 396.1L92.6 394.4"/><path color="#a46f15" d="M133.2 383.6L135.4 383.1L136.2 388.2L134.0 387.9"/><path color="#7e530e" d="M101.6 384.2L103.9 383.1L104.6 391.0L102.4 390.1"/><path color="#b27011" d="M143.0 389.8L145.2 388.0L146.0 390.2L143.7 390.5"/><path color="#d98d18" d="M60.3 388.2L62.5 383.6L63.3 384.1L61.1 384.2"/><path color="#b47010" d="M70.1 387.7L72.3 387.2L73.1 390.0L70.8 388.0"/><path color="#b77613" d="M111.4 388.9L113.6 386.7L114.4 388.3L112.2 389.9"/><path color="#a87317" d="M152.7 384.0L155.0 382.2L155.8 386.3L153.5 387.7"/><path color="#764105" d="M79.8 395.5L82.1 394.5L82.9 395.6L80.6 396.8"/><path color="#e7981b" d="M121.2 388.9L123.4 386.9L124.2 386.9L121.9 386.8"/><path color="#ffb120" d="M48.3 384.3L50.5 385.8L51.3 383.3L49.0 381.7"/><path color="#b37916" d="M130.9 385.8L133.2 383.6L134.0 387.9L131.7 387.7"/><path color="#c06d0b" d="M89.6 394.4L91.9 395.1L92.6 394.4L90.4 390.9"/><path color="#89570e" d="M99.4 390.8L101.6 384.2L102.4 390.1L100.1 391.7"/><path color="#ef9a19" d="M58.0 387.3L60.3 388.2L61.1 384.2L58.8 384.4"/><path color="#af6d10" d="M140.7 389.2L143.0 389.8L143.7 390.5L141.5 392.0"/><path color="#f19c1a" d="M67.8 384.8L70.1 387.7L70.8 388.0L68.6 383.3"/><path color="#ad6c10" d="M109.1 390.6L111.4 388.9L112.2 389.9L109.9 392.0"/><path color="#916011" d="M150.5 387.5L152.7 384.0L153.5 387.7L151.2 391.2"/><path color="#6d3c05" d="M77.6 395.9L79.8 395.5L80.6 396.8L78.4 397.7"/><path color="#e4961a" d="M118.9 386.9L121.2 388.9L121.9 386.8L119.7 388.4"/><path color="#d08b19" d="M128.7 387.3L130.9 385.8L131.7 387.7L129.5 387.5"/><path color="#ffba25" d="M46.0 384.7L48.3 384.3L49.0 381.7L46.8 381.3"/><path color="#c8730c" d="M87.4 394.5L89.6 394.4L90.4 390.9L88.1 392.4"/><path color="#e09118" d="M55.8 386.3L58.0 387.3L58.8 384.4L56.6 386.0"/><path color="#955609" d="M97.1 394.3L99.4 390.8L100.1 391.7L97.9 395.3"/><path color="#915c0e" d="M138.5 386.2L140.7 389.2L141.5 392.0L139.2 393.4"/><path color="#ffad20" d="M65.6 382.7L67.8 384.8L68.6 383.3L66.3 381.6"/><path color="#995c0c" d="M106.9 391.7L109.1 390.6L109.9 392.0L107.7 394.4"/><path color="#9c630f" d="M148.2 389.0L150.5 387.5L151.2 391.2L149.0 391.9"/><path color="#7d4606" d="M75.3 391.8L77.6 395.9L78.4 397.7L76.1 396.0"/><path color="#ba7c16" d="M116.7 384.3L118.9 386.9L119.7 388.4L117.4 389.5"/><path color="#ffbb25" d="M43.8 386.2L46.0 384.7L46.8 381.3L44.5 381.9"/><path color="#ab610a" d="M85.1 395.9L87.4 394.5L88.1 392.4L85.9 394.4"/><path color="#e99c1c" d="M126.4 387.8L128.7 387.3L129.5 387.5L127.2 387.0"/><path color="#7e4706" d="M94.9 396.1L97.1 394.3L97.9 395.3L95.6 397.5"/><path color="#764a0b" d="M136.2 388.2L138.5 386.2L139.2 393.4L137.0 393.5"/><path color="#de8f17" d="M53.5 388.6L55.8 386.3L56.6 386.0L54.3 385.3"/><path color="#fead21" d="M63.3 384.1L65.6 382.7L66.3 381.6L64.1 381.1"/><path color="#93570a" d="M104.6 391.0L106.9 391.7L107.7 394.4L105.4 394.8"/><path color="#ab6b10" d="M146.0 390.2L148.2 389.0L149.0 391.9L146.8 391.8"/><path color="#995809" d="M73.1 390.0L75.3 391.8L76.1 396.0L73.9 392.2"/><path color="#ab7214" d="M114.4 388.3L116.7 384.3L117.4 389.5L115.2 389.1"/><path color="#dc9119" d="M41.5 390.2L43.8 386.2L44.5 381.9L42.3 388.6"/><path color="#ffc329" d="M124.2 386.9L126.4 387.8L127.2 387.0L125.0 381.8"/><path color="#9a5708" d="M82.9 395.6L85.1 395.9L85.9 394.4L83.6 395.6"/><path color="#a05a09" d="M92.6 394.4L94.9 396.1L95.6 397.5L93.4 394.2"/><path color="#ffaa1f" d="M51.3 383.3L53.5 388.6L54.3 385.3L52.1 381.1"/><path color="#8f5b0e" d="M134.0 387.9L136.2 388.2L137.0 393.5L134.7 392.8"/><path color="#ffb623" d="M61.1 384.2L63.3 384.1L64.1 381.1L61.8 379.2"/><path color="#a0620d" d="M102.4 390.1L104.6 391.0L105.4 394.8L103.2 393.0"/><path color="#c98014" d="M143.7 390.5L146.0 390.2L146.8 391.8L144.5 390.3"/><path color="#d38313" d="M70.8 388.0L73.1 390.0L73.9 392.2L71.6 386.7"/><path color="#d48b18" d="M112.2 389.9L114.4 388.3L115.2 389.1L112.9 389.2"/><path color="#ffd539" d="M121.9 386.8L124.2 386.9L125.0 381.8L122.7 380.4"/><path color="#874c07" d="M80.6 396.8L82.9 395.6L83.6 395.6L81.4 396.9"/><path color="#ffc530" d="M49.0 381.7L51.3 383.3L52.1 381.1L49.8 377.7"/><path color="#e38b13" d="M90.4 390.9L92.6 394.4L93.4 394.2L91.1 388.0"/><path color="#9c6510" d="M131.7 387.7L134.0 387.9L134.7 392.8L132.5 391.9"/><path color="#ffb623" d="M58.8 384.4L61.1 384.2L61.8 379.2L59.6 380.9"/><path color="#a7670f" d="M100.1 391.7L102.4 390.1L103.2 393.0L100.9 392.9"/><path color="#bb7612" d="M141.5 392.0L143.7 390.5L144.5 390.3L142.2 392.7"/><path color="#ffab1f" d="M68.6 383.3L70.8 388.0L71.6 386.7L69.4 381.4"/><path color="#be7913" d="M109.9 392.0L112.2 389.9L112.9 389.2L110.7 392.6"/><path color="#905007" d="M78.4 397.7L80.6 396.8L81.4 396.9L79.1 395.8"/><path color="#ffca31" d="M119.7 388.4L121.9 386.8L122.7 380.4L120.5 386.1"/><path color="#db8b16" d="M88.1 392.4L90.4 390.9L91.1 388.0L88.9 391.0"/><path color="#b47715" d="M129.5 387.5L131.7 387.7L132.5 391.9L130.2 390.3"/><path color="#f0ae2d" d="M46.8 381.3L49.0 381.7L49.8 377.7L47.6 382.7"/><path color="#f5a51e" d="M56.6 386.0L58.8 384.4L59.6 380.9L57.3 383.7"/><path color="#92550a" d="M97.9 395.3L100.1 391.7L100.9 392.9L98.7 396.7"/><path color="#995b0b" d="M139.2 393.4L141.5 392.0L142.2 392.7L140.0 396.2"/><path color="#ffbf2b" d="M66.3 381.6L68.6 383.3L69.4 381.4L67.1 379.3"/><path color="#9e5e0c" d="M107.7 394.4L109.9 392.0L110.7 392.6L108.4 395.9"/><path color="#d08b19" d="M117.4 389.5L119.7 388.4L120.5 386.1L118.2 391.4"/><path color="#a15a08" d="M76.1 396.0L78.4 397.7L79.1 395.8L76.9 395.4"/><path color="#dd8813" d="M85.9 394.4L88.1 392.4L88.9 391.0L86.6 390.7"/><path color="#d49825" d="M44.5 381.9L46.8 381.3L47.6 382.7L45.3 383.2"/><path color="#d7921b" d="M127.2 387.0L129.5 387.5L130.2 390.3L128.0 388.0"/><path color="#ffac1f" d="M54.3 385.3L56.6 386.0L57.3 383.7L55.1 381.9"/><path color="#7d4606" d="M95.6 397.5L97.9 395.3L98.7 396.7L96.4 399.0"/><path color="#8f5309" d="M137.0 393.5L139.2 393.4L140.0 396.2L137.8 396.7"/><path color="#ffc431" d="M64.1 381.1L66.3 381.6L67.1 379.3L64.9 378.3"/><path color="#955509" d="M105.4 394.8L107.7 394.4L108.4 395.9L106.2 397.0"/><path color="#c98417" d="M115.2 389.1L117.4 389.5L118.2 391.4L116.0 390.5"/><path color="#b6680b" d="M73.9 392.2L76.1 396.0L76.9 395.4L74.6 393.1"/><path color="#b17816" d="M42.3 388.6L44.5 381.9L45.3 383.2L43.1 388.4"/><path color="#dc8512" d="M83.6 395.6L85.9 394.4L86.6 390.7L84.4 391.0"/><path color="#ffd93e" d="M125.0 381.8L127.2 387.0L128.0 388.0L125.7 381.0"/><path color="#ffbe2a" d="M52.1 381.1L54.3 385.3L55.1 381.9L52.8 378.6"/><path color="#9c5809" d="M93.4 394.2L95.6 397.5L96.4 399.0L94.2 396.1"/><path color="#8f540a" d="M134.7 392.8L137.0 393.5L137.8 396.7L135.5 396.7"/><path color="#ffc334" d="M61.8 379.2L64.1 381.1L64.9 378.3L62.6 378.6"/><path color="#a7620b" d="M103.2 393.0L105.4 394.8L106.2 397.0L103.9 395.2"/><path color="#cf8113" d="M71.6 386.7L73.9 392.2L74.6 393.1L72.4 388.6"/><path color="#de941b" d="M112.9 389.2L115.2 389.1L116.0 390.5L113.7 389.2"/><path color="#d57f10" d="M81.4 396.9L83.6 395.6L84.4 391.0L82.1 391.5"/><path color="#ffeb56" d="M122.7 380.4L125.0 381.8L125.7 381.0L123.5 379.4"/><path color="#efb031" d="M49.8 377.7L52.1 381.1L52.8 378.6L50.6 380.7"/><path color="#b77110" d="M91.1 388.0L93.4 394.2L94.2 396.1L91.9 393.1"/><path color="#8c540b" d="M132.5 391.9L134.7 392.8L135.5 396.7L133.2 396.7"/><path color="#d89c27" d="M59.6 380.9L61.8 379.2L62.6 378.6L60.4 381.4"/><path color="#aa680e" d="M100.9 392.9L103.2 393.0L103.9 395.2L101.7 394.7"/><path color="#af7213" d="M110.7 392.6L112.9 389.2L113.7 389.2L111.5 394.3"/><path color="#d58f1a" d="M69.4 381.4L71.6 386.7L72.4 388.6L70.1 385.0"/><path color="#d88111" d="M79.1 395.8L81.4 396.9L82.1 391.5L79.9 389.5"/><path color="#e6b43c" d="M120.5 386.1L122.7 380.4L123.5 379.4L121.2 384.8"/><path color="#a0741d" d="M47.6 382.7L49.8 377.7L50.6 380.7L48.3 385.0"/><path color="#81520d" d="M88.9 391.0L91.1 388.0L91.9 393.1L89.7 395.2"/><path color="#89550c" d="M130.2 390.3L132.5 391.9L133.2 396.7L131.0 396.2"/><path color="#b37a17" d="M57.3 383.7L59.6 380.9L60.4 381.4L58.1 385.9"/><path color="#8f5309" d="M98.7 396.7L100.9 392.9L101.7 394.7L99.4 398.1"/><path color="#90560b" d="M108.4 395.9L110.7 392.6L111.5 394.3L109.2 398.0"/><path color="#c1881e" d="M67.1 379.3L69.4 381.4L70.1 385.0L67.9 383.0"/><path color="#d68010" d="M76.9 395.4L79.1 395.8L79.9 389.5L77.6 393.6"/><path color="#bd821a" d="M118.2 391.4L120.5 386.1L121.2 384.8L119.0 392.6"/><path color="#a26f16" d="M45.3 383.2L47.6 382.7L48.3 385.0L46.1 388.3"/><path color="#975f0e" d="M86.6 390.7L88.9 391.0L89.7 395.2L87.4 394.5"/><path color="#945f10" d="M128.0 388.0L130.2 390.3L131.0 396.2L128.8 394.0"/><path color="#ba7d17" d="M55.1 381.9L57.3 383.7L58.1 385.9L55.9 385.6"/><path color="#824907" d="M96.4 399.0L98.7 396.7L99.4 398.1L97.2 399.8"/><path color="#ba8621" d="M64.9 378.3L67.1 379.3L67.9 383.0L65.6 381.9"/><path color="#894e08" d="M106.2 397.0L108.4 395.9L109.2 398.0L107.0 399.2"/><path color="#b66b0d" d="M74.6 393.1L76.9 395.4L77.6 393.6L75.4 394.7"/><path color="#ac6f12" d="M116.0 390.5L118.2 391.4L119.0 392.6L116.7 394.8"/><path color="#79500e" d="M43.1 388.4L45.3 383.2L46.1 388.3L43.8 392.5"/><path color="#a76a10" d="M84.4 391.0L86.6 390.7L87.4 394.5L85.2 393.2"/><path color="#a6751a" d="M125.7 381.0L128.0 388.0L128.8 394.0L126.5 390.2"/><path color="#c0861d" d="M52.8 378.6L55.1 381.9L55.9 385.6L53.6 382.9"/><path color="#b8690b" d="M94.2 396.1L96.4 399.0L97.2 399.8L94.9 395.3"/><path color="#9a5809" d="M103.9 395.2L106.2 397.0L107.0 399.2L104.7 397.9"/><path color="#ab7c1f" d="M62.6 378.6L64.9 378.3L65.6 381.9L63.4 382.8"/><path color="#cd8013" d="M72.4 388.6L74.6 393.1L75.4 394.7L73.1 389.7"/><path color="#b07314" d="M113.7 389.2L116.0 390.5L116.7 394.8L114.5 392.9"/><path color="#c17c14" d="M82.1 391.5L84.4 391.0L85.2 393.2L82.9 391.7"/><path color="#7d5f1d" d="M123.5 379.4L125.7 381.0L126.5 390.2L124.2 389.6"/><path color="#b28020" d="M50.6 380.7L52.8 378.6L53.6 382.9L51.4 382.8"/><path color="#bc720f" d="M91.9 393.1L94.2 396.1L94.9 395.3L92.7 395.7"/><path color="#a2610c" d="M101.7 394.7L103.9 395.2L104.7 397.9L102.5 396.8"/><path color="#825b13" d="M60.4 381.4L62.6 378.6L63.4 382.8L61.1 387.1"/><path color="#bd7c15" d="M70.1 385.0L72.4 388.6L73.1 389.7L70.9 389.2"/><path color="#84550d" d="M111.5 394.3L113.7 389.2L114.5 392.9L112.2 397.4"/><path color="#b77613" d="M79.9 389.5L82.1 391.5L82.9 391.7L80.7 393.2"/><path color="#7c5d1b" d="M121.2 384.8L123.5 379.4L124.2 389.6L122.0 390.6"/><path color="#be861e" d="M48.3 385.0L50.6 380.7L51.4 382.8L49.1 385.1"/><path color="#86500a" d="M89.7 395.2L91.9 393.1L92.7 395.7L90.4 398.9"/><path color="#744d0d" d="M58.1 385.9L60.4 381.4L61.1 387.1L58.9 390.4"/><path color="#915409" d="M99.4 398.1L101.7 394.7L102.5 396.8L100.2 399.3"/><path color="#916011" d="M67.9 383.0L70.1 385.0L70.9 389.2L68.6 389.9"/><path color="#804a08" d="M109.2 398.0L111.5 394.3L112.2 397.4L110.0 400.5"/><path color="#7f4f0b" d="M77.6 393.6L79.9 389.5L80.7 393.2L78.4 396.9"/><path color="#734e0e" d="M119.0 392.6L121.2 384.8L122.0 390.6L119.7 396.1"/><path color="#a77014" d="M46.1 388.3L48.3 385.0L49.1 385.1L46.9 391.0"/><path color="#885009" d="M87.4 394.5L89.7 395.2L90.4 398.9L88.2 398.8"/><path color="#7f4807" d="M97.2 399.8L99.4 398.1L100.2 399.3L98.0 401.8"/><path color="#936010" d="M55.9 385.6L58.1 385.9L58.9 390.4L56.6 390.0"/><path color="#754e0e" d="M65.6 381.9L67.9 383.0L68.6 389.9L66.4 390.1"/><path color="#7f4807" d="M107.0 399.2L109.2 398.0L110.0 400.5L107.7 401.3"/><path color="#a05f0c" d="M75.4 394.7L77.6 393.6L78.4 396.9L76.2 395.3"/><path color="#7f4e0b" d="M116.7 394.8L119.0 392.6L119.7 396.1L117.5 399.7"/><path color="#7e4f0c" d="M43.8 392.5L46.1 388.3L46.9 391.0L44.6 396.3"/><path color="#955a0c" d="M85.2 393.2L87.4 394.5L88.2 398.8L85.9 396.9"/><path color="#874d07" d="M94.9 395.3L97.2 399.8L98.0 401.8L95.7 400.9"/><path color="#a66e13" d="M53.6 382.9L55.9 385.6L56.6 390.0L54.4 387.9"/><path color="#69460c" d="M63.4 382.8L65.6 381.9L66.4 390.1L64.1 391.4"/><path color="#945408" d="M104.7 397.9L107.0 399.2L107.7 401.3L105.5 399.8"/><path color="#e69116" d="M73.1 389.7L75.4 394.7L76.2 395.3L73.9 389.4"/><path color="#7a4a0a" d="M114.5 392.9L116.7 394.8L117.5 399.7L115.2 400.1"/><path color="#925b0d" d="M82.9 391.7L85.2 393.2L85.9 396.9L83.7 396.9"/><path color="#a87215" d="M51.4 382.8L53.6 382.9L54.4 387.9L52.1 386.5"/><path color="#714107" d="M92.7 395.7L94.9 395.3L95.7 400.9L93.5 401.3"/><path color="#64410a" d="M61.1 387.1L63.4 382.8L64.1 391.4L61.9 393.1"/><path color="#ac640b" d="M102.5 396.8L104.7 397.9L105.5 399.8L103.2 398.1"/><path color="#b37413" d="M70.9 389.2L73.1 389.7L73.9 389.4L71.7 392.5"/><path color="#643b07" d="M112.2 397.4L114.5 392.9L115.2 400.1L113.0 401.7"/><path color="#6f4409" d="M80.7 393.2L82.9 391.7L83.7 396.9L81.4 399.3"/><path color="#6d3e06" d="M90.4 398.9L92.7 395.7L93.5 401.3L91.2 402.1"/><path color="#ad7617" d="M49.1 385.1L51.4 382.8L52.1 386.5L49.9 387.3"/><path color="#7a4c0b" d="M58.9 390.4L61.1 387.1L61.9 393.1L59.6 393.8"/><path color="#a25e0b" d="M100.2 399.3L102.5 396.8L103.2 398.1L101.0 399.6"/><path color="#7e500c" d="M68.6 389.9L70.9 389.2L71.7 392.5L69.4 395.8"/><path color="#714006" d="M110.0 400.5L112.2 397.4L113.0 401.7L110.8 403.0"/><path color="#714207" d="M78.4 396.9L80.7 393.2L81.4 399.3L79.2 399.9"/><path color="#8b4f08" d="M88.2 398.8L90.4 398.9L91.2 402.1L89.0 400.6"/><path color="#a46d13" d="M46.9 391.0L49.1 385.1L49.9 387.3L47.6 391.3"/><path color="#955c0d" d="M56.6 390.0L58.9 390.4L59.6 393.8L57.4 393.5"/><path color="#864c07" d="M98.0 401.8L100.2 399.3L101.0 399.6L98.7 402.9"/><path color="#6c4309" d="M66.4 390.1L68.6 389.9L69.4 395.8L67.2 396.9"/><path color="#754206" d="M107.7 401.3L110.0 400.5L110.8 403.0L108.5 403.5"/><path color="#c6760f" d="M76.2 395.3L78.4 396.9L79.2 399.9L76.9 393.5"/><path color="#a0630e" d="M44.6 396.3L46.9 391.0L47.6 391.3L45.4 396.2"/><path color="#b3690c" d="M85.9 396.9L88.2 398.8L89.0 400.6L86.7 397.6"/><path color="#a16710" d="M54.4 387.9L56.6 390.0L57.4 393.5L55.1 391.9"/><path color="#703e05" d="M95.7 400.9L98.0 401.8L98.7 402.9L96.5 404.8"/><path color="#694008" d="M64.1 391.4L66.4 390.1L67.2 396.9L64.9 397.2"/><path color="#834a07" d="M105.5 399.8L107.7 401.3L108.5 403.5L106.2 402.7"/><path color="#f49e1b" d="M73.9 389.4L76.2 395.3L76.9 393.5L74.7 389.9"/><path color="#a1600c" d="M83.7 396.9L85.9 396.9L86.7 397.6L84.5 399.5"/><path color="#a36b12" d="M52.1 386.5L54.4 387.9L55.1 391.9L52.9 390.6"/><path color="#834907" d="M93.5 401.3L95.7 400.9L96.5 404.8L94.2 401.9"/><path color="#824e0a" d="M61.9 393.1L64.1 391.4L64.9 397.2L62.7 395.8"/><path color="#905208" d="M103.2 398.1L105.5 399.8L106.2 402.7L104.0 401.7"/><path color="#8a590f" d="M71.7 392.5L73.9 389.4L74.7 389.9L72.4 397.1"/><path color="#824b08" d="M81.4 399.3L83.7 396.9L84.5 399.5L82.2 402.0"/><path color="#a16b13" d="M49.9 387.3L52.1 386.5L52.9 390.6L50.6 390.6"/><path color="#8b4e07" d="M91.2 402.1L93.5 401.3L94.2 401.9L92.0 403.0"/><path color="#a4640d" d="M59.6 393.8L61.9 393.1L62.7 395.8L60.4 394.4"/><path color="#915409" d="M101.0 399.6L103.2 398.1L104.0 401.7L101.8 401.4"/><path color="#714308" d="M69.4 395.8L71.7 392.5L72.4 397.1L70.2 399.9"/><path color="#854b07" d="M79.2 399.9L81.4 399.3L82.2 402.0L80.0 402.0"/><path color="#9c6712" d="M47.6 391.3L49.9 387.3L50.6 390.6L48.4 392.9"/><path color="#985608" d="M89.0 400.6L91.2 402.1L92.0 403.0L89.7 401.8"/><path color="#a8660e" d="M57.4 393.5L59.6 393.8L60.4 394.4L58.2 395.2"/><path color="#844b07" d="M98.7 402.9L101.0 399.6L101.8 401.4L99.5 403.9"/><path color="#784507" d="M67.2 396.9L69.4 395.8L70.2 399.9L67.9 400.7"/><path color="#9d5c0b" d="M76.9 393.5L79.2 399.9L80.0 402.0L77.7 399.6"/><path color="#99600e" d="M45.4 396.2L47.6 391.3L48.4 392.9L46.1 396.9"/><path color="#a7610b" d="M86.7 397.6L89.0 400.6L89.7 401.8L87.5 400.6"/><path color="#a2640e" d="M55.1 391.9L57.4 393.5L58.2 395.2L55.9 395.1"/><path color="#6b3b05" d="M96.5 404.8L98.7 402.9L99.5 403.9L97.2 406.7"/><path color="#7e4807" d="M64.9 397.2L67.2 396.9L67.9 400.7L65.7 400.4"/><path color="#794d0c" d="M74.7 389.9L76.9 393.5L77.7 399.6L75.5 398.5"/><path color="#885009" d="M84.5 399.5L86.7 397.6L87.5 400.6L85.2 402.4"/><path color="#9d630f" d="M52.9 390.6L55.1 391.9L55.9 395.1L53.7 394.4"/><path color="#844a06" d="M94.2 401.9L96.5 404.8L97.2 406.7L95.0 403.8"/><path color="#935509" d="M62.7 395.8L64.9 397.2L65.7 400.4L63.4 398.4"/><path color="#5e3a08" d="M72.4 397.1L74.7 389.9L75.5 398.5L73.2 400.8"/><path color="#8a4f08" d="M82.2 402.0L84.5 399.5L85.2 402.4L83.0 402.9"/><path color="#ab6f12" d="M50.6 390.6L52.9 390.6L53.7 394.4L51.4 392.7"/><path color="#7f4707" d="M92.0 403.0L94.2 401.9L95.0 403.8L92.8 405.1"/><path color="#a6640d" d="M60.4 394.4L62.7 395.8L63.4 398.4L61.2 396.0"/><path color="#7a4607" d="M70.2 399.9L72.4 397.1L73.2 400.8L71.0 402.5"/><path color="#985608" d="M80.0 402.0L82.2 402.0L83.0 402.9L80.7 402.6"/><path color="#9f6711" d="M48.4 392.9L50.6 390.6L51.4 392.7L49.2 395.4"/><path color="#894d07" d="M89.7 401.8L92.0 403.0L92.8 405.1L90.5 404.3"/><path color="#ab6a0f" d="M58.2 395.2L60.4 394.4L61.2 396.0L58.9 395.7"/><path color="#7e4707" d="M67.9 400.7L70.2 399.9L71.0 402.5L68.7 403.0"/><path color="#9f5b09" d="M77.7 399.6L80.0 402.0L80.7 402.6L78.5 402.2"/><path color="#8b570d" d="M46.1 396.9L48.4 392.9L49.2 395.4L46.9 399.2"/><path color="#905308" d="M87.5 400.6L89.7 401.8L90.5 404.3L88.2 403.6"/><path color="#c07711" d="M55.9 395.1L58.2 395.2L58.9 395.7L56.7 394.7"/><path color="#844b07" d="M65.7 400.4L67.9 400.7L68.7 403.0L66.5 402.7"/><path color="#96580a" d="M75.5 398.5L77.7 399.6L78.5 402.2L76.2 401.6"/><path color="#7f4907" d="M85.2 402.4L87.5 400.6L88.2 403.6L86.0 405.2"/><path color="#bf7913" d="M53.7 394.4L55.9 395.1L56.7 394.7L54.4 395.3"/><path color="#985709" d="M63.4 398.4L65.7 400.4L66.5 402.7L64.2 400.6"/><path color="#905409" d="M73.2 400.8L75.5 398.5L76.2 401.6L74.0 402.0"/><path color="#894e08" d="M83.0 402.9L85.2 402.4L86.0 405.2L83.8 404.6"/><path color="#c07b14" d="M51.4 392.7L53.7 394.4L54.4 395.3L52.2 394.6"/><path color="#cc7d11" d="M61.2 396.0L63.4 398.4L64.2 400.6L62.0 394.6"/><path color="#8a4f08" d="M71.0 402.5L73.2 400.8L74.0 402.0L71.7 404.1"/><path color="#8f5208" d="M80.7 402.6L83.0 402.9L83.8 404.6L81.5 404.6"/><path color="#96610f" d="M49.2 395.4L51.4 392.7L52.2 394.6L49.9 398.2"/><path color="#e29117" d="M58.9 395.7L61.2 396.0L62.0 394.6L59.7 393.5"/><path color="#814907" d="M68.7 403.0L71.0 402.5L71.7 404.1L69.5 405.0"/><path color="#804907" d="M78.5 402.2L80.7 402.6L81.5 404.6L79.2 406.1"/><path color="#85510b" d="M46.9 399.2L49.2 395.4L49.9 398.2L47.7 401.8"/><path color="#f39f1b" d="M56.7 394.7L58.9 395.7L59.7 393.5L57.5 391.2"/><path color="#834a07" d="M66.5 402.7L68.7 403.0L69.5 405.0L67.2 404.7"/><path color="#7f4907" d="M76.2 401.6L78.5 402.2L79.2 406.1L77.0 405.3"/><path color="#ea9a1b" d="M54.4 395.3L56.7 394.7L57.5 391.2L55.2 393.8"/><path color="#975609" d="M64.2 400.6L66.5 402.7L67.2 404.7L65.0 402.8"/><path color="#834b08" d="M74.0 402.0L76.2 401.6L77.0 405.3L74.8 405.2"/><path color="#aa6e12" d="M52.2 394.6L54.4 395.3L55.2 393.8L53.0 399.1"/><path color="#c97d12" d="M62.0 394.6L64.2 400.6L65.0 402.8L62.7 396.6"/><path color="#7a4507" d="M71.7 404.1L74.0 402.0L74.8 405.2L72.5 406.5"/><path color="#774b0b" d="M49.9 398.2L52.2 394.6L53.0 399.1L50.7 402.4"/><path color="#c98517" d="M59.7 393.5L62.0 394.6L62.7 396.6L60.5 394.6"/><path color="#7a4506" d="M69.5 405.0L71.7 404.1L72.5 406.5L70.2 407.1"/><path color="#804c09" d="M47.7 401.8L49.9 398.2L50.7 402.4L48.5 404.1"/><path color="#d8931b" d="M57.5 391.2L59.7 393.5L60.5 394.6L58.2 393.1"/><path color="#7f4807" d="M67.2 404.7L69.5 405.0L70.2 407.1L68.0 407.0"/><path color="#c08319" d="M55.2 393.8L57.5 391.2L58.2 393.1L56.0 394.7"/><path color="#8a4e08" d="M65.0 402.8L67.2 404.7L68.0 407.0L65.8 406.0"/><path color="#a56c13" d="M53.0 399.1L55.2 393.8L56.0 394.7L53.7 399.8"/><path color="#965a0c" d="M62.7 396.6L65.0 402.8L65.8 406.0L63.5 403.4"/><path color="#935a0d" d="M50.7 402.4L53.0 399.1L53.7 399.8L51.5 404.6"/><path color="#80520d" d="M60.5 394.6L62.7 396.6L63.5 403.4L61.2 401.5"/><path color="#8c5109" d="M48.5 404.1L50.7 402.4L51.5 404.6L49.2 406.4"/><path color="#744c0d" d="M58.2 393.1L60.5 394.6L61.2 401.5L59.0 401.5"/><path color="#734d0d" d="M56.0 394.7L58.2 393.1L59.0 401.5L56.8 400.8"/><path color="#784e0d" d="M53.7 399.8L56.0 394.7L56.8 400.8L54.5 403.4"/><path color="#7d4c0a" d="M51.5 404.6L53.7 399.8L54.5 403.4L52.2 407.3"/><path color="#854c08" d="M49.2 406.4L51.5 404.6L52.2 407.3L50.0 408.9"/></g></g>
<text x="191.6" y="308.1" font-family='"Liberation Sans", sans-serif' font-size="15.2" font-weight="bold" fill="#000" text-anchor="start" >f</text>
<polygon points="227.5,329.44 227.86,330.23 228.22,330.42 228.58,331.56 228.94,333.39 229.31,332.72 229.67,334.45 230.03,334.25 230.39,335.55 230.75,336.07 231.11,335.19 231.47,335.78 231.84,336.62 232.2,335.11 232.56,336.16 232.92,335.98 233.28,335.18 233.64,336.4 234,336.44 234.36,335.18 234.72,335.35 235.09,335.5 235.45,336.18 235.81,335.38 236.17,336.42 236.53,336.56 236.89,337.18 237.25,336.34 237.62,337.09 237.98,335.85 238.34,336.16 238.7,335.69 239.06,337.4 239.42,336.97 239.78,336.98 240.14,335.72 240.5,337.08 240.87,336.74 241.23,337.06 241.59,336.37 241.95,336.51 242.31,336.69 242.67,336.81 243.03,337.47 243.4,337.53 243.76,337.01 244.12,337.36 244.48,336.79 244.84,336.69 245.2,336.63 245.56,336.54 245.92,336.89 246.28,337.07 246.65,337.55 247.01,337.04 247.37,336.92 247.73,337.41 248.09,337.66 248.45,337.18 248.81,336.23 249.18,336.68 249.54,338.1 249.9,337.38 250.26,337.51 250.62,336.84 250.98,337.87 251.34,336.88 251.7,337.7 252.06,337.05 252.43,336.73 252.79,337.4 253.15,336.98 253.51,337.53 253.87,337.09 254.23,338.27 254.59,338.53 254.96,337.4 255.32,336.68 255.68,337.78 256.04,336.9 256.4,337.9 256.76,337.77 257.12,338.11 257.48,337.62 257.85,338.1 258.21,337.08 258.57,337.9 258.93,338.2 259.29,337.69 259.65,338.67 260.01,338.23 260.37,337.23 260.74,338.51 261.1,337.13 261.46,338.86 261.82,338 262.18,337.47 262.54,337.05 262.9,338.02 263.26,338.3 263.62,337.91 263.99,337.24 264.35,338.09 264.71,338.41 265.07,338.07 265.43,337.46 265.79,338.26 266.15,338.01 266.51,338.59 266.88,337.67 267.24,338.68 267.6,337.7 267.96,339.14 268.32,338.01 268.68,337.44 269.04,338.59 269.4,338.87 269.77,338.46 270.13,339.12 270.49,338.31 270.85,337.56 271.21,339.49 271.57,338.06 271.93,338.29 272.3,339.1 272.66,338.59 273.02,339.4 273.38,338.74 273.74,338.6 274.1,337.95 274.46,339.16 274.82,339.7 275.19,339.85 275.55,339.76 275.91,338.52 276.27,338.59 276.63,340.21 276.99,339.64 277.35,339.62 277.71,339.84 278.07,338.62 278.44,339.76 278.8,339.73 279.16,338.78 279.52,338.69 279.88,339.4 280.24,340.59 280.6,339.03 280.97,338.98 281.33,340.2 281.69,338.95 282.05,339.01 282.41,340.17 282.77,340.54 283.13,339.29 283.49,339.5 283.86,340.77 284.22,340.79 284.58,340.63 284.94,341.02 285.3,340.53 285.66,341.2 286.02,339.74 286.38,340.94 286.75,340.9 287.11,341.44 287.47,340.88 287.83,340.2 288.19,341.11 288.55,341.43 288.91,340.07 289.27,341.46 289.63,340.39 290,339.96 290.36,340.02 290.72,341.5 291.08,341.73 291.44,341.52 291.8,340.92 292.16,341.64 292.52,341.75 292.89,341.87 293.25,340.99 293.61,340.48 293.97,340.65 294.33,341.28 294.69,341.67 295.05,340.1 295.42,340.42 295.78,340.56 296.14,340.63 296.5,341.43 296.86,341.06 297.22,340.04 297.58,340.6 297.94,339.81 298.31,339.58 298.67,340.69 299.03,339.83 299.39,340.43 299.75,339.77 300.11,340.52 300.47,340.26 300.83,340.55 301.19,339.04 301.56,339.38 301.92,340.66 302.28,340.29 302.64,339.88 303,339.96 303.36,340.16 303.72,339.34 304.09,339.91 304.45,339 304.81,340.3 305.17,338.71 305.53,340.1 305.89,338.93 306.25,339.6 306.61,338.46 306.98,338.16 307.34,339.74 307.7,339.08 308.06,338.16 308.42,339.57 308.78,338.86 309.14,338.27 309.5,337.94 309.87,338.63 310.23,338.09 310.59,338.41 310.95,339.11 311.31,339.22 311.67,337.66 312.03,338.12 312.39,337.88 312.75,338.6 313.12,338.33 313.48,338.58 313.84,338.65 314.2,337.54 314.56,338.34 314.92,337.88 315.28,338.01 315.64,336.9 316.01,337.48 316.37,336.93 316.73,336.98 317.09,337.11 317.45,337.46 317.81,336.67 318.17,337.69 318.54,337.8 318.9,337.6 319.26,336.71 319.62,337.82 319.98,337.06 320.34,337.6 320.7,337.86 321.06,336.34 321.43,336.35 321.79,336.6 322.15,336.69 322.51,337.23 322.87,337.53 323.23,336.22 323.59,335.59 323.95,336.89 324.31,337.06 324.68,335.74 325.04,336.63 325.4,335.9 325.76,335.28 326.12,335.5 326.48,335.53 326.84,336.58 327.2,336.26 327.57,335.74 327.93,335.13 328.29,336.64 328.65,335.43 329.01,335.22 329.37,334.69 329.73,335.52 330.1,335.86 330.46,336.24 330.82,336.02 331.18,334.36 331.54,336.15 331.9,335.8 332.26,336.11 332.62,334.37 332.99,335.17 333.35,334.64 333.71,335.07 334.07,334.98 334.43,334.15 334.79,335.41 335.15,334.8 335.51,334.94 335.88,335.4 336.24,334.64 336.6,333.73 336.96,333.57 337.32,334.25 337.68,335.34 338.04,334.23 338.4,334.29 338.76,334.44 339.13,334.78 339.49,333.6 339.85,334.95 340.21,334.42 340.57,333.98 340.93,334.11 341.29,334.19 341.65,334.43 342.02,334.84 342.38,334.09 342.74,333.44 343.1,334.94 343.46,334.61 343.82,333.99 344.18,333.93 344.55,334.03 344.91,334.86 345.27,334.85 345.63,333.27 345.99,333.54 346.35,334.71 346.71,333.48 347.07,333.24 347.44,334.53 347.8,333.73 348.16,334.55 348.52,334.69 348.88,334.04 349.24,333.58 349.6,334.14 349.96,333.87 350.32,333.46 350.69,333.55 351.05,332.92 351.41,333.15 351.77,333.09 352.13,332.95 352.49,333.82 352.85,332.66 353.22,334.43 353.58,334.29 353.94,332.88 354.3,332.62 354.66,333.92 355.02,333.52 355.38,333.23 355.74,334.32 356.11,332.75 356.47,333.22 356.83,332.93 357.19,333.99 357.55,333.18 357.91,332.64 358.27,334.2 358.63,333.92 359,332.48 359.36,334.12 359.72,332.56 360.08,333.4 360.44,333.85 360.8,333.37 361.16,332.93 361.52,333.48 361.88,332.35 362.25,334.02 362.61,333.38 362.97,332.94 363.33,333.37 363.69,332.92 364.05,334.01 364.41,332.09 364.77,333.74 365.14,333.48 365.5,333.02 365.86,332.87 366.22,332.09 366.58,333.91 366.94,332.44 367.3,332.42 367.66,332.69 368.03,333.37 368.39,332.19 368.75,332.56 369.11,332.39 369.47,332.88 369.83,333.18 370.19,333.06 370.56,333.19 370.92,331.89 371.28,333.1 371.64,333.36 372,333.54 372.36,332.07 372.72,332.91 373.08,333.18 373.44,333.63 373.81,333.14 374.17,332.65 374.53,333.06 374.89,332.57 375.25,333.36 375.61,331.74 375.97,332.16 376.34,331.96 376.7,332.71 377.06,333.11 377.42,333.6 377.78,333.1 378.14,333.19 378.5,333.22 378.86,331.89 379.23,333.2 379.23,373.63 378.86,373.48 378.5,373.46 378.14,372.92 377.78,374.06 377.42,372.41 377.06,372.85 376.7,375.1 376.34,372.49 375.97,373.81 375.61,373.71 375.25,374.58 374.89,373.06 374.53,375.97 374.17,376.15 373.81,375.59 373.44,374.32 373.08,374.01 372.72,375.46 372.36,375.21 372,373.87 371.64,374.99 371.28,374.62 370.92,375.39 370.56,374.85 370.19,373.97 369.83,375.57 369.47,375.83 369.11,376.16 368.75,374.7 368.39,376.78 368.03,376.29 367.66,374.85 367.3,375.72 366.94,376.5 366.58,375.45 366.22,376.86 365.86,375.31 365.5,374.42 365.14,374.44 364.77,375.73 364.41,373.65 364.05,375 363.69,374.57 363.33,373.47 362.97,374.72 362.61,374.96 362.25,373.96 361.88,375.33 361.52,374.09 361.16,373.61 360.8,376.22 360.44,376.11 360.08,374.88 359.72,375.53 359.36,373.87 359,375.9 358.63,374.9 358.27,374.35 357.91,376.34 357.55,375.47 357.19,376.05 356.83,374.38 356.47,374.05 356.11,373.67 355.74,373.39 355.38,373.37 355.02,375.72 354.66,373.56 354.3,375.12 353.94,373.23 353.58,374.64 353.22,374.79 352.85,375.14 352.49,375.16 352.13,373.1 351.77,374.91 351.41,373.76 351.05,373.15 350.69,375.59 350.32,375.41 349.96,375.43 349.6,374.8 349.24,373.13 348.88,372.45 348.52,373.15 348.16,374.89 347.8,374.86 347.44,375.43 347.07,373.53 346.71,372.54 346.35,375.44 345.99,374.63 345.63,373.92 345.27,373.52 344.91,373.38 344.55,373.94 344.18,372.34 343.82,372.68 343.46,373.52 343.1,373.62 342.74,372.67 342.38,372.17 342.02,374.71 341.65,372.12 341.29,373.57 340.93,373.05 340.57,372.87 340.21,371.89 339.85,373.81 339.49,371.63 339.13,372.64 338.76,373.61 338.4,374.59 338.04,372.39 337.68,373.61 337.32,374.02 336.96,374.48 336.6,374.13 336.24,374.45 335.88,372.28 335.51,371.77 335.15,372.89 334.79,371.92 334.43,373.84 334.07,372.97 333.71,371.8 333.35,372.29 332.99,371.44 332.62,373.01 332.26,373.1 331.9,372.63 331.54,371.6 331.18,370.36 330.82,371.44 330.46,372.16 330.1,371.72 329.73,370.23 329.37,371.26 329.01,372.53 328.65,372.16 328.29,371.23 327.93,370.06 327.57,370.4 327.2,370.31 326.84,371.73 326.48,370 326.12,371.57 325.76,369.3 325.4,371.45 325.04,369.18 324.68,371.25 324.31,368.49 323.95,369.12 323.59,370.37 323.23,370.2 322.87,371.08 322.51,369.75 322.15,369.3 321.79,368.14 321.43,370.92 321.06,367.88 320.7,370.79 320.34,367.66 319.98,368.54 319.62,368.32 319.26,368.64 318.9,367.72 318.54,367.19 318.17,368.09 317.81,367.19 317.45,369.25 317.09,368.61 316.73,367.1 316.37,368.27 316.01,367.47 315.64,366.75 315.28,367.18 314.92,369.19 314.56,367.72 314.2,366.71 313.84,368.19 313.48,366.8 313.12,367.06 312.75,365.82 312.39,367.34 312.03,368.67 311.67,366.25 311.31,367.63 310.95,367.75 310.59,368.22 310.23,366.5 309.87,365.19 309.5,367 309.14,367.29 308.78,367.84 308.42,367.82 308.06,365.55 307.7,367.01 307.34,366.76 306.98,366.86 306.61,365.01 306.25,364.6 305.89,364.32 305.53,366.9 305.17,364.95 304.81,366.68 304.45,365 304.09,365.21 303.72,366.06 303.36,366.39 303,365.65 302.64,363.6 302.28,364.39 301.92,363.85 301.56,363.37 301.19,365.58 300.83,363.46 300.47,365.08 300.11,365.72 299.75,365.16 299.39,364.13 299.03,364.89 298.67,362.72 298.31,362.98 297.94,365.38 297.58,365.39 297.22,363.24 296.86,362.65 296.5,363.18 296.14,363.06 295.78,363.2 295.42,362.29 295.05,362.91 294.69,362.36 294.33,362.98 293.97,363.49 293.61,362.81 293.25,362.36 292.89,363.08 292.52,364.19 292.16,363.3 291.8,362.48 291.44,364.21 291.08,363.55 290.72,362.69 290.36,362.84 290,361.84 289.63,362.38 289.27,362.28 288.91,363.75 288.55,362.53 288.19,363.8 287.83,361.33 287.47,361.52 287.11,363.17 286.75,361.74 286.38,361.57 286.02,362.07 285.66,361.3 285.3,362.2 284.94,362.61 284.58,362.68 284.22,364.01 283.86,361.96 283.49,361.56 283.13,362.34 282.77,361.74 282.41,363.06 282.05,361.47 281.69,362.29 281.33,362.62 280.97,363.3 280.6,361.62 280.24,363.63 279.88,361.36 279.52,361.97 279.16,362.42 278.8,360.65 278.44,361.94 278.07,362.35 277.71,360.74 277.35,360.95 276.99,362.73 276.63,362.88 276.27,360.52 275.91,362.32 275.55,362 275.19,360.58 274.82,362.74 274.46,360.61 274.1,362.08 273.74,361.92 273.38,361.02 273.02,361.76 272.66,362.3 272.3,362.86 271.93,360.07 271.57,361.05 271.21,361.37 270.85,362.09 270.49,361.16 270.13,362.08 269.77,360.63 269.4,361.7 269.04,360.54 268.68,362.96 268.32,362.74 267.96,362.99 267.6,361.74 267.24,363.28 266.88,360.62 266.51,361.82 266.15,363.36 265.79,361.53 265.43,363.27 265.07,361.99 264.71,361.42 264.35,360.43 263.99,362.34 263.62,361.28 263.26,361.3 262.9,362.39 262.54,361.84 262.18,361.92 261.82,363.19 261.46,362.02 261.1,360.2 260.74,361.57 260.37,363.34 260.01,362.96 259.65,363.22 259.29,362.11 258.93,360.68 258.57,360.81 258.21,361.86 257.85,362.82 257.48,361.49 257.12,361.52 256.76,362.62 256.4,361.74 256.04,362.25 255.68,362.84 255.32,362.15 254.96,361.91 254.59,362.8 254.23,363.16 253.87,363.31 253.51,362.88 253.15,362.81 252.79,362.75 252.43,363.02 252.06,362.35 251.7,361.49 251.34,360.84 250.98,363.5 250.62,360.71 250.26,361.8 249.9,360.56 249.54,363.24 249.18,360.89 248.81,361.35 248.45,361.32 248.09,362.23 247.73,363.24 247.37,360.44 247.01,361.67 246.65,361.15 246.28,361.45 245.92,362.45 245.56,361.96 245.2,361.1 244.84,362.33 244.48,363.22 244.12,360.75 243.76,361.42 243.4,361.44 243.03,360.89 242.67,362.25 242.31,361.38 241.95,363.65 241.59,360.9 241.23,361.52 240.87,363.65 240.5,362.24 240.14,362.58 239.78,362.33 239.42,362.78 239.06,362.67 238.7,363.47 238.34,363.23 237.98,363.66 237.62,363.77 237.25,360.65 236.89,362.02 236.53,362.34 236.17,362.69 235.81,361.43 235.45,363.77 235.09,360.79 234.72,363.31 234.36,363.29 234,362.07 233.64,361.44 233.28,363.21 232.92,362.29 232.56,364.08 232.2,362.92 231.84,364.7 231.47,364.76 231.11,363.12 230.75,364.91 230.39,364.63 230.03,364.54 229.67,365.58 229.31,364.76 228.94,368.14 228.58,368.25 228.22,368.49 227.86,367.31 227.5,370.22" fill="#dedede"/>
<line x1="373.63" y1="364.58" x2="373.63" y2="375.89" stroke="#f4f4f4" stroke-width="0.5"/>
<line x1="318.69" y1="360.84" x2="318.69" y2="369.66" stroke="#f4f4f4" stroke-width="0.5"/>
<line x1="239.53" y1="356.95" x2="239.53" y2="363.18" stroke="#f4f4f4" stroke-width="0.5"/>
<line x1="350.32" y1="364.15" x2="350.32" y2="375.17" stroke="#f4f4f4" stroke-width="0.5"/>
<line x1="360.34" y1="364.62" x2="360.34" y2="375.96" stroke="#f4f4f4" stroke-width="0.5"/>
<line x1="279.26" y1="356.93" x2="279.26" y2="363.14" stroke="#f4f4f4" stroke-width="0.5"/>
<line x1="248.24" y1="356.86" x2="248.24" y2="363.03" stroke="#f4f4f4" stroke-width="0.5"/>
<line x1="256.05" y1="356.78" x2="256.05" y2="362.89" stroke="#f4f4f4" stroke-width="0.5"/>
<line x1="308.97" y1="359.52" x2="308.97" y2="367.45" stroke="#f4f4f4" stroke-width="0.5"/>
<line x1="360.33" y1="364.62" x2="360.33" y2="375.96" stroke="#f4f4f4" stroke-width="0.5"/>
<line x1="324.59" y1="361.71" x2="324.59" y2="371.1" stroke="#f4f4f4" stroke-width="0.5"/>
<line x1="367.53" y1="364.82" x2="367.53" y2="376.29" stroke="#f4f4f4" stroke-width="0.5"/>
<line x1="259.7" y1="356.74" x2="259.7" y2="362.83" stroke="#f4f4f4" stroke-width="0.5"/>
<line x1="277.08" y1="356.85" x2="277.08" y2="363.01" stroke="#f4f4f4" stroke-width="0.5"/>
<line x1="341.19" y1="363.65" x2="341.19" y2="374.34" stroke="#f4f4f4" stroke-width="0.5"/>
<line x1="325.96" y1="361.91" x2="325.96" y2="371.43" stroke="#f4f4f4" stroke-width="0.5"/>
<line x1="289" y1="357.29" x2="289" y2="363.74" stroke="#f4f4f4" stroke-width="0.5"/>
<line x1="330.52" y1="362.57" x2="330.52" y2="372.54" stroke="#f4f4f4" stroke-width="0.5"/>
<line x1="278.75" y1="356.91" x2="278.75" y2="363.11" stroke="#f4f4f4" stroke-width="0.5"/>
<line x1="236.22" y1="356.99" x2="236.22" y2="363.24" stroke="#f4f4f4" stroke-width="0.5"/>
<line x1="290.36" y1="357.34" x2="290.36" y2="363.82" stroke="#f4f4f4" stroke-width="0.5"/>
<line x1="234.4" y1="357.01" x2="234.4" y2="363.27" stroke="#f4f4f4" stroke-width="0.5"/>
<line x1="322.53" y1="361.41" x2="322.53" y2="370.6" stroke="#f4f4f4" stroke-width="0.5"/>
<line x1="278.26" y1="356.89" x2="278.26" y2="363.08" stroke="#f4f4f4" stroke-width="0.5"/>
<line x1="302.51" y1="358.69" x2="302.51" y2="366.08" stroke="#f4f4f4" stroke-width="0.5"/>
<line x1="318.21" y1="360.77" x2="318.21" y2="369.55" stroke="#f4f4f4" stroke-width="0.5"/>
<line x1="266.5" y1="356.67" x2="266.5" y2="362.71" stroke="#f4f4f4" stroke-width="0.5"/>
<line x1="297.81" y1="358.09" x2="297.81" y2="365.08" stroke="#f4f4f4" stroke-width="0.5"/>
<line x1="229.56" y1="359.11" x2="229.56" y2="366.78" stroke="#f4f4f4" stroke-width="0.5"/>
<line x1="367.89" y1="364.83" x2="367.89" y2="376.3" stroke="#f4f4f4" stroke-width="0.5"/>
<line x1="313.09" y1="360.05" x2="313.09" y2="368.33" stroke="#f4f4f4" stroke-width="0.5"/>
<line x1="377.33" y1="363.77" x2="377.33" y2="374.54" stroke="#f4f4f4" stroke-width="0.5"/>
<line x1="236" y1="356.99" x2="236" y2="363.24" stroke="#f4f4f4" stroke-width="0.5"/>
<line x1="320.65" y1="361.13" x2="320.65" y2="370.14" stroke="#f4f4f4" stroke-width="0.5"/>
<line x1="337.37" y1="363.44" x2="337.37" y2="373.99" stroke="#f4f4f4" stroke-width="0.5"/>
<line x1="277.44" y1="356.86" x2="277.44" y2="363.03" stroke="#f4f4f4" stroke-width="0.5"/>
<line x1="241.68" y1="356.93" x2="241.68" y2="363.14" stroke="#f4f4f4" stroke-width="0.5"/>
<line x1="251.2" y1="356.83" x2="251.2" y2="362.98" stroke="#f4f4f4" stroke-width="0.5"/>
<line x1="249.14" y1="356.85" x2="249.14" y2="363.01" stroke="#f4f4f4" stroke-width="0.5"/>
<line x1="343.9" y1="363.8" x2="343.9" y2="374.58" stroke="#f4f4f4" stroke-width="0.5"/>
<line x1="241.14" y1="356.94" x2="241.14" y2="363.15" stroke="#f4f4f4" stroke-width="0.5"/>
<line x1="351.01" y1="364.19" x2="351.01" y2="375.23" stroke="#f4f4f4" stroke-width="0.5"/>
<line x1="291.71" y1="357.39" x2="291.71" y2="363.9" stroke="#f4f4f4" stroke-width="0.5"/>
<line x1="309.23" y1="359.55" x2="309.23" y2="367.51" stroke="#f4f4f4" stroke-width="0.5"/>
<line x1="316.79" y1="360.57" x2="316.79" y2="369.2" stroke="#f4f4f4" stroke-width="0.5"/>
<line x1="311.71" y1="359.87" x2="311.71" y2="368.04" stroke="#f4f4f4" stroke-width="0.5"/>
<line x1="327.24" y1="362.09" x2="327.24" y2="371.75" stroke="#f4f4f4" stroke-width="0.5"/>
<line x1="318.77" y1="360.86" x2="318.77" y2="369.68" stroke="#f4f4f4" stroke-width="0.5"/>
<line x1="277.7" y1="356.87" x2="277.7" y2="363.05" stroke="#f4f4f4" stroke-width="0.5"/>
<line x1="339.94" y1="363.58" x2="339.94" y2="374.22" stroke="#f4f4f4" stroke-width="0.5"/>
<line x1="266.62" y1="356.67" x2="266.62" y2="362.7" stroke="#f4f4f4" stroke-width="0.5"/>
<line x1="335.44" y1="363.29" x2="335.44" y2="373.74" stroke="#f4f4f4" stroke-width="0.5"/>
<line x1="343.31" y1="363.76" x2="343.31" y2="374.53" stroke="#f4f4f4" stroke-width="0.5"/>
<line x1="345.24" y1="363.87" x2="345.24" y2="374.71" stroke="#f4f4f4" stroke-width="0.5"/>
<line x1="274.42" y1="356.75" x2="274.42" y2="362.85" stroke="#f4f4f4" stroke-width="0.5"/>
<line x1="344.72" y1="363.84" x2="344.72" y2="374.66" stroke="#f4f4f4" stroke-width="0.5"/>
<line x1="375.79" y1="364.11" x2="375.79" y2="375.1" stroke="#f4f4f4" stroke-width="0.5"/>
<line x1="296.26" y1="357.89" x2="296.26" y2="364.75" stroke="#f4f4f4" stroke-width="0.5"/>
<line x1="269.72" y1="356.64" x2="269.72" y2="362.65" stroke="#f4f4f4" stroke-width="0.5"/>
<line x1="306.9" y1="359.25" x2="306.9" y2="367.01" stroke="#f4f4f4" stroke-width="0.5"/>
<polygon points="227.5,355.7 364.77,355.7 375.61,359 375.61,360.32 361.16,359.66 227.5,359.66" fill="#f6bccc"/>
<polygon points="227.5,342.17 270.85,342.83 292.52,343.82 292.52,345.8 227.5,345.8" fill="#f6ccd8"/>
<rect x="226.055" y="341.18" width="3.61" height="18.81" fill="#f6bccc"/>
<polygon points="227.5,344.31 366.94,344.31 372,342.5 376.34,340.85 379.23,340.52 379.23,360.32 376.34,359.99 372,358.34 366.94,356.36 227.5,356.36" fill="#a00808"/>
<polygon points="227.5,352.73 366.94,352.73 372,354.38 376.34,356.36 379.23,357.02 379.23,360.32 376.34,359.99 372,358.34 366.94,356.36 227.5,356.36" fill="#601a0c"/>
<polygon points="376.34,340.85 379.23,340.52 379.23,360.32 376.34,359.99" fill="#4a1808"/>
<rect x="227.5" y="344.315" width="2.5" height="12.05" fill="#601a0c"/>
<rect x="291.3" y="332.5" width="6.7" height="31" fill="none" stroke="#222" stroke-width="0.8"/>
<line x1="298.2" y1="333.6" x2="306" y2="327.3" stroke="#111" stroke-width="0.7"/><polygon points="308,325.7 303.6,327 305.6,329.4" fill="#111"/>
<rect x="307.4" y="302.8" width="64" height="20.7" fill="#fff" stroke="#666" stroke-width="0.6"/>
<path d="M309.5 312.3 L309.5 317.4 L309.5 317.4 L311.95 317.4 L311.95 309.7 L311.95 309.7 L314.4 309.7 L314.4 317.4 L314.4 317.4 L316.85 317.4 L316.85 309.7 L316.85 309.7 L319.3 309.7 L319.3 317.4 L319.3 317.4 L321.75 317.4 L321.75 309.7 L321.75 309.7 L324.2 309.7 L324.2 317.4 L324.2 317.4 L326.65 317.4 L326.65 309.7 L326.65 309.7 L329.1 309.7 L329.1 317.4 L329.1 317.4 L331.55 317.4 L331.55 309.7 L331.55 309.7 L334 309.7 L334 317.4 L334 317.4 L336.45 317.4 L336.45 309.7 L336.45 309.7 L338.9 309.7 L338.9 317.4 L338.9 317.4 L341.35 317.4 L341.35 309.7 L341.35 309.7 L343.8 309.7 L343.8 317.4 L343.8 317.4 L346.25 317.4 L346.25 309.7 L346.25 309.7 L348.7 309.7 L348.7 317.4 L348.7 317.4 L351.15 317.4 L351.15 309.7 L351.15 309.7 L353.6 309.7 L353.6 317.4 L353.6 317.4 L356.05 317.4 L356.05 309.7 L356.05 309.7 L358.5 309.7 L358.5 317.4 L358.5 317.4 L360.95 317.4 L360.95 309.7 L360.95 309.7 L363.4 309.7 L363.4 317.4 L363.4 317.4 L365.85 317.4 L365.85 309.7 L365.85 309.7 L368.3 309.7 L368.3 317.4 L368.3 317.4 L370.75 317.4 L370.75 309.7" fill="none" stroke="#c87878" stroke-width="0.55" stroke-linejoin="miter"/>
<text x="306.5" y="304.8" font-family='"Liberation Sans", sans-serif' font-size="5.2" font-weight="normal" fill="#444" text-anchor="end" >50</text>
<text x="306.5" y="314.2" font-family='"Liberation Sans", sans-serif' font-size="5.2" font-weight="normal" fill="#444" text-anchor="end" >0</text>
<text x="306.5" y="326.2" font-family='"Liberation Sans", sans-serif' font-size="5.2" font-weight="normal" fill="#444" text-anchor="end" >-50</text>
<text x="333.4" y="329.4" font-family='"Liberation Sans", sans-serif' font-size="5.2" font-weight="normal" fill="#444" text-anchor="middle" >90</text>
<text x="365.3" y="329.4" font-family='"Liberation Sans", sans-serif' font-size="5.2" font-weight="normal" fill="#444" text-anchor="middle" >100</text>
<text x="339.4" y="335.2" font-family='"Liberation Sans", sans-serif' font-size="5.2" font-weight="normal" fill="#444" text-anchor="middle" >Time (h)</text>
<text transform="translate(300.2,313.2) rotate(-90)" font-family='"Liberation Sans", sans-serif' font-size="4.6" fill="#333" text-anchor="middle">Voltage (V)</text>
<rect x="228" y="299.6" width="150.6" height="99.7" fill="none" stroke="#555" stroke-width="1"/>
<line x1="226" y1="299.6" x2="228" y2="299.6" stroke="#555" stroke-width="0.8"/>
<text x="223.6" y="303" font-family='"Liberation Sans", sans-serif' font-size="9.4" font-weight="normal" fill="#333" text-anchor="end" stroke="#333" stroke-width="0.05" textLength="15.7" lengthAdjust="spacingAndGlyphs">150</text>
<line x1="226" y1="316.1" x2="228" y2="316.1" stroke="#555" stroke-width="0.8"/>
<text x="223.6" y="319.5" font-family='"Liberation Sans", sans-serif' font-size="9.4" font-weight="normal" fill="#333" text-anchor="end" stroke="#333" stroke-width="0.05" textLength="15.7" lengthAdjust="spacingAndGlyphs">100</text>
<line x1="226" y1="332.6" x2="228" y2="332.6" stroke="#555" stroke-width="0.8"/>
<text x="223.6" y="336" font-family='"Liberation Sans", sans-serif' font-size="9.4" font-weight="normal" fill="#333" text-anchor="end" stroke="#333" stroke-width="0.05" textLength="9.9" lengthAdjust="spacingAndGlyphs">50</text>
<line x1="226" y1="349.1" x2="228" y2="349.1" stroke="#555" stroke-width="0.8"/>
<text x="223.6" y="352.5" font-family='"Liberation Sans", sans-serif' font-size="9.4" font-weight="normal" fill="#333" text-anchor="end" stroke="#333" stroke-width="0.05" textLength="5.2" lengthAdjust="spacingAndGlyphs">0</text>
<line x1="226" y1="365.6" x2="228" y2="365.6" stroke="#555" stroke-width="0.8"/>
<text x="223.6" y="369" font-family='"Liberation Sans", sans-serif' font-size="9.4" font-weight="normal" fill="#333" text-anchor="end" stroke="#333" stroke-width="0.05" textLength="14.3" lengthAdjust="spacingAndGlyphs">-50</text>
<line x1="226" y1="382.1" x2="228" y2="382.1" stroke="#555" stroke-width="0.8"/>
<text x="223.6" y="385.5" font-family='"Liberation Sans", sans-serif' font-size="9.4" font-weight="normal" fill="#333" text-anchor="end" stroke="#333" stroke-width="0.05" textLength="20.1" lengthAdjust="spacingAndGlyphs">-100</text>
<line x1="226" y1="398.6" x2="228" y2="398.6" stroke="#555" stroke-width="0.8"/>
<text x="223.6" y="402" font-family='"Liberation Sans", sans-serif' font-size="9.4" font-weight="normal" fill="#333" text-anchor="end" stroke="#333" stroke-width="0.05" textLength="20.1" lengthAdjust="spacingAndGlyphs">-150</text>
<line x1="227.5" y1="399.3" x2="227.5" y2="396.8" stroke="#555" stroke-width="0.8"/>
<line x1="245.56" y1="399.3" x2="245.56" y2="397.8" stroke="#555" stroke-width="0.8"/>
<line x1="263.62" y1="399.3" x2="263.62" y2="396.8" stroke="#555" stroke-width="0.8"/>
<line x1="281.69" y1="399.3" x2="281.69" y2="397.8" stroke="#555" stroke-width="0.8"/>
<line x1="299.75" y1="399.3" x2="299.75" y2="396.8" stroke="#555" stroke-width="0.8"/>
<line x1="317.81" y1="399.3" x2="317.81" y2="397.8" stroke="#555" stroke-width="0.8"/>
<line x1="335.88" y1="399.3" x2="335.88" y2="396.8" stroke="#555" stroke-width="0.8"/>
<line x1="353.94" y1="399.3" x2="353.94" y2="397.8" stroke="#555" stroke-width="0.8"/>
<line x1="372" y1="399.3" x2="372" y2="396.8" stroke="#555" stroke-width="0.8"/>
<text x="227.5" y="410.7" font-family='"Liberation Sans", sans-serif' font-size="9.5" font-weight="normal" fill="#333" text-anchor="middle" stroke="#333" stroke-width="0.05" textLength="5.2" lengthAdjust="spacingAndGlyphs">0</text>
<text x="263.62" y="410.7" font-family='"Liberation Sans", sans-serif' font-size="9.5" font-weight="normal" fill="#333" text-anchor="middle" stroke="#333" stroke-width="0.05" textLength="10.4" lengthAdjust="spacingAndGlyphs">50</text>
<text x="299.75" y="410.7" font-family='"Liberation Sans", sans-serif' font-size="9.5" font-weight="normal" fill="#333" text-anchor="middle" stroke="#333" stroke-width="0.05" textLength="15.9" lengthAdjust="spacingAndGlyphs">100</text>
<text x="335.88" y="410.7" font-family='"Liberation Sans", sans-serif' font-size="9.5" font-weight="normal" fill="#333" text-anchor="middle" stroke="#333" stroke-width="0.05" textLength="15.9" lengthAdjust="spacingAndGlyphs">150</text>
<text x="372" y="410.7" font-family='"Liberation Sans", sans-serif' font-size="9.5" font-weight="normal" fill="#333" text-anchor="middle" stroke="#333" stroke-width="0.05" textLength="15.9" lengthAdjust="spacingAndGlyphs">200</text>
<text x="284.6" y="422.2" font-family='"Liberation Sans", sans-serif' font-size="10" font-weight="normal" fill="#333" text-anchor="start"  textLength="38.2" lengthAdjust="spacingAndGlyphs" stroke="#333" stroke-width="0.3">Time (h)</text>
<text transform="translate(202.8,349.95) rotate(-90)" font-family='"Liberation Sans", sans-serif' font-size="10" fill="#444" stroke="#444" stroke-width="0.3" text-anchor="middle" textLength="58.1" lengthAdjust="spacingAndGlyphs">Voltage (mV)</text>
<text x="237" y="311.8" font-family='"Liberation Sans", sans-serif' font-size="8" font-weight="normal" fill="#333" text-anchor="start" stroke="#333" stroke-width="0.05" textLength="32.3" lengthAdjust="spacingAndGlyphs">1 mA/cm<tspan font-size="5" dy="-3">2</tspan></text>
<text x="237" y="322.3" font-family='"Liberation Sans", sans-serif' font-size="8" font-weight="normal" fill="#333" text-anchor="start" stroke="#333" stroke-width="0.05" textLength="36.4" lengthAdjust="spacingAndGlyphs">1 mAh/cm<tspan font-size="5" dy="-3">2</tspan></text>
<line x1="235.8" y1="380.7" x2="254.7" y2="380.7" stroke="#c8c8c8" stroke-width="0.9"/>
<text x="256.9" y="384.4" font-family='"Liberation Sans", sans-serif' font-size="8.2" font-weight="normal" fill="#333" text-anchor="start"  textLength="8.7" lengthAdjust="spacingAndGlyphs" stroke="#333" stroke-width="0.3">PP</text>
<line x1="235.8" y1="390.6" x2="254.7" y2="390.6" stroke="#8a6a66" stroke-width="1.6"/>
<text x="256.9" y="393.8" font-family='"Liberation Sans", sans-serif' font-size="8.2" font-weight="normal" fill="#333" text-anchor="start"  textLength="45.8" lengthAdjust="spacingAndGlyphs" stroke="#333" stroke-width="0.3">SnO<tspan stroke-width="0.12" font-size="5.2" dy="1.8">2</tspan><tspan dy="-1.8">@MX-PP</tspan></text>
<text x="387.6" y="303.3" font-family='"Liberation Sans", sans-serif' font-size="14.5" font-weight="bold" fill="#000" text-anchor="start" >g</text>
<rect x="478" y="297.5" width="58" height="14" fill="#fbecee"/>
<rect x="473" y="306" width="19" height="44" fill="#fdf5f7"/><rect x="438" y="356" width="16" height="34" fill="#fdf5f7"/>
<path d="M405.93 352.75 L406.4 352.74 L406.87 352.73 L407.34 352.72 L407.81 352.71 L408.28 352.7 L408.75 352.69 L409.23 352.68 L409.7 352.67 L410.17 352.65 L410.64 352.64 L411.11 352.63 L411.58 352.62 L412.05 352.61 L412.52 352.6 L412.99 352.59 L413.46 352.58 L413.93 352.57 L414.4 352.56 L414.88 352.55 L415.35 352.54 L415.82 352.53 L416.29 352.52 L416.76 352.51 L417.23 352.5 L417.7 352.49 L418.17 352.48 L418.64 352.46 L419.11 352.45 L419.58 352.44 L420.05 352.43 L420.52 352.42 L421 352.41 L421.47 352.4 L421.94 352.39 L422.41 352.38 L422.88 352.37 L423.35 352.36 L423.82 352.35 L424.29 352.34 L424.76 352.33 L425.23 352.32 L425.7 352.31 L426.17 352.3 L426.65 352.29 L427.12 352.27 L427.59 352.26 L428.06 352.25 L428.53 352.24 L429 352.23 L429.47 352.22 L429.94 352.21 L430.41 352.2 L430.88 352.19 L431.35 352.18 L431.82 352.17 L432.29 352.16 L432.77 352.15 L433.24 352.14 L433.71 352.13 L434.18 352.12 L434.65 352.11 L435.12 352.1 L435.59 352.08 L436.06 352.07 L436.53 352.06 L437 352.05 L437.47 352.04 L437.94 352.03 L438.42 352.02 L438.89 352.01 L439.36 352 L439.83 351.99 L440.3 351.98 L440.77 351.97 L441.24 351.96 L441.71 351.95 L442.18 351.94 L442.65 351.93 L443.12 351.92 L443.59 351.91 L444.06 351.89 L444.54 351.88 L445.01 351.87 L445.48 351.86 L445.95 351.85 L446.42 351.84 L446.89 351.83 L447.36 351.82 L447.83 351.81 L448.3 351.8 L448.77 351.79 L449.24 351.78 L449.71 351.77 L450.19 351.76 L450.66 351.75 L451.13 351.74 L451.6 351.73 L452.07 351.72 L452.54 351.7 L453.01 351.69 L453.48 351.68 L453.95 351.67 L454.42 351.66 L454.89 351.65 L455.36 351.64 L455.83 351.63 L456.31 351.62 L456.78 351.61 L457.25 351.6 L457.72 351.59 L458.19 351.58 L458.66 351.57 L459.13 351.56 L459.6 351.55 L460.07 351.54 L460.54 351.52 L461.01 351.51 L461.48 351.5 L461.96 351.49 L462.43 351.48 L462.9 351.47 L463.37 351.46 L463.84 351.45 L464.31 351.43 L464.78 351.42 L465.25 351.42 L465.72 351.41 L466.19 351.4 L466.66 351.39 L467.13 351.38 L467.6 351.36 L468.08 351.34 L468.55 351.32 L469.02 351.28 L469.49 351.24 L469.96 351.19 L470.43 351.12 L470.9 351.05 L471.37 350.96 L471.84 350.85 L472.31 350.73 L472.78 350.58 L473.25 350.42 L473.73 350.23 L474.2 350.02 L474.67 349.79 L475.14 349.54 L475.61 349.27 L476.08 348.98 L476.55 348.68 L477.02 348.35 L477.49 347.79 L477.96 346.14 L478.43 342.04 L478.9 335.33 L479.37 327.52 L479.85 320.42 L480.32 315.11 L480.79 311.97 L481.26 310.93 L481.73 311.52 L482.2 312.9 L482.67 314.31 L483.14 315.27 L483.61 315.66 L484.08 315.44 L484.55 314.61 L485.02 313.28 L485.5 311.96 L485.97 311.46 L486.44 312.65 L486.91 316.01 L487.38 321.56 L487.85 328.85 L488.32 336.79 L488.79 343.56 L489.26 347.65 L489.73 349.27 L490.2 349.77 L490.67 350.02 L491.14 350.23 L491.62 350.42 L492.09 350.58 L492.56 350.73 L493.03 350.85 L493.5 350.96 L493.97 351.05 L494.44 351.12 L494.91 351.19 L495.38 351.24 L495.85 351.28 L496.32 351.32 L496.79 351.34 L497.27 351.36 L497.74 351.38 L498.21 351.39 L498.68 351.4 L499.15 351.41 L499.62 351.42 L500.09 351.42 L500.56 351.42 L501.03 351.42 L501.5 351.43 L501.97 351.43 L502.44 351.43 L502.91 351.43 L503.39 351.43 L503.86 351.43 L504.33 351.43 L504.8 351.43 L505.27 351.43 L505.74 351.43 L506.21 351.43 L506.68 351.43 L507.15 351.43 L507.62 351.43 L508.09 351.43 L508.56 351.43 L509.04 351.43 L509.51 351.43 L509.98 351.43 L510.45 351.43 L510.92 351.43 L511.39 351.43 L511.86 351.43 L512.33 351.43 L512.8 351.43 L513.27 351.43 L513.74 351.43 L514.21 351.43 L514.68 351.43 L515.16 351.43 L515.63 351.43 L516.1 351.43 L516.57 351.43 L517.04 351.43 L517.51 351.43 L517.98 351.43 L518.45 351.43 L518.92 351.43 L519.39 351.43 L519.86 351.43 L520.33 351.43 L520.81 351.43 L521.28 351.43 L521.75 351.43 L522.22 351.43 L522.69 351.43 L523.16 351.43 L523.63 351.43 L524.1 351.43 L524.57 351.43 L525.04 351.43 L525.51 351.43 L525.98 351.43 L526.45 351.43 L526.93 351.43 L527.4 351.43 L527.87 351.43 L528.34 351.43 L528.81 351.43 L529.28 351.43 L529.75 351.43 L530.22 351.43 L530.69 351.43 L531.16 351.43 L531.63 351.43 L532.1 351.43 L532.58 351.43 L533.05 351.43 L533.52 351.43 L533.99 351.43 L534.46 351.43 L534.93 351.43 L535.4 351.43" fill="none" stroke="#b07840" stroke-width="1.1"/>
<path d="M405.93 354.95 L406.4 354.94 L406.87 354.92 L407.34 354.91 L407.81 354.89 L408.28 354.88 L408.75 354.87 L409.23 354.85 L409.7 354.84 L410.17 354.83 L410.64 354.81 L411.11 354.8 L411.58 354.78 L412.05 354.77 L412.52 354.76 L412.99 354.74 L413.46 354.73 L413.93 354.72 L414.4 354.7 L414.88 354.69 L415.35 354.68 L415.82 354.66 L416.29 354.65 L416.76 354.63 L417.23 354.62 L417.7 354.61 L418.17 354.59 L418.64 354.58 L419.11 354.57 L419.58 354.55 L420.05 354.54 L420.52 354.52 L421 354.51 L421.47 354.5 L421.94 354.48 L422.41 354.47 L422.88 354.46 L423.35 354.44 L423.82 354.43 L424.29 354.41 L424.76 354.4 L425.23 354.39 L425.7 354.37 L426.17 354.36 L426.65 354.35 L427.12 354.33 L427.59 354.32 L428.06 354.3 L428.53 354.29 L429 354.28 L429.47 354.26 L429.94 354.25 L430.41 354.24 L430.88 354.22 L431.35 354.21 L431.82 354.19 L432.29 354.18 L432.77 354.17 L433.24 354.16 L433.71 354.15 L434.18 354.14 L434.65 354.14 L435.12 354.15 L435.59 354.16 L436.06 354.19 L436.53 354.24 L437 354.33 L437.47 354.46 L437.94 354.65 L438.42 354.91 L438.89 355.28 L439.36 355.77 L439.83 356.42 L440.3 357.25 L440.77 358.29 L441.24 359.56 L441.71 361.08 L442.18 362.85 L442.65 364.87 L443.12 367.1 L443.59 369.5 L444.06 372.02 L444.54 374.56 L445.01 377.04 L445.48 379.34 L445.95 381.38 L446.42 383.04 L446.89 384.24 L447.36 384.93 L447.83 385.05 L448.3 384.31 L448.77 382.66 L449.24 380.27 L449.71 377.31 L450.19 374.04 L450.66 370.67 L451.13 367.42 L451.6 364.44 L452.07 361.84 L452.54 359.66 L453.01 357.91 L453.48 356.57 L453.95 355.57 L454.42 354.85 L454.89 354.35 L455.36 354.01 L455.83 353.79 L456.31 353.65 L456.78 353.56 L457.25 353.5 L457.72 353.46 L458.19 353.44 L458.66 353.42 L459.13 353.4 L459.6 353.38 L460.07 353.37 L460.54 353.36 L461.01 353.34 L461.48 353.33 L461.96 353.31 L462.43 353.3 L462.9 353.29 L463.37 353.27 L463.84 353.26 L464.31 353.25 L464.78 353.23 L465.25 353.22 L465.72 353.21 L466.19 353.2 L466.66 353.19 L467.13 353.2 L467.6 353.21 L468.08 353.24 L468.55 353.3 L469.02 353.41 L469.49 353.57 L469.96 353.81 L470.43 354.15 L470.9 354.6 L471.37 355.17 L471.84 355.86 L472.31 356.64 L472.78 357.49 L473.25 358.36 L473.73 359.16 L474.2 359.85 L474.67 360.34 L475.14 360.59 L475.61 360.58 L476.08 360.3 L476.55 359.78 L477.02 359.07 L477.49 358.23 L477.96 357.34 L478.43 356.47 L478.9 355.65 L479.37 354.94 L479.85 354.34 L480.32 353.86 L480.79 353.5 L481.26 353.23 L481.73 353.04 L482.2 352.91 L482.67 352.82 L483.14 352.76 L483.61 352.71 L484.08 352.69 L484.55 352.66 L485.02 352.64 L485.5 352.63 L485.97 352.61 L486.44 352.6 L486.91 352.59 L487.38 352.57 L487.85 352.56 L488.32 352.54 L488.79 352.53 L489.26 352.52 L489.73 352.5 L490.2 352.49 L490.67 352.48 L491.14 352.46 L491.62 352.45 L492.09 352.43 L492.56 352.42 L493.03 352.41 L493.5 352.39 L493.97 352.38 L494.44 352.37 L494.91 352.35 L495.38 352.34 L495.85 352.32 L496.32 352.31 L496.79 352.3 L497.27 352.28 L497.74 352.27 L498.21 352.25 L498.68 352.24 L499.15 352.23 L499.62 352.21 L500.09 352.2 L500.56 352.2 L501.03 352.2 L501.5 352.2 L501.97 352.2 L502.44 352.2 L502.91 352.2 L503.39 352.2 L503.86 352.2 L504.33 352.2 L504.8 352.2 L505.27 352.2 L505.74 352.2 L506.21 352.2 L506.68 352.2 L507.15 352.2 L507.62 352.2 L508.09 352.2 L508.56 352.2 L509.04 352.2 L509.51 352.2 L509.98 352.2 L510.45 352.2 L510.92 352.2 L511.39 352.2 L511.86 352.2 L512.33 352.2 L512.8 352.2 L513.27 352.2 L513.74 352.2 L514.21 352.2 L514.68 352.2 L515.16 352.2 L515.63 352.2 L516.1 352.2 L516.57 352.2 L517.04 352.2 L517.51 352.2 L517.98 352.2 L518.45 352.2 L518.92 352.2 L519.39 352.2 L519.86 352.2 L520.33 352.2 L520.81 352.2 L521.28 352.2 L521.75 352.2 L522.22 352.2 L522.69 352.2 L523.16 352.2 L523.63 352.2 L524.1 352.2 L524.57 352.2 L525.04 352.2 L525.51 352.2 L525.98 352.2 L526.45 352.2 L526.93 352.2 L527.4 352.2 L527.87 352.2 L528.34 352.2 L528.81 352.2 L529.28 352.2 L529.75 352.2 L530.22 352.2 L530.69 352.2 L531.16 352.2 L531.63 352.2 L532.1 352.2 L532.58 352.2 L533.05 352.2 L533.52 352.2 L533.99 352.2 L534.46 352.2 L534.93 352.2 L535.4 352.2" fill="none" stroke="#b07840" stroke-width="1.1"/>
<path d="M405.93 352.75 L406.4 352.74 L406.87 352.73 L407.34 352.72 L407.81 352.71 L408.28 352.7 L408.75 352.69 L409.23 352.68 L409.7 352.67 L410.17 352.65 L410.64 352.64 L411.11 352.63 L411.58 352.62 L412.05 352.61 L412.52 352.6 L412.99 352.59 L413.46 352.58 L413.93 352.57 L414.4 352.56 L414.88 352.55 L415.35 352.54 L415.82 352.53 L416.29 352.52 L416.76 352.51 L417.23 352.5 L417.7 352.49 L418.17 352.48 L418.64 352.46 L419.11 352.45 L419.58 352.44 L420.05 352.43 L420.52 352.42 L421 352.41 L421.47 352.4 L421.94 352.39 L422.41 352.38 L422.88 352.37 L423.35 352.36 L423.82 352.35 L424.29 352.34 L424.76 352.33 L425.23 352.32 L425.7 352.31 L426.17 352.3 L426.65 352.29 L427.12 352.27 L427.59 352.26 L428.06 352.25 L428.53 352.24 L429 352.23 L429.47 352.22 L429.94 352.21 L430.41 352.2 L430.88 352.19 L431.35 352.18 L431.82 352.17 L432.29 352.16 L432.77 352.15 L433.24 352.14 L433.71 352.13 L434.18 352.12 L434.65 352.11 L435.12 352.1 L435.59 352.08 L436.06 352.07 L436.53 352.06 L437 352.05 L437.47 352.04 L437.94 352.03 L438.42 352.02 L438.89 352.01 L439.36 352 L439.83 351.99 L440.3 351.98 L440.77 351.97 L441.24 351.96 L441.71 351.95 L442.18 351.94 L442.65 351.93 L443.12 351.92 L443.59 351.91 L444.06 351.89 L444.54 351.88 L445.01 351.87 L445.48 351.86 L445.95 351.85 L446.42 351.84 L446.89 351.83 L447.36 351.82 L447.83 351.81 L448.3 351.8 L448.77 351.79 L449.24 351.78 L449.71 351.77 L450.19 351.76 L450.66 351.75 L451.13 351.74 L451.6 351.73 L452.07 351.72 L452.54 351.7 L453.01 351.69 L453.48 351.68 L453.95 351.67 L454.42 351.66 L454.89 351.65 L455.36 351.64 L455.83 351.63 L456.31 351.62 L456.78 351.61 L457.25 351.6 L457.72 351.59 L458.19 351.58 L458.66 351.57 L459.13 351.56 L459.6 351.55 L460.07 351.54 L460.54 351.52 L461.01 351.51 L461.48 351.5 L461.96 351.49 L462.43 351.48 L462.9 351.47 L463.37 351.46 L463.84 351.45 L464.31 351.43 L464.78 351.42 L465.25 351.42 L465.72 351.41 L466.19 351.41 L466.66 351.4 L467.13 351.39 L467.6 351.38 L468.08 351.36 L468.55 351.34 L469.02 351.31 L469.49 351.28 L469.96 351.24 L470.43 351.19 L470.9 351.12 L471.37 351.05 L471.84 350.97 L472.31 350.87 L472.78 350.75 L473.25 350.62 L473.73 350.47 L474.2 350.3 L474.67 350.12 L475.14 349.92 L475.61 349.7 L476.08 349.47 L476.55 349.23 L477.02 348.97 L477.49 348.52 L477.96 347.2 L478.43 343.92 L478.9 338.55 L479.37 332.3 L479.85 326.62 L480.32 322.37 L480.79 319.86 L481.26 319.03 L481.73 319.5 L482.2 320.61 L482.67 321.73 L483.14 322.51 L483.61 322.81 L484.08 322.64 L484.55 321.97 L485.02 320.91 L485.5 319.85 L485.97 319.46 L486.44 320.41 L486.91 323.09 L487.38 327.53 L487.85 333.36 L488.32 339.72 L488.79 345.13 L489.26 348.41 L489.73 349.7 L490.2 350.1 L490.67 350.3 L491.14 350.47 L491.62 350.62 L492.09 350.75 L492.56 350.87 L493.03 350.97 L493.5 351.05 L493.97 351.12 L494.44 351.19 L494.91 351.24 L495.38 351.28 L495.85 351.31 L496.32 351.34 L496.79 351.36 L497.27 351.38 L497.74 351.39 L498.21 351.4 L498.68 351.41 L499.15 351.41 L499.62 351.42 L500.09 351.42 L500.56 351.42 L501.03 351.43 L501.5 351.43 L501.97 351.43 L502.44 351.43 L502.91 351.43 L503.39 351.43 L503.86 351.43 L504.33 351.43 L504.8 351.43 L505.27 351.43 L505.74 351.43 L506.21 351.43 L506.68 351.43 L507.15 351.43 L507.62 351.43 L508.09 351.43 L508.56 351.43 L509.04 351.43 L509.51 351.43 L509.98 351.43 L510.45 351.43 L510.92 351.43 L511.39 351.43 L511.86 351.43 L512.33 351.43 L512.8 351.43 L513.27 351.43 L513.74 351.43 L514.21 351.43 L514.68 351.43 L515.16 351.43 L515.63 351.43 L516.1 351.43 L516.57 351.43 L517.04 351.43 L517.51 351.43 L517.98 351.43 L518.45 351.43 L518.92 351.43 L519.39 351.43 L519.86 351.43 L520.33 351.43 L520.81 351.43 L521.28 351.43 L521.75 351.43 L522.22 351.43 L522.69 351.43 L523.16 351.43 L523.63 351.43 L524.1 351.43 L524.57 351.43 L525.04 351.43 L525.51 351.43 L525.98 351.43 L526.45 351.43 L526.93 351.43 L527.4 351.43 L527.87 351.43 L528.34 351.43 L528.81 351.43 L529.28 351.43 L529.75 351.43 L530.22 351.43 L530.69 351.43 L531.16 351.43 L531.63 351.43 L532.1 351.43 L532.58 351.43 L533.05 351.43 L533.52 351.43 L533.99 351.43 L534.46 351.43 L534.93 351.43 L535.4 351.43" fill="none" stroke="#4a3ec8" stroke-width="1.3"/>
<path d="M405.93 354.95 L406.4 354.94 L406.87 354.92 L407.34 354.91 L407.81 354.89 L408.28 354.88 L408.75 354.87 L409.23 354.85 L409.7 354.84 L410.17 354.83 L410.64 354.81 L411.11 354.8 L411.58 354.78 L412.05 354.77 L412.52 354.76 L412.99 354.74 L413.46 354.73 L413.93 354.72 L414.4 354.7 L414.88 354.69 L415.35 354.68 L415.82 354.66 L416.29 354.65 L416.76 354.63 L417.23 354.62 L417.7 354.61 L418.17 354.59 L418.64 354.58 L419.11 354.57 L419.58 354.55 L420.05 354.54 L420.52 354.52 L421 354.51 L421.47 354.5 L421.94 354.48 L422.41 354.47 L422.88 354.46 L423.35 354.44 L423.82 354.43 L424.29 354.41 L424.76 354.4 L425.23 354.39 L425.7 354.37 L426.17 354.36 L426.65 354.35 L427.12 354.33 L427.59 354.32 L428.06 354.3 L428.53 354.29 L429 354.28 L429.47 354.26 L429.94 354.25 L430.41 354.24 L430.88 354.22 L431.35 354.21 L431.82 354.19 L432.29 354.18 L432.77 354.17 L433.24 354.16 L433.71 354.15 L434.18 354.14 L434.65 354.13 L435.12 354.14 L435.59 354.15 L436.06 354.17 L436.53 354.21 L437 354.27 L437.47 354.37 L437.94 354.52 L438.42 354.73 L438.89 355.02 L439.36 355.41 L439.83 355.93 L440.3 356.59 L440.77 357.42 L441.24 358.43 L441.71 359.65 L442.18 361.06 L442.65 362.67 L443.12 364.45 L443.59 366.37 L444.06 368.38 L444.54 370.41 L445.01 372.39 L445.48 374.23 L445.95 375.86 L446.42 377.18 L446.89 378.15 L447.36 378.69 L447.83 378.78 L448.3 378.19 L448.77 376.87 L449.24 374.95 L449.71 372.58 L450.19 369.96 L450.66 367.27 L451.13 364.66 L451.6 362.28 L452.07 360.19 L452.54 358.45 L453.01 357.05 L453.48 355.97 L453.95 355.16 L454.42 354.58 L454.89 354.18 L455.36 353.91 L455.83 353.73 L456.31 353.62 L456.78 353.54 L457.25 353.49 L457.72 353.46 L458.19 353.43 L458.66 353.42 L459.13 353.4 L459.6 353.38 L460.07 353.37 L460.54 353.36 L461.01 353.34 L461.48 353.33 L461.96 353.31 L462.43 353.3 L462.9 353.29 L463.37 353.27 L463.84 353.26 L464.31 353.25 L464.78 353.23 L465.25 353.22 L465.72 353.21 L466.19 353.2 L466.66 353.19 L467.13 353.19 L467.6 353.2 L468.08 353.22 L468.55 353.27 L469.02 353.35 L469.49 353.48 L469.96 353.67 L470.43 353.93 L470.9 354.29 L471.37 354.74 L471.84 355.29 L472.31 355.92 L472.78 356.6 L473.25 357.28 L473.73 357.92 L474.2 358.47 L474.67 358.86 L475.14 359.06 L475.61 359.05 L476.08 358.82 L476.55 358.4 L477.02 357.83 L477.49 357.16 L477.96 356.44 L478.43 355.74 L478.9 355.08 L479.37 354.51 L479.85 354.03 L480.32 353.65 L480.79 353.35 L481.26 353.13 L481.73 352.98 L482.2 352.87 L482.67 352.79 L483.14 352.74 L483.61 352.71 L484.08 352.68 L484.55 352.66 L485.02 352.64 L485.5 352.63 L485.97 352.61 L486.44 352.6 L486.91 352.59 L487.38 352.57 L487.85 352.56 L488.32 352.54 L488.79 352.53 L489.26 352.52 L489.73 352.5 L490.2 352.49 L490.67 352.48 L491.14 352.46 L491.62 352.45 L492.09 352.43 L492.56 352.42 L493.03 352.41 L493.5 352.39 L493.97 352.38 L494.44 352.37 L494.91 352.35 L495.38 352.34 L495.85 352.32 L496.32 352.31 L496.79 352.3 L497.27 352.28 L497.74 352.27 L498.21 352.25 L498.68 352.24 L499.15 352.23 L499.62 352.21 L500.09 352.2 L500.56 352.2 L501.03 352.2 L501.5 352.2 L501.97 352.2 L502.44 352.2 L502.91 352.2 L503.39 352.2 L503.86 352.2 L504.33 352.2 L504.8 352.2 L505.27 352.2 L505.74 352.2 L506.21 352.2 L506.68 352.2 L507.15 352.2 L507.62 352.2 L508.09 352.2 L508.56 352.2 L509.04 352.2 L509.51 352.2 L509.98 352.2 L510.45 352.2 L510.92 352.2 L511.39 352.2 L511.86 352.2 L512.33 352.2 L512.8 352.2 L513.27 352.2 L513.74 352.2 L514.21 352.2 L514.68 352.2 L515.16 352.2 L515.63 352.2 L516.1 352.2 L516.57 352.2 L517.04 352.2 L517.51 352.2 L517.98 352.2 L518.45 352.2 L518.92 352.2 L519.39 352.2 L519.86 352.2 L520.33 352.2 L520.81 352.2 L521.28 352.2 L521.75 352.2 L522.22 352.2 L522.69 352.2 L523.16 352.2 L523.63 352.2 L524.1 352.2 L524.57 352.2 L525.04 352.2 L525.51 352.2 L525.98 352.2 L526.45 352.2 L526.93 352.2 L527.4 352.2 L527.87 352.2 L528.34 352.2 L528.81 352.2 L529.28 352.2 L529.75 352.2 L530.22 352.2 L530.69 352.2 L531.16 352.2 L531.63 352.2 L532.1 352.2 L532.58 352.2 L533.05 352.2 L533.52 352.2 L533.99 352.2 L534.46 352.2 L534.93 352.2 L535.4 352.2" fill="none" stroke="#4a3ec8" stroke-width="1.3"/>
<path d="M405.93 352.75 L406.4 352.74 L406.87 352.73 L407.34 352.72 L407.81 352.71 L408.28 352.7 L408.75 352.69 L409.23 352.68 L409.7 352.67 L410.17 352.65 L410.64 352.64 L411.11 352.63 L411.58 352.62 L412.05 352.61 L412.52 352.6 L412.99 352.59 L413.46 352.58 L413.93 352.57 L414.4 352.56 L414.88 352.55 L415.35 352.54 L415.82 352.53 L416.29 352.52 L416.76 352.51 L417.23 352.5 L417.7 352.49 L418.17 352.48 L418.64 352.46 L419.11 352.45 L419.58 352.44 L420.05 352.43 L420.52 352.42 L421 352.41 L421.47 352.4 L421.94 352.39 L422.41 352.38 L422.88 352.37 L423.35 352.36 L423.82 352.35 L424.29 352.34 L424.76 352.33 L425.23 352.32 L425.7 352.31 L426.17 352.3 L426.65 352.29 L427.12 352.27 L427.59 352.26 L428.06 352.25 L428.53 352.24 L429 352.23 L429.47 352.22 L429.94 352.21 L430.41 352.2 L430.88 352.19 L431.35 352.18 L431.82 352.17 L432.29 352.16 L432.77 352.15 L433.24 352.14 L433.71 352.13 L434.18 352.12 L434.65 352.11 L435.12 352.1 L435.59 352.08 L436.06 352.07 L436.53 352.06 L437 352.05 L437.47 352.04 L437.94 352.03 L438.42 352.02 L438.89 352.01 L439.36 352 L439.83 351.99 L440.3 351.98 L440.77 351.97 L441.24 351.96 L441.71 351.95 L442.18 351.94 L442.65 351.93 L443.12 351.92 L443.59 351.91 L444.06 351.89 L444.54 351.88 L445.01 351.87 L445.48 351.86 L445.95 351.85 L446.42 351.84 L446.89 351.83 L447.36 351.82 L447.83 351.81 L448.3 351.8 L448.77 351.79 L449.24 351.78 L449.71 351.77 L450.19 351.76 L450.66 351.75 L451.13 351.74 L451.6 351.73 L452.07 351.72 L452.54 351.7 L453.01 351.69 L453.48 351.68 L453.95 351.67 L454.42 351.66 L454.89 351.65 L455.36 351.64 L455.83 351.63 L456.31 351.62 L456.78 351.61 L457.25 351.6 L457.72 351.59 L458.19 351.58 L458.66 351.57 L459.13 351.56 L459.6 351.55 L460.07 351.54 L460.54 351.52 L461.01 351.51 L461.48 351.5 L461.96 351.49 L462.43 351.48 L462.9 351.47 L463.37 351.46 L463.84 351.45 L464.31 351.44 L464.78 351.42 L465.25 351.42 L465.72 351.42 L466.19 351.41 L466.66 351.4 L467.13 351.39 L467.6 351.38 L468.08 351.37 L468.55 351.35 L469.02 351.33 L469.49 351.3 L469.96 351.26 L470.43 351.22 L470.9 351.16 L471.37 351.1 L471.84 351.02 L472.31 350.94 L472.78 350.84 L473.25 350.72 L473.73 350.59 L474.2 350.44 L474.67 350.28 L475.14 350.11 L475.61 349.92 L476.08 349.72 L476.55 349.51 L477.02 349.28 L477.49 348.88 L477.96 347.72 L478.43 344.86 L478.9 340.16 L479.37 334.69 L479.85 329.72 L480.32 326.01 L480.79 323.81 L481.26 323.08 L481.73 323.49 L482.2 324.46 L482.67 325.45 L483.14 326.12 L483.61 326.39 L484.08 326.24 L484.55 325.65 L485.02 324.73 L485.5 323.8 L485.97 323.45 L486.44 324.28 L486.91 326.64 L487.38 330.52 L487.85 335.62 L488.32 341.18 L488.79 345.92 L489.26 348.78 L489.73 349.92 L490.2 350.27 L490.67 350.44 L491.14 350.59 L491.62 350.72 L492.09 350.84 L492.56 350.94 L493.03 351.02 L493.5 351.1 L493.97 351.16 L494.44 351.22 L494.91 351.26 L495.38 351.3 L495.85 351.33 L496.32 351.35 L496.79 351.37 L497.27 351.38 L497.74 351.39 L498.21 351.4 L498.68 351.41 L499.15 351.42 L499.62 351.42 L500.09 351.42 L500.56 351.42 L501.03 351.43 L501.5 351.43 L501.97 351.43 L502.44 351.43 L502.91 351.43 L503.39 351.43 L503.86 351.43 L504.33 351.43 L504.8 351.43 L505.27 351.43 L505.74 351.43 L506.21 351.43 L506.68 351.43 L507.15 351.43 L507.62 351.43 L508.09 351.43 L508.56 351.43 L509.04 351.43 L509.51 351.43 L509.98 351.43 L510.45 351.43 L510.92 351.43 L511.39 351.43 L511.86 351.43 L512.33 351.43 L512.8 351.43 L513.27 351.43 L513.74 351.43 L514.21 351.43 L514.68 351.43 L515.16 351.43 L515.63 351.43 L516.1 351.43 L516.57 351.43 L517.04 351.43 L517.51 351.43 L517.98 351.43 L518.45 351.43 L518.92 351.43 L519.39 351.43 L519.86 351.43 L520.33 351.43 L520.81 351.43 L521.28 351.43 L521.75 351.43 L522.22 351.43 L522.69 351.43 L523.16 351.43 L523.63 351.43 L524.1 351.43 L524.57 351.43 L525.04 351.43 L525.51 351.43 L525.98 351.43 L526.45 351.43 L526.93 351.43 L527.4 351.43 L527.87 351.43 L528.34 351.43 L528.81 351.43 L529.28 351.43 L529.75 351.43 L530.22 351.43 L530.69 351.43 L531.16 351.43 L531.63 351.43 L532.1 351.43 L532.58 351.43 L533.05 351.43 L533.52 351.43 L533.99 351.43 L534.46 351.43 L534.93 351.43 L535.4 351.43" fill="none" stroke="#2a2a4a" stroke-width="1.1"/>
<path d="M405.93 354.95 L406.4 354.94 L406.87 354.92 L407.34 354.91 L407.81 354.89 L408.28 354.88 L408.75 354.87 L409.23 354.85 L409.7 354.84 L410.17 354.83 L410.64 354.81 L411.11 354.8 L411.58 354.78 L412.05 354.77 L412.52 354.76 L412.99 354.74 L413.46 354.73 L413.93 354.72 L414.4 354.7 L414.88 354.69 L415.35 354.68 L415.82 354.66 L416.29 354.65 L416.76 354.63 L417.23 354.62 L417.7 354.61 L418.17 354.59 L418.64 354.58 L419.11 354.57 L419.58 354.55 L420.05 354.54 L420.52 354.52 L421 354.51 L421.47 354.5 L421.94 354.48 L422.41 354.47 L422.88 354.46 L423.35 354.44 L423.82 354.43 L424.29 354.41 L424.76 354.4 L425.23 354.39 L425.7 354.37 L426.17 354.36 L426.65 354.35 L427.12 354.33 L427.59 354.32 L428.06 354.3 L428.53 354.29 L429 354.28 L429.47 354.26 L429.94 354.25 L430.41 354.24 L430.88 354.22 L431.35 354.21 L431.82 354.19 L432.29 354.18 L432.77 354.17 L433.24 354.16 L433.71 354.15 L434.18 354.14 L434.65 354.13 L435.12 354.13 L435.59 354.14 L436.06 354.15 L436.53 354.19 L437 354.24 L437.47 354.33 L437.94 354.46 L438.42 354.64 L438.89 354.89 L439.36 355.23 L439.83 355.68 L440.3 356.26 L440.77 356.98 L441.24 357.87 L441.71 358.93 L442.18 360.16 L442.65 361.57 L443.12 363.13 L443.59 364.81 L444.06 366.56 L444.54 368.34 L445.01 370.07 L445.48 371.68 L445.95 373.1 L446.42 374.26 L446.89 375.1 L447.36 375.57 L447.83 375.65 L448.3 375.13 L448.77 373.97 L449.24 372.29 L449.71 370.22 L450.19 367.92 L450.66 365.56 L451.13 363.28 L451.6 361.19 L452.07 359.37 L452.54 357.84 L453.01 356.61 L453.48 355.67 L453.95 354.96 L454.42 354.45 L454.89 354.1 L455.36 353.86 L455.83 353.7 L456.31 353.6 L456.78 353.53 L457.25 353.49 L457.72 353.46 L458.19 353.43 L458.66 353.41 L459.13 353.4 L459.6 353.38 L460.07 353.37 L460.54 353.36 L461.01 353.34 L461.48 353.33 L461.96 353.31 L462.43 353.3 L462.9 353.29 L463.37 353.27 L463.84 353.26 L464.31 353.25 L464.78 353.23 L465.25 353.22 L465.72 353.21 L466.19 353.2 L466.66 353.19 L467.13 353.19 L467.6 353.19 L468.08 353.21 L468.55 353.25 L469.02 353.32 L469.49 353.43 L469.96 353.59 L470.43 353.83 L470.9 354.14 L471.37 354.53 L471.84 355.01 L472.31 355.55 L472.78 356.15 L473.25 356.74 L473.73 357.31 L474.2 357.78 L474.67 358.12 L475.14 358.29 L475.61 358.28 L476.08 358.08 L476.55 357.71 L477.02 357.21 L477.49 356.62 L477.96 355.99 L478.43 355.38 L478.9 354.8 L479.37 354.3 L479.85 353.87 L480.32 353.54 L480.79 353.28 L481.26 353.09 L481.73 352.95 L482.2 352.85 L482.67 352.78 L483.14 352.74 L483.61 352.7 L484.08 352.68 L484.55 352.66 L485.02 352.64 L485.5 352.63 L485.97 352.61 L486.44 352.6 L486.91 352.59 L487.38 352.57 L487.85 352.56 L488.32 352.54 L488.79 352.53 L489.26 352.52 L489.73 352.5 L490.2 352.49 L490.67 352.48 L491.14 352.46 L491.62 352.45 L492.09 352.43 L492.56 352.42 L493.03 352.41 L493.5 352.39 L493.97 352.38 L494.44 352.37 L494.91 352.35 L495.38 352.34 L495.85 352.32 L496.32 352.31 L496.79 352.3 L497.27 352.28 L497.74 352.27 L498.21 352.25 L498.68 352.24 L499.15 352.23 L499.62 352.21 L500.09 352.2 L500.56 352.2 L501.03 352.2 L501.5 352.2 L501.97 352.2 L502.44 352.2 L502.91 352.2 L503.39 352.2 L503.86 352.2 L504.33 352.2 L504.8 352.2 L505.27 352.2 L505.74 352.2 L506.21 352.2 L506.68 352.2 L507.15 352.2 L507.62 352.2 L508.09 352.2 L508.56 352.2 L509.04 352.2 L509.51 352.2 L509.98 352.2 L510.45 352.2 L510.92 352.2 L511.39 352.2 L511.86 352.2 L512.33 352.2 L512.8 352.2 L513.27 352.2 L513.74 352.2 L514.21 352.2 L514.68 352.2 L515.16 352.2 L515.63 352.2 L516.1 352.2 L516.57 352.2 L517.04 352.2 L517.51 352.2 L517.98 352.2 L518.45 352.2 L518.92 352.2 L519.39 352.2 L519.86 352.2 L520.33 352.2 L520.81 352.2 L521.28 352.2 L521.75 352.2 L522.22 352.2 L522.69 352.2 L523.16 352.2 L523.63 352.2 L524.1 352.2 L524.57 352.2 L525.04 352.2 L525.51 352.2 L525.98 352.2 L526.45 352.2 L526.93 352.2 L527.4 352.2 L527.87 352.2 L528.34 352.2 L528.81 352.2 L529.28 352.2 L529.75 352.2 L530.22 352.2 L530.69 352.2 L531.16 352.2 L531.63 352.2 L532.1 352.2 L532.58 352.2 L533.05 352.2 L533.52 352.2 L533.99 352.2 L534.46 352.2 L534.93 352.2 L535.4 352.2" fill="none" stroke="#2a2a4a" stroke-width="1.1"/>
<rect x="406.1" y="296.9" width="130.5" height="110.8" fill="none" stroke="#777" stroke-width="1"/>
<line x1="406.1" y1="319.2" x2="408.1" y2="319.2" stroke="#666" stroke-width="0.8"/>
<text x="402.8" y="321.7" font-family='"Liberation Serif", serif' font-size="7" font-weight="bold" fill="#222" text-anchor="end" >3</text>
<line x1="406.1" y1="352.2" x2="408.1" y2="352.2" stroke="#666" stroke-width="0.8"/>
<text x="402.8" y="354.7" font-family='"Liberation Serif", serif' font-size="7" font-weight="bold" fill="#222" text-anchor="end" >0</text>
<line x1="406.1" y1="385.2" x2="408.1" y2="385.2" stroke="#666" stroke-width="0.8"/>
<text x="402.8" y="387.7" font-family='"Liberation Serif", serif' font-size="7" font-weight="bold" fill="#222" text-anchor="end" >-3</text>
<line x1="417.7" y1="407.7" x2="417.7" y2="405.5" stroke="#666" stroke-width="0.8"/>
<line x1="429.47" y1="407.7" x2="429.47" y2="406.4" stroke="#666" stroke-width="0.8"/>
<line x1="441.24" y1="407.7" x2="441.24" y2="405.5" stroke="#666" stroke-width="0.8"/>
<line x1="453.01" y1="407.7" x2="453.01" y2="406.4" stroke="#666" stroke-width="0.8"/>
<line x1="464.78" y1="407.7" x2="464.78" y2="405.5" stroke="#666" stroke-width="0.8"/>
<line x1="476.55" y1="407.7" x2="476.55" y2="406.4" stroke="#666" stroke-width="0.8"/>
<line x1="488.32" y1="407.7" x2="488.32" y2="405.5" stroke="#666" stroke-width="0.8"/>
<line x1="500.09" y1="407.7" x2="500.09" y2="406.4" stroke="#666" stroke-width="0.8"/>
<line x1="511.86" y1="407.7" x2="511.86" y2="405.5" stroke="#666" stroke-width="0.8"/>
<line x1="523.63" y1="407.7" x2="523.63" y2="406.4" stroke="#666" stroke-width="0.8"/>
<line x1="535.4" y1="407.7" x2="535.4" y2="405.5" stroke="#666" stroke-width="0.8"/>
<text x="417.7" y="415.4" font-family='"Liberation Serif", serif' font-size="7" font-weight="bold" fill="#222" text-anchor="middle"  textLength="10.2" lengthAdjust="spacingAndGlyphs">1.8</text>
<text x="441.24" y="415.4" font-family='"Liberation Serif", serif' font-size="7" font-weight="bold" fill="#222" text-anchor="middle"  textLength="10.2" lengthAdjust="spacingAndGlyphs">2.0</text>
<text x="464.78" y="415.4" font-family='"Liberation Serif", serif' font-size="7" font-weight="bold" fill="#222" text-anchor="middle"  textLength="10.2" lengthAdjust="spacingAndGlyphs">2.2</text>
<text x="488.32" y="415.4" font-family='"Liberation Serif", serif' font-size="7" font-weight="bold" fill="#222" text-anchor="middle"  textLength="10.2" lengthAdjust="spacingAndGlyphs">2.4</text>
<text x="511.86" y="415.4" font-family='"Liberation Serif", serif' font-size="7" font-weight="bold" fill="#222" text-anchor="middle"  textLength="10.2" lengthAdjust="spacingAndGlyphs">2.6</text>
<text x="535.4" y="415.4" font-family='"Liberation Serif", serif' font-size="7" font-weight="bold" fill="#222" text-anchor="middle"  textLength="10.2" lengthAdjust="spacingAndGlyphs">2.8</text>
<text x="450.8" y="424.3" font-family='"Liberation Serif", serif' font-size="7.6" font-weight="bold" fill="#111" text-anchor="start"  textLength="38.2" lengthAdjust="spacingAndGlyphs">Potential (V)</text>
<text transform="translate(394.8,354.3) rotate(-90)" font-family='"Liberation Serif", serif' font-size="7.6" font-weight="bold" fill="#222" text-anchor="middle" textLength="69.7" lengthAdjust="spacingAndGlyphs">Current density (A g<tspan font-size="4.6" dy="-2.5">-1</tspan><tspan dy="2.5">)</tspan></text>
<line x1="409.4" y1="306.5" x2="425.7" y2="306.5" stroke="#c09468" stroke-width="1.4"/>
<text x="426.8" y="309.5" font-family='"Liberation Serif", serif' font-size="7.8" font-weight="bold" fill="#222" text-anchor="start"  textLength="17.2" lengthAdjust="spacingAndGlyphs">50 °C</text>
<line x1="409.4" y1="315.8" x2="425.7" y2="315.8" stroke="#6a66c4" stroke-width="1.4"/>
<text x="426.8" y="318.7" font-family='"Liberation Serif", serif' font-size="7.8" font-weight="bold" fill="#222" text-anchor="start"  textLength="17.2" lengthAdjust="spacingAndGlyphs">40 °C</text>
<line x1="409.4" y1="324.7" x2="425.7" y2="324.7" stroke="#505058" stroke-width="1.4"/>
<text x="426.8" y="327.7" font-family='"Liberation Serif", serif' font-size="7.8" font-weight="bold" fill="#222" text-anchor="start"  textLength="17.2" lengthAdjust="spacingAndGlyphs">30 °C</text>
<text x="483.1" y="304.7" font-family='"Liberation Serif", serif' font-size="7.7" font-weight="bold" fill="#a05a40" text-anchor="start"  textLength="52.4" lengthAdjust="spacingAndGlyphs">Ti<tspan font-size="5" dy="1.8">3</tspan><tspan dy="-1.8">C</tspan><tspan font-size="5" dy="1.8">2</tspan><tspan dy="-1.8">/CPNC@PP</tspan></text>
<rect x="8.3" y="4.6" width="535" height="121.5" fill="none" stroke="#4a58a6" stroke-width="1.4"/>
<rect x="6.2" y="134.3" width="175.4" height="149.5" fill="none" stroke="#4a58a6" stroke-width="1.4"/>
<rect x="187.5" y="134.2" width="193" height="151.3" fill="none" stroke="#4a58a6" stroke-width="1.4"/>
<rect x="386.1" y="133.8" width="157" height="150.6" fill="none" stroke="#4a58a6" stroke-width="1.4"/>
<rect x="4.9" y="294" width="176.6" height="132.4" fill="none" stroke="#4a58a6" stroke-width="1.4"/>
<rect x="187.4" y="292.8" width="193" height="134" fill="none" stroke="#4a58a6" stroke-width="1.4"/>
<rect x="386.1" y="292.3" width="157" height="135" fill="none" stroke="#4a58a6" stroke-width="1.4"/>
</svg>
</body></html>
